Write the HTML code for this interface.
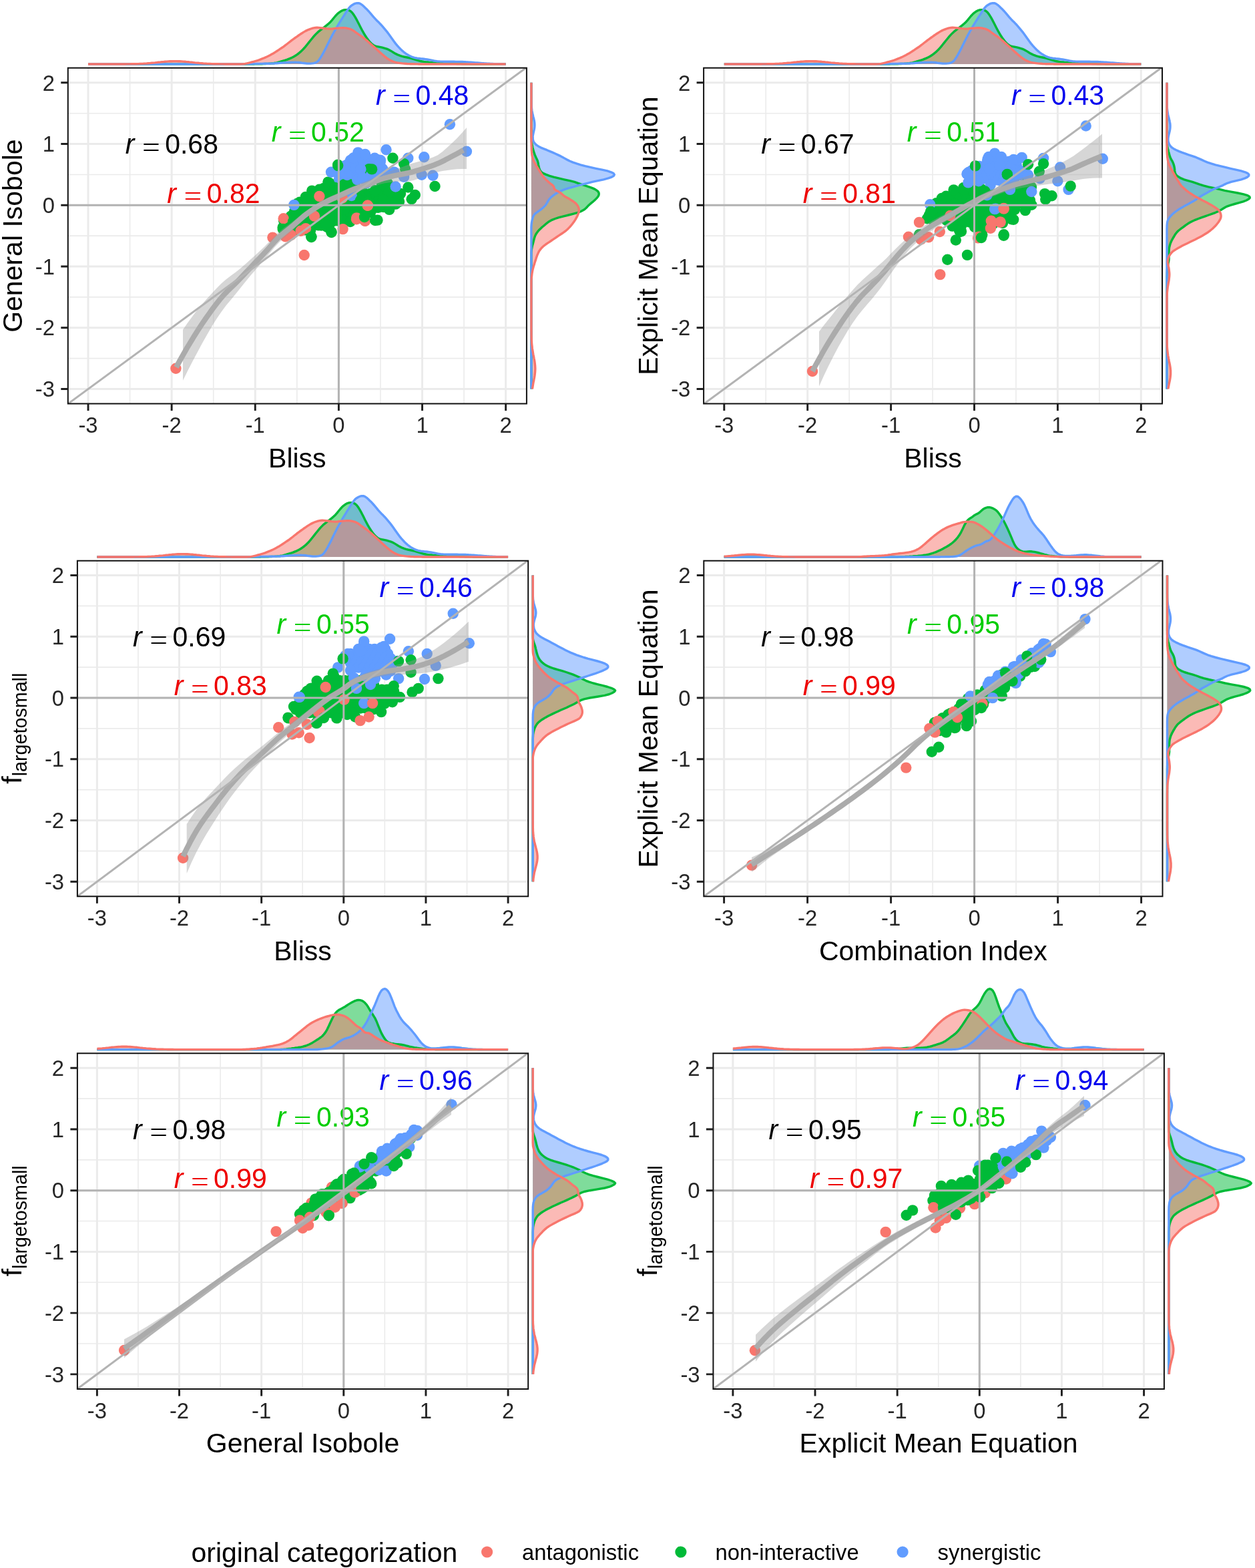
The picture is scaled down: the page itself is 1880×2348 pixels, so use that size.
<!DOCTYPE html>
<html><head><meta charset="utf-8"><title>Correlation of synergy scores</title><style>html,body{margin:0;padding:0;background:#fff;}svg{display:block;}</style></head><body>
<svg xmlns="http://www.w3.org/2000/svg" width="1880" height="2348" viewBox="0 0 1880 2348" font-family="'Liberation Sans', Arial, Helvetica, sans-serif">
<rect width="1880" height="2348" fill="#fff"/>
<path d="M132,96 L132,96 134.5,96 137,96 139.5,96 142,96 144.6,96 147.1,96 149.6,96 152.1,96 154.6,96 157.1,96 159.6,96 162.1,96 164.6,96 167.1,96 169.6,96 172.1,96 174.6,96 177.1,96 179.6,96 182.1,96 184.6,96 187.1,96 189.6,96 192.1,96 194.6,96 197.1,96 199.6,96 202.1,96 204.6,96 207.1,96 209.6,96 212.1,96 214.6,96 217.1,96 219.6,96 222.1,96 224.6,96 227.1,96 229.6,96 232.1,96 234.6,96 237.1,96 239.6,96 242.1,96 244.6,96 247.2,96 249.7,96 252.2,96 254.7,96 257.2,96 259.7,96 262.2,96 264.7,96 267.2,96 269.7,96 272.2,96 274.7,96 277.2,96 279.7,96 282.2,96 284.7,96 287.2,96 289.7,96 292.2,96 294.7,96 297.2,96 299.7,96 302.2,96 304.7,96 307.2,96 309.7,96 312.2,96 314.7,96 317.2,96 319.7,96 322.2,96 324.7,96 327.2,96 329.7,96 332.2,96 334.7,96 337.2,96 339.7,96 342.2,96 344.7,96 347.2,96 349.7,96 352.3,96 354.8,96 357.3,96 359.8,96 362.3,96 364.8,96 367.3,96 369.8,96 372.3,96 374.8,96 377.3,96 379.8,96 382.3,95.9 384.8,95.9 387.3,95.8 389.8,95.8 392.3,95.7 394.8,95.6 397.3,95.5 399.8,95.4 402.3,95.3 404.8,95.1 407.3,94.9 409.8,94.7 412.3,94.3 414.8,93.8 417.3,93.1 419.8,92.4 422.3,91.6 424.8,90.9 427.3,90.2 429.8,89.4 432.3,88.4 434.8,87.4 437.3,86.2 439.8,84.9 442.3,83.5 444.8,81.8 447.3,80 449.8,77.9 452.3,75.6 454.8,73 457.4,70.1 459.9,67 462.4,63.9 464.9,60.8 467.4,57.7 469.9,54.7 472.4,51.9 474.9,49.4 477.4,47.1 479.9,45.1 482.4,43.2 484.9,41.3 487.4,39.3 489.9,37.4 492.4,35.3 494.9,32.9 497.4,30.1 499.9,27 502.4,24 504.9,21.3 507.4,19.1 509.9,17.3 512.4,15.9 514.9,15 517.4,14.6 519.9,14.6 522.4,15.2 524.9,16.5 527.4,18.8 529.9,22.1 532.4,26.2 534.9,30.7 537.4,35.6 539.9,40.5 542.4,45.2 544.9,49.7 547.4,53.8 549.9,57.6 552.4,60.9 554.9,63.8 557.4,66.2 560,68 562.5,69.1 565,69.7 567.5,70.2 570,70.7 572.5,71.2 575,71.9 577.5,72.6 580,73.4 582.5,74.5 585,75.9 587.5,77.4 590,79 592.5,80.4 595,81.6 597.5,82.7 600,83.6 602.5,84.4 605,85 607.5,85.5 610,86 612.5,86.5 615,87.2 617.5,87.9 620,88.7 622.5,89.4 625,90.1 627.5,90.8 630,91.5 632.5,92 635,92.4 637.5,92.7 640,92.9 642.5,93.2 645,93.4 647.5,93.6 650,93.8 652.5,94.1 655,94.3 657.5,94.4 660,94.6 662.5,94.7 665.1,94.8 667.6,94.9 670.1,95 672.6,95.1 675.1,95.2 677.6,95.3 680.1,95.3 682.6,95.4 685.1,95.5 687.6,95.5 690.1,95.6 692.6,95.7 695.1,95.7 697.6,95.8 700.1,95.9 702.6,95.9 705.1,96 707.6,96 710.1,96 712.6,96 715.1,96 717.6,96 720.1,96 722.6,96 725.1,96 727.6,96 730.1,96 732.6,96 735.1,96 737.6,96 740.1,96 742.6,96 745.1,96 747.6,96 750.1,96 752.6,96 755.1,96 757.6,96 L757.6,96 Z" fill="#00BA38" fill-opacity="0.5" stroke="none"/>
<path d="M132,96 L132,96 134.5,96 137,96 139.5,96 142,96 144.6,96 147.1,96 149.6,96 152.1,96 154.6,96 157.1,96 159.6,96 162.1,96 164.6,96 167.1,96 169.6,96 172.1,96 174.6,96 177.1,96 179.6,96 182.1,96 184.6,96 187.1,96 189.6,96 192.1,96 194.6,96 197.1,96 199.6,96 202.1,96 204.6,96 207.1,96 209.6,96 212.1,96 214.6,96 217.1,96 219.6,96 222.1,96 224.6,96 227.1,96 229.6,96 232.1,96 234.6,96 237.1,96 239.6,96 242.1,96 244.6,96 247.2,96 249.7,96 252.2,96 254.7,96 257.2,96 259.7,96 262.2,96 264.7,96 267.2,96 269.7,96 272.2,96 274.7,96 277.2,96 279.7,96 282.2,96 284.7,96 287.2,96 289.7,96 292.2,96 294.7,96 297.2,96 299.7,96 302.2,96 304.7,96 307.2,96 309.7,96 312.2,96 314.7,96 317.2,96 319.7,96 322.2,96 324.7,96 327.2,96 329.7,96 332.2,96 334.7,96 337.2,96 339.7,96 342.2,96 344.7,96 347.2,96 349.7,96 352.3,96 354.8,96 357.3,96 359.8,96 362.3,96 364.8,96 367.3,95.9 369.8,95.9 372.3,95.8 374.8,95.7 377.3,95.7 379.8,95.6 382.3,95.6 384.8,95.5 387.3,95.5 389.8,95.4 392.3,95.4 394.8,95.3 397.3,95.3 399.8,95.3 402.3,95.2 404.8,95.1 407.3,95.1 409.8,95 412.3,94.9 414.8,94.7 417.3,94.5 419.8,94.3 422.3,94.1 424.8,93.9 427.3,93.7 429.8,93.6 432.3,93.5 434.8,93.5 437.3,93.4 439.8,93.4 442.3,93.3 444.8,93.4 447.3,93.5 449.8,93.8 452.3,94.2 454.8,94.5 457.4,94.8 459.9,95 462.4,95.1 464.9,95.1 467.4,94.9 469.9,94.6 472.4,94 474.9,92.7 477.4,90.4 479.9,86.8 482.4,82.6 484.9,78.1 487.4,73.4 489.9,68.3 492.4,63.2 494.9,58.2 497.4,53.4 499.9,48.8 502.4,44.3 504.9,40 507.4,35.8 509.9,31.8 512.4,27.8 514.9,23.9 517.4,20 519.9,16.1 522.4,12.5 524.9,9.7 527.4,7.7 529.9,6.2 532.4,5.2 534.9,4.6 537.4,4.7 539.9,5.6 542.4,7.3 544.9,9.5 547.4,11.9 549.9,14.3 552.4,17 554.9,19.9 557.4,22.9 560,25.9 562.5,28.6 565,31.2 567.5,33.6 570,36.2 572.5,38.9 575,41.8 577.5,44.8 580,47.9 582.5,51.2 585,54.7 587.5,58.3 590,61.8 592.5,65.1 595,68.1 597.5,70.9 600,73.5 602.5,75.9 605,78 607.5,79.9 610,81.6 612.5,83 615,84.3 617.5,85.3 620,86.2 622.5,86.8 625,87.2 627.5,87.5 630,87.8 632.5,88 635,88.3 637.5,88.6 640,89 642.5,89.4 645,89.9 647.5,90.4 650,91 652.5,91.4 655,91.8 657.5,91.9 660,92.1 662.5,92.1 665.1,92.2 667.6,92.3 670.1,92.3 672.6,92.3 675.1,92.3 677.6,92.3 680.1,92.3 682.6,92.4 685.1,92.4 687.6,92.4 690.1,92.4 692.6,92.5 695.1,92.6 697.6,92.8 700.1,92.9 702.6,93.1 705.1,93.3 707.6,93.5 710.1,93.7 712.6,93.9 715.1,94 717.6,94.2 720.1,94.4 722.6,94.6 725.1,94.8 727.6,94.9 730.1,95.1 732.6,95.2 735.1,95.4 737.6,95.5 740.1,95.6 742.6,95.7 745.1,95.8 747.6,95.8 750.1,95.9 752.6,95.9 755.1,96 757.6,96 L757.6,96 Z" fill="#619CFF" fill-opacity="0.5" stroke="none"/>
<path d="M132,96 L132,96 134.5,96 137,96 139.5,96 142,96 144.6,96 147.1,96 149.6,96 152.1,96 154.6,96 157.1,96 159.6,96 162.1,96 164.6,96 167.1,96 169.6,96 172.1,96 174.6,96 177.1,96 179.6,96 182.1,96 184.6,96 187.1,96 189.6,95.9 192.1,95.9 194.6,95.9 197.1,95.8 199.6,95.8 202.1,95.8 204.6,95.7 207.1,95.6 209.6,95.5 212.1,95.4 214.6,95.3 217.1,95.1 219.6,95 222.1,94.8 224.6,94.6 227.1,94.3 229.6,94.1 232.1,93.9 234.6,93.6 237.1,93.3 239.6,93.1 242.1,92.8 244.6,92.6 247.2,92.3 249.7,92.1 252.2,91.9 254.7,91.8 257.2,91.7 259.7,91.6 262.2,91.6 264.7,91.6 267.2,91.7 269.7,91.8 272.2,91.9 274.7,92.1 277.2,92.3 279.7,92.6 282.2,92.8 284.7,93.1 287.2,93.3 289.7,93.6 292.2,93.9 294.7,94.1 297.2,94.3 299.7,94.6 302.2,94.8 304.7,95 307.2,95.1 309.7,95.3 312.2,95.4 314.7,95.5 317.2,95.6 319.7,95.7 322.2,95.8 324.7,95.8 327.2,95.8 329.7,95.9 332.2,95.9 334.7,95.9 337.2,96 339.7,96 342.2,96 344.7,96 347.2,96 349.7,96 352.3,96 354.8,96 357.3,96 359.8,96 362.3,95.9 364.8,95.7 367.3,95.4 369.8,94.9 372.3,94.3 374.8,93.7 377.3,93 379.8,92.3 382.3,91.6 384.8,90.9 387.3,90.1 389.8,89.2 392.3,88.2 394.8,87.2 397.3,86.1 399.8,85 402.3,83.8 404.8,82.5 407.3,81.1 409.8,79.7 412.3,78.1 414.8,76.5 417.3,74.9 419.8,73.2 422.3,71.5 424.8,69.8 427.3,67.9 429.8,66 432.3,64 434.8,62.1 437.3,60.1 439.8,58.3 442.3,56.5 444.8,54.8 447.3,53 449.8,51.3 452.3,49.7 454.8,48.1 457.4,46.6 459.9,45.4 462.4,44.3 464.9,43.3 467.4,42.5 469.9,41.9 472.4,41.5 474.9,41.3 477.4,41.4 479.9,41.7 482.4,42 484.9,42.3 487.4,42.6 489.9,42.9 492.4,43.1 494.9,43.2 497.4,43.1 499.9,42.8 502.4,42.5 504.9,42.3 507.4,42.1 509.9,41.9 512.4,41.8 514.9,41.8 517.4,41.9 519.9,42.3 522.4,42.8 524.9,43.6 527.4,44.7 529.9,46.2 532.4,48.1 534.9,49.9 537.4,51.6 539.9,53.3 542.4,55 544.9,57 547.4,59 549.9,61.1 552.4,63.3 554.9,65.5 557.4,67.8 560,70 562.5,72.3 565,74.6 567.5,76.9 570,79.1 572.5,81.3 575,83.4 577.5,85.5 580,87.3 582.5,89 585,90.4 587.5,91.6 590,92.5 592.5,93.3 595,93.8 597.5,94.3 600,94.6 602.5,94.9 605,95.1 607.5,95.3 610,95.5 612.5,95.6 615,95.7 617.5,95.8 620,95.8 622.5,95.9 625,95.9 627.5,96 630,96 632.5,96 635,96 637.5,96 640,96 642.5,96 645,96 647.5,96 650,96 652.5,96 655,96 657.5,96 660,96 662.5,96 665.1,96 667.6,96 670.1,96 672.6,96 675.1,96 677.6,96 680.1,96 682.6,96 685.1,96 687.6,96 690.1,96 692.6,96 695.1,96 697.6,96 700.1,96 702.6,96 705.1,96 707.6,96 710.1,96 712.6,96 715.1,96 717.6,96 720.1,96 722.6,96 725.1,96 727.6,96 730.1,96 732.6,96 735.1,96 737.6,96 740.1,96 742.6,96 745.1,96 747.6,96 750.1,96 752.6,96 755.1,96 757.6,96 L757.6,96 Z" fill="#F8766D" fill-opacity="0.5" stroke="none"/>
<path d="M132,96 L134.5,96 L137,96 L139.5,96 L142,96 L144.6,96 L147.1,96 L149.6,96 L152.1,96 L154.6,96 L157.1,96 L159.6,96 L162.1,96 L164.6,96 L167.1,96 L169.6,96 L172.1,96 L174.6,96 L177.1,96 L179.6,96 L182.1,96 L184.6,96 L187.1,96 L189.6,96 L192.1,96 L194.6,96 L197.1,96 L199.6,96 L202.1,96 L204.6,96 L207.1,96 L209.6,96 L212.1,96 L214.6,96 L217.1,96 L219.6,96 L222.1,96 L224.6,96 L227.1,96 L229.6,96 L232.1,96 L234.6,96 L237.1,96 L239.6,96 L242.1,96 L244.6,96 L247.2,96 L249.7,96 L252.2,96 L254.7,96 L257.2,96 L259.7,96 L262.2,96 L264.7,96 L267.2,96 L269.7,96 L272.2,96 L274.7,96 L277.2,96 L279.7,96 L282.2,96 L284.7,96 L287.2,96 L289.7,96 L292.2,96 L294.7,96 L297.2,96 L299.7,96 L302.2,96 L304.7,96 L307.2,96 L309.7,96 L312.2,96 L314.7,96 L317.2,96 L319.7,96 L322.2,96 L324.7,96 L327.2,96 L329.7,96 L332.2,96 L334.7,96 L337.2,96 L339.7,96 L342.2,96 L344.7,96 L347.2,96 L349.7,96 L352.3,96 L354.8,96 L357.3,96 L359.8,96 L362.3,96 L364.8,96 L367.3,96 L369.8,96 L372.3,96 L374.8,96 L377.3,96 L379.8,96 L382.3,95.9 L384.8,95.9 L387.3,95.8 L389.8,95.8 L392.3,95.7 L394.8,95.6 L397.3,95.5 L399.8,95.4 L402.3,95.3 L404.8,95.1 L407.3,94.9 L409.8,94.7 L412.3,94.3 L414.8,93.8 L417.3,93.1 L419.8,92.4 L422.3,91.6 L424.8,90.9 L427.3,90.2 L429.8,89.4 L432.3,88.4 L434.8,87.4 L437.3,86.2 L439.8,84.9 L442.3,83.5 L444.8,81.8 L447.3,80 L449.8,77.9 L452.3,75.6 L454.8,73 L457.4,70.1 L459.9,67 L462.4,63.9 L464.9,60.8 L467.4,57.7 L469.9,54.7 L472.4,51.9 L474.9,49.4 L477.4,47.1 L479.9,45.1 L482.4,43.2 L484.9,41.3 L487.4,39.3 L489.9,37.4 L492.4,35.3 L494.9,32.9 L497.4,30.1 L499.9,27 L502.4,24 L504.9,21.3 L507.4,19.1 L509.9,17.3 L512.4,15.9 L514.9,15 L517.4,14.6 L519.9,14.6 L522.4,15.2 L524.9,16.5 L527.4,18.8 L529.9,22.1 L532.4,26.2 L534.9,30.7 L537.4,35.6 L539.9,40.5 L542.4,45.2 L544.9,49.7 L547.4,53.8 L549.9,57.6 L552.4,60.9 L554.9,63.8 L557.4,66.2 L560,68 L562.5,69.1 L565,69.7 L567.5,70.2 L570,70.7 L572.5,71.2 L575,71.9 L577.5,72.6 L580,73.4 L582.5,74.5 L585,75.9 L587.5,77.4 L590,79 L592.5,80.4 L595,81.6 L597.5,82.7 L600,83.6 L602.5,84.4 L605,85 L607.5,85.5 L610,86 L612.5,86.5 L615,87.2 L617.5,87.9 L620,88.7 L622.5,89.4 L625,90.1 L627.5,90.8 L630,91.5 L632.5,92 L635,92.4 L637.5,92.7 L640,92.9 L642.5,93.2 L645,93.4 L647.5,93.6 L650,93.8 L652.5,94.1 L655,94.3 L657.5,94.4 L660,94.6 L662.5,94.7 L665.1,94.8 L667.6,94.9 L670.1,95 L672.6,95.1 L675.1,95.2 L677.6,95.3 L680.1,95.3 L682.6,95.4 L685.1,95.5 L687.6,95.5 L690.1,95.6 L692.6,95.7 L695.1,95.7 L697.6,95.8 L700.1,95.9 L702.6,95.9 L705.1,96 L707.6,96 L710.1,96 L712.6,96 L715.1,96 L717.6,96 L720.1,96 L722.6,96 L725.1,96 L727.6,96 L730.1,96 L732.6,96 L735.1,96 L737.6,96 L740.1,96 L742.6,96 L745.1,96 L747.6,96 L750.1,96 L752.6,96 L755.1,96 L757.6,96" fill="none" stroke="#00BA38" stroke-width="3.4" stroke-linejoin="round"/>
<path d="M132,96 L134.5,96 L137,96 L139.5,96 L142,96 L144.6,96 L147.1,96 L149.6,96 L152.1,96 L154.6,96 L157.1,96 L159.6,96 L162.1,96 L164.6,96 L167.1,96 L169.6,96 L172.1,96 L174.6,96 L177.1,96 L179.6,96 L182.1,96 L184.6,96 L187.1,96 L189.6,96 L192.1,96 L194.6,96 L197.1,96 L199.6,96 L202.1,96 L204.6,96 L207.1,96 L209.6,96 L212.1,96 L214.6,96 L217.1,96 L219.6,96 L222.1,96 L224.6,96 L227.1,96 L229.6,96 L232.1,96 L234.6,96 L237.1,96 L239.6,96 L242.1,96 L244.6,96 L247.2,96 L249.7,96 L252.2,96 L254.7,96 L257.2,96 L259.7,96 L262.2,96 L264.7,96 L267.2,96 L269.7,96 L272.2,96 L274.7,96 L277.2,96 L279.7,96 L282.2,96 L284.7,96 L287.2,96 L289.7,96 L292.2,96 L294.7,96 L297.2,96 L299.7,96 L302.2,96 L304.7,96 L307.2,96 L309.7,96 L312.2,96 L314.7,96 L317.2,96 L319.7,96 L322.2,96 L324.7,96 L327.2,96 L329.7,96 L332.2,96 L334.7,96 L337.2,96 L339.7,96 L342.2,96 L344.7,96 L347.2,96 L349.7,96 L352.3,96 L354.8,96 L357.3,96 L359.8,96 L362.3,96 L364.8,96 L367.3,95.9 L369.8,95.9 L372.3,95.8 L374.8,95.7 L377.3,95.7 L379.8,95.6 L382.3,95.6 L384.8,95.5 L387.3,95.5 L389.8,95.4 L392.3,95.4 L394.8,95.3 L397.3,95.3 L399.8,95.3 L402.3,95.2 L404.8,95.1 L407.3,95.1 L409.8,95 L412.3,94.9 L414.8,94.7 L417.3,94.5 L419.8,94.3 L422.3,94.1 L424.8,93.9 L427.3,93.7 L429.8,93.6 L432.3,93.5 L434.8,93.5 L437.3,93.4 L439.8,93.4 L442.3,93.3 L444.8,93.4 L447.3,93.5 L449.8,93.8 L452.3,94.2 L454.8,94.5 L457.4,94.8 L459.9,95 L462.4,95.1 L464.9,95.1 L467.4,94.9 L469.9,94.6 L472.4,94 L474.9,92.7 L477.4,90.4 L479.9,86.8 L482.4,82.6 L484.9,78.1 L487.4,73.4 L489.9,68.3 L492.4,63.2 L494.9,58.2 L497.4,53.4 L499.9,48.8 L502.4,44.3 L504.9,40 L507.4,35.8 L509.9,31.8 L512.4,27.8 L514.9,23.9 L517.4,20 L519.9,16.1 L522.4,12.5 L524.9,9.7 L527.4,7.7 L529.9,6.2 L532.4,5.2 L534.9,4.6 L537.4,4.7 L539.9,5.6 L542.4,7.3 L544.9,9.5 L547.4,11.9 L549.9,14.3 L552.4,17 L554.9,19.9 L557.4,22.9 L560,25.9 L562.5,28.6 L565,31.2 L567.5,33.6 L570,36.2 L572.5,38.9 L575,41.8 L577.5,44.8 L580,47.9 L582.5,51.2 L585,54.7 L587.5,58.3 L590,61.8 L592.5,65.1 L595,68.1 L597.5,70.9 L600,73.5 L602.5,75.9 L605,78 L607.5,79.9 L610,81.6 L612.5,83 L615,84.3 L617.5,85.3 L620,86.2 L622.5,86.8 L625,87.2 L627.5,87.5 L630,87.8 L632.5,88 L635,88.3 L637.5,88.6 L640,89 L642.5,89.4 L645,89.9 L647.5,90.4 L650,91 L652.5,91.4 L655,91.8 L657.5,91.9 L660,92.1 L662.5,92.1 L665.1,92.2 L667.6,92.3 L670.1,92.3 L672.6,92.3 L675.1,92.3 L677.6,92.3 L680.1,92.3 L682.6,92.4 L685.1,92.4 L687.6,92.4 L690.1,92.4 L692.6,92.5 L695.1,92.6 L697.6,92.8 L700.1,92.9 L702.6,93.1 L705.1,93.3 L707.6,93.5 L710.1,93.7 L712.6,93.9 L715.1,94 L717.6,94.2 L720.1,94.4 L722.6,94.6 L725.1,94.8 L727.6,94.9 L730.1,95.1 L732.6,95.2 L735.1,95.4 L737.6,95.5 L740.1,95.6 L742.6,95.7 L745.1,95.8 L747.6,95.8 L750.1,95.9 L752.6,95.9 L755.1,96 L757.6,96" fill="none" stroke="#619CFF" stroke-width="3.4" stroke-linejoin="round"/>
<path d="M132,96 L134.5,96 L137,96 L139.5,96 L142,96 L144.6,96 L147.1,96 L149.6,96 L152.1,96 L154.6,96 L157.1,96 L159.6,96 L162.1,96 L164.6,96 L167.1,96 L169.6,96 L172.1,96 L174.6,96 L177.1,96 L179.6,96 L182.1,96 L184.6,96 L187.1,96 L189.6,95.9 L192.1,95.9 L194.6,95.9 L197.1,95.8 L199.6,95.8 L202.1,95.8 L204.6,95.7 L207.1,95.6 L209.6,95.5 L212.1,95.4 L214.6,95.3 L217.1,95.1 L219.6,95 L222.1,94.8 L224.6,94.6 L227.1,94.3 L229.6,94.1 L232.1,93.9 L234.6,93.6 L237.1,93.3 L239.6,93.1 L242.1,92.8 L244.6,92.6 L247.2,92.3 L249.7,92.1 L252.2,91.9 L254.7,91.8 L257.2,91.7 L259.7,91.6 L262.2,91.6 L264.7,91.6 L267.2,91.7 L269.7,91.8 L272.2,91.9 L274.7,92.1 L277.2,92.3 L279.7,92.6 L282.2,92.8 L284.7,93.1 L287.2,93.3 L289.7,93.6 L292.2,93.9 L294.7,94.1 L297.2,94.3 L299.7,94.6 L302.2,94.8 L304.7,95 L307.2,95.1 L309.7,95.3 L312.2,95.4 L314.7,95.5 L317.2,95.6 L319.7,95.7 L322.2,95.8 L324.7,95.8 L327.2,95.8 L329.7,95.9 L332.2,95.9 L334.7,95.9 L337.2,96 L339.7,96 L342.2,96 L344.7,96 L347.2,96 L349.7,96 L352.3,96 L354.8,96 L357.3,96 L359.8,96 L362.3,95.9 L364.8,95.7 L367.3,95.4 L369.8,94.9 L372.3,94.3 L374.8,93.7 L377.3,93 L379.8,92.3 L382.3,91.6 L384.8,90.9 L387.3,90.1 L389.8,89.2 L392.3,88.2 L394.8,87.2 L397.3,86.1 L399.8,85 L402.3,83.8 L404.8,82.5 L407.3,81.1 L409.8,79.7 L412.3,78.1 L414.8,76.5 L417.3,74.9 L419.8,73.2 L422.3,71.5 L424.8,69.8 L427.3,67.9 L429.8,66 L432.3,64 L434.8,62.1 L437.3,60.1 L439.8,58.3 L442.3,56.5 L444.8,54.8 L447.3,53 L449.8,51.3 L452.3,49.7 L454.8,48.1 L457.4,46.6 L459.9,45.4 L462.4,44.3 L464.9,43.3 L467.4,42.5 L469.9,41.9 L472.4,41.5 L474.9,41.3 L477.4,41.4 L479.9,41.7 L482.4,42 L484.9,42.3 L487.4,42.6 L489.9,42.9 L492.4,43.1 L494.9,43.2 L497.4,43.1 L499.9,42.8 L502.4,42.5 L504.9,42.3 L507.4,42.1 L509.9,41.9 L512.4,41.8 L514.9,41.8 L517.4,41.9 L519.9,42.3 L522.4,42.8 L524.9,43.6 L527.4,44.7 L529.9,46.2 L532.4,48.1 L534.9,49.9 L537.4,51.6 L539.9,53.3 L542.4,55 L544.9,57 L547.4,59 L549.9,61.1 L552.4,63.3 L554.9,65.5 L557.4,67.8 L560,70 L562.5,72.3 L565,74.6 L567.5,76.9 L570,79.1 L572.5,81.3 L575,83.4 L577.5,85.5 L580,87.3 L582.5,89 L585,90.4 L587.5,91.6 L590,92.5 L592.5,93.3 L595,93.8 L597.5,94.3 L600,94.6 L602.5,94.9 L605,95.1 L607.5,95.3 L610,95.5 L612.5,95.6 L615,95.7 L617.5,95.8 L620,95.8 L622.5,95.9 L625,95.9 L627.5,96 L630,96 L632.5,96 L635,96 L637.5,96 L640,96 L642.5,96 L645,96 L647.5,96 L650,96 L652.5,96 L655,96 L657.5,96 L660,96 L662.5,96 L665.1,96 L667.6,96 L670.1,96 L672.6,96 L675.1,96 L677.6,96 L680.1,96 L682.6,96 L685.1,96 L687.6,96 L690.1,96 L692.6,96 L695.1,96 L697.6,96 L700.1,96 L702.6,96 L705.1,96 L707.6,96 L710.1,96 L712.6,96 L715.1,96 L717.6,96 L720.1,96 L722.6,96 L725.1,96 L727.6,96 L730.1,96 L732.6,96 L735.1,96 L737.6,96 L740.1,96 L742.6,96 L745.1,96 L747.6,96 L750.1,96 L752.6,96 L755.1,96 L757.6,96" fill="none" stroke="#F8766D" stroke-width="3.4" stroke-linejoin="round"/>
<path d="M795.9,582.5 L795.9,582.5 795.9,580.7 795.9,578.9 795.9,577 795.9,575.2 795.9,573.3 795.9,571.5 795.9,569.7 795.9,567.8 795.9,566 795.9,564.2 795.9,562.3 795.9,560.5 795.9,558.7 795.9,556.8 795.9,555 795.9,553.2 795.9,551.3 795.9,549.5 795.9,547.7 795.9,545.8 795.9,544 795.9,542.2 795.9,540.3 795.9,538.5 795.9,536.6 795.9,534.8 795.9,533 795.9,531.1 795.9,529.3 795.9,527.5 795.9,525.6 795.9,523.8 795.9,522 795.9,520.1 795.9,518.3 795.9,516.5 795.9,514.6 795.9,512.8 795.9,511 795.9,509.1 795.9,507.3 795.9,505.5 795.9,503.6 795.9,501.8 795.9,500 795.9,498.1 795.9,496.3 795.9,494.4 795.9,492.6 795.9,490.8 795.9,488.9 795.9,487.1 795.9,485.3 795.9,483.4 795.9,481.6 795.9,479.8 795.9,477.9 795.9,476.1 795.9,474.3 795.9,472.4 795.9,470.6 795.9,468.8 795.9,466.9 795.9,465.1 795.9,463.3 795.9,461.4 795.9,459.6 795.9,457.8 795.9,455.9 795.9,454.1 795.9,452.2 795.9,450.4 795.9,448.6 795.9,446.7 795.9,444.9 795.9,443.1 795.9,441.2 795.9,439.4 795.9,437.6 795.9,435.7 795.9,433.9 795.9,432.1 795.9,430.2 795.9,428.4 795.9,426.6 795.9,424.7 795.9,422.9 795.9,421.1 795.9,419.2 795.9,417.4 795.9,415.6 795.9,413.7 795.9,411.9 795.9,410 795.9,408.2 795.9,406.4 795.9,404.5 795.9,402.7 795.9,400.9 795.9,399 795.9,397.2 795.9,395.4 795.9,393.5 795.9,391.7 795.9,389.9 795.9,388 795.9,386.2 795.9,384.4 795.9,382.5 795.9,380.7 795.9,378.9 796,377 796.2,375.2 796.4,373.4 796.8,371.5 797.1,369.7 797.5,367.8 798,366 798.5,364.2 799,362.3 799.4,360.5 799.9,358.7 800.4,356.8 801,355 801.7,353.2 802.5,351.3 803.6,349.5 804.9,347.7 806.3,345.8 808,344 809.9,342.2 811.9,340.3 814.1,338.5 816.2,336.7 818.4,334.8 820.7,333 823.4,331.2 826.9,329.3 831.5,327.5 837.3,325.6 844.2,323.8 851.8,322 859.1,320.1 865.5,318.3 870.4,316.5 874,314.6 876.5,312.8 878.5,311 880.2,309.1 882,307.3 884,305.5 886.2,303.6 888.5,301.8 890.6,300 892.5,298.1 894.2,296.3 895.7,294.5 896.8,292.6 897.2,290.8 897.1,289 896.1,287.1 894.2,285.3 891.3,283.4 887.4,281.6 882.4,279.8 876.6,277.9 871,276.1 866,274.3 860.6,272.4 853.5,270.6 845.1,268.8 836.8,266.9 829.4,265.1 823.2,263.3 818,261.4 813.8,259.6 811,257.8 809.5,255.9 808.5,254.1 807.9,252.3 807.4,250.4 807,248.6 806.6,246.8 806.3,244.9 805.9,243.1 805.4,241.2 804.7,239.4 803.8,237.6 802.9,235.7 802.1,233.9 801.3,232.1 800.6,230.2 800,228.4 799.4,226.6 798.9,224.7 798.4,222.9 797.9,221.1 797.5,219.2 797.2,217.4 796.9,215.6 796.7,213.7 796.5,211.9 796.4,210.1 796.3,208.2 796.1,206.4 796,204.6 796,202.7 795.9,200.9 795.9,199 795.9,197.2 795.9,195.4 795.9,193.5 795.9,191.7 795.9,189.9 795.9,188 795.9,186.2 795.9,184.4 795.9,182.5 795.9,180.7 795.9,178.9 795.9,177 795.9,175.2 795.9,173.4 795.9,171.5 795.9,169.7 795.9,167.9 795.9,166 795.9,164.2 795.9,162.4 795.9,160.5 795.9,158.7 795.9,156.8 795.9,155 795.9,153.2 795.9,151.3 795.9,149.5 795.9,147.7 795.9,145.8 795.9,144 795.9,142.2 795.9,140.3 795.9,138.5 795.9,136.7 795.9,134.8 795.9,133 795.9,131.2 795.9,129.3 795.9,127.5 795.9,125.7 795.9,123.8 L795.9,123.8 Z" fill="#00BA38" fill-opacity="0.5" stroke="none"/>
<path d="M795.9,582.5 L795.9,582.5 795.9,580.7 795.9,578.9 795.9,577 795.9,575.2 795.9,573.3 795.9,571.5 795.9,569.7 795.9,567.8 795.9,566 795.9,564.2 795.9,562.3 795.9,560.5 795.9,558.7 795.9,556.8 795.9,555 795.9,553.2 795.9,551.3 795.9,549.5 795.9,547.7 795.9,545.8 795.9,544 795.9,542.2 795.9,540.3 795.9,538.5 795.9,536.6 795.9,534.8 795.9,533 795.9,531.1 795.9,529.3 795.9,527.5 795.9,525.6 795.9,523.8 795.9,522 795.9,520.1 795.9,518.3 795.9,516.5 795.9,514.6 795.9,512.8 795.9,511 795.9,509.1 795.9,507.3 795.9,505.5 795.9,503.6 795.9,501.8 795.9,500 795.9,498.1 795.9,496.3 795.9,494.4 795.9,492.6 795.9,490.8 795.9,488.9 795.9,487.1 795.9,485.3 795.9,483.4 795.9,481.6 795.9,479.8 795.9,477.9 795.9,476.1 795.9,474.3 795.9,472.4 795.9,470.6 795.9,468.8 795.9,466.9 795.9,465.1 795.9,463.3 795.9,461.4 795.9,459.6 795.9,457.8 795.9,455.9 795.9,454.1 795.9,452.2 795.9,450.4 795.9,448.6 795.9,446.7 795.9,444.9 795.9,443.1 795.9,441.2 795.9,439.4 795.9,437.6 795.9,435.7 795.9,433.9 795.9,432.1 795.9,430.2 795.9,428.4 795.9,426.6 795.9,424.7 795.9,422.9 795.9,421.1 795.9,419.2 795.9,417.4 795.9,415.6 795.9,413.7 795.9,411.9 795.9,410 795.9,408.2 795.9,406.4 795.9,404.5 795.9,402.7 795.9,400.9 795.9,399 795.9,397.2 795.9,395.4 795.9,393.5 795.9,391.7 795.9,389.9 795.9,388 795.9,386.2 795.9,384.4 795.9,382.5 795.9,380.7 795.9,378.9 795.9,377 795.9,375.2 795.9,373.4 795.9,371.5 795.9,369.7 795.9,367.8 795.9,366 795.9,364.2 795.9,362.3 795.9,360.5 795.9,358.7 795.9,356.8 795.9,355 795.9,353.2 795.9,351.3 795.9,349.5 795.9,347.7 795.9,345.8 795.9,344 795.9,342.2 795.9,340.3 796,338.5 796.1,336.7 796.3,334.8 796.5,333 796.9,331.2 797.3,329.3 797.7,327.5 798.2,325.6 798.9,323.8 799.9,322 801.5,320.1 803.8,318.3 806.4,316.5 809,314.6 811.3,312.8 813.5,311 815.5,309.1 817.2,307.3 818.5,305.5 819.5,303.6 820.5,301.8 821.6,300 822.9,298.1 824.6,296.3 826.6,294.5 828.9,292.6 831.4,290.8 834.4,289 837.8,287.1 841.8,285.3 846.6,283.4 852.2,281.6 858.7,279.8 865.6,277.9 872.7,276.1 879.8,274.3 887.4,272.4 895.7,270.6 904.1,268.8 911.3,266.9 916.4,265.1 919.4,263.3 920.3,261.4 919,259.6 915.4,257.8 909.7,255.9 901.8,254.1 892.8,252.3 884.1,250.4 876.5,248.6 869.7,246.8 863.6,244.9 858.3,243.1 853.7,241.2 850,239.4 846.7,237.6 843.4,235.7 840,233.9 836.2,232.1 832.2,230.2 828.1,228.4 823.8,226.6 819.3,224.7 814.7,222.9 810.3,221.1 806.7,219.2 804,217.4 801.9,215.6 800.3,213.7 799.2,211.9 798.6,210.1 798.2,208.2 798.1,206.4 798.1,204.6 798.3,202.7 798.7,200.9 799.1,199 799.5,197.2 799.9,195.4 800.3,193.5 800.6,191.7 800.8,189.9 800.9,188 800.9,186.2 800.8,184.4 800.6,182.5 800.2,180.7 799.9,178.9 799.4,177 798.9,175.2 798.5,173.4 798,171.5 797.6,169.7 797.3,167.9 796.9,166 796.7,164.2 796.5,162.4 796.3,160.5 796.2,158.7 796.1,156.8 796,155 796,153.2 796,151.3 795.9,149.5 795.9,147.7 795.9,145.8 795.9,144 795.9,142.2 795.9,140.3 795.9,138.5 795.9,136.7 795.9,134.8 795.9,133 795.9,131.2 795.9,129.3 795.9,127.5 795.9,125.7 795.9,123.8 L795.9,123.8 Z" fill="#619CFF" fill-opacity="0.5" stroke="none"/>
<path d="M795.9,582.5 L797.4,582.5 797.7,580.7 798,578.9 798.3,577 798.6,575.2 798.9,573.3 799.3,571.5 799.7,569.7 800,567.8 800.4,566 800.7,564.2 801,562.3 801.2,560.5 801.4,558.7 801.6,556.8 801.7,555 801.8,553.2 801.8,551.3 801.7,549.5 801.6,547.7 801.4,545.8 801.2,544 801,542.2 800.7,540.3 800.4,538.5 800,536.6 799.7,534.8 799.3,533 798.9,531.1 798.6,529.3 798.3,527.5 798,525.6 797.7,523.8 797.4,522 797.2,520.1 797,518.3 796.8,516.5 796.6,514.6 796.5,512.8 796.4,511 796.3,509.1 796.2,507.3 796.1,505.5 796.1,503.6 796,501.8 796,500 796,498.1 796,496.3 795.9,494.4 795.9,492.6 795.9,490.8 795.9,488.9 795.9,487.1 795.9,485.3 795.9,483.4 795.9,481.6 795.9,479.8 795.9,477.9 795.9,476.1 795.9,474.3 795.9,472.4 795.9,470.6 795.9,468.8 795.9,466.9 795.9,465.1 795.9,463.3 795.9,461.4 795.9,459.6 795.9,457.8 795.9,455.9 795.9,454.1 795.9,452.2 795.9,450.4 795.9,448.6 795.9,446.7 795.9,444.9 795.9,443.1 795.9,441.2 795.9,439.4 795.9,437.6 795.9,435.7 795.9,433.9 795.9,432.1 795.9,430.2 795.9,428.4 795.9,426.6 795.9,424.7 795.9,422.9 795.9,421.1 796,419.2 796.1,417.4 796.3,415.6 796.5,413.7 796.7,411.9 796.9,410 797.2,408.2 797.5,406.4 797.9,404.5 798.3,402.7 798.8,400.9 799.3,399 799.9,397.2 800.5,395.4 801,393.5 801.6,391.7 802.2,389.9 802.8,388 803.3,386.2 804,384.4 804.6,382.5 805.4,380.7 806.2,378.9 807.1,377 808.2,375.2 809.6,373.4 811.1,371.5 812.9,369.7 815.1,367.8 817.5,366 820.2,364.2 823,362.3 825.7,360.5 828.4,358.7 831.1,356.8 833.8,355 836.5,353.2 839.3,351.3 842.1,349.5 844.8,347.7 847.2,345.8 849.4,344 851.3,342.2 853.1,340.3 854.8,338.5 856.3,336.7 857.8,334.8 859.1,333 860.4,331.2 861.6,329.3 862.7,327.5 863.7,325.6 864.7,323.8 865.5,322 866.2,320.1 866.8,318.3 867.2,316.5 867.4,314.6 867.2,312.8 866.7,311 865.9,309.1 864.9,307.3 863.4,305.5 861.4,303.6 859,301.8 856.2,300 853.2,298.1 850,296.3 846.7,294.5 844,292.6 842,290.8 840,289 837,287.1 833.3,285.3 830.8,283.4 830.1,281.6 829.7,279.8 828.3,277.9 826.2,276.1 823.8,274.3 821.6,272.4 819.6,270.6 817.7,268.8 815.9,266.9 814.3,265.1 813,263.3 811.7,261.4 810.6,259.6 809.4,257.8 808.3,255.9 807.1,254.1 805.9,252.3 804.8,250.4 803.7,248.6 802.6,246.8 801.6,244.9 800.6,243.1 799.7,241.2 799,239.4 798.3,237.6 797.7,235.7 797.3,233.9 797,232.1 796.8,230.2 796.6,228.4 796.5,226.6 796.3,224.7 796.2,222.9 796.2,221.1 796.1,219.2 796.1,217.4 796,215.6 796,213.7 795.9,211.9 795.9,210.1 795.9,208.2 795.9,206.4 795.9,204.6 795.9,202.7 795.9,200.9 795.9,199 795.9,197.2 795.9,195.4 795.9,193.5 795.9,191.7 795.9,189.9 795.9,188 795.9,186.2 795.9,184.4 795.9,182.5 795.9,180.7 795.9,178.9 795.9,177 795.9,175.2 795.9,173.4 795.9,171.5 795.9,169.7 795.9,167.9 795.9,166 795.9,164.2 795.9,162.4 795.9,160.5 795.9,158.7 795.9,156.8 795.9,155 795.9,153.2 795.9,151.3 795.9,149.5 795.9,147.7 795.9,145.8 795.9,144 795.9,142.2 795.9,140.3 795.9,138.5 795.9,136.7 795.9,134.8 795.9,133 795.9,131.2 795.9,129.3 795.9,127.5 795.9,125.7 795.9,123.8 L795.9,123.8 Z" fill="#F8766D" fill-opacity="0.5" stroke="none"/>
<path d="M795.9,582.5 L795.9,580.7 L795.9,578.9 L795.9,577 L795.9,575.2 L795.9,573.3 L795.9,571.5 L795.9,569.7 L795.9,567.8 L795.9,566 L795.9,564.2 L795.9,562.3 L795.9,560.5 L795.9,558.7 L795.9,556.8 L795.9,555 L795.9,553.2 L795.9,551.3 L795.9,549.5 L795.9,547.7 L795.9,545.8 L795.9,544 L795.9,542.2 L795.9,540.3 L795.9,538.5 L795.9,536.6 L795.9,534.8 L795.9,533 L795.9,531.1 L795.9,529.3 L795.9,527.5 L795.9,525.6 L795.9,523.8 L795.9,522 L795.9,520.1 L795.9,518.3 L795.9,516.5 L795.9,514.6 L795.9,512.8 L795.9,511 L795.9,509.1 L795.9,507.3 L795.9,505.5 L795.9,503.6 L795.9,501.8 L795.9,500 L795.9,498.1 L795.9,496.3 L795.9,494.4 L795.9,492.6 L795.9,490.8 L795.9,488.9 L795.9,487.1 L795.9,485.3 L795.9,483.4 L795.9,481.6 L795.9,479.8 L795.9,477.9 L795.9,476.1 L795.9,474.3 L795.9,472.4 L795.9,470.6 L795.9,468.8 L795.9,466.9 L795.9,465.1 L795.9,463.3 L795.9,461.4 L795.9,459.6 L795.9,457.8 L795.9,455.9 L795.9,454.1 L795.9,452.2 L795.9,450.4 L795.9,448.6 L795.9,446.7 L795.9,444.9 L795.9,443.1 L795.9,441.2 L795.9,439.4 L795.9,437.6 L795.9,435.7 L795.9,433.9 L795.9,432.1 L795.9,430.2 L795.9,428.4 L795.9,426.6 L795.9,424.7 L795.9,422.9 L795.9,421.1 L795.9,419.2 L795.9,417.4 L795.9,415.6 L795.9,413.7 L795.9,411.9 L795.9,410 L795.9,408.2 L795.9,406.4 L795.9,404.5 L795.9,402.7 L795.9,400.9 L795.9,399 L795.9,397.2 L795.9,395.4 L795.9,393.5 L795.9,391.7 L795.9,389.9 L795.9,388 L795.9,386.2 L795.9,384.4 L795.9,382.5 L795.9,380.7 L795.9,378.9 L796,377 L796.2,375.2 L796.4,373.4 L796.8,371.5 L797.1,369.7 L797.5,367.8 L798,366 L798.5,364.2 L799,362.3 L799.4,360.5 L799.9,358.7 L800.4,356.8 L801,355 L801.7,353.2 L802.5,351.3 L803.6,349.5 L804.9,347.7 L806.3,345.8 L808,344 L809.9,342.2 L811.9,340.3 L814.1,338.5 L816.2,336.7 L818.4,334.8 L820.7,333 L823.4,331.2 L826.9,329.3 L831.5,327.5 L837.3,325.6 L844.2,323.8 L851.8,322 L859.1,320.1 L865.5,318.3 L870.4,316.5 L874,314.6 L876.5,312.8 L878.5,311 L880.2,309.1 L882,307.3 L884,305.5 L886.2,303.6 L888.5,301.8 L890.6,300 L892.5,298.1 L894.2,296.3 L895.7,294.5 L896.8,292.6 L897.2,290.8 L897.1,289 L896.1,287.1 L894.2,285.3 L891.3,283.4 L887.4,281.6 L882.4,279.8 L876.6,277.9 L871,276.1 L866,274.3 L860.6,272.4 L853.5,270.6 L845.1,268.8 L836.8,266.9 L829.4,265.1 L823.2,263.3 L818,261.4 L813.8,259.6 L811,257.8 L809.5,255.9 L808.5,254.1 L807.9,252.3 L807.4,250.4 L807,248.6 L806.6,246.8 L806.3,244.9 L805.9,243.1 L805.4,241.2 L804.7,239.4 L803.8,237.6 L802.9,235.7 L802.1,233.9 L801.3,232.1 L800.6,230.2 L800,228.4 L799.4,226.6 L798.9,224.7 L798.4,222.9 L797.9,221.1 L797.5,219.2 L797.2,217.4 L796.9,215.6 L796.7,213.7 L796.5,211.9 L796.4,210.1 L796.3,208.2 L796.1,206.4 L796,204.6 L796,202.7 L795.9,200.9 L795.9,199 L795.9,197.2 L795.9,195.4 L795.9,193.5 L795.9,191.7 L795.9,189.9 L795.9,188 L795.9,186.2 L795.9,184.4 L795.9,182.5 L795.9,180.7 L795.9,178.9 L795.9,177 L795.9,175.2 L795.9,173.4 L795.9,171.5 L795.9,169.7 L795.9,167.9 L795.9,166 L795.9,164.2 L795.9,162.4 L795.9,160.5 L795.9,158.7 L795.9,156.8 L795.9,155 L795.9,153.2 L795.9,151.3 L795.9,149.5 L795.9,147.7 L795.9,145.8 L795.9,144 L795.9,142.2 L795.9,140.3 L795.9,138.5 L795.9,136.7 L795.9,134.8 L795.9,133 L795.9,131.2 L795.9,129.3 L795.9,127.5 L795.9,125.7 L795.9,123.8" fill="none" stroke="#00BA38" stroke-width="3.4" stroke-linejoin="round"/>
<path d="M795.9,582.5 L795.9,580.7 L795.9,578.9 L795.9,577 L795.9,575.2 L795.9,573.3 L795.9,571.5 L795.9,569.7 L795.9,567.8 L795.9,566 L795.9,564.2 L795.9,562.3 L795.9,560.5 L795.9,558.7 L795.9,556.8 L795.9,555 L795.9,553.2 L795.9,551.3 L795.9,549.5 L795.9,547.7 L795.9,545.8 L795.9,544 L795.9,542.2 L795.9,540.3 L795.9,538.5 L795.9,536.6 L795.9,534.8 L795.9,533 L795.9,531.1 L795.9,529.3 L795.9,527.5 L795.9,525.6 L795.9,523.8 L795.9,522 L795.9,520.1 L795.9,518.3 L795.9,516.5 L795.9,514.6 L795.9,512.8 L795.9,511 L795.9,509.1 L795.9,507.3 L795.9,505.5 L795.9,503.6 L795.9,501.8 L795.9,500 L795.9,498.1 L795.9,496.3 L795.9,494.4 L795.9,492.6 L795.9,490.8 L795.9,488.9 L795.9,487.1 L795.9,485.3 L795.9,483.4 L795.9,481.6 L795.9,479.8 L795.9,477.9 L795.9,476.1 L795.9,474.3 L795.9,472.4 L795.9,470.6 L795.9,468.8 L795.9,466.9 L795.9,465.1 L795.9,463.3 L795.9,461.4 L795.9,459.6 L795.9,457.8 L795.9,455.9 L795.9,454.1 L795.9,452.2 L795.9,450.4 L795.9,448.6 L795.9,446.7 L795.9,444.9 L795.9,443.1 L795.9,441.2 L795.9,439.4 L795.9,437.6 L795.9,435.7 L795.9,433.9 L795.9,432.1 L795.9,430.2 L795.9,428.4 L795.9,426.6 L795.9,424.7 L795.9,422.9 L795.9,421.1 L795.9,419.2 L795.9,417.4 L795.9,415.6 L795.9,413.7 L795.9,411.9 L795.9,410 L795.9,408.2 L795.9,406.4 L795.9,404.5 L795.9,402.7 L795.9,400.9 L795.9,399 L795.9,397.2 L795.9,395.4 L795.9,393.5 L795.9,391.7 L795.9,389.9 L795.9,388 L795.9,386.2 L795.9,384.4 L795.9,382.5 L795.9,380.7 L795.9,378.9 L795.9,377 L795.9,375.2 L795.9,373.4 L795.9,371.5 L795.9,369.7 L795.9,367.8 L795.9,366 L795.9,364.2 L795.9,362.3 L795.9,360.5 L795.9,358.7 L795.9,356.8 L795.9,355 L795.9,353.2 L795.9,351.3 L795.9,349.5 L795.9,347.7 L795.9,345.8 L795.9,344 L795.9,342.2 L795.9,340.3 L796,338.5 L796.1,336.7 L796.3,334.8 L796.5,333 L796.9,331.2 L797.3,329.3 L797.7,327.5 L798.2,325.6 L798.9,323.8 L799.9,322 L801.5,320.1 L803.8,318.3 L806.4,316.5 L809,314.6 L811.3,312.8 L813.5,311 L815.5,309.1 L817.2,307.3 L818.5,305.5 L819.5,303.6 L820.5,301.8 L821.6,300 L822.9,298.1 L824.6,296.3 L826.6,294.5 L828.9,292.6 L831.4,290.8 L834.4,289 L837.8,287.1 L841.8,285.3 L846.6,283.4 L852.2,281.6 L858.7,279.8 L865.6,277.9 L872.7,276.1 L879.8,274.3 L887.4,272.4 L895.7,270.6 L904.1,268.8 L911.3,266.9 L916.4,265.1 L919.4,263.3 L920.3,261.4 L919,259.6 L915.4,257.8 L909.7,255.9 L901.8,254.1 L892.8,252.3 L884.1,250.4 L876.5,248.6 L869.7,246.8 L863.6,244.9 L858.3,243.1 L853.7,241.2 L850,239.4 L846.7,237.6 L843.4,235.7 L840,233.9 L836.2,232.1 L832.2,230.2 L828.1,228.4 L823.8,226.6 L819.3,224.7 L814.7,222.9 L810.3,221.1 L806.7,219.2 L804,217.4 L801.9,215.6 L800.3,213.7 L799.2,211.9 L798.6,210.1 L798.2,208.2 L798.1,206.4 L798.1,204.6 L798.3,202.7 L798.7,200.9 L799.1,199 L799.5,197.2 L799.9,195.4 L800.3,193.5 L800.6,191.7 L800.8,189.9 L800.9,188 L800.9,186.2 L800.8,184.4 L800.6,182.5 L800.2,180.7 L799.9,178.9 L799.4,177 L798.9,175.2 L798.5,173.4 L798,171.5 L797.6,169.7 L797.3,167.9 L796.9,166 L796.7,164.2 L796.5,162.4 L796.3,160.5 L796.2,158.7 L796.1,156.8 L796,155 L796,153.2 L796,151.3 L795.9,149.5 L795.9,147.7 L795.9,145.8 L795.9,144 L795.9,142.2 L795.9,140.3 L795.9,138.5 L795.9,136.7 L795.9,134.8 L795.9,133 L795.9,131.2 L795.9,129.3 L795.9,127.5 L795.9,125.7 L795.9,123.8" fill="none" stroke="#619CFF" stroke-width="3.4" stroke-linejoin="round"/>
<path d="M797.4,582.5 L797.7,580.7 L798,578.9 L798.3,577 L798.6,575.2 L798.9,573.3 L799.3,571.5 L799.7,569.7 L800,567.8 L800.4,566 L800.7,564.2 L801,562.3 L801.2,560.5 L801.4,558.7 L801.6,556.8 L801.7,555 L801.8,553.2 L801.8,551.3 L801.7,549.5 L801.6,547.7 L801.4,545.8 L801.2,544 L801,542.2 L800.7,540.3 L800.4,538.5 L800,536.6 L799.7,534.8 L799.3,533 L798.9,531.1 L798.6,529.3 L798.3,527.5 L798,525.6 L797.7,523.8 L797.4,522 L797.2,520.1 L797,518.3 L796.8,516.5 L796.6,514.6 L796.5,512.8 L796.4,511 L796.3,509.1 L796.2,507.3 L796.1,505.5 L796.1,503.6 L796,501.8 L796,500 L796,498.1 L796,496.3 L795.9,494.4 L795.9,492.6 L795.9,490.8 L795.9,488.9 L795.9,487.1 L795.9,485.3 L795.9,483.4 L795.9,481.6 L795.9,479.8 L795.9,477.9 L795.9,476.1 L795.9,474.3 L795.9,472.4 L795.9,470.6 L795.9,468.8 L795.9,466.9 L795.9,465.1 L795.9,463.3 L795.9,461.4 L795.9,459.6 L795.9,457.8 L795.9,455.9 L795.9,454.1 L795.9,452.2 L795.9,450.4 L795.9,448.6 L795.9,446.7 L795.9,444.9 L795.9,443.1 L795.9,441.2 L795.9,439.4 L795.9,437.6 L795.9,435.7 L795.9,433.9 L795.9,432.1 L795.9,430.2 L795.9,428.4 L795.9,426.6 L795.9,424.7 L795.9,422.9 L795.9,421.1 L796,419.2 L796.1,417.4 L796.3,415.6 L796.5,413.7 L796.7,411.9 L796.9,410 L797.2,408.2 L797.5,406.4 L797.9,404.5 L798.3,402.7 L798.8,400.9 L799.3,399 L799.9,397.2 L800.5,395.4 L801,393.5 L801.6,391.7 L802.2,389.9 L802.8,388 L803.3,386.2 L804,384.4 L804.6,382.5 L805.4,380.7 L806.2,378.9 L807.1,377 L808.2,375.2 L809.6,373.4 L811.1,371.5 L812.9,369.7 L815.1,367.8 L817.5,366 L820.2,364.2 L823,362.3 L825.7,360.5 L828.4,358.7 L831.1,356.8 L833.8,355 L836.5,353.2 L839.3,351.3 L842.1,349.5 L844.8,347.7 L847.2,345.8 L849.4,344 L851.3,342.2 L853.1,340.3 L854.8,338.5 L856.3,336.7 L857.8,334.8 L859.1,333 L860.4,331.2 L861.6,329.3 L862.7,327.5 L863.7,325.6 L864.7,323.8 L865.5,322 L866.2,320.1 L866.8,318.3 L867.2,316.5 L867.4,314.6 L867.2,312.8 L866.7,311 L865.9,309.1 L864.9,307.3 L863.4,305.5 L861.4,303.6 L859,301.8 L856.2,300 L853.2,298.1 L850,296.3 L846.7,294.5 L844,292.6 L842,290.8 L840,289 L837,287.1 L833.3,285.3 L830.8,283.4 L830.1,281.6 L829.7,279.8 L828.3,277.9 L826.2,276.1 L823.8,274.3 L821.6,272.4 L819.6,270.6 L817.7,268.8 L815.9,266.9 L814.3,265.1 L813,263.3 L811.7,261.4 L810.6,259.6 L809.4,257.8 L808.3,255.9 L807.1,254.1 L805.9,252.3 L804.8,250.4 L803.7,248.6 L802.6,246.8 L801.6,244.9 L800.6,243.1 L799.7,241.2 L799,239.4 L798.3,237.6 L797.7,235.7 L797.3,233.9 L797,232.1 L796.8,230.2 L796.6,228.4 L796.5,226.6 L796.3,224.7 L796.2,222.9 L796.2,221.1 L796.1,219.2 L796.1,217.4 L796,215.6 L796,213.7 L795.9,211.9 L795.9,210.1 L795.9,208.2 L795.9,206.4 L795.9,204.6 L795.9,202.7 L795.9,200.9 L795.9,199 L795.9,197.2 L795.9,195.4 L795.9,193.5 L795.9,191.7 L795.9,189.9 L795.9,188 L795.9,186.2 L795.9,184.4 L795.9,182.5 L795.9,180.7 L795.9,178.9 L795.9,177 L795.9,175.2 L795.9,173.4 L795.9,171.5 L795.9,169.7 L795.9,167.9 L795.9,166 L795.9,164.2 L795.9,162.4 L795.9,160.5 L795.9,158.7 L795.9,156.8 L795.9,155 L795.9,153.2 L795.9,151.3 L795.9,149.5 L795.9,147.7 L795.9,145.8 L795.9,144 L795.9,142.2 L795.9,140.3 L795.9,138.5 L795.9,136.7 L795.9,134.8 L795.9,133 L795.9,131.2 L795.9,129.3 L795.9,127.5 L795.9,125.7 L795.9,123.8" fill="none" stroke="#F8766D" stroke-width="3.4" stroke-linejoin="round"/>
<clipPath id="clip0"><rect x="101.8" y="101.7" width="687.1" height="502.8"/></clipPath>
<g><line x1="194.6" y1="101.7" x2="194.6" y2="604.5" stroke="#EBEBEB" stroke-width="1.6"/><line x1="101.8" y1="536.65" x2="788.9" y2="536.65" stroke="#EBEBEB" stroke-width="1.6"/><line x1="319.72" y1="101.7" x2="319.72" y2="604.5" stroke="#EBEBEB" stroke-width="1.6"/><line x1="101.8" y1="444.91" x2="788.9" y2="444.91" stroke="#EBEBEB" stroke-width="1.6"/><line x1="444.84" y1="101.7" x2="444.84" y2="604.5" stroke="#EBEBEB" stroke-width="1.6"/><line x1="101.8" y1="353.17" x2="788.9" y2="353.17" stroke="#EBEBEB" stroke-width="1.6"/><line x1="569.96" y1="101.7" x2="569.96" y2="604.5" stroke="#EBEBEB" stroke-width="1.6"/><line x1="101.8" y1="261.43" x2="788.9" y2="261.43" stroke="#EBEBEB" stroke-width="1.6"/><line x1="695.08" y1="101.7" x2="695.08" y2="604.5" stroke="#EBEBEB" stroke-width="1.6"/><line x1="101.8" y1="169.69" x2="788.9" y2="169.69" stroke="#EBEBEB" stroke-width="1.6"/><line x1="132.04" y1="101.7" x2="132.04" y2="604.5" stroke="#EBEBEB" stroke-width="3.0"/><line x1="101.8" y1="582.52" x2="788.9" y2="582.52" stroke="#EBEBEB" stroke-width="3.0"/><line x1="257.16" y1="101.7" x2="257.16" y2="604.5" stroke="#EBEBEB" stroke-width="3.0"/><line x1="101.8" y1="490.78" x2="788.9" y2="490.78" stroke="#EBEBEB" stroke-width="3.0"/><line x1="382.28" y1="101.7" x2="382.28" y2="604.5" stroke="#EBEBEB" stroke-width="3.0"/><line x1="101.8" y1="399.04" x2="788.9" y2="399.04" stroke="#EBEBEB" stroke-width="3.0"/><line x1="507.4" y1="101.7" x2="507.4" y2="604.5" stroke="#EBEBEB" stroke-width="3.0"/><line x1="101.8" y1="307.3" x2="788.9" y2="307.3" stroke="#EBEBEB" stroke-width="3.0"/><line x1="632.52" y1="101.7" x2="632.52" y2="604.5" stroke="#EBEBEB" stroke-width="3.0"/><line x1="101.8" y1="215.56" x2="788.9" y2="215.56" stroke="#EBEBEB" stroke-width="3.0"/><line x1="757.64" y1="101.7" x2="757.64" y2="604.5" stroke="#EBEBEB" stroke-width="3.0"/><line x1="101.8" y1="123.82" x2="788.9" y2="123.82" stroke="#EBEBEB" stroke-width="3.0"/></g>
<g fill="#000000" font-size="41" transform="translate(0 230.16) scale(1 1.045) translate(0 -230.16)"><text x="187.76" y="230.16" font-style="italic">r</text><text transform="translate(212.96 233.81) scale(1.16 1)" font-family="Liberation Serif">=</text><text x="247.16" y="230.16">0.68</text></g>
<g fill="#EE0000" font-size="41" transform="translate(0 303.55) scale(1 1.045) translate(0 -303.55)"><text x="250.32" y="303.55" font-style="italic">r</text><text transform="translate(275.52 307.2) scale(1.16 1)" font-family="Liberation Serif">=</text><text x="309.72" y="303.55">0.82</text></g>
<g fill="#00CD00" font-size="41" transform="translate(0 211.81) scale(1 1.045) translate(0 -211.81)"><text x="406.72" y="211.81" font-style="italic">r</text><text transform="translate(431.92 215.46) scale(1.16 1)" font-family="Liberation Serif">=</text><text x="466.12" y="211.81">0.52</text></g>
<g fill="#0000EE" font-size="41" transform="translate(0 156.77) scale(1 1.045) translate(0 -156.77)"><text x="563.12" y="156.77" font-style="italic">r</text><text transform="translate(588.32 160.42) scale(1.16 1)" font-family="Liberation Serif">=</text><text x="622.52" y="156.77">0.48</text></g>
<g clip-path="url(#clip0)">
<g><circle cx="485.0" cy="281.9" r="8.2" fill="#00BA38"/><circle cx="493.0" cy="281.9" r="8.2" fill="#00BA38"/><circle cx="501.0" cy="281.9" r="8.2" fill="#00BA38"/><circle cx="509.0" cy="281.9" r="8.2" fill="#00BA38"/><circle cx="517.0" cy="281.9" r="8.2" fill="#00BA38"/><circle cx="525.0" cy="281.9" r="8.2" fill="#00BA38"/><circle cx="533.0" cy="281.9" r="8.2" fill="#00BA38"/><circle cx="473.0" cy="288.9" r="8.2" fill="#00BA38"/><circle cx="481.0" cy="288.9" r="8.2" fill="#00BA38"/><circle cx="489.0" cy="288.9" r="8.2" fill="#00BA38"/><circle cx="497.0" cy="288.9" r="8.2" fill="#00BA38"/><circle cx="505.0" cy="288.9" r="8.2" fill="#00BA38"/><circle cx="513.0" cy="288.9" r="8.2" fill="#00BA38"/><circle cx="521.0" cy="288.9" r="8.2" fill="#00BA38"/><circle cx="529.0" cy="288.9" r="8.2" fill="#00BA38"/><circle cx="537.0" cy="288.9" r="8.2" fill="#00BA38"/><circle cx="545.0" cy="288.9" r="8.2" fill="#00BA38"/><circle cx="561.0" cy="288.9" r="8.2" fill="#00BA38"/><circle cx="569.0" cy="288.9" r="8.2" fill="#00BA38"/><circle cx="577.0" cy="288.9" r="8.2" fill="#00BA38"/><circle cx="585.0" cy="288.9" r="8.2" fill="#00BA38"/><circle cx="593.0" cy="288.9" r="8.2" fill="#00BA38"/><circle cx="461.0" cy="295.8" r="8.2" fill="#00BA38"/><circle cx="469.0" cy="295.8" r="8.2" fill="#00BA38"/><circle cx="477.0" cy="295.8" r="8.2" fill="#00BA38"/><circle cx="485.0" cy="295.8" r="8.2" fill="#00BA38"/><circle cx="493.0" cy="295.8" r="8.2" fill="#00BA38"/><circle cx="501.0" cy="295.8" r="8.2" fill="#00BA38"/><circle cx="509.0" cy="295.8" r="8.2" fill="#00BA38"/><circle cx="517.0" cy="295.8" r="8.2" fill="#00BA38"/><circle cx="525.0" cy="295.8" r="8.2" fill="#00BA38"/><circle cx="533.0" cy="295.8" r="8.2" fill="#00BA38"/><circle cx="541.0" cy="295.8" r="8.2" fill="#00BA38"/><circle cx="549.0" cy="295.8" r="8.2" fill="#00BA38"/><circle cx="557.0" cy="295.8" r="8.2" fill="#00BA38"/><circle cx="565.0" cy="295.8" r="8.2" fill="#00BA38"/><circle cx="573.0" cy="295.8" r="8.2" fill="#00BA38"/><circle cx="581.0" cy="295.8" r="8.2" fill="#00BA38"/><circle cx="589.0" cy="295.8" r="8.2" fill="#00BA38"/><circle cx="597.0" cy="295.8" r="8.2" fill="#00BA38"/><circle cx="449.0" cy="302.7" r="8.2" fill="#00BA38"/><circle cx="457.0" cy="302.7" r="8.2" fill="#00BA38"/><circle cx="465.0" cy="302.7" r="8.2" fill="#00BA38"/><circle cx="473.0" cy="302.7" r="8.2" fill="#00BA38"/><circle cx="481.0" cy="302.7" r="8.2" fill="#00BA38"/><circle cx="489.0" cy="302.7" r="8.2" fill="#00BA38"/><circle cx="497.0" cy="302.7" r="8.2" fill="#00BA38"/><circle cx="505.0" cy="302.7" r="8.2" fill="#00BA38"/><circle cx="513.0" cy="302.7" r="8.2" fill="#00BA38"/><circle cx="521.0" cy="302.7" r="8.2" fill="#00BA38"/><circle cx="529.0" cy="302.7" r="8.2" fill="#00BA38"/><circle cx="537.0" cy="302.7" r="8.2" fill="#00BA38"/><circle cx="545.0" cy="302.7" r="8.2" fill="#00BA38"/><circle cx="553.0" cy="302.7" r="8.2" fill="#00BA38"/><circle cx="561.0" cy="302.7" r="8.2" fill="#00BA38"/><circle cx="569.0" cy="302.7" r="8.2" fill="#00BA38"/><circle cx="577.0" cy="302.7" r="8.2" fill="#00BA38"/><circle cx="585.0" cy="302.7" r="8.2" fill="#00BA38"/><circle cx="593.0" cy="302.7" r="8.2" fill="#00BA38"/><circle cx="445.0" cy="309.6" r="8.2" fill="#00BA38"/><circle cx="453.0" cy="309.6" r="8.2" fill="#00BA38"/><circle cx="461.0" cy="309.6" r="8.2" fill="#00BA38"/><circle cx="469.0" cy="309.6" r="8.2" fill="#00BA38"/><circle cx="477.0" cy="309.6" r="8.2" fill="#00BA38"/><circle cx="485.0" cy="309.6" r="8.2" fill="#00BA38"/><circle cx="493.0" cy="309.6" r="8.2" fill="#00BA38"/><circle cx="501.0" cy="309.6" r="8.2" fill="#00BA38"/><circle cx="509.0" cy="309.6" r="8.2" fill="#00BA38"/><circle cx="517.0" cy="309.6" r="8.2" fill="#00BA38"/><circle cx="525.0" cy="309.6" r="8.2" fill="#00BA38"/><circle cx="533.0" cy="309.6" r="8.2" fill="#00BA38"/><circle cx="541.0" cy="309.6" r="8.2" fill="#00BA38"/><circle cx="549.0" cy="309.6" r="8.2" fill="#00BA38"/><circle cx="557.0" cy="309.6" r="8.2" fill="#00BA38"/><circle cx="565.0" cy="309.6" r="8.2" fill="#00BA38"/><circle cx="573.0" cy="309.6" r="8.2" fill="#00BA38"/><circle cx="441.0" cy="316.6" r="8.2" fill="#00BA38"/><circle cx="449.0" cy="316.6" r="8.2" fill="#00BA38"/><circle cx="457.0" cy="316.6" r="8.2" fill="#00BA38"/><circle cx="465.0" cy="316.6" r="8.2" fill="#00BA38"/><circle cx="473.0" cy="316.6" r="8.2" fill="#00BA38"/><circle cx="481.0" cy="316.6" r="8.2" fill="#00BA38"/><circle cx="489.0" cy="316.6" r="8.2" fill="#00BA38"/><circle cx="497.0" cy="316.6" r="8.2" fill="#00BA38"/><circle cx="505.0" cy="316.6" r="8.2" fill="#00BA38"/><circle cx="513.0" cy="316.6" r="8.2" fill="#00BA38"/><circle cx="521.0" cy="316.6" r="8.2" fill="#00BA38"/><circle cx="529.0" cy="316.6" r="8.2" fill="#00BA38"/><circle cx="537.0" cy="316.6" r="8.2" fill="#00BA38"/><circle cx="545.0" cy="316.6" r="8.2" fill="#00BA38"/><circle cx="553.0" cy="316.6" r="8.2" fill="#00BA38"/><circle cx="437.0" cy="323.5" r="8.2" fill="#00BA38"/><circle cx="445.0" cy="323.5" r="8.2" fill="#00BA38"/><circle cx="453.0" cy="323.5" r="8.2" fill="#00BA38"/><circle cx="461.0" cy="323.5" r="8.2" fill="#00BA38"/><circle cx="469.0" cy="323.5" r="8.2" fill="#00BA38"/><circle cx="477.0" cy="323.5" r="8.2" fill="#00BA38"/><circle cx="485.0" cy="323.5" r="8.2" fill="#00BA38"/><circle cx="493.0" cy="323.5" r="8.2" fill="#00BA38"/><circle cx="501.0" cy="323.5" r="8.2" fill="#00BA38"/><circle cx="509.0" cy="323.5" r="8.2" fill="#00BA38"/><circle cx="517.0" cy="323.5" r="8.2" fill="#00BA38"/><circle cx="525.0" cy="323.5" r="8.2" fill="#00BA38"/><circle cx="533.0" cy="323.5" r="8.2" fill="#00BA38"/><circle cx="433.0" cy="330.4" r="8.2" fill="#00BA38"/><circle cx="441.0" cy="330.4" r="8.2" fill="#00BA38"/><circle cx="449.0" cy="330.4" r="8.2" fill="#00BA38"/><circle cx="457.0" cy="330.4" r="8.2" fill="#00BA38"/><circle cx="465.0" cy="330.4" r="8.2" fill="#00BA38"/><circle cx="473.0" cy="330.4" r="8.2" fill="#00BA38"/><circle cx="481.0" cy="330.4" r="8.2" fill="#00BA38"/><circle cx="489.0" cy="330.4" r="8.2" fill="#00BA38"/><circle cx="497.0" cy="330.4" r="8.2" fill="#00BA38"/><circle cx="505.0" cy="330.4" r="8.2" fill="#00BA38"/><circle cx="513.0" cy="330.4" r="8.2" fill="#00BA38"/><circle cx="437.0" cy="337.4" r="8.2" fill="#00BA38"/><circle cx="445.0" cy="337.4" r="8.2" fill="#00BA38"/><circle cx="453.0" cy="337.4" r="8.2" fill="#00BA38"/><circle cx="461.0" cy="337.4" r="8.2" fill="#00BA38"/><circle cx="469.0" cy="337.4" r="8.2" fill="#00BA38"/><circle cx="477.0" cy="337.4" r="8.2" fill="#00BA38"/><circle cx="485.0" cy="337.4" r="8.2" fill="#00BA38"/><circle cx="493.0" cy="337.4" r="8.2" fill="#00BA38"/><circle cx="441.0" cy="344.3" r="8.2" fill="#00BA38"/><circle cx="449.0" cy="344.3" r="8.2" fill="#00BA38"/><circle cx="457.0" cy="344.3" r="8.2" fill="#00BA38"/><circle cx="465.0" cy="344.3" r="8.2" fill="#00BA38"/><circle cx="425.0" cy="330.0" r="8.2" fill="#00BA38"/><circle cx="445.0" cy="305.0" r="8.2" fill="#00BA38"/><circle cx="470.0" cy="290.0" r="8.2" fill="#00BA38"/><circle cx="495.0" cy="275.0" r="8.2" fill="#00BA38"/><circle cx="525.0" cy="278.0" r="8.2" fill="#00BA38"/><circle cx="555.0" cy="290.0" r="8.2" fill="#00BA38"/><circle cx="580.0" cy="285.0" r="8.2" fill="#00BA38"/><circle cx="600.0" cy="290.0" r="8.2" fill="#00BA38"/><circle cx="598.0" cy="302.0" r="8.2" fill="#00BA38"/><circle cx="575.0" cy="310.0" r="8.2" fill="#00BA38"/><circle cx="545.0" cy="322.0" r="8.2" fill="#00BA38"/><circle cx="515.0" cy="330.0" r="8.2" fill="#00BA38"/><circle cx="490.0" cy="340.0" r="8.2" fill="#00BA38"/><circle cx="465.0" cy="345.0" r="8.2" fill="#00BA38"/><circle cx="440.0" cy="348.0" r="8.2" fill="#00BA38"/><circle cx="533.0" cy="238.9" r="8.2" fill="#619CFF"/><circle cx="541.0" cy="238.9" r="8.2" fill="#619CFF"/><circle cx="549.0" cy="238.9" r="8.2" fill="#619CFF"/><circle cx="557.0" cy="238.9" r="8.2" fill="#619CFF"/><circle cx="565.0" cy="238.9" r="8.2" fill="#619CFF"/><circle cx="521.0" cy="245.9" r="8.2" fill="#619CFF"/><circle cx="529.0" cy="245.9" r="8.2" fill="#619CFF"/><circle cx="537.0" cy="245.9" r="8.2" fill="#619CFF"/><circle cx="545.0" cy="245.9" r="8.2" fill="#619CFF"/><circle cx="553.0" cy="245.9" r="8.2" fill="#619CFF"/><circle cx="561.0" cy="245.9" r="8.2" fill="#619CFF"/><circle cx="569.0" cy="245.9" r="8.2" fill="#619CFF"/><circle cx="517.0" cy="252.8" r="8.2" fill="#619CFF"/><circle cx="525.0" cy="252.8" r="8.2" fill="#619CFF"/><circle cx="533.0" cy="252.8" r="8.2" fill="#619CFF"/><circle cx="541.0" cy="252.8" r="8.2" fill="#619CFF"/><circle cx="549.0" cy="252.8" r="8.2" fill="#619CFF"/><circle cx="557.0" cy="252.8" r="8.2" fill="#619CFF"/><circle cx="565.0" cy="252.8" r="8.2" fill="#619CFF"/><circle cx="573.0" cy="252.8" r="8.2" fill="#619CFF"/><circle cx="513.0" cy="259.7" r="8.2" fill="#619CFF"/><circle cx="521.0" cy="259.7" r="8.2" fill="#619CFF"/><circle cx="529.0" cy="259.7" r="8.2" fill="#619CFF"/><circle cx="537.0" cy="259.7" r="8.2" fill="#619CFF"/><circle cx="545.0" cy="259.7" r="8.2" fill="#619CFF"/><circle cx="553.0" cy="259.7" r="8.2" fill="#619CFF"/><circle cx="561.0" cy="259.7" r="8.2" fill="#619CFF"/><circle cx="569.0" cy="259.7" r="8.2" fill="#619CFF"/><circle cx="509.0" cy="266.6" r="8.2" fill="#619CFF"/><circle cx="517.0" cy="266.6" r="8.2" fill="#619CFF"/><circle cx="525.0" cy="266.6" r="8.2" fill="#619CFF"/><circle cx="533.0" cy="266.6" r="8.2" fill="#619CFF"/><circle cx="541.0" cy="266.6" r="8.2" fill="#619CFF"/><circle cx="549.0" cy="266.6" r="8.2" fill="#619CFF"/><circle cx="505.0" cy="258.0" r="8.2" fill="#619CFF"/><circle cx="525.0" cy="240.0" r="8.2" fill="#619CFF"/><circle cx="545.0" cy="232.0" r="8.2" fill="#619CFF"/><circle cx="570.0" cy="240.0" r="8.2" fill="#619CFF"/><circle cx="575.0" cy="258.0" r="8.2" fill="#619CFF"/><circle cx="550.0" cy="268.0" r="8.2" fill="#619CFF"/><circle cx="525.0" cy="270.0" r="8.2" fill="#619CFF"/><circle cx="508.0" cy="268.0" r="8.2" fill="#619CFF"/><circle cx="469.2" cy="299.8" r="8.2" fill="#00BA38"/><circle cx="484.0" cy="284.9" r="8.2" fill="#00BA38"/><circle cx="521.1" cy="288.6" r="8.2" fill="#00BA38"/><circle cx="510.0" cy="310.9" r="8.2" fill="#00BA38"/><circle cx="524.8" cy="318.3" r="8.2" fill="#00BA38"/><circle cx="498.8" cy="331.3" r="8.2" fill="#00BA38"/><circle cx="474.7" cy="318.3" r="8.2" fill="#00BA38"/><circle cx="561.9" cy="285.0" r="8.2" fill="#00BA38"/><circle cx="580.4" cy="273.8" r="8.2" fill="#00BA38"/><circle cx="576.7" cy="290.5" r="8.2" fill="#00BA38"/><circle cx="598.9" cy="290.5" r="8.2" fill="#00BA38"/><circle cx="591.5" cy="303.5" r="8.2" fill="#00BA38"/><circle cx="561.9" cy="310.9" r="8.2" fill="#00BA38"/><circle cx="543.3" cy="327.6" r="8.2" fill="#00BA38"/><circle cx="445.0" cy="318.3" r="8.2" fill="#00BA38"/><circle cx="435.8" cy="331.3" r="8.2" fill="#00BA38"/><circle cx="459.9" cy="329.4" r="8.2" fill="#00BA38"/><circle cx="454.3" cy="336.9" r="8.2" fill="#00BA38"/><circle cx="530.0" cy="305.0" r="8.2" fill="#00BA38"/><circle cx="550.0" cy="300.0" r="8.2" fill="#00BA38"/><circle cx="515.0" cy="300.0" r="8.2" fill="#00BA38"/><circle cx="495.0" cy="295.0" r="8.2" fill="#00BA38"/><circle cx="528.5" cy="247.9" r="8.2" fill="#619CFF"/><circle cx="552.6" cy="244.2" r="8.2" fill="#619CFF"/><circle cx="573.0" cy="253.4" r="8.2" fill="#619CFF"/><circle cx="524.8" cy="266.4" r="8.2" fill="#619CFF"/><circle cx="580.4" cy="259.0" r="8.2" fill="#619CFF"/><circle cx="513.6" cy="266.4" r="8.2" fill="#619CFF"/><circle cx="502.5" cy="257.1" r="8.2" fill="#619CFF"/><circle cx="560.0" cy="250.0" r="8.2" fill="#619CFF"/><circle cx="540.0" cy="260.0" r="8.2" fill="#619CFF"/><circle cx="506.2" cy="246.7" r="8.2" fill="#00BA38"/><circle cx="491.4" cy="272.6" r="8.2" fill="#00BA38"/><circle cx="501.6" cy="281.0" r="8.2" fill="#00BA38"/><circle cx="515.5" cy="276.3" r="8.2" fill="#00BA38"/><circle cx="524.7" cy="276.3" r="8.2" fill="#00BA38"/><circle cx="467.3" cy="285.6" r="8.2" fill="#00BA38"/><circle cx="478.4" cy="283.8" r="8.2" fill="#00BA38"/><circle cx="458.0" cy="294.9" r="8.2" fill="#00BA38"/><circle cx="445.0" cy="313.4" r="8.2" fill="#00BA38"/><circle cx="435.8" cy="323.6" r="8.2" fill="#00BA38"/><circle cx="423.7" cy="340.3" r="8.2" fill="#00BA38"/><circle cx="450.6" cy="335.7" r="8.2" fill="#00BA38"/><circle cx="492.3" cy="304.1" r="8.2" fill="#00BA38"/><circle cx="487.7" cy="319.0" r="8.2" fill="#00BA38"/><circle cx="501.6" cy="322.7" r="8.2" fill="#00BA38"/><circle cx="515.5" cy="313.4" r="8.2" fill="#00BA38"/><circle cx="524.7" cy="332.0" r="8.2" fill="#00BA38"/><circle cx="543.3" cy="318.0" r="8.2" fill="#00BA38"/><circle cx="538.6" cy="285.6" r="8.2" fill="#00BA38"/><circle cx="547.9" cy="294.9" r="8.2" fill="#00BA38"/><circle cx="472.0" cy="304.0" r="8.2" fill="#00BA38"/><circle cx="460.0" cy="313.0" r="8.2" fill="#00BA38"/><circle cx="478.0" cy="310.0" r="8.2" fill="#00BA38"/><circle cx="466.4" cy="354.2" r="8.2" fill="#00BA38"/><circle cx="496.5" cy="347.2" r="8.2" fill="#00BA38"/><circle cx="481.2" cy="337.5" r="8.2" fill="#00BA38"/><circle cx="488.0" cy="336.0" r="8.2" fill="#00BA38"/><circle cx="540.4" cy="295.1" r="8.2" fill="#00BA38"/><circle cx="535.2" cy="310.8" r="8.2" fill="#00BA38"/><circle cx="555.0" cy="318.0" r="8.2" fill="#00BA38"/><circle cx="571.7" cy="274.3" r="8.2" fill="#00BA38"/><circle cx="576.0" cy="279.0" r="8.2" fill="#00BA38"/><circle cx="582.1" cy="288.9" r="8.2" fill="#00BA38"/><circle cx="565.5" cy="302.4" r="8.2" fill="#00BA38"/><circle cx="566.5" cy="310.8" r="8.2" fill="#00BA38"/><circle cx="583.2" cy="313.9" r="8.2" fill="#00BA38"/><circle cx="592.6" cy="305.6" r="8.2" fill="#00BA38"/><circle cx="565.5" cy="329.6" r="8.2" fill="#00BA38"/><circle cx="552.6" cy="253.2" r="8.2" fill="#00BA38"/><circle cx="496.0" cy="257.8" r="8.2" fill="#619CFF"/><circle cx="516.4" cy="248.5" r="8.2" fill="#619CFF"/><circle cx="529.4" cy="236.5" r="8.2" fill="#619CFF"/><circle cx="543.3" cy="239.3" r="8.2" fill="#619CFF"/><circle cx="536.3" cy="228.4" r="8.2" fill="#619CFF"/><circle cx="547.0" cy="231.0" r="8.2" fill="#619CFF"/><circle cx="561.3" cy="236.7" r="8.2" fill="#619CFF"/><circle cx="569.6" cy="243.0" r="8.2" fill="#619CFF"/><circle cx="540.4" cy="253.4" r="8.2" fill="#619CFF"/><circle cx="556.0" cy="262.0" r="8.2" fill="#619CFF"/><circle cx="535.2" cy="269.1" r="8.2" fill="#619CFF"/><circle cx="571.7" cy="258.6" r="8.2" fill="#619CFF"/><circle cx="548.8" cy="274.3" r="8.2" fill="#619CFF"/><circle cx="543.3" cy="267.1" r="8.2" fill="#619CFF"/><circle cx="526.6" cy="293.0" r="8.2" fill="#619CFF"/><circle cx="520.0" cy="262.0" r="8.2" fill="#619CFF"/><circle cx="508.0" cy="258.0" r="8.2" fill="#619CFF"/><circle cx="578.5" cy="224.2" r="8.2" fill="#619CFF"/><circle cx="590.5" cy="257.6" r="8.2" fill="#619CFF"/><circle cx="592.6" cy="279.5" r="8.2" fill="#619CFF"/><circle cx="605.1" cy="264.9" r="8.2" fill="#619CFF"/><circle cx="611.3" cy="236.7" r="8.2" fill="#619CFF"/><circle cx="635.3" cy="235.2" r="8.2" fill="#619CFF"/><circle cx="631.7" cy="261.8" r="8.2" fill="#619CFF"/><circle cx="648.4" cy="262.8" r="8.2" fill="#619CFF"/><circle cx="673.9" cy="186.2" r="8.2" fill="#619CFF"/><circle cx="698.9" cy="226.8" r="8.2" fill="#619CFF"/><circle cx="440.4" cy="306.9" r="8.2" fill="#619CFF"/><circle cx="506.2" cy="248.0" r="8.2" fill="#00BA38"/><circle cx="557.1" cy="253.4" r="8.2" fill="#00BA38"/><circle cx="588.4" cy="236.7" r="8.2" fill="#00BA38"/><circle cx="605.1" cy="245.1" r="8.2" fill="#00BA38"/><circle cx="607.2" cy="253.4" r="8.2" fill="#00BA38"/><circle cx="651.5" cy="279.0" r="8.2" fill="#00BA38"/><circle cx="611.3" cy="280.5" r="8.2" fill="#00BA38"/><circle cx="621.8" cy="292.0" r="8.2" fill="#00BA38"/><circle cx="616.6" cy="298.3" r="8.2" fill="#00BA38"/><circle cx="574.0" cy="299.0" r="8.2" fill="#00BA38"/><circle cx="540.0" cy="300.0" r="8.2" fill="#00BA38"/><circle cx="555.0" cy="305.0" r="8.2" fill="#00BA38"/><circle cx="455.7" cy="382.0" r="8.2" fill="#F8766D"/><circle cx="408.4" cy="355.6" r="8.2" fill="#F8766D"/><circle cx="424.7" cy="327.3" r="8.2" fill="#F8766D"/><circle cx="427.4" cy="354.2" r="8.2" fill="#F8766D"/><circle cx="436.0" cy="352.0" r="8.2" fill="#F8766D"/><circle cx="450.6" cy="345.8" r="8.2" fill="#F8766D"/><circle cx="458.0" cy="342.1" r="8.2" fill="#F8766D"/><circle cx="471.0" cy="323.6" r="8.2" fill="#F8766D"/><circle cx="478.4" cy="294.0" r="8.2" fill="#F8766D"/><circle cx="512.7" cy="296.7" r="8.2" fill="#F8766D"/><circle cx="513.6" cy="343.1" r="8.2" fill="#F8766D"/><circle cx="534.0" cy="328.2" r="8.2" fill="#F8766D"/><circle cx="547.0" cy="331.0" r="8.2" fill="#F8766D"/><circle cx="550.7" cy="307.8" r="8.2" fill="#F8766D"/><circle cx="550.9" cy="307.7" r="8.2" fill="#F8766D"/><circle cx="546.7" cy="330.6" r="8.2" fill="#F8766D"/><circle cx="534.2" cy="326.4" r="8.2" fill="#F8766D"/><circle cx="263.4" cy="551.8" r="8.2" fill="#F8766D"/><circle cx="423.7" cy="343.0" r="8.2" fill="#00BA38"/><circle cx="439.0" cy="332.0" r="8.2" fill="#00BA38"/><circle cx="466.4" cy="355.0" r="8.2" fill="#00BA38"/><circle cx="496.5" cy="348.0" r="8.2" fill="#00BA38"/><circle cx="562.0" cy="330.0" r="8.2" fill="#00BA38"/><circle cx="546.0" cy="325.0" r="8.2" fill="#00BA38"/></g>
<path d="M274.0,493.8 L281.2,483.3 L288.4,473.4 L295.6,464.0 L302.8,455.4 L310.0,447.3 L317.2,439.6 L324.4,431.8 L331.6,424.6 L338.8,418.2 L346.0,412.7 L353.2,407.4 L360.4,401.7 L367.6,395.6 L374.8,389.1 L382.1,382.5 L389.3,375.8 L396.5,368.9 L403.7,361.5 L410.9,353.9 L418.1,347.0 L425.3,341.2 L432.5,336.0 L439.7,330.7 L446.9,324.8 L454.1,319.0 L461.3,313.9 L468.5,308.9 L475.7,304.3 L482.9,300.1 L490.1,296.4 L497.3,293.0 L504.5,289.9 L511.7,286.7 L518.9,283.3 L526.1,279.9 L533.3,276.9 L540.5,274.2 L547.7,271.6 L554.9,268.6 L562.1,265.0 L569.3,261.6 L576.5,258.9 L583.7,256.4 L590.9,254.1 L598.2,251.5 L605.4,248.9 L612.6,246.3 L619.8,243.9 L627.0,241.9 L634.2,239.9 L641.4,237.9 L648.6,235.6 L655.8,232.2 L663.0,227.0 L670.2,220.6 L677.4,214.1 L684.6,207.0 L691.8,199.3 L699.0,190.9 L699.0,252.9 L691.8,252.9 L684.6,253.2 L677.4,253.9 L670.2,255.0 L663.0,256.0 L655.8,257.4 L648.6,259.6 L641.4,262.3 L634.2,265.0 L627.0,267.6 L619.8,269.9 L612.6,271.3 L605.4,271.7 L598.2,271.8 L590.9,272.3 L583.7,273.2 L576.5,274.3 L569.3,275.9 L562.1,278.3 L554.9,281.0 L547.7,283.4 L540.5,285.5 L533.3,287.7 L526.1,290.3 L518.9,293.4 L511.7,296.7 L504.5,299.9 L497.3,303.0 L490.1,306.4 L482.9,310.1 L475.7,314.3 L468.5,319.0 L461.3,324.2 L454.1,330.1 L446.9,336.9 L439.7,343.8 L432.5,350.1 L425.3,356.2 L418.1,362.9 L410.9,370.8 L403.7,379.6 L396.5,388.2 L389.3,396.5 L382.1,404.8 L374.8,413.2 L367.6,422.0 L360.4,431.1 L353.2,440.1 L346.0,448.7 L338.8,457.3 L331.6,466.9 L324.4,477.6 L317.2,489.1 L310.0,501.4 L302.8,514.3 L295.6,527.7 L288.4,541.3 L281.2,555.3 L274.0,569.8 Z" fill="#999999" fill-opacity="0.4"/><path d="M264.0,550.0 L269.4,540.0 L274.9,530.2 L280.3,520.8 L285.8,511.7 L291.2,502.8 L296.7,494.2 L302.1,485.9 L307.5,477.9 L313.0,470.2 L318.4,462.7 L323.9,455.4 L329.3,448.5 L334.8,442.1 L340.2,436.4 L345.6,431.1 L351.1,425.9 L356.5,420.5 L362.0,414.8 L367.4,409.0 L372.9,403.3 L378.3,397.5 L383.7,391.9 L389.2,386.2 L394.6,380.5 L400.1,374.6 L405.5,368.4 L411.0,362.3 L416.4,356.5 L421.8,351.6 L427.3,347.1 L432.7,342.8 L438.2,338.5 L443.6,333.8 L449.1,328.9 L454.5,324.2 L459.9,320.0 L465.4,316.1 L470.8,312.4 L476.3,308.9 L481.7,305.7 L487.2,302.8 L492.6,300.2 L498.1,297.7 L503.5,295.3 L508.9,292.9 L514.4,290.4 L519.8,287.9 L525.3,285.4 L530.7,283.2 L536.2,281.3 L541.6,279.5 L547.0,277.8 L552.5,275.8 L557.9,273.5 L563.4,271.1 L568.8,269.0 L574.3,267.2 L579.7,265.8 L585.1,264.5 L590.6,263.2 L596.0,262.1 L601.5,261.0 L606.9,260.0 L612.4,258.8 L617.8,257.5 L623.2,255.9 L628.7,254.2 L634.1,252.5 L639.6,250.7 L645.0,248.9 L650.5,246.9 L655.9,244.8 L661.3,242.3 L666.8,239.6 L672.2,236.7 L677.7,233.8 L683.1,230.9 L688.6,227.9 L694.0,224.8" fill="none" stroke="#ABABAB" stroke-width="8" stroke-linejoin="round"/>
<line x1="507.4" y1="101.7" x2="507.4" y2="604.5" stroke="#B3B3B3" stroke-width="3.0"/>
<line x1="101.8" y1="307.3" x2="788.9" y2="307.3" stroke="#B3B3B3" stroke-width="3.0"/>
<line x1="6.92" y1="674.26" x2="882.76" y2="32.08" stroke="#B3B3B3" stroke-width="3.0"/>
</g>
<rect x="101.8" y="101.7" width="687.1" height="502.8" fill="none" stroke="#111" stroke-width="2"/>
<path d="M132.04 604.5V615M101.8 582.52H91.3M257.16 604.5V615M101.8 490.78H91.3M382.28 604.5V615M101.8 399.04H91.3M507.4 604.5V615M101.8 307.3H91.3M632.52 604.5V615M101.8 215.56H91.3M757.64 604.5V615M101.8 123.82H91.3" stroke="#1E1E1E" stroke-width="2.9" fill="none"/>
<g fill="#262626" font-size="32.8"><text x="132.04" y="648.1" text-anchor="middle">-3</text><text x="82" y="594.22" text-anchor="end">-3</text><text x="257.16" y="648.1" text-anchor="middle">-2</text><text x="82" y="502.48" text-anchor="end">-2</text><text x="382.28" y="648.1" text-anchor="middle">-1</text><text x="82" y="410.74" text-anchor="end">-1</text><text x="507.4" y="648.1" text-anchor="middle">0</text><text x="82" y="319" text-anchor="end">0</text><text x="632.52" y="648.1" text-anchor="middle">1</text><text x="82" y="227.26" text-anchor="end">1</text><text x="757.64" y="648.1" text-anchor="middle">2</text><text x="82" y="135.52" text-anchor="end">2</text></g>
<text x="445.35" y="699.8" text-anchor="middle" font-size="41">Bliss</text>
<text transform="translate(32.5 353.1) rotate(-90)" text-anchor="middle" font-size="41">General Isobole</text>
<path d="M1084.8,96 L1084.8,96 1087.3,96 1089.8,96 1092.3,96 1094.8,96 1097.3,96 1099.8,96 1102.3,96 1104.8,96 1107.3,96 1109.8,96 1112.3,96 1114.8,96 1117.3,96 1119.8,96 1122.3,96 1124.8,96 1127.3,96 1129.8,96 1132.3,96 1134.8,96 1137.3,96 1139.8,96 1142.3,96 1144.8,96 1147.2,96 1149.7,96 1152.2,96 1154.7,96 1157.2,96 1159.7,96 1162.2,96 1164.7,96 1167.2,96 1169.7,96 1172.2,96 1174.7,96 1177.2,96 1179.7,96 1182.2,96 1184.7,96 1187.2,96 1189.7,96 1192.2,96 1194.7,96 1197.2,96 1199.7,96 1202.2,96 1204.7,96 1207.2,96 1209.7,96 1212.2,96 1214.7,96 1217.2,96 1219.7,96 1222.2,96 1224.7,96 1227.2,96 1229.7,96 1232.2,96 1234.7,96 1237.2,96 1239.7,96 1242.2,96 1244.7,96 1247.2,96 1249.7,96 1252.2,96 1254.7,96 1257.2,96 1259.7,96 1262.2,96 1264.7,96 1267.2,96 1269.7,96 1272.2,96 1274.6,96 1277.1,96 1279.6,96 1282.1,96 1284.6,96 1287.1,96 1289.6,96 1292.1,96 1294.6,96 1297.1,96 1299.6,96 1302.1,96 1304.6,96 1307.1,96 1309.6,96 1312.1,96 1314.6,96 1317.1,96 1319.6,96 1322.1,96 1324.6,96 1327.1,96 1329.6,96 1332.1,96 1334.6,95.9 1337.1,95.9 1339.6,95.8 1342.1,95.8 1344.6,95.7 1347.1,95.6 1349.6,95.5 1352.1,95.4 1354.6,95.3 1357.1,95.1 1359.6,94.9 1362.1,94.7 1364.6,94.3 1367.1,93.8 1369.6,93.1 1372.1,92.4 1374.6,91.6 1377.1,90.9 1379.6,90.2 1382.1,89.4 1384.6,88.4 1387.1,87.4 1389.6,86.2 1392.1,84.9 1394.6,83.5 1397,81.8 1399.5,80 1402,77.9 1404.5,75.6 1407,73 1409.5,70.1 1412,67 1414.5,63.9 1417,60.8 1419.5,57.7 1422,54.7 1424.5,51.9 1427,49.4 1429.5,47.1 1432,45.1 1434.5,43.2 1437,41.3 1439.5,39.3 1442,37.4 1444.5,35.3 1447,32.9 1449.5,30.1 1452,27 1454.5,24 1457,21.3 1459.5,19.1 1462,17.3 1464.5,15.9 1467,15 1469.5,14.6 1472,14.6 1474.5,15.2 1477,16.5 1479.5,18.8 1482,22.1 1484.5,26.2 1487,30.7 1489.5,35.6 1492,40.5 1494.5,45.2 1497,49.7 1499.5,53.8 1502,57.6 1504.5,60.9 1507,63.8 1509.5,66.2 1512,68 1514.5,69.1 1517,69.7 1519.5,70.2 1522,70.7 1524.4,71.2 1526.9,71.9 1529.4,72.6 1531.9,73.4 1534.4,74.5 1536.9,75.9 1539.4,77.4 1541.9,79 1544.4,80.4 1546.9,81.6 1549.4,82.7 1551.9,83.6 1554.4,84.4 1556.9,85 1559.4,85.5 1561.9,86 1564.4,86.5 1566.9,87.2 1569.4,87.9 1571.9,88.7 1574.4,89.4 1576.9,90.1 1579.4,90.8 1581.9,91.5 1584.4,92 1586.9,92.4 1589.4,92.7 1591.9,92.9 1594.4,93.2 1596.9,93.4 1599.4,93.6 1601.9,93.8 1604.4,94.1 1606.9,94.3 1609.4,94.4 1611.9,94.6 1614.4,94.7 1616.9,94.8 1619.4,94.9 1621.9,95 1624.4,95.1 1626.9,95.2 1629.4,95.3 1631.9,95.3 1634.4,95.4 1636.9,95.5 1639.4,95.5 1641.9,95.6 1644.4,95.7 1646.8,95.7 1649.3,95.8 1651.8,95.9 1654.3,95.9 1656.8,96 1659.3,96 1661.8,96 1664.3,96 1666.8,96 1669.3,96 1671.8,96 1674.3,96 1676.8,96 1679.3,96 1681.8,96 1684.3,96 1686.8,96 1689.3,96 1691.8,96 1694.3,96 1696.8,96 1699.3,96 1701.8,96 1704.3,96 1706.8,96 1709.3,96 L1709.3,96 Z" fill="#00BA38" fill-opacity="0.5" stroke="none"/>
<path d="M1084.8,96 L1084.8,96 1087.3,96 1089.8,96 1092.3,96 1094.8,96 1097.3,96 1099.8,96 1102.3,96 1104.8,96 1107.3,96 1109.8,96 1112.3,96 1114.8,96 1117.3,96 1119.8,96 1122.3,96 1124.8,96 1127.3,96 1129.8,96 1132.3,96 1134.8,96 1137.3,96 1139.8,96 1142.3,96 1144.8,96 1147.2,96 1149.7,96 1152.2,96 1154.7,96 1157.2,96 1159.7,96 1162.2,96 1164.7,96 1167.2,96 1169.7,96 1172.2,96 1174.7,96 1177.2,96 1179.7,96 1182.2,96 1184.7,96 1187.2,96 1189.7,96 1192.2,96 1194.7,96 1197.2,96 1199.7,96 1202.2,96 1204.7,96 1207.2,96 1209.7,96 1212.2,96 1214.7,96 1217.2,96 1219.7,96 1222.2,96 1224.7,96 1227.2,96 1229.7,96 1232.2,96 1234.7,96 1237.2,96 1239.7,96 1242.2,96 1244.7,96 1247.2,96 1249.7,96 1252.2,96 1254.7,96 1257.2,96 1259.7,96 1262.2,96 1264.7,96 1267.2,96 1269.7,96 1272.2,96 1274.6,96 1277.1,96 1279.6,96 1282.1,96 1284.6,96 1287.1,96 1289.6,96 1292.1,96 1294.6,96 1297.1,96 1299.6,96 1302.1,96 1304.6,96 1307.1,96 1309.6,96 1312.1,96 1314.6,96 1317.1,96 1319.6,95.9 1322.1,95.9 1324.6,95.8 1327.1,95.7 1329.6,95.7 1332.1,95.6 1334.6,95.6 1337.1,95.5 1339.6,95.5 1342.1,95.4 1344.6,95.4 1347.1,95.3 1349.6,95.3 1352.1,95.3 1354.6,95.2 1357.1,95.1 1359.6,95.1 1362.1,95 1364.6,94.9 1367.1,94.7 1369.6,94.5 1372.1,94.3 1374.6,94.1 1377.1,93.9 1379.6,93.7 1382.1,93.6 1384.6,93.5 1387.1,93.5 1389.6,93.4 1392.1,93.4 1394.6,93.3 1397,93.4 1399.5,93.5 1402,93.8 1404.5,94.2 1407,94.5 1409.5,94.8 1412,95 1414.5,95.1 1417,95.1 1419.5,94.9 1422,94.6 1424.5,94 1427,92.7 1429.5,90.4 1432,86.8 1434.5,82.6 1437,78.1 1439.5,73.4 1442,68.3 1444.5,63.2 1447,58.2 1449.5,53.4 1452,48.8 1454.5,44.3 1457,40 1459.5,35.8 1462,31.8 1464.5,27.8 1467,23.9 1469.5,20 1472,16.1 1474.5,12.5 1477,9.7 1479.5,7.7 1482,6.2 1484.5,5.2 1487,4.6 1489.5,4.7 1492,5.6 1494.5,7.3 1497,9.5 1499.5,11.9 1502,14.3 1504.5,17 1507,19.9 1509.5,22.9 1512,25.9 1514.5,28.6 1517,31.2 1519.5,33.6 1522,36.2 1524.4,38.9 1526.9,41.8 1529.4,44.8 1531.9,47.9 1534.4,51.2 1536.9,54.7 1539.4,58.3 1541.9,61.8 1544.4,65.1 1546.9,68.1 1549.4,70.9 1551.9,73.5 1554.4,75.9 1556.9,78 1559.4,79.9 1561.9,81.6 1564.4,83 1566.9,84.3 1569.4,85.3 1571.9,86.2 1574.4,86.8 1576.9,87.2 1579.4,87.5 1581.9,87.8 1584.4,88 1586.9,88.3 1589.4,88.6 1591.9,89 1594.4,89.4 1596.9,89.9 1599.4,90.4 1601.9,91 1604.4,91.4 1606.9,91.8 1609.4,91.9 1611.9,92.1 1614.4,92.1 1616.9,92.2 1619.4,92.3 1621.9,92.3 1624.4,92.3 1626.9,92.3 1629.4,92.3 1631.9,92.3 1634.4,92.4 1636.9,92.4 1639.4,92.4 1641.9,92.4 1644.4,92.5 1646.8,92.6 1649.3,92.8 1651.8,92.9 1654.3,93.1 1656.8,93.3 1659.3,93.5 1661.8,93.7 1664.3,93.9 1666.8,94 1669.3,94.2 1671.8,94.4 1674.3,94.6 1676.8,94.8 1679.3,94.9 1681.8,95.1 1684.3,95.2 1686.8,95.4 1689.3,95.5 1691.8,95.6 1694.3,95.7 1696.8,95.8 1699.3,95.8 1701.8,95.9 1704.3,95.9 1706.8,96 1709.3,96 L1709.3,96 Z" fill="#619CFF" fill-opacity="0.5" stroke="none"/>
<path d="M1084.8,96 L1084.8,96 1087.3,96 1089.8,96 1092.3,96 1094.8,96 1097.3,96 1099.8,96 1102.3,96 1104.8,96 1107.3,96 1109.8,96 1112.3,96 1114.8,96 1117.3,96 1119.8,96 1122.3,96 1124.8,96 1127.3,96 1129.8,96 1132.3,96 1134.8,96 1137.3,96 1139.8,96 1142.3,95.9 1144.8,95.9 1147.2,95.9 1149.7,95.8 1152.2,95.8 1154.7,95.8 1157.2,95.7 1159.7,95.6 1162.2,95.5 1164.7,95.4 1167.2,95.3 1169.7,95.1 1172.2,95 1174.7,94.8 1177.2,94.6 1179.7,94.3 1182.2,94.1 1184.7,93.9 1187.2,93.6 1189.7,93.3 1192.2,93.1 1194.7,92.8 1197.2,92.6 1199.7,92.3 1202.2,92.1 1204.7,91.9 1207.2,91.8 1209.7,91.7 1212.2,91.6 1214.7,91.6 1217.2,91.6 1219.7,91.7 1222.2,91.8 1224.7,91.9 1227.2,92.1 1229.7,92.3 1232.2,92.6 1234.7,92.8 1237.2,93.1 1239.7,93.3 1242.2,93.6 1244.7,93.9 1247.2,94.1 1249.7,94.3 1252.2,94.6 1254.7,94.8 1257.2,95 1259.7,95.1 1262.2,95.3 1264.7,95.4 1267.2,95.5 1269.7,95.6 1272.2,95.7 1274.6,95.8 1277.1,95.8 1279.6,95.8 1282.1,95.9 1284.6,95.9 1287.1,95.9 1289.6,96 1292.1,96 1294.6,96 1297.1,96 1299.6,96 1302.1,96 1304.6,96 1307.1,96 1309.6,96 1312.1,96 1314.6,95.9 1317.1,95.7 1319.6,95.4 1322.1,94.9 1324.6,94.3 1327.1,93.7 1329.6,93 1332.1,92.3 1334.6,91.6 1337.1,90.9 1339.6,90.1 1342.1,89.2 1344.6,88.2 1347.1,87.2 1349.6,86.1 1352.1,85 1354.6,83.8 1357.1,82.5 1359.6,81.1 1362.1,79.7 1364.6,78.1 1367.1,76.5 1369.6,74.9 1372.1,73.2 1374.6,71.5 1377.1,69.8 1379.6,67.9 1382.1,66 1384.6,64 1387.1,62.1 1389.6,60.1 1392.1,58.3 1394.6,56.5 1397,54.8 1399.5,53 1402,51.3 1404.5,49.7 1407,48.1 1409.5,46.6 1412,45.4 1414.5,44.3 1417,43.3 1419.5,42.5 1422,41.9 1424.5,41.5 1427,41.3 1429.5,41.4 1432,41.7 1434.5,42 1437,42.3 1439.5,42.6 1442,42.9 1444.5,43.1 1447,43.2 1449.5,43.1 1452,42.8 1454.5,42.5 1457,42.3 1459.5,42.1 1462,41.9 1464.5,41.8 1467,41.8 1469.5,41.9 1472,42.3 1474.5,42.8 1477,43.6 1479.5,44.7 1482,46.2 1484.5,48.1 1487,49.9 1489.5,51.6 1492,53.3 1494.5,55 1497,57 1499.5,59 1502,61.1 1504.5,63.3 1507,65.5 1509.5,67.8 1512,70 1514.5,72.3 1517,74.6 1519.5,76.9 1522,79.1 1524.4,81.3 1526.9,83.4 1529.4,85.5 1531.9,87.3 1534.4,89 1536.9,90.4 1539.4,91.6 1541.9,92.5 1544.4,93.3 1546.9,93.8 1549.4,94.3 1551.9,94.6 1554.4,94.9 1556.9,95.1 1559.4,95.3 1561.9,95.5 1564.4,95.6 1566.9,95.7 1569.4,95.8 1571.9,95.8 1574.4,95.9 1576.9,95.9 1579.4,96 1581.9,96 1584.4,96 1586.9,96 1589.4,96 1591.9,96 1594.4,96 1596.9,96 1599.4,96 1601.9,96 1604.4,96 1606.9,96 1609.4,96 1611.9,96 1614.4,96 1616.9,96 1619.4,96 1621.9,96 1624.4,96 1626.9,96 1629.4,96 1631.9,96 1634.4,96 1636.9,96 1639.4,96 1641.9,96 1644.4,96 1646.8,96 1649.3,96 1651.8,96 1654.3,96 1656.8,96 1659.3,96 1661.8,96 1664.3,96 1666.8,96 1669.3,96 1671.8,96 1674.3,96 1676.8,96 1679.3,96 1681.8,96 1684.3,96 1686.8,96 1689.3,96 1691.8,96 1694.3,96 1696.8,96 1699.3,96 1701.8,96 1704.3,96 1706.8,96 1709.3,96 L1709.3,96 Z" fill="#F8766D" fill-opacity="0.5" stroke="none"/>
<path d="M1084.8,96 L1087.3,96 L1089.8,96 L1092.3,96 L1094.8,96 L1097.3,96 L1099.8,96 L1102.3,96 L1104.8,96 L1107.3,96 L1109.8,96 L1112.3,96 L1114.8,96 L1117.3,96 L1119.8,96 L1122.3,96 L1124.8,96 L1127.3,96 L1129.8,96 L1132.3,96 L1134.8,96 L1137.3,96 L1139.8,96 L1142.3,96 L1144.8,96 L1147.2,96 L1149.7,96 L1152.2,96 L1154.7,96 L1157.2,96 L1159.7,96 L1162.2,96 L1164.7,96 L1167.2,96 L1169.7,96 L1172.2,96 L1174.7,96 L1177.2,96 L1179.7,96 L1182.2,96 L1184.7,96 L1187.2,96 L1189.7,96 L1192.2,96 L1194.7,96 L1197.2,96 L1199.7,96 L1202.2,96 L1204.7,96 L1207.2,96 L1209.7,96 L1212.2,96 L1214.7,96 L1217.2,96 L1219.7,96 L1222.2,96 L1224.7,96 L1227.2,96 L1229.7,96 L1232.2,96 L1234.7,96 L1237.2,96 L1239.7,96 L1242.2,96 L1244.7,96 L1247.2,96 L1249.7,96 L1252.2,96 L1254.7,96 L1257.2,96 L1259.7,96 L1262.2,96 L1264.7,96 L1267.2,96 L1269.7,96 L1272.2,96 L1274.6,96 L1277.1,96 L1279.6,96 L1282.1,96 L1284.6,96 L1287.1,96 L1289.6,96 L1292.1,96 L1294.6,96 L1297.1,96 L1299.6,96 L1302.1,96 L1304.6,96 L1307.1,96 L1309.6,96 L1312.1,96 L1314.6,96 L1317.1,96 L1319.6,96 L1322.1,96 L1324.6,96 L1327.1,96 L1329.6,96 L1332.1,96 L1334.6,95.9 L1337.1,95.9 L1339.6,95.8 L1342.1,95.8 L1344.6,95.7 L1347.1,95.6 L1349.6,95.5 L1352.1,95.4 L1354.6,95.3 L1357.1,95.1 L1359.6,94.9 L1362.1,94.7 L1364.6,94.3 L1367.1,93.8 L1369.6,93.1 L1372.1,92.4 L1374.6,91.6 L1377.1,90.9 L1379.6,90.2 L1382.1,89.4 L1384.6,88.4 L1387.1,87.4 L1389.6,86.2 L1392.1,84.9 L1394.6,83.5 L1397,81.8 L1399.5,80 L1402,77.9 L1404.5,75.6 L1407,73 L1409.5,70.1 L1412,67 L1414.5,63.9 L1417,60.8 L1419.5,57.7 L1422,54.7 L1424.5,51.9 L1427,49.4 L1429.5,47.1 L1432,45.1 L1434.5,43.2 L1437,41.3 L1439.5,39.3 L1442,37.4 L1444.5,35.3 L1447,32.9 L1449.5,30.1 L1452,27 L1454.5,24 L1457,21.3 L1459.5,19.1 L1462,17.3 L1464.5,15.9 L1467,15 L1469.5,14.6 L1472,14.6 L1474.5,15.2 L1477,16.5 L1479.5,18.8 L1482,22.1 L1484.5,26.2 L1487,30.7 L1489.5,35.6 L1492,40.5 L1494.5,45.2 L1497,49.7 L1499.5,53.8 L1502,57.6 L1504.5,60.9 L1507,63.8 L1509.5,66.2 L1512,68 L1514.5,69.1 L1517,69.7 L1519.5,70.2 L1522,70.7 L1524.4,71.2 L1526.9,71.9 L1529.4,72.6 L1531.9,73.4 L1534.4,74.5 L1536.9,75.9 L1539.4,77.4 L1541.9,79 L1544.4,80.4 L1546.9,81.6 L1549.4,82.7 L1551.9,83.6 L1554.4,84.4 L1556.9,85 L1559.4,85.5 L1561.9,86 L1564.4,86.5 L1566.9,87.2 L1569.4,87.9 L1571.9,88.7 L1574.4,89.4 L1576.9,90.1 L1579.4,90.8 L1581.9,91.5 L1584.4,92 L1586.9,92.4 L1589.4,92.7 L1591.9,92.9 L1594.4,93.2 L1596.9,93.4 L1599.4,93.6 L1601.9,93.8 L1604.4,94.1 L1606.9,94.3 L1609.4,94.4 L1611.9,94.6 L1614.4,94.7 L1616.9,94.8 L1619.4,94.9 L1621.9,95 L1624.4,95.1 L1626.9,95.2 L1629.4,95.3 L1631.9,95.3 L1634.4,95.4 L1636.9,95.5 L1639.4,95.5 L1641.9,95.6 L1644.4,95.7 L1646.8,95.7 L1649.3,95.8 L1651.8,95.9 L1654.3,95.9 L1656.8,96 L1659.3,96 L1661.8,96 L1664.3,96 L1666.8,96 L1669.3,96 L1671.8,96 L1674.3,96 L1676.8,96 L1679.3,96 L1681.8,96 L1684.3,96 L1686.8,96 L1689.3,96 L1691.8,96 L1694.3,96 L1696.8,96 L1699.3,96 L1701.8,96 L1704.3,96 L1706.8,96 L1709.3,96" fill="none" stroke="#00BA38" stroke-width="3.4" stroke-linejoin="round"/>
<path d="M1084.8,96 L1087.3,96 L1089.8,96 L1092.3,96 L1094.8,96 L1097.3,96 L1099.8,96 L1102.3,96 L1104.8,96 L1107.3,96 L1109.8,96 L1112.3,96 L1114.8,96 L1117.3,96 L1119.8,96 L1122.3,96 L1124.8,96 L1127.3,96 L1129.8,96 L1132.3,96 L1134.8,96 L1137.3,96 L1139.8,96 L1142.3,96 L1144.8,96 L1147.2,96 L1149.7,96 L1152.2,96 L1154.7,96 L1157.2,96 L1159.7,96 L1162.2,96 L1164.7,96 L1167.2,96 L1169.7,96 L1172.2,96 L1174.7,96 L1177.2,96 L1179.7,96 L1182.2,96 L1184.7,96 L1187.2,96 L1189.7,96 L1192.2,96 L1194.7,96 L1197.2,96 L1199.7,96 L1202.2,96 L1204.7,96 L1207.2,96 L1209.7,96 L1212.2,96 L1214.7,96 L1217.2,96 L1219.7,96 L1222.2,96 L1224.7,96 L1227.2,96 L1229.7,96 L1232.2,96 L1234.7,96 L1237.2,96 L1239.7,96 L1242.2,96 L1244.7,96 L1247.2,96 L1249.7,96 L1252.2,96 L1254.7,96 L1257.2,96 L1259.7,96 L1262.2,96 L1264.7,96 L1267.2,96 L1269.7,96 L1272.2,96 L1274.6,96 L1277.1,96 L1279.6,96 L1282.1,96 L1284.6,96 L1287.1,96 L1289.6,96 L1292.1,96 L1294.6,96 L1297.1,96 L1299.6,96 L1302.1,96 L1304.6,96 L1307.1,96 L1309.6,96 L1312.1,96 L1314.6,96 L1317.1,96 L1319.6,95.9 L1322.1,95.9 L1324.6,95.8 L1327.1,95.7 L1329.6,95.7 L1332.1,95.6 L1334.6,95.6 L1337.1,95.5 L1339.6,95.5 L1342.1,95.4 L1344.6,95.4 L1347.1,95.3 L1349.6,95.3 L1352.1,95.3 L1354.6,95.2 L1357.1,95.1 L1359.6,95.1 L1362.1,95 L1364.6,94.9 L1367.1,94.7 L1369.6,94.5 L1372.1,94.3 L1374.6,94.1 L1377.1,93.9 L1379.6,93.7 L1382.1,93.6 L1384.6,93.5 L1387.1,93.5 L1389.6,93.4 L1392.1,93.4 L1394.6,93.3 L1397,93.4 L1399.5,93.5 L1402,93.8 L1404.5,94.2 L1407,94.5 L1409.5,94.8 L1412,95 L1414.5,95.1 L1417,95.1 L1419.5,94.9 L1422,94.6 L1424.5,94 L1427,92.7 L1429.5,90.4 L1432,86.8 L1434.5,82.6 L1437,78.1 L1439.5,73.4 L1442,68.3 L1444.5,63.2 L1447,58.2 L1449.5,53.4 L1452,48.8 L1454.5,44.3 L1457,40 L1459.5,35.8 L1462,31.8 L1464.5,27.8 L1467,23.9 L1469.5,20 L1472,16.1 L1474.5,12.5 L1477,9.7 L1479.5,7.7 L1482,6.2 L1484.5,5.2 L1487,4.6 L1489.5,4.7 L1492,5.6 L1494.5,7.3 L1497,9.5 L1499.5,11.9 L1502,14.3 L1504.5,17 L1507,19.9 L1509.5,22.9 L1512,25.9 L1514.5,28.6 L1517,31.2 L1519.5,33.6 L1522,36.2 L1524.4,38.9 L1526.9,41.8 L1529.4,44.8 L1531.9,47.9 L1534.4,51.2 L1536.9,54.7 L1539.4,58.3 L1541.9,61.8 L1544.4,65.1 L1546.9,68.1 L1549.4,70.9 L1551.9,73.5 L1554.4,75.9 L1556.9,78 L1559.4,79.9 L1561.9,81.6 L1564.4,83 L1566.9,84.3 L1569.4,85.3 L1571.9,86.2 L1574.4,86.8 L1576.9,87.2 L1579.4,87.5 L1581.9,87.8 L1584.4,88 L1586.9,88.3 L1589.4,88.6 L1591.9,89 L1594.4,89.4 L1596.9,89.9 L1599.4,90.4 L1601.9,91 L1604.4,91.4 L1606.9,91.8 L1609.4,91.9 L1611.9,92.1 L1614.4,92.1 L1616.9,92.2 L1619.4,92.3 L1621.9,92.3 L1624.4,92.3 L1626.9,92.3 L1629.4,92.3 L1631.9,92.3 L1634.4,92.4 L1636.9,92.4 L1639.4,92.4 L1641.9,92.4 L1644.4,92.5 L1646.8,92.6 L1649.3,92.8 L1651.8,92.9 L1654.3,93.1 L1656.8,93.3 L1659.3,93.5 L1661.8,93.7 L1664.3,93.9 L1666.8,94 L1669.3,94.2 L1671.8,94.4 L1674.3,94.6 L1676.8,94.8 L1679.3,94.9 L1681.8,95.1 L1684.3,95.2 L1686.8,95.4 L1689.3,95.5 L1691.8,95.6 L1694.3,95.7 L1696.8,95.8 L1699.3,95.8 L1701.8,95.9 L1704.3,95.9 L1706.8,96 L1709.3,96" fill="none" stroke="#619CFF" stroke-width="3.4" stroke-linejoin="round"/>
<path d="M1084.8,96 L1087.3,96 L1089.8,96 L1092.3,96 L1094.8,96 L1097.3,96 L1099.8,96 L1102.3,96 L1104.8,96 L1107.3,96 L1109.8,96 L1112.3,96 L1114.8,96 L1117.3,96 L1119.8,96 L1122.3,96 L1124.8,96 L1127.3,96 L1129.8,96 L1132.3,96 L1134.8,96 L1137.3,96 L1139.8,96 L1142.3,95.9 L1144.8,95.9 L1147.2,95.9 L1149.7,95.8 L1152.2,95.8 L1154.7,95.8 L1157.2,95.7 L1159.7,95.6 L1162.2,95.5 L1164.7,95.4 L1167.2,95.3 L1169.7,95.1 L1172.2,95 L1174.7,94.8 L1177.2,94.6 L1179.7,94.3 L1182.2,94.1 L1184.7,93.9 L1187.2,93.6 L1189.7,93.3 L1192.2,93.1 L1194.7,92.8 L1197.2,92.6 L1199.7,92.3 L1202.2,92.1 L1204.7,91.9 L1207.2,91.8 L1209.7,91.7 L1212.2,91.6 L1214.7,91.6 L1217.2,91.6 L1219.7,91.7 L1222.2,91.8 L1224.7,91.9 L1227.2,92.1 L1229.7,92.3 L1232.2,92.6 L1234.7,92.8 L1237.2,93.1 L1239.7,93.3 L1242.2,93.6 L1244.7,93.9 L1247.2,94.1 L1249.7,94.3 L1252.2,94.6 L1254.7,94.8 L1257.2,95 L1259.7,95.1 L1262.2,95.3 L1264.7,95.4 L1267.2,95.5 L1269.7,95.6 L1272.2,95.7 L1274.6,95.8 L1277.1,95.8 L1279.6,95.8 L1282.1,95.9 L1284.6,95.9 L1287.1,95.9 L1289.6,96 L1292.1,96 L1294.6,96 L1297.1,96 L1299.6,96 L1302.1,96 L1304.6,96 L1307.1,96 L1309.6,96 L1312.1,96 L1314.6,95.9 L1317.1,95.7 L1319.6,95.4 L1322.1,94.9 L1324.6,94.3 L1327.1,93.7 L1329.6,93 L1332.1,92.3 L1334.6,91.6 L1337.1,90.9 L1339.6,90.1 L1342.1,89.2 L1344.6,88.2 L1347.1,87.2 L1349.6,86.1 L1352.1,85 L1354.6,83.8 L1357.1,82.5 L1359.6,81.1 L1362.1,79.7 L1364.6,78.1 L1367.1,76.5 L1369.6,74.9 L1372.1,73.2 L1374.6,71.5 L1377.1,69.8 L1379.6,67.9 L1382.1,66 L1384.6,64 L1387.1,62.1 L1389.6,60.1 L1392.1,58.3 L1394.6,56.5 L1397,54.8 L1399.5,53 L1402,51.3 L1404.5,49.7 L1407,48.1 L1409.5,46.6 L1412,45.4 L1414.5,44.3 L1417,43.3 L1419.5,42.5 L1422,41.9 L1424.5,41.5 L1427,41.3 L1429.5,41.4 L1432,41.7 L1434.5,42 L1437,42.3 L1439.5,42.6 L1442,42.9 L1444.5,43.1 L1447,43.2 L1449.5,43.1 L1452,42.8 L1454.5,42.5 L1457,42.3 L1459.5,42.1 L1462,41.9 L1464.5,41.8 L1467,41.8 L1469.5,41.9 L1472,42.3 L1474.5,42.8 L1477,43.6 L1479.5,44.7 L1482,46.2 L1484.5,48.1 L1487,49.9 L1489.5,51.6 L1492,53.3 L1494.5,55 L1497,57 L1499.5,59 L1502,61.1 L1504.5,63.3 L1507,65.5 L1509.5,67.8 L1512,70 L1514.5,72.3 L1517,74.6 L1519.5,76.9 L1522,79.1 L1524.4,81.3 L1526.9,83.4 L1529.4,85.5 L1531.9,87.3 L1534.4,89 L1536.9,90.4 L1539.4,91.6 L1541.9,92.5 L1544.4,93.3 L1546.9,93.8 L1549.4,94.3 L1551.9,94.6 L1554.4,94.9 L1556.9,95.1 L1559.4,95.3 L1561.9,95.5 L1564.4,95.6 L1566.9,95.7 L1569.4,95.8 L1571.9,95.8 L1574.4,95.9 L1576.9,95.9 L1579.4,96 L1581.9,96 L1584.4,96 L1586.9,96 L1589.4,96 L1591.9,96 L1594.4,96 L1596.9,96 L1599.4,96 L1601.9,96 L1604.4,96 L1606.9,96 L1609.4,96 L1611.9,96 L1614.4,96 L1616.9,96 L1619.4,96 L1621.9,96 L1624.4,96 L1626.9,96 L1629.4,96 L1631.9,96 L1634.4,96 L1636.9,96 L1639.4,96 L1641.9,96 L1644.4,96 L1646.8,96 L1649.3,96 L1651.8,96 L1654.3,96 L1656.8,96 L1659.3,96 L1661.8,96 L1664.3,96 L1666.8,96 L1669.3,96 L1671.8,96 L1674.3,96 L1676.8,96 L1679.3,96 L1681.8,96 L1684.3,96 L1686.8,96 L1689.3,96 L1691.8,96 L1694.3,96 L1696.8,96 L1699.3,96 L1701.8,96 L1704.3,96 L1706.8,96 L1709.3,96" fill="none" stroke="#F8766D" stroke-width="3.4" stroke-linejoin="round"/>
<path d="M1748,582.5 L1748,582.5 1748,580.7 1748,578.9 1748,577 1748,575.2 1748,573.3 1748,571.5 1748,569.7 1748,567.8 1748,566 1748,564.2 1748,562.3 1748,560.5 1748,558.7 1748,556.8 1748,555 1748,553.2 1748,551.3 1748,549.5 1748,547.7 1748,545.8 1748,544 1748,542.2 1748,540.3 1748,538.5 1748,536.6 1748,534.8 1748,533 1748,531.1 1748,529.3 1748,527.5 1748,525.6 1748,523.8 1748,522 1748,520.1 1748,518.3 1748,516.5 1748,514.6 1748,512.8 1748,511 1748,509.1 1748,507.3 1748,505.5 1748,503.6 1748,501.8 1748,500 1748,498.1 1748,496.3 1748,494.4 1748,492.6 1748,490.8 1748,488.9 1748,487.1 1748,485.3 1748,483.4 1748,481.6 1748,479.8 1748,477.9 1748,476.1 1748,474.3 1748,472.4 1748,470.6 1748,468.8 1748,466.9 1748,465.1 1748,463.3 1748,461.4 1748,459.6 1748,457.8 1748,455.9 1748,454.1 1748,452.2 1748,450.4 1748,448.6 1748,446.7 1748,444.9 1748,443.1 1748,441.2 1748,439.4 1748,437.6 1748,435.7 1748,433.9 1748,432.1 1748,430.2 1748,428.4 1748,426.6 1748,424.7 1748,422.9 1748,421.1 1748,419.2 1748,417.4 1748,415.6 1748,413.7 1748.1,411.9 1748.1,410 1748.2,408.2 1748.3,406.4 1748.4,404.5 1748.6,402.7 1748.9,400.9 1749.2,399 1749.5,397.2 1749.9,395.4 1750.3,393.5 1750.6,391.7 1750.9,389.9 1751.1,388 1751.1,386.2 1751.1,384.4 1751.1,382.5 1751,380.7 1751,378.9 1751.1,377 1751.2,375.2 1751.3,373.4 1751.5,371.5 1751.8,369.7 1752.3,367.8 1752.8,366 1753.4,364.2 1754.2,362.3 1755,360.5 1756,358.7 1757,356.8 1758.1,355 1759.2,353.2 1760.3,351.3 1761.6,349.5 1763,347.7 1764.9,345.8 1767.1,344 1769.5,342.2 1772,340.3 1774.5,338.5 1777,336.7 1779.7,334.8 1782.7,333 1786.2,331.2 1790.4,329.3 1795.1,327.5 1800.2,325.6 1805.3,323.8 1810.6,322 1815.9,320.1 1820.8,318.3 1825.1,316.5 1828.6,314.6 1831.5,312.8 1834.4,311 1838,309.1 1843,307.3 1849.3,305.5 1856.1,303.6 1862.3,301.8 1867.1,300 1870.6,298.1 1872.3,296.3 1871.8,294.5 1868.8,292.6 1862.9,290.8 1854.2,289 1844,287.1 1834.6,285.3 1826.6,283.4 1818.7,281.6 1810.2,279.8 1802.6,277.9 1797,276.1 1792,274.3 1786.2,272.4 1779.8,270.6 1773.8,268.8 1769.1,266.9 1765.8,265.1 1763.4,263.3 1761.6,261.4 1760.6,259.6 1760.1,257.8 1759.8,255.9 1759.7,254.1 1759.5,252.3 1759.2,250.4 1758.8,248.6 1758.3,246.8 1757.7,244.9 1756.9,243.1 1756,241.2 1754.9,239.4 1753.9,237.6 1753.1,235.7 1752.4,233.9 1751.9,232.1 1751.4,230.2 1750.9,228.4 1750.4,226.6 1750,224.7 1749.5,222.9 1749.1,221.1 1748.7,219.2 1748.4,217.4 1748.3,215.6 1748.2,213.7 1748.1,211.9 1748.1,210.1 1748.1,208.2 1748,206.4 1748,204.6 1748,202.7 1748,200.9 1748,199 1748,197.2 1748,195.4 1748,193.5 1748,191.7 1748,189.9 1748,188 1748,186.2 1748,184.4 1748,182.5 1748,180.7 1748,178.9 1748,177 1748,175.2 1748,173.4 1748,171.5 1748,169.7 1748,167.9 1748,166 1748,164.2 1748,162.4 1748,160.5 1748,158.7 1748,156.8 1748,155 1748,153.2 1748,151.3 1748,149.5 1748,147.7 1748,145.8 1748,144 1748,142.2 1748,140.3 1748,138.5 1748,136.7 1748,134.8 1748,133 1748,131.2 1748,129.3 1748,127.5 1748,125.7 1748,123.8 L1748,123.8 Z" fill="#00BA38" fill-opacity="0.5" stroke="none"/>
<path d="M1748,582.5 L1748,582.5 1748,580.7 1748,578.9 1748,577 1748,575.2 1748,573.3 1748,571.5 1748,569.7 1748,567.8 1748,566 1748,564.2 1748,562.3 1748,560.5 1748,558.7 1748,556.8 1748,555 1748,553.2 1748,551.3 1748,549.5 1748,547.7 1748,545.8 1748,544 1748,542.2 1748,540.3 1748,538.5 1748,536.6 1748,534.8 1748,533 1748,531.1 1748,529.3 1748,527.5 1748,525.6 1748,523.8 1748,522 1748,520.1 1748,518.3 1748,516.5 1748,514.6 1748,512.8 1748,511 1748,509.1 1748,507.3 1748,505.5 1748,503.6 1748,501.8 1748,500 1748,498.1 1748,496.3 1748,494.4 1748,492.6 1748,490.8 1748,488.9 1748,487.1 1748,485.3 1748,483.4 1748,481.6 1748,479.8 1748,477.9 1748,476.1 1748,474.3 1748,472.4 1748,470.6 1748,468.8 1748,466.9 1748,465.1 1748,463.3 1748,461.4 1748,459.6 1748,457.8 1748,455.9 1748,454.1 1748,452.2 1748,450.4 1748,448.6 1748,446.7 1748,444.9 1748,443.1 1748,441.2 1748,439.4 1748,437.6 1748,435.7 1748,433.9 1748,432.1 1748,430.2 1748,428.4 1748,426.6 1748,424.7 1748,422.9 1748,421.1 1748,419.2 1748,417.4 1748,415.6 1748,413.7 1748,411.9 1748,410 1748,408.2 1748,406.4 1748,404.5 1748,402.7 1748,400.9 1748,399 1748,397.2 1748,395.4 1748,393.5 1748,391.7 1748,389.9 1748,388 1748,386.2 1748,384.4 1748,382.5 1748,380.7 1748,378.9 1748,377 1748,375.2 1748,373.4 1748,371.5 1748,369.7 1748,367.8 1748,366 1748,364.2 1748,362.3 1748,360.5 1748,358.7 1748,356.8 1748,355 1748,353.2 1748,351.3 1748,349.5 1748,347.7 1748,345.8 1748,344 1748,342.2 1748.1,340.3 1748.1,338.5 1748.2,336.7 1748.4,334.8 1748.6,333 1749,331.2 1749.7,329.3 1750.7,327.5 1752,325.6 1753.4,323.8 1755.1,322 1757,320.1 1759.2,318.3 1761.6,316.5 1764.2,314.6 1767.1,312.8 1770.2,311 1773.4,309.1 1776.7,307.3 1780.1,305.5 1783.5,303.6 1786.8,301.8 1789.8,300 1792.6,298.1 1795.3,296.3 1798,294.5 1801,292.6 1804.3,290.8 1807.6,289 1810.9,287.1 1814.2,285.3 1817.6,283.4 1821.8,281.6 1826.7,279.8 1831.1,277.9 1834.5,276.1 1838.4,274.3 1844.3,272.4 1851.9,270.6 1859.3,268.8 1865,266.9 1868.7,265.1 1870.7,263.3 1870.9,261.4 1869.2,259.6 1865.3,257.8 1859,255.9 1851.3,254.1 1843.2,252.3 1835.4,250.4 1827.9,248.6 1820.7,246.8 1814.3,244.9 1808.8,243.1 1804.3,241.2 1800.3,239.4 1796.3,237.6 1791.9,235.7 1786.8,233.9 1781.3,232.1 1775.8,230.2 1770.8,228.4 1766.2,226.6 1762.1,224.7 1758.5,222.9 1755.7,221.1 1753.7,219.2 1752.3,217.4 1751.3,215.6 1750.6,213.7 1750.1,211.9 1749.9,210.1 1749.9,208.2 1750,206.4 1750.3,204.6 1750.7,202.7 1751.1,200.9 1751.6,199 1752,197.2 1752.4,195.4 1752.7,193.5 1752.9,191.7 1753,189.9 1753,188 1752.9,186.2 1752.7,184.4 1752.3,182.5 1752,180.7 1751.5,178.9 1751,177 1750.6,175.2 1750.1,173.4 1749.7,171.5 1749.4,169.7 1749,167.9 1748.8,166 1748.6,164.2 1748.4,162.4 1748.3,160.5 1748.2,158.7 1748.1,156.8 1748.1,155 1748.1,153.2 1748,151.3 1748,149.5 1748,147.7 1748,145.8 1748,144 1748,142.2 1748,140.3 1748,138.5 1748,136.7 1748,134.8 1748,133 1748,131.2 1748,129.3 1748,127.5 1748,125.7 1748,123.8 L1748,123.8 Z" fill="#619CFF" fill-opacity="0.5" stroke="none"/>
<path d="M1748,582.5 L1749.8,582.5 1750.2,580.7 1750.5,578.9 1750.9,577 1751.2,575.2 1751.6,573.3 1752,571.5 1752.4,569.7 1752.7,567.8 1753,566 1753.2,564.2 1753.4,562.3 1753.6,560.5 1753.6,558.7 1753.6,556.8 1753.6,555 1753.4,553.2 1753.2,551.3 1753,549.5 1752.7,547.7 1752.4,545.8 1752,544 1751.6,542.2 1751.2,540.3 1750.9,538.5 1750.5,536.6 1750.2,534.8 1749.8,533 1749.5,531.1 1749.3,529.3 1749.1,527.5 1748.9,525.6 1748.7,523.8 1748.5,522 1748.4,520.1 1748.3,518.3 1748.2,516.5 1748.2,514.6 1748.1,512.8 1748.1,511 1748.1,509.1 1748.1,507.3 1748,505.5 1748,503.6 1748,501.8 1748,500 1748,498.1 1748,496.3 1748,494.4 1748,492.6 1748,490.8 1748,488.9 1748,487.1 1748,485.3 1748,483.4 1748,481.6 1748,479.8 1748,477.9 1748,476.1 1748,474.3 1748,472.4 1748,470.6 1748,468.8 1748,466.9 1748,465.1 1748,463.3 1748,461.4 1748,459.6 1748,457.8 1748,455.9 1748,454.1 1748,452.2 1748,450.4 1748.1,448.6 1748.1,446.7 1748.1,444.9 1748.2,443.1 1748.2,441.2 1748.3,439.4 1748.4,437.6 1748.6,435.7 1748.8,433.9 1749,432.1 1749.2,430.2 1749.5,428.4 1749.8,426.6 1750.1,424.7 1750.4,422.9 1750.8,421.1 1751.1,419.2 1751.3,417.4 1751.5,415.6 1751.7,413.7 1751.8,411.9 1751.8,410 1751.7,408.2 1751.5,406.4 1751.3,404.5 1751.1,402.7 1750.8,400.9 1750.4,399 1750.1,397.2 1749.8,395.4 1749.5,393.5 1749.3,391.7 1749.4,389.9 1749.7,388 1750.2,386.2 1751,384.4 1752,382.5 1753.1,380.7 1754.5,378.9 1756.3,377 1758.7,375.2 1761.6,373.4 1764.7,371.5 1768,369.7 1771.5,367.8 1775.2,366 1779,364.2 1782.8,362.3 1786.5,360.5 1790.3,358.7 1794,356.8 1797.5,355 1800.8,353.2 1804,351.3 1806.9,349.5 1809.7,347.7 1812.2,345.8 1814.5,344 1816.6,342.2 1818.6,340.3 1820.4,338.5 1822.1,336.7 1823.6,334.8 1825,333 1826.2,331.2 1827.3,329.3 1828.3,327.5 1828.9,325.6 1829.1,323.8 1829,322 1828.6,320.1 1827.9,318.3 1826.9,316.5 1825.5,314.6 1823.4,312.8 1820.8,311 1818,309.1 1815,307.3 1811.7,305.5 1808.3,303.6 1804.8,301.8 1801.3,300 1797.9,298.1 1794.4,296.3 1791.1,294.5 1788,292.6 1785.1,290.8 1782.3,289 1779.8,287.1 1777.4,285.3 1775.3,283.4 1773.1,281.6 1771.1,279.8 1769.3,277.9 1768,276.1 1766.9,274.3 1765.8,272.4 1764.6,270.6 1763.4,268.8 1762.3,266.9 1761.2,265.1 1760.2,263.3 1759.1,261.4 1758.1,259.6 1757.1,257.8 1756.1,255.9 1755.1,254.1 1754.1,252.3 1753.1,250.4 1752.2,248.6 1751.4,246.8 1750.6,244.9 1750.1,243.1 1749.7,241.2 1749.3,239.4 1749.1,237.6 1748.8,235.7 1748.6,233.9 1748.5,232.1 1748.3,230.2 1748.2,228.4 1748.1,226.6 1748,224.7 1748,222.9 1748,221.1 1748,219.2 1748,217.4 1748,215.6 1748,213.7 1748,211.9 1748,210.1 1748,208.2 1748,206.4 1748,204.6 1748,202.7 1748,200.9 1748,199 1748,197.2 1748,195.4 1748,193.5 1748,191.7 1748,189.9 1748,188 1748,186.2 1748,184.4 1748,182.5 1748,180.7 1748,178.9 1748,177 1748,175.2 1748,173.4 1748,171.5 1748,169.7 1748,167.9 1748,166 1748,164.2 1748,162.4 1748,160.5 1748,158.7 1748,156.8 1748,155 1748,153.2 1748,151.3 1748,149.5 1748,147.7 1748,145.8 1748,144 1748,142.2 1748,140.3 1748,138.5 1748,136.7 1748,134.8 1748,133 1748,131.2 1748,129.3 1748,127.5 1748,125.7 1748,123.8 L1748,123.8 Z" fill="#F8766D" fill-opacity="0.5" stroke="none"/>
<path d="M1748,582.5 L1748,580.7 L1748,578.9 L1748,577 L1748,575.2 L1748,573.3 L1748,571.5 L1748,569.7 L1748,567.8 L1748,566 L1748,564.2 L1748,562.3 L1748,560.5 L1748,558.7 L1748,556.8 L1748,555 L1748,553.2 L1748,551.3 L1748,549.5 L1748,547.7 L1748,545.8 L1748,544 L1748,542.2 L1748,540.3 L1748,538.5 L1748,536.6 L1748,534.8 L1748,533 L1748,531.1 L1748,529.3 L1748,527.5 L1748,525.6 L1748,523.8 L1748,522 L1748,520.1 L1748,518.3 L1748,516.5 L1748,514.6 L1748,512.8 L1748,511 L1748,509.1 L1748,507.3 L1748,505.5 L1748,503.6 L1748,501.8 L1748,500 L1748,498.1 L1748,496.3 L1748,494.4 L1748,492.6 L1748,490.8 L1748,488.9 L1748,487.1 L1748,485.3 L1748,483.4 L1748,481.6 L1748,479.8 L1748,477.9 L1748,476.1 L1748,474.3 L1748,472.4 L1748,470.6 L1748,468.8 L1748,466.9 L1748,465.1 L1748,463.3 L1748,461.4 L1748,459.6 L1748,457.8 L1748,455.9 L1748,454.1 L1748,452.2 L1748,450.4 L1748,448.6 L1748,446.7 L1748,444.9 L1748,443.1 L1748,441.2 L1748,439.4 L1748,437.6 L1748,435.7 L1748,433.9 L1748,432.1 L1748,430.2 L1748,428.4 L1748,426.6 L1748,424.7 L1748,422.9 L1748,421.1 L1748,419.2 L1748,417.4 L1748,415.6 L1748,413.7 L1748.1,411.9 L1748.1,410 L1748.2,408.2 L1748.3,406.4 L1748.4,404.5 L1748.6,402.7 L1748.9,400.9 L1749.2,399 L1749.5,397.2 L1749.9,395.4 L1750.3,393.5 L1750.6,391.7 L1750.9,389.9 L1751.1,388 L1751.1,386.2 L1751.1,384.4 L1751.1,382.5 L1751,380.7 L1751,378.9 L1751.1,377 L1751.2,375.2 L1751.3,373.4 L1751.5,371.5 L1751.8,369.7 L1752.3,367.8 L1752.8,366 L1753.4,364.2 L1754.2,362.3 L1755,360.5 L1756,358.7 L1757,356.8 L1758.1,355 L1759.2,353.2 L1760.3,351.3 L1761.6,349.5 L1763,347.7 L1764.9,345.8 L1767.1,344 L1769.5,342.2 L1772,340.3 L1774.5,338.5 L1777,336.7 L1779.7,334.8 L1782.7,333 L1786.2,331.2 L1790.4,329.3 L1795.1,327.5 L1800.2,325.6 L1805.3,323.8 L1810.6,322 L1815.9,320.1 L1820.8,318.3 L1825.1,316.5 L1828.6,314.6 L1831.5,312.8 L1834.4,311 L1838,309.1 L1843,307.3 L1849.3,305.5 L1856.1,303.6 L1862.3,301.8 L1867.1,300 L1870.6,298.1 L1872.3,296.3 L1871.8,294.5 L1868.8,292.6 L1862.9,290.8 L1854.2,289 L1844,287.1 L1834.6,285.3 L1826.6,283.4 L1818.7,281.6 L1810.2,279.8 L1802.6,277.9 L1797,276.1 L1792,274.3 L1786.2,272.4 L1779.8,270.6 L1773.8,268.8 L1769.1,266.9 L1765.8,265.1 L1763.4,263.3 L1761.6,261.4 L1760.6,259.6 L1760.1,257.8 L1759.8,255.9 L1759.7,254.1 L1759.5,252.3 L1759.2,250.4 L1758.8,248.6 L1758.3,246.8 L1757.7,244.9 L1756.9,243.1 L1756,241.2 L1754.9,239.4 L1753.9,237.6 L1753.1,235.7 L1752.4,233.9 L1751.9,232.1 L1751.4,230.2 L1750.9,228.4 L1750.4,226.6 L1750,224.7 L1749.5,222.9 L1749.1,221.1 L1748.7,219.2 L1748.4,217.4 L1748.3,215.6 L1748.2,213.7 L1748.1,211.9 L1748.1,210.1 L1748.1,208.2 L1748,206.4 L1748,204.6 L1748,202.7 L1748,200.9 L1748,199 L1748,197.2 L1748,195.4 L1748,193.5 L1748,191.7 L1748,189.9 L1748,188 L1748,186.2 L1748,184.4 L1748,182.5 L1748,180.7 L1748,178.9 L1748,177 L1748,175.2 L1748,173.4 L1748,171.5 L1748,169.7 L1748,167.9 L1748,166 L1748,164.2 L1748,162.4 L1748,160.5 L1748,158.7 L1748,156.8 L1748,155 L1748,153.2 L1748,151.3 L1748,149.5 L1748,147.7 L1748,145.8 L1748,144 L1748,142.2 L1748,140.3 L1748,138.5 L1748,136.7 L1748,134.8 L1748,133 L1748,131.2 L1748,129.3 L1748,127.5 L1748,125.7 L1748,123.8" fill="none" stroke="#00BA38" stroke-width="3.4" stroke-linejoin="round"/>
<path d="M1748,582.5 L1748,580.7 L1748,578.9 L1748,577 L1748,575.2 L1748,573.3 L1748,571.5 L1748,569.7 L1748,567.8 L1748,566 L1748,564.2 L1748,562.3 L1748,560.5 L1748,558.7 L1748,556.8 L1748,555 L1748,553.2 L1748,551.3 L1748,549.5 L1748,547.7 L1748,545.8 L1748,544 L1748,542.2 L1748,540.3 L1748,538.5 L1748,536.6 L1748,534.8 L1748,533 L1748,531.1 L1748,529.3 L1748,527.5 L1748,525.6 L1748,523.8 L1748,522 L1748,520.1 L1748,518.3 L1748,516.5 L1748,514.6 L1748,512.8 L1748,511 L1748,509.1 L1748,507.3 L1748,505.5 L1748,503.6 L1748,501.8 L1748,500 L1748,498.1 L1748,496.3 L1748,494.4 L1748,492.6 L1748,490.8 L1748,488.9 L1748,487.1 L1748,485.3 L1748,483.4 L1748,481.6 L1748,479.8 L1748,477.9 L1748,476.1 L1748,474.3 L1748,472.4 L1748,470.6 L1748,468.8 L1748,466.9 L1748,465.1 L1748,463.3 L1748,461.4 L1748,459.6 L1748,457.8 L1748,455.9 L1748,454.1 L1748,452.2 L1748,450.4 L1748,448.6 L1748,446.7 L1748,444.9 L1748,443.1 L1748,441.2 L1748,439.4 L1748,437.6 L1748,435.7 L1748,433.9 L1748,432.1 L1748,430.2 L1748,428.4 L1748,426.6 L1748,424.7 L1748,422.9 L1748,421.1 L1748,419.2 L1748,417.4 L1748,415.6 L1748,413.7 L1748,411.9 L1748,410 L1748,408.2 L1748,406.4 L1748,404.5 L1748,402.7 L1748,400.9 L1748,399 L1748,397.2 L1748,395.4 L1748,393.5 L1748,391.7 L1748,389.9 L1748,388 L1748,386.2 L1748,384.4 L1748,382.5 L1748,380.7 L1748,378.9 L1748,377 L1748,375.2 L1748,373.4 L1748,371.5 L1748,369.7 L1748,367.8 L1748,366 L1748,364.2 L1748,362.3 L1748,360.5 L1748,358.7 L1748,356.8 L1748,355 L1748,353.2 L1748,351.3 L1748,349.5 L1748,347.7 L1748,345.8 L1748,344 L1748,342.2 L1748.1,340.3 L1748.1,338.5 L1748.2,336.7 L1748.4,334.8 L1748.6,333 L1749,331.2 L1749.7,329.3 L1750.7,327.5 L1752,325.6 L1753.4,323.8 L1755.1,322 L1757,320.1 L1759.2,318.3 L1761.6,316.5 L1764.2,314.6 L1767.1,312.8 L1770.2,311 L1773.4,309.1 L1776.7,307.3 L1780.1,305.5 L1783.5,303.6 L1786.8,301.8 L1789.8,300 L1792.6,298.1 L1795.3,296.3 L1798,294.5 L1801,292.6 L1804.3,290.8 L1807.6,289 L1810.9,287.1 L1814.2,285.3 L1817.6,283.4 L1821.8,281.6 L1826.7,279.8 L1831.1,277.9 L1834.5,276.1 L1838.4,274.3 L1844.3,272.4 L1851.9,270.6 L1859.3,268.8 L1865,266.9 L1868.7,265.1 L1870.7,263.3 L1870.9,261.4 L1869.2,259.6 L1865.3,257.8 L1859,255.9 L1851.3,254.1 L1843.2,252.3 L1835.4,250.4 L1827.9,248.6 L1820.7,246.8 L1814.3,244.9 L1808.8,243.1 L1804.3,241.2 L1800.3,239.4 L1796.3,237.6 L1791.9,235.7 L1786.8,233.9 L1781.3,232.1 L1775.8,230.2 L1770.8,228.4 L1766.2,226.6 L1762.1,224.7 L1758.5,222.9 L1755.7,221.1 L1753.7,219.2 L1752.3,217.4 L1751.3,215.6 L1750.6,213.7 L1750.1,211.9 L1749.9,210.1 L1749.9,208.2 L1750,206.4 L1750.3,204.6 L1750.7,202.7 L1751.1,200.9 L1751.6,199 L1752,197.2 L1752.4,195.4 L1752.7,193.5 L1752.9,191.7 L1753,189.9 L1753,188 L1752.9,186.2 L1752.7,184.4 L1752.3,182.5 L1752,180.7 L1751.5,178.9 L1751,177 L1750.6,175.2 L1750.1,173.4 L1749.7,171.5 L1749.4,169.7 L1749,167.9 L1748.8,166 L1748.6,164.2 L1748.4,162.4 L1748.3,160.5 L1748.2,158.7 L1748.1,156.8 L1748.1,155 L1748.1,153.2 L1748,151.3 L1748,149.5 L1748,147.7 L1748,145.8 L1748,144 L1748,142.2 L1748,140.3 L1748,138.5 L1748,136.7 L1748,134.8 L1748,133 L1748,131.2 L1748,129.3 L1748,127.5 L1748,125.7 L1748,123.8" fill="none" stroke="#619CFF" stroke-width="3.4" stroke-linejoin="round"/>
<path d="M1749.8,582.5 L1750.2,580.7 L1750.5,578.9 L1750.9,577 L1751.2,575.2 L1751.6,573.3 L1752,571.5 L1752.4,569.7 L1752.7,567.8 L1753,566 L1753.2,564.2 L1753.4,562.3 L1753.6,560.5 L1753.6,558.7 L1753.6,556.8 L1753.6,555 L1753.4,553.2 L1753.2,551.3 L1753,549.5 L1752.7,547.7 L1752.4,545.8 L1752,544 L1751.6,542.2 L1751.2,540.3 L1750.9,538.5 L1750.5,536.6 L1750.2,534.8 L1749.8,533 L1749.5,531.1 L1749.3,529.3 L1749.1,527.5 L1748.9,525.6 L1748.7,523.8 L1748.5,522 L1748.4,520.1 L1748.3,518.3 L1748.2,516.5 L1748.2,514.6 L1748.1,512.8 L1748.1,511 L1748.1,509.1 L1748.1,507.3 L1748,505.5 L1748,503.6 L1748,501.8 L1748,500 L1748,498.1 L1748,496.3 L1748,494.4 L1748,492.6 L1748,490.8 L1748,488.9 L1748,487.1 L1748,485.3 L1748,483.4 L1748,481.6 L1748,479.8 L1748,477.9 L1748,476.1 L1748,474.3 L1748,472.4 L1748,470.6 L1748,468.8 L1748,466.9 L1748,465.1 L1748,463.3 L1748,461.4 L1748,459.6 L1748,457.8 L1748,455.9 L1748,454.1 L1748,452.2 L1748,450.4 L1748.1,448.6 L1748.1,446.7 L1748.1,444.9 L1748.2,443.1 L1748.2,441.2 L1748.3,439.4 L1748.4,437.6 L1748.6,435.7 L1748.8,433.9 L1749,432.1 L1749.2,430.2 L1749.5,428.4 L1749.8,426.6 L1750.1,424.7 L1750.4,422.9 L1750.8,421.1 L1751.1,419.2 L1751.3,417.4 L1751.5,415.6 L1751.7,413.7 L1751.8,411.9 L1751.8,410 L1751.7,408.2 L1751.5,406.4 L1751.3,404.5 L1751.1,402.7 L1750.8,400.9 L1750.4,399 L1750.1,397.2 L1749.8,395.4 L1749.5,393.5 L1749.3,391.7 L1749.4,389.9 L1749.7,388 L1750.2,386.2 L1751,384.4 L1752,382.5 L1753.1,380.7 L1754.5,378.9 L1756.3,377 L1758.7,375.2 L1761.6,373.4 L1764.7,371.5 L1768,369.7 L1771.5,367.8 L1775.2,366 L1779,364.2 L1782.8,362.3 L1786.5,360.5 L1790.3,358.7 L1794,356.8 L1797.5,355 L1800.8,353.2 L1804,351.3 L1806.9,349.5 L1809.7,347.7 L1812.2,345.8 L1814.5,344 L1816.6,342.2 L1818.6,340.3 L1820.4,338.5 L1822.1,336.7 L1823.6,334.8 L1825,333 L1826.2,331.2 L1827.3,329.3 L1828.3,327.5 L1828.9,325.6 L1829.1,323.8 L1829,322 L1828.6,320.1 L1827.9,318.3 L1826.9,316.5 L1825.5,314.6 L1823.4,312.8 L1820.8,311 L1818,309.1 L1815,307.3 L1811.7,305.5 L1808.3,303.6 L1804.8,301.8 L1801.3,300 L1797.9,298.1 L1794.4,296.3 L1791.1,294.5 L1788,292.6 L1785.1,290.8 L1782.3,289 L1779.8,287.1 L1777.4,285.3 L1775.3,283.4 L1773.1,281.6 L1771.1,279.8 L1769.3,277.9 L1768,276.1 L1766.9,274.3 L1765.8,272.4 L1764.6,270.6 L1763.4,268.8 L1762.3,266.9 L1761.2,265.1 L1760.2,263.3 L1759.1,261.4 L1758.1,259.6 L1757.1,257.8 L1756.1,255.9 L1755.1,254.1 L1754.1,252.3 L1753.1,250.4 L1752.2,248.6 L1751.4,246.8 L1750.6,244.9 L1750.1,243.1 L1749.7,241.2 L1749.3,239.4 L1749.1,237.6 L1748.8,235.7 L1748.6,233.9 L1748.5,232.1 L1748.3,230.2 L1748.2,228.4 L1748.1,226.6 L1748,224.7 L1748,222.9 L1748,221.1 L1748,219.2 L1748,217.4 L1748,215.6 L1748,213.7 L1748,211.9 L1748,210.1 L1748,208.2 L1748,206.4 L1748,204.6 L1748,202.7 L1748,200.9 L1748,199 L1748,197.2 L1748,195.4 L1748,193.5 L1748,191.7 L1748,189.9 L1748,188 L1748,186.2 L1748,184.4 L1748,182.5 L1748,180.7 L1748,178.9 L1748,177 L1748,175.2 L1748,173.4 L1748,171.5 L1748,169.7 L1748,167.9 L1748,166 L1748,164.2 L1748,162.4 L1748,160.5 L1748,158.7 L1748,156.8 L1748,155 L1748,153.2 L1748,151.3 L1748,149.5 L1748,147.7 L1748,145.8 L1748,144 L1748,142.2 L1748,140.3 L1748,138.5 L1748,136.7 L1748,134.8 L1748,133 L1748,131.2 L1748,129.3 L1748,127.5 L1748,125.7 L1748,123.8" fill="none" stroke="#F8766D" stroke-width="3.4" stroke-linejoin="round"/>
<clipPath id="clip1"><rect x="1054.1" y="101.7" width="686.9" height="502.8"/></clipPath>
<g><line x1="1147.25" y1="101.7" x2="1147.25" y2="604.5" stroke="#EBEBEB" stroke-width="1.6"/><line x1="1054.1" y1="536.65" x2="1741" y2="536.65" stroke="#EBEBEB" stroke-width="1.6"/><line x1="1272.15" y1="101.7" x2="1272.15" y2="604.5" stroke="#EBEBEB" stroke-width="1.6"/><line x1="1054.1" y1="444.91" x2="1741" y2="444.91" stroke="#EBEBEB" stroke-width="1.6"/><line x1="1397.05" y1="101.7" x2="1397.05" y2="604.5" stroke="#EBEBEB" stroke-width="1.6"/><line x1="1054.1" y1="353.17" x2="1741" y2="353.17" stroke="#EBEBEB" stroke-width="1.6"/><line x1="1521.95" y1="101.7" x2="1521.95" y2="604.5" stroke="#EBEBEB" stroke-width="1.6"/><line x1="1054.1" y1="261.43" x2="1741" y2="261.43" stroke="#EBEBEB" stroke-width="1.6"/><line x1="1646.85" y1="101.7" x2="1646.85" y2="604.5" stroke="#EBEBEB" stroke-width="1.6"/><line x1="1054.1" y1="169.69" x2="1741" y2="169.69" stroke="#EBEBEB" stroke-width="1.6"/><line x1="1084.8" y1="101.7" x2="1084.8" y2="604.5" stroke="#EBEBEB" stroke-width="3.0"/><line x1="1054.1" y1="582.52" x2="1741" y2="582.52" stroke="#EBEBEB" stroke-width="3.0"/><line x1="1209.7" y1="101.7" x2="1209.7" y2="604.5" stroke="#EBEBEB" stroke-width="3.0"/><line x1="1054.1" y1="490.78" x2="1741" y2="490.78" stroke="#EBEBEB" stroke-width="3.0"/><line x1="1334.6" y1="101.7" x2="1334.6" y2="604.5" stroke="#EBEBEB" stroke-width="3.0"/><line x1="1054.1" y1="399.04" x2="1741" y2="399.04" stroke="#EBEBEB" stroke-width="3.0"/><line x1="1459.5" y1="101.7" x2="1459.5" y2="604.5" stroke="#EBEBEB" stroke-width="3.0"/><line x1="1054.1" y1="307.3" x2="1741" y2="307.3" stroke="#EBEBEB" stroke-width="3.0"/><line x1="1584.4" y1="101.7" x2="1584.4" y2="604.5" stroke="#EBEBEB" stroke-width="3.0"/><line x1="1054.1" y1="215.56" x2="1741" y2="215.56" stroke="#EBEBEB" stroke-width="3.0"/><line x1="1709.3" y1="101.7" x2="1709.3" y2="604.5" stroke="#EBEBEB" stroke-width="3.0"/><line x1="1054.1" y1="123.82" x2="1741" y2="123.82" stroke="#EBEBEB" stroke-width="3.0"/></g>
<g fill="#000000" font-size="41" transform="translate(0 230.16) scale(1 1.045) translate(0 -230.16)"><text x="1140.3" y="230.16" font-style="italic">r</text><text transform="translate(1165.5 233.81) scale(1.16 1)" font-family="Liberation Serif">=</text><text x="1199.7" y="230.16">0.67</text></g>
<g fill="#EE0000" font-size="41" transform="translate(0 303.55) scale(1 1.045) translate(0 -303.55)"><text x="1202.75" y="303.55" font-style="italic">r</text><text transform="translate(1227.95 307.2) scale(1.16 1)" font-family="Liberation Serif">=</text><text x="1262.15" y="303.55">0.81</text></g>
<g fill="#00CD00" font-size="41" transform="translate(0 211.81) scale(1 1.045) translate(0 -211.81)"><text x="1358.88" y="211.81" font-style="italic">r</text><text transform="translate(1384.08 215.46) scale(1.16 1)" font-family="Liberation Serif">=</text><text x="1418.28" y="211.81">0.51</text></g>
<g fill="#0000EE" font-size="41" transform="translate(0 156.77) scale(1 1.045) translate(0 -156.77)"><text x="1515" y="156.77" font-style="italic">r</text><text transform="translate(1540.2 160.42) scale(1.16 1)" font-family="Liberation Serif">=</text><text x="1574.4" y="156.77">0.43</text></g>
<g clip-path="url(#clip1)">
<g><circle cx="1436.0" cy="290.9" r="8.2" fill="#00BA38"/><circle cx="1444.0" cy="290.9" r="8.2" fill="#00BA38"/><circle cx="1452.0" cy="290.9" r="8.2" fill="#00BA38"/><circle cx="1460.0" cy="290.9" r="8.2" fill="#00BA38"/><circle cx="1468.0" cy="290.9" r="8.2" fill="#00BA38"/><circle cx="1476.0" cy="290.9" r="8.2" fill="#00BA38"/><circle cx="1484.0" cy="290.9" r="8.2" fill="#00BA38"/><circle cx="1492.0" cy="290.9" r="8.2" fill="#00BA38"/><circle cx="1500.0" cy="290.9" r="8.2" fill="#00BA38"/><circle cx="1508.0" cy="290.9" r="8.2" fill="#00BA38"/><circle cx="1516.0" cy="290.9" r="8.2" fill="#00BA38"/><circle cx="1524.0" cy="290.9" r="8.2" fill="#00BA38"/><circle cx="1532.0" cy="290.9" r="8.2" fill="#00BA38"/><circle cx="1424.0" cy="297.9" r="8.2" fill="#00BA38"/><circle cx="1432.0" cy="297.9" r="8.2" fill="#00BA38"/><circle cx="1440.0" cy="297.9" r="8.2" fill="#00BA38"/><circle cx="1448.0" cy="297.9" r="8.2" fill="#00BA38"/><circle cx="1456.0" cy="297.9" r="8.2" fill="#00BA38"/><circle cx="1464.0" cy="297.9" r="8.2" fill="#00BA38"/><circle cx="1472.0" cy="297.9" r="8.2" fill="#00BA38"/><circle cx="1480.0" cy="297.9" r="8.2" fill="#00BA38"/><circle cx="1488.0" cy="297.9" r="8.2" fill="#00BA38"/><circle cx="1496.0" cy="297.9" r="8.2" fill="#00BA38"/><circle cx="1504.0" cy="297.9" r="8.2" fill="#00BA38"/><circle cx="1512.0" cy="297.9" r="8.2" fill="#00BA38"/><circle cx="1520.0" cy="297.9" r="8.2" fill="#00BA38"/><circle cx="1528.0" cy="297.9" r="8.2" fill="#00BA38"/><circle cx="1536.0" cy="297.9" r="8.2" fill="#00BA38"/><circle cx="1420.0" cy="304.8" r="8.2" fill="#00BA38"/><circle cx="1428.0" cy="304.8" r="8.2" fill="#00BA38"/><circle cx="1436.0" cy="304.8" r="8.2" fill="#00BA38"/><circle cx="1444.0" cy="304.8" r="8.2" fill="#00BA38"/><circle cx="1452.0" cy="304.8" r="8.2" fill="#00BA38"/><circle cx="1460.0" cy="304.8" r="8.2" fill="#00BA38"/><circle cx="1468.0" cy="304.8" r="8.2" fill="#00BA38"/><circle cx="1476.0" cy="304.8" r="8.2" fill="#00BA38"/><circle cx="1484.0" cy="304.8" r="8.2" fill="#00BA38"/><circle cx="1492.0" cy="304.8" r="8.2" fill="#00BA38"/><circle cx="1500.0" cy="304.8" r="8.2" fill="#00BA38"/><circle cx="1508.0" cy="304.8" r="8.2" fill="#00BA38"/><circle cx="1516.0" cy="304.8" r="8.2" fill="#00BA38"/><circle cx="1524.0" cy="304.8" r="8.2" fill="#00BA38"/><circle cx="1532.0" cy="304.8" r="8.2" fill="#00BA38"/><circle cx="1408.0" cy="311.7" r="8.2" fill="#00BA38"/><circle cx="1416.0" cy="311.7" r="8.2" fill="#00BA38"/><circle cx="1424.0" cy="311.7" r="8.2" fill="#00BA38"/><circle cx="1432.0" cy="311.7" r="8.2" fill="#00BA38"/><circle cx="1440.0" cy="311.7" r="8.2" fill="#00BA38"/><circle cx="1448.0" cy="311.7" r="8.2" fill="#00BA38"/><circle cx="1456.0" cy="311.7" r="8.2" fill="#00BA38"/><circle cx="1464.0" cy="311.7" r="8.2" fill="#00BA38"/><circle cx="1472.0" cy="311.7" r="8.2" fill="#00BA38"/><circle cx="1480.0" cy="311.7" r="8.2" fill="#00BA38"/><circle cx="1488.0" cy="311.7" r="8.2" fill="#00BA38"/><circle cx="1496.0" cy="311.7" r="8.2" fill="#00BA38"/><circle cx="1504.0" cy="311.7" r="8.2" fill="#00BA38"/><circle cx="1512.0" cy="311.7" r="8.2" fill="#00BA38"/><circle cx="1520.0" cy="311.7" r="8.2" fill="#00BA38"/><circle cx="1396.0" cy="318.6" r="8.2" fill="#00BA38"/><circle cx="1404.0" cy="318.6" r="8.2" fill="#00BA38"/><circle cx="1412.0" cy="318.6" r="8.2" fill="#00BA38"/><circle cx="1420.0" cy="318.6" r="8.2" fill="#00BA38"/><circle cx="1428.0" cy="318.6" r="8.2" fill="#00BA38"/><circle cx="1436.0" cy="318.6" r="8.2" fill="#00BA38"/><circle cx="1444.0" cy="318.6" r="8.2" fill="#00BA38"/><circle cx="1452.0" cy="318.6" r="8.2" fill="#00BA38"/><circle cx="1460.0" cy="318.6" r="8.2" fill="#00BA38"/><circle cx="1468.0" cy="318.6" r="8.2" fill="#00BA38"/><circle cx="1476.0" cy="318.6" r="8.2" fill="#00BA38"/><circle cx="1484.0" cy="318.6" r="8.2" fill="#00BA38"/><circle cx="1492.0" cy="318.6" r="8.2" fill="#00BA38"/><circle cx="1500.0" cy="318.6" r="8.2" fill="#00BA38"/><circle cx="1508.0" cy="318.6" r="8.2" fill="#00BA38"/><circle cx="1400.0" cy="325.6" r="8.2" fill="#00BA38"/><circle cx="1408.0" cy="325.6" r="8.2" fill="#00BA38"/><circle cx="1416.0" cy="325.6" r="8.2" fill="#00BA38"/><circle cx="1424.0" cy="325.6" r="8.2" fill="#00BA38"/><circle cx="1432.0" cy="325.6" r="8.2" fill="#00BA38"/><circle cx="1440.0" cy="325.6" r="8.2" fill="#00BA38"/><circle cx="1448.0" cy="325.6" r="8.2" fill="#00BA38"/><circle cx="1456.0" cy="325.6" r="8.2" fill="#00BA38"/><circle cx="1464.0" cy="325.6" r="8.2" fill="#00BA38"/><circle cx="1472.0" cy="325.6" r="8.2" fill="#00BA38"/><circle cx="1480.0" cy="325.6" r="8.2" fill="#00BA38"/><circle cx="1488.0" cy="325.6" r="8.2" fill="#00BA38"/><circle cx="1496.0" cy="325.6" r="8.2" fill="#00BA38"/><circle cx="1504.0" cy="325.6" r="8.2" fill="#00BA38"/><circle cx="1428.0" cy="332.5" r="8.2" fill="#00BA38"/><circle cx="1436.0" cy="332.5" r="8.2" fill="#00BA38"/><circle cx="1444.0" cy="332.5" r="8.2" fill="#00BA38"/><circle cx="1452.0" cy="332.5" r="8.2" fill="#00BA38"/><circle cx="1460.0" cy="332.5" r="8.2" fill="#00BA38"/><circle cx="1468.0" cy="332.5" r="8.2" fill="#00BA38"/><circle cx="1476.0" cy="332.5" r="8.2" fill="#00BA38"/><circle cx="1484.0" cy="332.5" r="8.2" fill="#00BA38"/><circle cx="1492.0" cy="332.5" r="8.2" fill="#00BA38"/><circle cx="1500.0" cy="332.5" r="8.2" fill="#00BA38"/><circle cx="1392.0" cy="322.0" r="8.2" fill="#00BA38"/><circle cx="1418.0" cy="300.0" r="8.2" fill="#00BA38"/><circle cx="1432.0" cy="288.0" r="8.2" fill="#00BA38"/><circle cx="1463.0" cy="284.0" r="8.2" fill="#00BA38"/><circle cx="1503.0" cy="288.0" r="8.2" fill="#00BA38"/><circle cx="1533.0" cy="284.0" r="8.2" fill="#00BA38"/><circle cx="1543.0" cy="300.0" r="8.2" fill="#00BA38"/><circle cx="1520.0" cy="314.0" r="8.2" fill="#00BA38"/><circle cx="1502.0" cy="334.0" r="8.2" fill="#00BA38"/><circle cx="1472.0" cy="338.0" r="8.2" fill="#00BA38"/><circle cx="1440.0" cy="338.0" r="8.2" fill="#00BA38"/><circle cx="1418.0" cy="330.0" r="8.2" fill="#00BA38"/><circle cx="1398.0" cy="330.0" r="8.2" fill="#00BA38"/><circle cx="1479.0" cy="241.9" r="8.2" fill="#619CFF"/><circle cx="1487.0" cy="241.9" r="8.2" fill="#619CFF"/><circle cx="1495.0" cy="241.9" r="8.2" fill="#619CFF"/><circle cx="1503.0" cy="241.9" r="8.2" fill="#619CFF"/><circle cx="1511.0" cy="241.9" r="8.2" fill="#619CFF"/><circle cx="1519.0" cy="241.9" r="8.2" fill="#619CFF"/><circle cx="1467.0" cy="248.9" r="8.2" fill="#619CFF"/><circle cx="1475.0" cy="248.9" r="8.2" fill="#619CFF"/><circle cx="1483.0" cy="248.9" r="8.2" fill="#619CFF"/><circle cx="1491.0" cy="248.9" r="8.2" fill="#619CFF"/><circle cx="1499.0" cy="248.9" r="8.2" fill="#619CFF"/><circle cx="1507.0" cy="248.9" r="8.2" fill="#619CFF"/><circle cx="1515.0" cy="248.9" r="8.2" fill="#619CFF"/><circle cx="1523.0" cy="248.9" r="8.2" fill="#619CFF"/><circle cx="1455.0" cy="255.8" r="8.2" fill="#619CFF"/><circle cx="1463.0" cy="255.8" r="8.2" fill="#619CFF"/><circle cx="1471.0" cy="255.8" r="8.2" fill="#619CFF"/><circle cx="1479.0" cy="255.8" r="8.2" fill="#619CFF"/><circle cx="1487.0" cy="255.8" r="8.2" fill="#619CFF"/><circle cx="1495.0" cy="255.8" r="8.2" fill="#619CFF"/><circle cx="1503.0" cy="255.8" r="8.2" fill="#619CFF"/><circle cx="1511.0" cy="255.8" r="8.2" fill="#619CFF"/><circle cx="1519.0" cy="255.8" r="8.2" fill="#619CFF"/><circle cx="1527.0" cy="255.8" r="8.2" fill="#619CFF"/><circle cx="1535.0" cy="255.8" r="8.2" fill="#619CFF"/><circle cx="1459.0" cy="262.7" r="8.2" fill="#619CFF"/><circle cx="1467.0" cy="262.7" r="8.2" fill="#619CFF"/><circle cx="1475.0" cy="262.7" r="8.2" fill="#619CFF"/><circle cx="1483.0" cy="262.7" r="8.2" fill="#619CFF"/><circle cx="1491.0" cy="262.7" r="8.2" fill="#619CFF"/><circle cx="1499.0" cy="262.7" r="8.2" fill="#619CFF"/><circle cx="1507.0" cy="262.7" r="8.2" fill="#619CFF"/><circle cx="1515.0" cy="262.7" r="8.2" fill="#619CFF"/><circle cx="1523.0" cy="262.7" r="8.2" fill="#619CFF"/><circle cx="1531.0" cy="262.7" r="8.2" fill="#619CFF"/><circle cx="1495.0" cy="269.6" r="8.2" fill="#619CFF"/><circle cx="1503.0" cy="269.6" r="8.2" fill="#619CFF"/><circle cx="1511.0" cy="269.6" r="8.2" fill="#619CFF"/><circle cx="1519.0" cy="269.6" r="8.2" fill="#619CFF"/><circle cx="1451.0" cy="258.0" r="8.2" fill="#619CFF"/><circle cx="1481.0" cy="235.0" r="8.2" fill="#619CFF"/><circle cx="1524.0" cy="240.0" r="8.2" fill="#619CFF"/><circle cx="1540.0" cy="262.0" r="8.2" fill="#619CFF"/><circle cx="1514.0" cy="272.0" r="8.2" fill="#619CFF"/><circle cx="1472.0" cy="268.0" r="8.2" fill="#619CFF"/><circle cx="1455.0" cy="265.0" r="8.2" fill="#619CFF"/><circle cx="1402.6" cy="304.2" r="8.2" fill="#00BA38"/><circle cx="1410.9" cy="296.9" r="8.2" fill="#00BA38"/><circle cx="1417.2" cy="293.8" r="8.2" fill="#00BA38"/><circle cx="1428.6" cy="284.4" r="8.2" fill="#00BA38"/><circle cx="1443.2" cy="281.3" r="8.2" fill="#00BA38"/><circle cx="1455.0" cy="285.0" r="8.2" fill="#00BA38"/><circle cx="1450.5" cy="323.0" r="8.2" fill="#00BA38"/><circle cx="1440.0" cy="315.0" r="8.2" fill="#00BA38"/><circle cx="1430.0" cy="305.0" r="8.2" fill="#00BA38"/><circle cx="1420.0" cy="315.0" r="8.2" fill="#00BA38"/><circle cx="1410.0" cy="325.0" r="8.2" fill="#00BA38"/><circle cx="1400.0" cy="330.0" r="8.2" fill="#00BA38"/><circle cx="1465.1" cy="323.0" r="8.2" fill="#00BA38"/><circle cx="1475.6" cy="333.4" r="8.2" fill="#00BA38"/><circle cx="1470.4" cy="349.1" r="8.2" fill="#00BA38"/><circle cx="1485.0" cy="320.0" r="8.2" fill="#00BA38"/><circle cx="1460.0" cy="340.0" r="8.2" fill="#00BA38"/><circle cx="1444.2" cy="283.9" r="8.2" fill="#00BA38"/><circle cx="1471.3" cy="283.9" r="8.2" fill="#00BA38"/><circle cx="1502.6" cy="289.1" r="8.2" fill="#00BA38"/><circle cx="1523.4" cy="283.9" r="8.2" fill="#00BA38"/><circle cx="1531.8" cy="294.3" r="8.2" fill="#00BA38"/><circle cx="1513.0" cy="299.5" r="8.2" fill="#00BA38"/><circle cx="1492.1" cy="299.5" r="8.2" fill="#00BA38"/><circle cx="1471.3" cy="304.7" r="8.2" fill="#00BA38"/><circle cx="1450.4" cy="315.1" r="8.2" fill="#00BA38"/><circle cx="1481.7" cy="320.4" r="8.2" fill="#00BA38"/><circle cx="1471.3" cy="330.8" r="8.2" fill="#00BA38"/><circle cx="1539.1" cy="273.4" r="8.2" fill="#00BA38"/><circle cx="1545.0" cy="280.0" r="8.2" fill="#00BA38"/><circle cx="1490.1" cy="229.6" r="8.2" fill="#619CFF"/><circle cx="1479.6" cy="238.0" r="8.2" fill="#619CFF"/><circle cx="1500.0" cy="235.0" r="8.2" fill="#619CFF"/><circle cx="1518.2" cy="239.0" r="8.2" fill="#619CFF"/><circle cx="1530.7" cy="235.9" r="8.2" fill="#619CFF"/><circle cx="1449.4" cy="260.9" r="8.2" fill="#619CFF"/><circle cx="1464.0" cy="254.7" r="8.2" fill="#619CFF"/><circle cx="1481.7" cy="252.6" r="8.2" fill="#619CFF"/><circle cx="1497.4" cy="247.4" r="8.2" fill="#619CFF"/><circle cx="1513.0" cy="252.6" r="8.2" fill="#619CFF"/><circle cx="1528.6" cy="257.8" r="8.2" fill="#619CFF"/><circle cx="1539.1" cy="263.0" r="8.2" fill="#619CFF"/><circle cx="1450.4" cy="273.4" r="8.2" fill="#619CFF"/><circle cx="1466.1" cy="271.3" r="8.2" fill="#619CFF"/><circle cx="1483.8" cy="276.6" r="8.2" fill="#619CFF"/><circle cx="1502.6" cy="273.4" r="8.2" fill="#619CFF"/><circle cx="1518.2" cy="271.3" r="8.2" fill="#619CFF"/><circle cx="1513.0" cy="283.9" r="8.2" fill="#619CFF"/><circle cx="1478.6" cy="292.2" r="8.2" fill="#619CFF"/><circle cx="1490.1" cy="313.1" r="8.2" fill="#619CFF"/><circle cx="1448.5" cy="260.4" r="8.2" fill="#619CFF"/><circle cx="1477.7" cy="291.7" r="8.2" fill="#619CFF"/><circle cx="1491.2" cy="312.6" r="8.2" fill="#619CFF"/><circle cx="1393.2" cy="306.3" r="8.2" fill="#619CFF"/><circle cx="1563.1" cy="236.9" r="8.2" fill="#619CFF"/><circle cx="1588.1" cy="250.5" r="8.2" fill="#619CFF"/><circle cx="1584.4" cy="271.3" r="8.2" fill="#619CFF"/><circle cx="1600.6" cy="283.9" r="8.2" fill="#619CFF"/><circle cx="1557.8" cy="267.2" r="8.2" fill="#619CFF"/><circle cx="1545.3" cy="287.0" r="8.2" fill="#619CFF"/><circle cx="1626.7" cy="188.5" r="8.2" fill="#619CFF"/><circle cx="1651.8" cy="237.7" r="8.2" fill="#619CFF"/><circle cx="1460.9" cy="248.4" r="8.2" fill="#00BA38"/><circle cx="1540.1" cy="246.3" r="8.2" fill="#00BA38"/><circle cx="1563.1" cy="245.3" r="8.2" fill="#00BA38"/><circle cx="1556.8" cy="256.7" r="8.2" fill="#00BA38"/><circle cx="1508.8" cy="260.9" r="8.2" fill="#00BA38"/><circle cx="1603.7" cy="278.6" r="8.2" fill="#00BA38"/><circle cx="1565.1" cy="290.1" r="8.2" fill="#00BA38"/><circle cx="1575.6" cy="293.2" r="8.2" fill="#00BA38"/><circle cx="1566.2" cy="298.5" r="8.2" fill="#00BA38"/><circle cx="1545.3" cy="306.8" r="8.2" fill="#00BA38"/><circle cx="1535.9" cy="315.1" r="8.2" fill="#00BA38"/><circle cx="1518.2" cy="328.7" r="8.2" fill="#00BA38"/><circle cx="1503.6" cy="352.7" r="8.2" fill="#00BA38"/><circle cx="1486.9" cy="336.0" r="8.2" fill="#00BA38"/><circle cx="1471.3" cy="351.6" r="8.2" fill="#00BA38"/><circle cx="1440.0" cy="346.4" r="8.2" fill="#00BA38"/><circle cx="1512.1" cy="302.1" r="8.2" fill="#00BA38"/><circle cx="1515.2" cy="328.2" r="8.2" fill="#00BA38"/><circle cx="1503.7" cy="351.2" r="8.2" fill="#00BA38"/><circle cx="1419.3" cy="388.7" r="8.2" fill="#00BA38"/><circle cx="1449.0" cy="381.9" r="8.2" fill="#00BA38"/><circle cx="1431.8" cy="359.5" r="8.2" fill="#00BA38"/><circle cx="1438.0" cy="347.0" r="8.2" fill="#00BA38"/><circle cx="1426.6" cy="338.6" r="8.2" fill="#00BA38"/><circle cx="1377.0" cy="351.2" r="8.2" fill="#00BA38"/><circle cx="1389.0" cy="327.2" r="8.2" fill="#00BA38"/><circle cx="1394.2" cy="316.7" r="8.2" fill="#00BA38"/><circle cx="1508.9" cy="261.5" r="8.2" fill="#00BA38"/><circle cx="1475.6" cy="286.5" r="8.2" fill="#00BA38"/><circle cx="1408.3" cy="411.1" r="8.2" fill="#F8766D"/><circle cx="1360.9" cy="354.8" r="8.2" fill="#F8766D"/><circle cx="1377.0" cy="332.9" r="8.2" fill="#F8766D"/><circle cx="1379.6" cy="358.5" r="8.2" fill="#F8766D"/><circle cx="1391.1" cy="355.3" r="8.2" fill="#F8766D"/><circle cx="1407.8" cy="347.0" r="8.2" fill="#F8766D"/><circle cx="1423.4" cy="323.0" r="8.2" fill="#F8766D"/><circle cx="1465.1" cy="356.4" r="8.2" fill="#F8766D"/><circle cx="1486.0" cy="333.4" r="8.2" fill="#F8766D"/><circle cx="1498.5" cy="332.4" r="8.2" fill="#F8766D"/><circle cx="1503.7" cy="312.6" r="8.2" fill="#F8766D"/><circle cx="1483.9" cy="341.8" r="8.2" fill="#F8766D"/><circle cx="1503.6" cy="312.0" r="8.2" fill="#F8766D"/><circle cx="1498.4" cy="332.9" r="8.2" fill="#F8766D"/><circle cx="1484.8" cy="330.8" r="8.2" fill="#F8766D"/><circle cx="1466.1" cy="354.8" r="8.2" fill="#F8766D"/><circle cx="1217.0" cy="556.0" r="8.2" fill="#F8766D"/><circle cx="1470.0" cy="356.0" r="8.2" fill="#00BA38"/><circle cx="1437.0" cy="345.0" r="8.2" fill="#00BA38"/></g>
<path d="M1227.0,496.5 L1234.2,487.1 L1241.4,478.0 L1248.6,469.0 L1255.7,460.0 L1262.9,451.3 L1270.1,442.7 L1277.3,434.4 L1284.5,426.5 L1291.7,419.5 L1298.9,413.0 L1306.1,406.5 L1313.2,400.1 L1320.4,393.8 L1327.6,387.1 L1334.8,379.5 L1342.0,372.2 L1349.2,365.3 L1356.4,358.7 L1363.5,352.8 L1370.7,347.3 L1377.9,342.2 L1385.1,337.4 L1392.3,333.0 L1399.5,328.9 L1406.7,325.0 L1413.8,321.3 L1421.0,317.7 L1428.2,314.0 L1435.4,310.1 L1442.6,306.1 L1449.8,302.1 L1457.0,298.2 L1464.2,294.3 L1471.3,290.6 L1478.5,287.1 L1485.7,283.8 L1492.9,280.6 L1500.1,277.6 L1507.3,274.7 L1514.5,271.9 L1521.6,269.4 L1528.8,266.9 L1536.0,264.6 L1543.2,262.3 L1550.4,260.2 L1557.6,257.8 L1564.8,255.1 L1571.9,252.1 L1579.1,249.0 L1586.3,245.6 L1593.5,242.0 L1600.7,238.1 L1607.9,233.7 L1615.1,228.6 L1622.3,223.2 L1629.4,217.8 L1636.6,212.3 L1643.8,206.5 L1651.0,200.6 L1651.0,266.6 L1643.8,266.5 L1636.6,266.7 L1629.4,267.3 L1622.3,268.1 L1615.1,269.3 L1607.9,270.6 L1600.7,271.8 L1593.5,272.8 L1586.3,273.7 L1579.1,274.7 L1571.9,275.6 L1564.8,276.5 L1557.6,277.4 L1550.4,278.2 L1543.2,279.2 L1536.0,280.4 L1528.8,281.7 L1521.6,283.3 L1514.5,285.1 L1507.3,287.2 L1500.1,289.6 L1492.9,292.2 L1485.7,295.0 L1478.5,297.9 L1471.3,301.0 L1464.2,304.5 L1457.0,308.2 L1449.8,312.1 L1442.6,316.3 L1435.4,320.7 L1428.2,325.1 L1421.0,329.4 L1413.8,333.8 L1406.7,338.3 L1399.5,342.9 L1392.3,347.8 L1385.1,353.0 L1377.9,358.8 L1370.7,365.2 L1363.5,372.3 L1356.4,380.4 L1349.2,389.5 L1342.0,399.1 L1334.8,409.2 L1327.6,419.8 L1320.4,429.7 L1313.2,438.9 L1306.1,447.8 L1298.9,456.1 L1291.7,464.4 L1284.5,473.4 L1277.3,483.7 L1270.1,495.1 L1262.9,507.2 L1255.7,519.8 L1248.6,533.2 L1241.4,547.4 L1234.2,562.5 L1227.0,578.5 Z" fill="#999999" fill-opacity="0.4"/><path d="M1217.0,556.0 L1222.5,545.7 L1228.0,535.7 L1233.4,526.1 L1238.9,516.8 L1244.4,507.7 L1249.9,499.0 L1255.4,490.5 L1260.8,482.3 L1266.3,474.3 L1271.8,466.5 L1277.3,459.1 L1282.8,452.1 L1288.3,445.6 L1293.7,439.8 L1299.2,434.2 L1304.7,428.6 L1310.2,422.7 L1315.7,416.9 L1321.1,410.9 L1326.6,404.6 L1332.1,397.8 L1337.6,390.9 L1343.1,384.4 L1348.5,378.1 L1354.0,372.1 L1359.5,366.4 L1365.0,361.3 L1370.5,356.5 L1375.9,352.0 L1381.4,347.9 L1386.9,344.0 L1392.4,340.3 L1397.9,336.9 L1403.4,333.6 L1408.8,330.3 L1414.3,327.3 L1419.8,324.2 L1425.3,321.2 L1430.8,318.1 L1436.2,314.9 L1441.7,311.7 L1447.2,308.6 L1452.7,305.5 L1458.2,302.6 L1463.6,299.7 L1469.1,296.9 L1474.6,294.3 L1480.1,291.8 L1485.6,289.4 L1491.1,287.2 L1496.5,285.0 L1502.0,282.9 L1507.5,280.9 L1513.0,279.0 L1518.5,277.2 L1523.9,275.7 L1529.4,274.2 L1534.9,272.8 L1540.4,271.4 L1545.9,270.2 L1551.3,269.0 L1556.8,267.8 L1562.3,266.4 L1567.8,265.0 L1573.3,263.5 L1578.7,262.0 L1584.2,260.3 L1589.7,258.6 L1595.2,256.8 L1600.7,254.9 L1606.2,252.9 L1611.6,250.5 L1617.1,248.0 L1622.6,245.5 L1628.1,243.1 L1633.6,240.8 L1639.0,238.5 L1644.5,236.2 L1650.0,234.0" fill="none" stroke="#ABABAB" stroke-width="8" stroke-linejoin="round"/>
<line x1="1459.5" y1="101.7" x2="1459.5" y2="604.5" stroke="#B3B3B3" stroke-width="3.0"/>
<line x1="1054.1" y1="307.3" x2="1741" y2="307.3" stroke="#B3B3B3" stroke-width="3.0"/>
<line x1="959.9" y1="674.26" x2="1834.2" y2="32.08" stroke="#B3B3B3" stroke-width="3.0"/>
</g>
<rect x="1054.1" y="101.7" width="686.9" height="502.8" fill="none" stroke="#111" stroke-width="2"/>
<path d="M1084.8 604.5V615M1054.1 582.52H1043.6M1209.7 604.5V615M1054.1 490.78H1043.6M1334.6 604.5V615M1054.1 399.04H1043.6M1459.5 604.5V615M1054.1 307.3H1043.6M1584.4 604.5V615M1054.1 215.56H1043.6M1709.3 604.5V615M1054.1 123.82H1043.6" stroke="#1E1E1E" stroke-width="2.9" fill="none"/>
<g fill="#262626" font-size="32.8"><text x="1084.8" y="648.1" text-anchor="middle">-3</text><text x="1034.3" y="594.22" text-anchor="end">-3</text><text x="1209.7" y="648.1" text-anchor="middle">-2</text><text x="1034.3" y="502.48" text-anchor="end">-2</text><text x="1334.6" y="648.1" text-anchor="middle">-1</text><text x="1034.3" y="410.74" text-anchor="end">-1</text><text x="1459.5" y="648.1" text-anchor="middle">0</text><text x="1034.3" y="319" text-anchor="end">0</text><text x="1584.4" y="648.1" text-anchor="middle">1</text><text x="1034.3" y="227.26" text-anchor="end">1</text><text x="1709.3" y="648.1" text-anchor="middle">2</text><text x="1034.3" y="135.52" text-anchor="end">2</text></g>
<text x="1397.55" y="699.8" text-anchor="middle" font-size="41">Bliss</text>
<text transform="translate(984.8 353.1) rotate(-90)" text-anchor="middle" font-size="41">Explicit Mean Equation</text>
<path d="M145.4,834 L145.4,834 147.8,834 150.3,834 152.8,834 155.2,834 157.7,834 160.2,834 162.6,834 165.1,834 167.5,834 170,834 172.5,834 174.9,834 177.4,834 179.9,834 182.3,834 184.8,834 187.2,834 189.7,834 192.2,834 194.6,834 197.1,834 199.6,834 202,834 204.5,834 206.9,834 209.4,834 211.9,834 214.3,834 216.8,834 219.3,834 221.7,834 224.2,834 226.7,834 229.1,834 231.6,834 234,834 236.5,834 239,834 241.4,834 243.9,834 246.4,834 248.8,834 251.3,834 253.7,834 256.2,834 258.7,834 261.1,834 263.6,834 266.1,834 268.5,834 271,834 273.4,834 275.9,834 278.4,834 280.8,834 283.3,834 285.8,834 288.2,834 290.7,834 293.1,834 295.6,834 298.1,834 300.5,834 303,834 305.5,834 307.9,834 310.4,834 312.9,834 315.3,834 317.8,834 320.2,834 322.7,834 325.2,834 327.6,834 330.1,834 332.6,834 335,834 337.5,834 339.9,834 342.4,834 344.9,834 347.3,834 349.8,834 352.3,834 354.7,834 357.2,834 359.6,834 362.1,834 364.6,834 367,834 369.5,834 372,834 374.4,834 376.9,834 379.3,834 381.8,834 384.3,834 386.7,834 389.2,834 391.7,833.9 394.1,833.9 396.6,833.8 399,833.8 401.5,833.7 404,833.6 406.4,833.5 408.9,833.4 411.4,833.3 413.8,833.1 416.3,832.9 418.8,832.7 421.2,832.3 423.7,831.8 426.1,831.1 428.6,830.4 431.1,829.6 433.5,828.9 436,828.2 438.5,827.4 440.9,826.4 443.4,825.4 445.8,824.2 448.3,822.9 450.8,821.5 453.2,819.8 455.7,818 458.2,815.9 460.6,813.6 463.1,811 465.5,808.1 468,805 470.5,801.9 472.9,798.8 475.4,795.7 477.9,792.7 480.3,789.9 482.8,787.4 485.2,785.1 487.7,783.1 490.2,781.2 492.6,779.3 495.1,777.3 497.6,775.4 500,773.3 502.5,770.9 504.9,768.1 507.4,765 509.9,762 512.3,759.3 514.8,757.1 517.3,755.3 519.7,753.9 522.2,753 524.7,752.6 527.1,752.6 529.6,753.2 532,754.5 534.5,756.8 537,760.1 539.4,764.2 541.9,768.7 544.4,773.6 546.8,778.5 549.3,783.2 551.7,787.7 554.2,791.8 556.7,795.6 559.1,798.9 561.6,801.8 564.1,804.2 566.5,806 569,807.1 571.4,807.7 573.9,808.2 576.4,808.7 578.8,809.2 581.3,809.9 583.8,810.6 586.2,811.4 588.7,812.5 591.1,813.9 593.6,815.4 596.1,817 598.5,818.4 601,819.6 603.5,820.7 605.9,821.6 608.4,822.4 610.8,823 613.3,823.5 615.8,824 618.2,824.5 620.7,825.2 623.2,825.9 625.6,826.7 628.1,827.4 630.6,828.1 633,828.8 635.5,829.5 637.9,830 640.4,830.4 642.9,830.7 645.3,830.9 647.8,831.2 650.3,831.4 652.7,831.6 655.2,831.8 657.6,832.1 660.1,832.3 662.6,832.4 665,832.6 667.5,832.7 670,832.8 672.4,832.9 674.9,833 677.3,833.1 679.8,833.2 682.3,833.3 684.7,833.3 687.2,833.4 689.7,833.5 692.1,833.5 694.6,833.6 697,833.7 699.5,833.7 702,833.8 704.4,833.9 706.9,833.9 709.4,834 711.8,834 714.3,834 716.7,834 719.2,834 721.7,834 724.1,834 726.6,834 729.1,834 731.5,834 734,834 736.5,834 738.9,834 741.4,834 743.8,834 746.3,834 748.8,834 751.2,834 753.7,834 756.2,834 758.6,834 761.1,834 L761.1,834 Z" fill="#00BA38" fill-opacity="0.5" stroke="none"/>
<path d="M145.4,834 L145.4,834 147.8,834 150.3,834 152.8,834 155.2,834 157.7,834 160.2,834 162.6,834 165.1,834 167.5,834 170,834 172.5,834 174.9,834 177.4,834 179.9,834 182.3,834 184.8,834 187.2,834 189.7,834 192.2,834 194.6,834 197.1,834 199.6,834 202,834 204.5,834 206.9,834 209.4,834 211.9,834 214.3,834 216.8,834 219.3,834 221.7,834 224.2,834 226.7,834 229.1,834 231.6,834 234,834 236.5,834 239,834 241.4,834 243.9,834 246.4,834 248.8,834 251.3,834 253.7,834 256.2,834 258.7,834 261.1,834 263.6,834 266.1,834 268.5,834 271,834 273.4,834 275.9,834 278.4,834 280.8,834 283.3,834 285.8,834 288.2,834 290.7,834 293.1,834 295.6,834 298.1,834 300.5,834 303,834 305.5,834 307.9,834 310.4,834 312.9,834 315.3,834 317.8,834 320.2,834 322.7,834 325.2,834 327.6,834 330.1,834 332.6,834 335,834 337.5,834 339.9,834 342.4,834 344.9,834 347.3,834 349.8,834 352.3,834 354.7,834 357.2,834 359.6,834 362.1,834 364.6,834 367,834 369.5,834 372,834 374.4,834 376.9,833.9 379.3,833.9 381.8,833.8 384.3,833.7 386.7,833.7 389.2,833.6 391.7,833.6 394.1,833.5 396.6,833.5 399,833.4 401.5,833.4 404,833.3 406.4,833.3 408.9,833.3 411.4,833.2 413.8,833.1 416.3,833.1 418.8,833 421.2,832.9 423.7,832.7 426.1,832.5 428.6,832.3 431.1,832.1 433.5,831.9 436,831.7 438.5,831.6 440.9,831.5 443.4,831.5 445.8,831.4 448.3,831.4 450.8,831.3 453.2,831.4 455.7,831.5 458.2,831.8 460.6,832.2 463.1,832.5 465.5,832.8 468,833 470.5,833.1 472.9,833.1 475.4,832.9 477.9,832.6 480.3,832 482.8,830.7 485.2,828.4 487.7,824.8 490.2,820.6 492.6,816.1 495.1,811.4 497.6,806.3 500,801.2 502.5,796.2 504.9,791.4 507.4,786.8 509.9,782.3 512.3,778 514.8,773.8 517.3,769.8 519.7,765.8 522.2,761.9 524.7,758 527.1,754.1 529.6,750.5 532,747.7 534.5,745.7 537,744.2 539.4,743.2 541.9,742.6 544.4,742.7 546.8,743.6 549.3,745.3 551.7,747.5 554.2,749.9 556.7,752.3 559.1,755 561.6,757.9 564.1,760.9 566.5,763.9 569,766.6 571.4,769.2 573.9,771.6 576.4,774.2 578.8,776.9 581.3,779.8 583.8,782.8 586.2,785.9 588.7,789.2 591.1,792.7 593.6,796.3 596.1,799.8 598.5,803.1 601,806.1 603.5,808.9 605.9,811.5 608.4,813.9 610.8,816 613.3,817.9 615.8,819.6 618.2,821 620.7,822.3 623.2,823.3 625.6,824.2 628.1,824.8 630.6,825.2 633,825.5 635.5,825.8 637.9,826 640.4,826.3 642.9,826.6 645.3,827 647.8,827.4 650.3,827.9 652.7,828.4 655.2,829 657.6,829.4 660.1,829.8 662.6,829.9 665,830.1 667.5,830.1 670,830.2 672.4,830.3 674.9,830.3 677.3,830.3 679.8,830.3 682.3,830.3 684.7,830.3 687.2,830.4 689.7,830.4 692.1,830.4 694.6,830.4 697,830.5 699.5,830.6 702,830.8 704.4,830.9 706.9,831.1 709.4,831.3 711.8,831.5 714.3,831.7 716.7,831.9 719.2,832 721.7,832.2 724.1,832.4 726.6,832.6 729.1,832.8 731.5,832.9 734,833.1 736.5,833.2 738.9,833.4 741.4,833.5 743.8,833.6 746.3,833.7 748.8,833.8 751.2,833.8 753.7,833.9 756.2,833.9 758.6,834 761.1,834 L761.1,834 Z" fill="#619CFF" fill-opacity="0.5" stroke="none"/>
<path d="M145.4,834 L145.4,834 147.8,834 150.3,834 152.8,834 155.2,834 157.7,834 160.2,834 162.6,834 165.1,834 167.5,834 170,834 172.5,834 174.9,834 177.4,834 179.9,834 182.3,834 184.8,834 187.2,834 189.7,834 192.2,834 194.6,834 197.1,834 199.6,834 202,833.9 204.5,833.9 206.9,833.9 209.4,833.8 211.9,833.8 214.3,833.8 216.8,833.7 219.3,833.6 221.7,833.5 224.2,833.4 226.7,833.3 229.1,833.1 231.6,833 234,832.8 236.5,832.6 239,832.3 241.4,832.1 243.9,831.9 246.4,831.6 248.8,831.3 251.3,831.1 253.7,830.8 256.2,830.6 258.7,830.3 261.1,830.1 263.6,829.9 266.1,829.8 268.5,829.7 271,829.6 273.4,829.6 275.9,829.6 278.4,829.7 280.8,829.8 283.3,829.9 285.8,830.1 288.2,830.3 290.7,830.6 293.1,830.8 295.6,831.1 298.1,831.3 300.5,831.6 303,831.9 305.5,832.1 307.9,832.3 310.4,832.6 312.9,832.8 315.3,833 317.8,833.1 320.2,833.3 322.7,833.4 325.2,833.5 327.6,833.6 330.1,833.7 332.6,833.8 335,833.8 337.5,833.8 339.9,833.9 342.4,833.9 344.9,833.9 347.3,834 349.8,834 352.3,834 354.7,834 357.2,834 359.6,834 362.1,834 364.6,834 367,834 369.5,834 372,833.9 374.4,833.7 376.9,833.4 379.3,832.9 381.8,832.3 384.3,831.7 386.7,831 389.2,830.3 391.7,829.6 394.1,828.9 396.6,828.1 399,827.2 401.5,826.2 404,825.2 406.4,824.1 408.9,823 411.4,821.8 413.8,820.5 416.3,819.1 418.8,817.7 421.2,816.1 423.7,814.5 426.1,812.9 428.6,811.2 431.1,809.5 433.5,807.8 436,805.9 438.5,804 440.9,802 443.4,800.1 445.8,798.1 448.3,796.3 450.8,794.5 453.2,792.8 455.7,791 458.2,789.3 460.6,787.7 463.1,786.1 465.5,784.6 468,783.4 470.5,782.3 472.9,781.3 475.4,780.5 477.9,779.9 480.3,779.5 482.8,779.3 485.2,779.4 487.7,779.7 490.2,780 492.6,780.3 495.1,780.6 497.6,780.9 500,781.1 502.5,781.2 504.9,781.1 507.4,780.8 509.9,780.5 512.3,780.3 514.8,780.1 517.3,779.9 519.7,779.8 522.2,779.8 524.7,779.9 527.1,780.3 529.6,780.8 532,781.6 534.5,782.7 537,784.2 539.4,786.1 541.9,787.9 544.4,789.6 546.8,791.3 549.3,793 551.7,795 554.2,797 556.7,799.1 559.1,801.3 561.6,803.5 564.1,805.8 566.5,808 569,810.3 571.4,812.6 573.9,814.9 576.4,817.1 578.8,819.3 581.3,821.4 583.8,823.5 586.2,825.3 588.7,827 591.1,828.4 593.6,829.6 596.1,830.5 598.5,831.3 601,831.8 603.5,832.3 605.9,832.6 608.4,832.9 610.8,833.1 613.3,833.3 615.8,833.5 618.2,833.6 620.7,833.7 623.2,833.8 625.6,833.8 628.1,833.9 630.6,833.9 633,834 635.5,834 637.9,834 640.4,834 642.9,834 645.3,834 647.8,834 650.3,834 652.7,834 655.2,834 657.6,834 660.1,834 662.6,834 665,834 667.5,834 670,834 672.4,834 674.9,834 677.3,834 679.8,834 682.3,834 684.7,834 687.2,834 689.7,834 692.1,834 694.6,834 697,834 699.5,834 702,834 704.4,834 706.9,834 709.4,834 711.8,834 714.3,834 716.7,834 719.2,834 721.7,834 724.1,834 726.6,834 729.1,834 731.5,834 734,834 736.5,834 738.9,834 741.4,834 743.8,834 746.3,834 748.8,834 751.2,834 753.7,834 756.2,834 758.6,834 761.1,834 L761.1,834 Z" fill="#F8766D" fill-opacity="0.5" stroke="none"/>
<path d="M145.4,834 L147.8,834 L150.3,834 L152.8,834 L155.2,834 L157.7,834 L160.2,834 L162.6,834 L165.1,834 L167.5,834 L170,834 L172.5,834 L174.9,834 L177.4,834 L179.9,834 L182.3,834 L184.8,834 L187.2,834 L189.7,834 L192.2,834 L194.6,834 L197.1,834 L199.6,834 L202,834 L204.5,834 L206.9,834 L209.4,834 L211.9,834 L214.3,834 L216.8,834 L219.3,834 L221.7,834 L224.2,834 L226.7,834 L229.1,834 L231.6,834 L234,834 L236.5,834 L239,834 L241.4,834 L243.9,834 L246.4,834 L248.8,834 L251.3,834 L253.7,834 L256.2,834 L258.7,834 L261.1,834 L263.6,834 L266.1,834 L268.5,834 L271,834 L273.4,834 L275.9,834 L278.4,834 L280.8,834 L283.3,834 L285.8,834 L288.2,834 L290.7,834 L293.1,834 L295.6,834 L298.1,834 L300.5,834 L303,834 L305.5,834 L307.9,834 L310.4,834 L312.9,834 L315.3,834 L317.8,834 L320.2,834 L322.7,834 L325.2,834 L327.6,834 L330.1,834 L332.6,834 L335,834 L337.5,834 L339.9,834 L342.4,834 L344.9,834 L347.3,834 L349.8,834 L352.3,834 L354.7,834 L357.2,834 L359.6,834 L362.1,834 L364.6,834 L367,834 L369.5,834 L372,834 L374.4,834 L376.9,834 L379.3,834 L381.8,834 L384.3,834 L386.7,834 L389.2,834 L391.7,833.9 L394.1,833.9 L396.6,833.8 L399,833.8 L401.5,833.7 L404,833.6 L406.4,833.5 L408.9,833.4 L411.4,833.3 L413.8,833.1 L416.3,832.9 L418.8,832.7 L421.2,832.3 L423.7,831.8 L426.1,831.1 L428.6,830.4 L431.1,829.6 L433.5,828.9 L436,828.2 L438.5,827.4 L440.9,826.4 L443.4,825.4 L445.8,824.2 L448.3,822.9 L450.8,821.5 L453.2,819.8 L455.7,818 L458.2,815.9 L460.6,813.6 L463.1,811 L465.5,808.1 L468,805 L470.5,801.9 L472.9,798.8 L475.4,795.7 L477.9,792.7 L480.3,789.9 L482.8,787.4 L485.2,785.1 L487.7,783.1 L490.2,781.2 L492.6,779.3 L495.1,777.3 L497.6,775.4 L500,773.3 L502.5,770.9 L504.9,768.1 L507.4,765 L509.9,762 L512.3,759.3 L514.8,757.1 L517.3,755.3 L519.7,753.9 L522.2,753 L524.7,752.6 L527.1,752.6 L529.6,753.2 L532,754.5 L534.5,756.8 L537,760.1 L539.4,764.2 L541.9,768.7 L544.4,773.6 L546.8,778.5 L549.3,783.2 L551.7,787.7 L554.2,791.8 L556.7,795.6 L559.1,798.9 L561.6,801.8 L564.1,804.2 L566.5,806 L569,807.1 L571.4,807.7 L573.9,808.2 L576.4,808.7 L578.8,809.2 L581.3,809.9 L583.8,810.6 L586.2,811.4 L588.7,812.5 L591.1,813.9 L593.6,815.4 L596.1,817 L598.5,818.4 L601,819.6 L603.5,820.7 L605.9,821.6 L608.4,822.4 L610.8,823 L613.3,823.5 L615.8,824 L618.2,824.5 L620.7,825.2 L623.2,825.9 L625.6,826.7 L628.1,827.4 L630.6,828.1 L633,828.8 L635.5,829.5 L637.9,830 L640.4,830.4 L642.9,830.7 L645.3,830.9 L647.8,831.2 L650.3,831.4 L652.7,831.6 L655.2,831.8 L657.6,832.1 L660.1,832.3 L662.6,832.4 L665,832.6 L667.5,832.7 L670,832.8 L672.4,832.9 L674.9,833 L677.3,833.1 L679.8,833.2 L682.3,833.3 L684.7,833.3 L687.2,833.4 L689.7,833.5 L692.1,833.5 L694.6,833.6 L697,833.7 L699.5,833.7 L702,833.8 L704.4,833.9 L706.9,833.9 L709.4,834 L711.8,834 L714.3,834 L716.7,834 L719.2,834 L721.7,834 L724.1,834 L726.6,834 L729.1,834 L731.5,834 L734,834 L736.5,834 L738.9,834 L741.4,834 L743.8,834 L746.3,834 L748.8,834 L751.2,834 L753.7,834 L756.2,834 L758.6,834 L761.1,834" fill="none" stroke="#00BA38" stroke-width="3.4" stroke-linejoin="round"/>
<path d="M145.4,834 L147.8,834 L150.3,834 L152.8,834 L155.2,834 L157.7,834 L160.2,834 L162.6,834 L165.1,834 L167.5,834 L170,834 L172.5,834 L174.9,834 L177.4,834 L179.9,834 L182.3,834 L184.8,834 L187.2,834 L189.7,834 L192.2,834 L194.6,834 L197.1,834 L199.6,834 L202,834 L204.5,834 L206.9,834 L209.4,834 L211.9,834 L214.3,834 L216.8,834 L219.3,834 L221.7,834 L224.2,834 L226.7,834 L229.1,834 L231.6,834 L234,834 L236.5,834 L239,834 L241.4,834 L243.9,834 L246.4,834 L248.8,834 L251.3,834 L253.7,834 L256.2,834 L258.7,834 L261.1,834 L263.6,834 L266.1,834 L268.5,834 L271,834 L273.4,834 L275.9,834 L278.4,834 L280.8,834 L283.3,834 L285.8,834 L288.2,834 L290.7,834 L293.1,834 L295.6,834 L298.1,834 L300.5,834 L303,834 L305.5,834 L307.9,834 L310.4,834 L312.9,834 L315.3,834 L317.8,834 L320.2,834 L322.7,834 L325.2,834 L327.6,834 L330.1,834 L332.6,834 L335,834 L337.5,834 L339.9,834 L342.4,834 L344.9,834 L347.3,834 L349.8,834 L352.3,834 L354.7,834 L357.2,834 L359.6,834 L362.1,834 L364.6,834 L367,834 L369.5,834 L372,834 L374.4,834 L376.9,833.9 L379.3,833.9 L381.8,833.8 L384.3,833.7 L386.7,833.7 L389.2,833.6 L391.7,833.6 L394.1,833.5 L396.6,833.5 L399,833.4 L401.5,833.4 L404,833.3 L406.4,833.3 L408.9,833.3 L411.4,833.2 L413.8,833.1 L416.3,833.1 L418.8,833 L421.2,832.9 L423.7,832.7 L426.1,832.5 L428.6,832.3 L431.1,832.1 L433.5,831.9 L436,831.7 L438.5,831.6 L440.9,831.5 L443.4,831.5 L445.8,831.4 L448.3,831.4 L450.8,831.3 L453.2,831.4 L455.7,831.5 L458.2,831.8 L460.6,832.2 L463.1,832.5 L465.5,832.8 L468,833 L470.5,833.1 L472.9,833.1 L475.4,832.9 L477.9,832.6 L480.3,832 L482.8,830.7 L485.2,828.4 L487.7,824.8 L490.2,820.6 L492.6,816.1 L495.1,811.4 L497.6,806.3 L500,801.2 L502.5,796.2 L504.9,791.4 L507.4,786.8 L509.9,782.3 L512.3,778 L514.8,773.8 L517.3,769.8 L519.7,765.8 L522.2,761.9 L524.7,758 L527.1,754.1 L529.6,750.5 L532,747.7 L534.5,745.7 L537,744.2 L539.4,743.2 L541.9,742.6 L544.4,742.7 L546.8,743.6 L549.3,745.3 L551.7,747.5 L554.2,749.9 L556.7,752.3 L559.1,755 L561.6,757.9 L564.1,760.9 L566.5,763.9 L569,766.6 L571.4,769.2 L573.9,771.6 L576.4,774.2 L578.8,776.9 L581.3,779.8 L583.8,782.8 L586.2,785.9 L588.7,789.2 L591.1,792.7 L593.6,796.3 L596.1,799.8 L598.5,803.1 L601,806.1 L603.5,808.9 L605.9,811.5 L608.4,813.9 L610.8,816 L613.3,817.9 L615.8,819.6 L618.2,821 L620.7,822.3 L623.2,823.3 L625.6,824.2 L628.1,824.8 L630.6,825.2 L633,825.5 L635.5,825.8 L637.9,826 L640.4,826.3 L642.9,826.6 L645.3,827 L647.8,827.4 L650.3,827.9 L652.7,828.4 L655.2,829 L657.6,829.4 L660.1,829.8 L662.6,829.9 L665,830.1 L667.5,830.1 L670,830.2 L672.4,830.3 L674.9,830.3 L677.3,830.3 L679.8,830.3 L682.3,830.3 L684.7,830.3 L687.2,830.4 L689.7,830.4 L692.1,830.4 L694.6,830.4 L697,830.5 L699.5,830.6 L702,830.8 L704.4,830.9 L706.9,831.1 L709.4,831.3 L711.8,831.5 L714.3,831.7 L716.7,831.9 L719.2,832 L721.7,832.2 L724.1,832.4 L726.6,832.6 L729.1,832.8 L731.5,832.9 L734,833.1 L736.5,833.2 L738.9,833.4 L741.4,833.5 L743.8,833.6 L746.3,833.7 L748.8,833.8 L751.2,833.8 L753.7,833.9 L756.2,833.9 L758.6,834 L761.1,834" fill="none" stroke="#619CFF" stroke-width="3.4" stroke-linejoin="round"/>
<path d="M145.4,834 L147.8,834 L150.3,834 L152.8,834 L155.2,834 L157.7,834 L160.2,834 L162.6,834 L165.1,834 L167.5,834 L170,834 L172.5,834 L174.9,834 L177.4,834 L179.9,834 L182.3,834 L184.8,834 L187.2,834 L189.7,834 L192.2,834 L194.6,834 L197.1,834 L199.6,834 L202,833.9 L204.5,833.9 L206.9,833.9 L209.4,833.8 L211.9,833.8 L214.3,833.8 L216.8,833.7 L219.3,833.6 L221.7,833.5 L224.2,833.4 L226.7,833.3 L229.1,833.1 L231.6,833 L234,832.8 L236.5,832.6 L239,832.3 L241.4,832.1 L243.9,831.9 L246.4,831.6 L248.8,831.3 L251.3,831.1 L253.7,830.8 L256.2,830.6 L258.7,830.3 L261.1,830.1 L263.6,829.9 L266.1,829.8 L268.5,829.7 L271,829.6 L273.4,829.6 L275.9,829.6 L278.4,829.7 L280.8,829.8 L283.3,829.9 L285.8,830.1 L288.2,830.3 L290.7,830.6 L293.1,830.8 L295.6,831.1 L298.1,831.3 L300.5,831.6 L303,831.9 L305.5,832.1 L307.9,832.3 L310.4,832.6 L312.9,832.8 L315.3,833 L317.8,833.1 L320.2,833.3 L322.7,833.4 L325.2,833.5 L327.6,833.6 L330.1,833.7 L332.6,833.8 L335,833.8 L337.5,833.8 L339.9,833.9 L342.4,833.9 L344.9,833.9 L347.3,834 L349.8,834 L352.3,834 L354.7,834 L357.2,834 L359.6,834 L362.1,834 L364.6,834 L367,834 L369.5,834 L372,833.9 L374.4,833.7 L376.9,833.4 L379.3,832.9 L381.8,832.3 L384.3,831.7 L386.7,831 L389.2,830.3 L391.7,829.6 L394.1,828.9 L396.6,828.1 L399,827.2 L401.5,826.2 L404,825.2 L406.4,824.1 L408.9,823 L411.4,821.8 L413.8,820.5 L416.3,819.1 L418.8,817.7 L421.2,816.1 L423.7,814.5 L426.1,812.9 L428.6,811.2 L431.1,809.5 L433.5,807.8 L436,805.9 L438.5,804 L440.9,802 L443.4,800.1 L445.8,798.1 L448.3,796.3 L450.8,794.5 L453.2,792.8 L455.7,791 L458.2,789.3 L460.6,787.7 L463.1,786.1 L465.5,784.6 L468,783.4 L470.5,782.3 L472.9,781.3 L475.4,780.5 L477.9,779.9 L480.3,779.5 L482.8,779.3 L485.2,779.4 L487.7,779.7 L490.2,780 L492.6,780.3 L495.1,780.6 L497.6,780.9 L500,781.1 L502.5,781.2 L504.9,781.1 L507.4,780.8 L509.9,780.5 L512.3,780.3 L514.8,780.1 L517.3,779.9 L519.7,779.8 L522.2,779.8 L524.7,779.9 L527.1,780.3 L529.6,780.8 L532,781.6 L534.5,782.7 L537,784.2 L539.4,786.1 L541.9,787.9 L544.4,789.6 L546.8,791.3 L549.3,793 L551.7,795 L554.2,797 L556.7,799.1 L559.1,801.3 L561.6,803.5 L564.1,805.8 L566.5,808 L569,810.3 L571.4,812.6 L573.9,814.9 L576.4,817.1 L578.8,819.3 L581.3,821.4 L583.8,823.5 L586.2,825.3 L588.7,827 L591.1,828.4 L593.6,829.6 L596.1,830.5 L598.5,831.3 L601,831.8 L603.5,832.3 L605.9,832.6 L608.4,832.9 L610.8,833.1 L613.3,833.3 L615.8,833.5 L618.2,833.6 L620.7,833.7 L623.2,833.8 L625.6,833.8 L628.1,833.9 L630.6,833.9 L633,834 L635.5,834 L637.9,834 L640.4,834 L642.9,834 L645.3,834 L647.8,834 L650.3,834 L652.7,834 L655.2,834 L657.6,834 L660.1,834 L662.6,834 L665,834 L667.5,834 L670,834 L672.4,834 L674.9,834 L677.3,834 L679.8,834 L682.3,834 L684.7,834 L687.2,834 L689.7,834 L692.1,834 L694.6,834 L697,834 L699.5,834 L702,834 L704.4,834 L706.9,834 L709.4,834 L711.8,834 L714.3,834 L716.7,834 L719.2,834 L721.7,834 L724.1,834 L726.6,834 L729.1,834 L731.5,834 L734,834 L736.5,834 L738.9,834 L741.4,834 L743.8,834 L746.3,834 L748.8,834 L751.2,834 L753.7,834 L756.2,834 L758.6,834 L761.1,834" fill="none" stroke="#F8766D" stroke-width="3.4" stroke-linejoin="round"/>
<path d="M798.2,1320.2 L798.2,1320.2 798.2,1318.4 798.2,1316.6 798.2,1314.7 798.2,1312.9 798.2,1311 798.2,1309.2 798.2,1307.4 798.2,1305.5 798.2,1303.7 798.2,1301.9 798.2,1300 798.2,1298.2 798.2,1296.4 798.2,1294.5 798.2,1292.7 798.2,1290.9 798.2,1289 798.2,1287.2 798.2,1285.4 798.2,1283.5 798.2,1281.7 798.2,1279.9 798.2,1278 798.2,1276.2 798.2,1274.3 798.2,1272.5 798.2,1270.7 798.2,1268.8 798.2,1267 798.2,1265.2 798.2,1263.3 798.2,1261.5 798.2,1259.7 798.2,1257.8 798.2,1256 798.2,1254.2 798.2,1252.3 798.2,1250.5 798.2,1248.7 798.2,1246.8 798.2,1245 798.2,1243.2 798.2,1241.3 798.2,1239.5 798.2,1237.7 798.2,1235.8 798.2,1234 798.2,1232.1 798.2,1230.3 798.2,1228.5 798.2,1226.6 798.2,1224.8 798.2,1223 798.2,1221.1 798.2,1219.3 798.2,1217.5 798.2,1215.6 798.2,1213.8 798.2,1212 798.2,1210.1 798.2,1208.3 798.2,1206.5 798.2,1204.6 798.2,1202.8 798.2,1201 798.2,1199.1 798.2,1197.3 798.2,1195.5 798.2,1193.6 798.2,1191.8 798.2,1189.9 798.2,1188.1 798.2,1186.3 798.2,1184.4 798.2,1182.6 798.2,1180.8 798.2,1178.9 798.2,1177.1 798.2,1175.3 798.2,1173.4 798.2,1171.6 798.2,1169.8 798.2,1167.9 798.2,1166.1 798.2,1164.3 798.2,1162.4 798.2,1160.6 798.2,1158.8 798.2,1156.9 798.2,1155.1 798.2,1153.3 798.2,1151.4 798.2,1149.6 798.2,1147.7 798.2,1145.9 798.2,1144.1 798.2,1142.2 798.2,1140.4 798.2,1138.6 798.2,1136.7 798.2,1134.9 798.2,1133.1 798.2,1131.2 798.2,1129.4 798.2,1127.6 798.2,1125.7 798.2,1123.9 798.2,1122.1 798.2,1120.2 798.2,1118.4 798.2,1116.6 798.2,1114.7 798.2,1112.9 798.2,1111.1 798.2,1109.2 798.2,1107.4 798.3,1105.5 798.4,1103.7 798.5,1101.9 798.6,1100 798.9,1098.2 799.2,1096.4 799.7,1094.5 800.2,1092.7 800.8,1090.9 801.6,1089 802.5,1087.2 803.6,1085.4 804.9,1083.5 806.6,1081.7 808.8,1079.9 811.3,1078 814.2,1076.2 817.2,1074.4 820.6,1072.5 824.2,1070.7 828,1068.9 832,1067 836,1065.2 840.1,1063.3 844.3,1061.5 848.5,1059.7 852.5,1057.8 856.3,1056 860,1054.2 863.5,1052.3 866.7,1050.5 869.9,1048.7 875,1046.8 883.6,1045 894.8,1043.2 905.7,1041.3 912.9,1039.5 917.1,1037.7 920.4,1035.8 921.6,1034 919.8,1032.2 915.8,1030.3 910.1,1028.5 903.2,1026.7 895.7,1024.8 888.6,1023 882.5,1021.1 877.8,1019.3 874,1017.5 870.5,1015.6 866.9,1013.8 862.9,1012 858.5,1010.1 853.5,1008.3 848.1,1006.5 842.2,1004.6 835.7,1002.8 829.4,1001 824.1,999.1 819.9,997.3 816.7,995.5 814.2,993.6 812,991.8 810.2,990 808.7,988.1 807.5,986.3 806.6,984.5 805.8,982.6 805.1,980.8 804.5,978.9 803.9,977.1 803.5,975.3 803.1,973.4 802.6,971.6 802.2,969.8 801.7,967.9 801.1,966.1 800.5,964.3 799.8,962.4 799.2,960.6 798.8,958.8 798.4,956.9 798.3,955.1 798.2,953.3 798.2,951.4 798.2,949.6 798.2,947.8 798.2,945.9 798.2,944.1 798.2,942.3 798.2,940.4 798.2,938.6 798.2,936.7 798.2,934.9 798.2,933.1 798.2,931.2 798.2,929.4 798.2,927.6 798.2,925.7 798.2,923.9 798.2,922.1 798.2,920.2 798.2,918.4 798.2,916.6 798.2,914.7 798.2,912.9 798.2,911.1 798.2,909.2 798.2,907.4 798.2,905.6 798.2,903.7 798.2,901.9 798.2,900.1 798.2,898.2 798.2,896.4 798.2,894.5 798.2,892.7 798.2,890.9 798.2,889 798.2,887.2 798.2,885.4 798.2,883.5 798.2,881.7 798.2,879.9 798.2,878 798.2,876.2 798.2,874.4 798.2,872.5 798.2,870.7 798.2,868.9 798.2,867 798.2,865.2 798.2,863.4 798.2,861.5 L798.2,861.5 Z" fill="#00BA38" fill-opacity="0.5" stroke="none"/>
<path d="M798.2,1320.2 L798.2,1320.2 798.2,1318.4 798.2,1316.6 798.2,1314.7 798.2,1312.9 798.2,1311 798.2,1309.2 798.2,1307.4 798.2,1305.5 798.2,1303.7 798.2,1301.9 798.2,1300 798.2,1298.2 798.2,1296.4 798.2,1294.5 798.2,1292.7 798.2,1290.9 798.2,1289 798.2,1287.2 798.2,1285.4 798.2,1283.5 798.2,1281.7 798.2,1279.9 798.2,1278 798.2,1276.2 798.2,1274.3 798.2,1272.5 798.2,1270.7 798.2,1268.8 798.2,1267 798.2,1265.2 798.2,1263.3 798.2,1261.5 798.2,1259.7 798.2,1257.8 798.2,1256 798.2,1254.2 798.2,1252.3 798.2,1250.5 798.2,1248.7 798.2,1246.8 798.2,1245 798.2,1243.2 798.2,1241.3 798.2,1239.5 798.2,1237.7 798.2,1235.8 798.2,1234 798.2,1232.1 798.2,1230.3 798.2,1228.5 798.2,1226.6 798.2,1224.8 798.2,1223 798.2,1221.1 798.2,1219.3 798.2,1217.5 798.2,1215.6 798.2,1213.8 798.2,1212 798.2,1210.1 798.2,1208.3 798.2,1206.5 798.2,1204.6 798.2,1202.8 798.2,1201 798.2,1199.1 798.2,1197.3 798.2,1195.5 798.2,1193.6 798.2,1191.8 798.2,1189.9 798.2,1188.1 798.2,1186.3 798.2,1184.4 798.2,1182.6 798.2,1180.8 798.2,1178.9 798.2,1177.1 798.2,1175.3 798.2,1173.4 798.2,1171.6 798.2,1169.8 798.2,1167.9 798.2,1166.1 798.2,1164.3 798.2,1162.4 798.2,1160.6 798.2,1158.8 798.2,1156.9 798.2,1155.1 798.2,1153.3 798.2,1151.4 798.2,1149.6 798.2,1147.7 798.2,1145.9 798.2,1144.1 798.2,1142.2 798.2,1140.4 798.2,1138.6 798.2,1136.7 798.2,1134.9 798.2,1133.1 798.2,1131.2 798.2,1129.4 798.2,1127.6 798.2,1125.7 798.2,1123.9 798.2,1122.1 798.2,1120.2 798.2,1118.4 798.2,1116.6 798.2,1114.7 798.2,1112.9 798.2,1111.1 798.2,1109.2 798.2,1107.4 798.2,1105.5 798.2,1103.7 798.2,1101.9 798.2,1100 798.2,1098.2 798.2,1096.4 798.2,1094.5 798.2,1092.7 798.2,1090.9 798.2,1089 798.2,1087.2 798.2,1085.4 798.2,1083.5 798.2,1081.7 798.2,1079.9 798.2,1078 798.2,1076.2 798.2,1074.4 798.3,1072.5 798.3,1070.7 798.4,1068.9 798.6,1067 798.8,1065.2 799.1,1063.3 799.6,1061.5 800.3,1059.7 801.2,1057.8 802.4,1056 804.1,1054.2 806.3,1052.3 809,1050.5 812.3,1048.7 815.6,1046.8 818.5,1045 820.9,1043.2 822.8,1041.3 824.6,1039.5 826.1,1037.7 827.3,1035.8 828.5,1034 829.9,1032.2 831.7,1030.3 834.2,1028.5 837.6,1026.7 842,1024.8 847.3,1023 853,1021.1 858.7,1019.3 864.3,1017.5 870,1015.6 875.5,1013.8 881.1,1012 886.8,1010.1 892.3,1008.3 897.4,1006.5 902.1,1004.6 906.1,1002.8 909.3,1001 910.9,999.1 910.8,997.3 909.2,995.5 906.1,993.6 901.4,991.8 895.1,990 888,988.1 881,986.3 874.7,984.5 869,982.6 863.8,980.8 859,978.9 854.6,977.1 850.7,975.3 846.9,973.4 843.4,971.6 839.9,969.8 836.4,967.9 833,966.1 829.7,964.3 826.3,962.4 822.9,960.6 819.4,958.8 815.8,956.9 812.4,955.1 809.4,953.3 806.8,951.4 804.8,949.6 803.2,947.8 802,945.9 801.1,944.1 800.3,942.3 799.8,940.4 799.5,938.6 799.3,936.7 799.3,934.9 799.5,933.1 799.9,931.2 800.3,929.4 800.8,927.6 801.3,925.7 801.9,923.9 802.3,922.1 802.6,920.2 802.8,918.4 802.8,916.6 802.6,914.7 802.3,912.9 801.8,911.1 801.3,909.2 800.7,907.4 800.2,905.6 799.7,903.7 799.3,901.9 799,900.1 798.7,898.2 798.5,896.4 798.4,894.5 798.3,892.7 798.3,890.9 798.2,889 798.2,887.2 798.2,885.4 798.2,883.5 798.2,881.7 798.2,879.9 798.2,878 798.2,876.2 798.2,874.4 798.2,872.5 798.2,870.7 798.2,868.9 798.2,867 798.2,865.2 798.2,863.4 798.2,861.5 L798.2,861.5 Z" fill="#619CFF" fill-opacity="0.5" stroke="none"/>
<path d="M798.2,1320.2 L798.6,1320.2 798.8,1318.4 798.9,1316.6 799.1,1314.7 799.4,1312.9 799.7,1311 800,1309.2 800.3,1307.4 800.7,1305.5 801.2,1303.7 801.7,1301.9 802.1,1300 802.6,1298.2 803.1,1296.4 803.6,1294.5 804,1292.7 804.4,1290.9 804.7,1289 804.9,1287.2 805.1,1285.4 805.1,1283.5 805.1,1281.7 804.9,1279.9 804.7,1278 804.4,1276.2 804,1274.3 803.6,1272.5 803.1,1270.7 802.6,1268.8 802.1,1267 801.7,1265.2 801.2,1263.3 800.7,1261.5 800.3,1259.7 800,1257.8 799.7,1256 799.4,1254.2 799.1,1252.3 798.9,1250.5 798.8,1248.7 798.6,1246.8 798.5,1245 798.4,1243.2 798.4,1241.3 798.3,1239.5 798.3,1237.7 798.3,1235.8 798.2,1234 798.2,1232.1 798.2,1230.3 798.2,1228.5 798.2,1226.6 798.2,1224.8 798.2,1223 798.2,1221.1 798.2,1219.3 798.2,1217.5 798.2,1215.6 798.2,1213.8 798.2,1212 798.2,1210.1 798.2,1208.3 798.2,1206.5 798.2,1204.6 798.2,1202.8 798.2,1201 798.2,1199.1 798.2,1197.3 798.2,1195.5 798.2,1193.6 798.2,1191.8 798.2,1189.9 798.2,1188.1 798.2,1186.3 798.2,1184.4 798.2,1182.6 798.2,1180.8 798.2,1178.9 798.2,1177.1 798.2,1175.3 798.2,1173.4 798.2,1171.6 798.2,1169.8 798.2,1167.9 798.2,1166.1 798.2,1164.3 798.2,1162.4 798.2,1160.6 798.2,1158.8 798.2,1156.9 798.2,1155.1 798.2,1153.3 798.2,1151.4 798.2,1149.6 798.2,1147.7 798.2,1145.9 798.2,1144.1 798.2,1142.2 798.2,1140.4 798.2,1138.6 798.2,1136.7 798.3,1134.9 798.4,1133.1 798.7,1131.2 799,1129.4 799.4,1127.6 799.9,1125.7 800.5,1123.9 801.2,1122.1 802,1120.2 803,1118.4 804.1,1116.6 805.5,1114.7 807,1112.9 808.7,1111.1 810.4,1109.2 812.1,1107.4 813.8,1105.5 815.7,1103.7 817.8,1101.9 820.2,1100 823,1098.2 826.1,1096.4 829.4,1094.5 832.8,1092.7 836.4,1090.9 840,1089 843.8,1087.2 847.6,1085.4 851.6,1083.5 855.7,1081.7 860.1,1079.9 864.1,1078 867.3,1076.2 869.3,1074.4 870.5,1072.5 871.4,1070.7 872,1068.9 872.3,1067 872.3,1065.2 872.1,1063.3 871.6,1061.5 871.1,1059.7 870.4,1057.8 869.5,1056 868.5,1054.2 867.4,1052.3 866.5,1050.5 866.1,1048.7 865.9,1046.8 865.6,1045 864.9,1043.2 863.7,1041.3 861.6,1039.5 859.1,1037.7 856.7,1035.8 854.6,1034 852.4,1032.2 850,1030.3 847.1,1028.5 843.8,1026.7 840.3,1024.8 836.8,1023 833.6,1021.1 830.5,1019.3 827.6,1017.5 824.8,1015.6 822.3,1013.8 820,1012 817.9,1010.1 816,1008.3 814.2,1006.5 812.5,1004.6 810.8,1002.8 809.2,1001 807.7,999.1 806.3,997.3 805,995.5 803.9,993.6 802.8,991.8 801.9,990 801.1,988.1 800.5,986.3 799.9,984.5 799.4,982.6 799,980.8 798.6,978.9 798.4,977.1 798.3,975.3 798.2,973.4 798.2,971.6 798.2,969.8 798.2,967.9 798.2,966.1 798.2,964.3 798.2,962.4 798.2,960.6 798.2,958.8 798.2,956.9 798.2,955.1 798.2,953.3 798.2,951.4 798.2,949.6 798.2,947.8 798.2,945.9 798.2,944.1 798.2,942.3 798.2,940.4 798.2,938.6 798.2,936.7 798.2,934.9 798.2,933.1 798.2,931.2 798.2,929.4 798.2,927.6 798.2,925.7 798.2,923.9 798.2,922.1 798.2,920.2 798.2,918.4 798.2,916.6 798.2,914.7 798.2,912.9 798.2,911.1 798.2,909.2 798.2,907.4 798.2,905.6 798.2,903.7 798.2,901.9 798.2,900.1 798.2,898.2 798.2,896.4 798.2,894.5 798.2,892.7 798.2,890.9 798.2,889 798.2,887.2 798.2,885.4 798.2,883.5 798.2,881.7 798.2,879.9 798.2,878 798.2,876.2 798.2,874.4 798.2,872.5 798.2,870.7 798.2,868.9 798.2,867 798.2,865.2 798.2,863.4 798.2,861.5 L798.2,861.5 Z" fill="#F8766D" fill-opacity="0.5" stroke="none"/>
<path d="M798.2,1320.2 L798.2,1318.4 L798.2,1316.6 L798.2,1314.7 L798.2,1312.9 L798.2,1311 L798.2,1309.2 L798.2,1307.4 L798.2,1305.5 L798.2,1303.7 L798.2,1301.9 L798.2,1300 L798.2,1298.2 L798.2,1296.4 L798.2,1294.5 L798.2,1292.7 L798.2,1290.9 L798.2,1289 L798.2,1287.2 L798.2,1285.4 L798.2,1283.5 L798.2,1281.7 L798.2,1279.9 L798.2,1278 L798.2,1276.2 L798.2,1274.3 L798.2,1272.5 L798.2,1270.7 L798.2,1268.8 L798.2,1267 L798.2,1265.2 L798.2,1263.3 L798.2,1261.5 L798.2,1259.7 L798.2,1257.8 L798.2,1256 L798.2,1254.2 L798.2,1252.3 L798.2,1250.5 L798.2,1248.7 L798.2,1246.8 L798.2,1245 L798.2,1243.2 L798.2,1241.3 L798.2,1239.5 L798.2,1237.7 L798.2,1235.8 L798.2,1234 L798.2,1232.1 L798.2,1230.3 L798.2,1228.5 L798.2,1226.6 L798.2,1224.8 L798.2,1223 L798.2,1221.1 L798.2,1219.3 L798.2,1217.5 L798.2,1215.6 L798.2,1213.8 L798.2,1212 L798.2,1210.1 L798.2,1208.3 L798.2,1206.5 L798.2,1204.6 L798.2,1202.8 L798.2,1201 L798.2,1199.1 L798.2,1197.3 L798.2,1195.5 L798.2,1193.6 L798.2,1191.8 L798.2,1189.9 L798.2,1188.1 L798.2,1186.3 L798.2,1184.4 L798.2,1182.6 L798.2,1180.8 L798.2,1178.9 L798.2,1177.1 L798.2,1175.3 L798.2,1173.4 L798.2,1171.6 L798.2,1169.8 L798.2,1167.9 L798.2,1166.1 L798.2,1164.3 L798.2,1162.4 L798.2,1160.6 L798.2,1158.8 L798.2,1156.9 L798.2,1155.1 L798.2,1153.3 L798.2,1151.4 L798.2,1149.6 L798.2,1147.7 L798.2,1145.9 L798.2,1144.1 L798.2,1142.2 L798.2,1140.4 L798.2,1138.6 L798.2,1136.7 L798.2,1134.9 L798.2,1133.1 L798.2,1131.2 L798.2,1129.4 L798.2,1127.6 L798.2,1125.7 L798.2,1123.9 L798.2,1122.1 L798.2,1120.2 L798.2,1118.4 L798.2,1116.6 L798.2,1114.7 L798.2,1112.9 L798.2,1111.1 L798.2,1109.2 L798.2,1107.4 L798.3,1105.5 L798.4,1103.7 L798.5,1101.9 L798.6,1100 L798.9,1098.2 L799.2,1096.4 L799.7,1094.5 L800.2,1092.7 L800.8,1090.9 L801.6,1089 L802.5,1087.2 L803.6,1085.4 L804.9,1083.5 L806.6,1081.7 L808.8,1079.9 L811.3,1078 L814.2,1076.2 L817.2,1074.4 L820.6,1072.5 L824.2,1070.7 L828,1068.9 L832,1067 L836,1065.2 L840.1,1063.3 L844.3,1061.5 L848.5,1059.7 L852.5,1057.8 L856.3,1056 L860,1054.2 L863.5,1052.3 L866.7,1050.5 L869.9,1048.7 L875,1046.8 L883.6,1045 L894.8,1043.2 L905.7,1041.3 L912.9,1039.5 L917.1,1037.7 L920.4,1035.8 L921.6,1034 L919.8,1032.2 L915.8,1030.3 L910.1,1028.5 L903.2,1026.7 L895.7,1024.8 L888.6,1023 L882.5,1021.1 L877.8,1019.3 L874,1017.5 L870.5,1015.6 L866.9,1013.8 L862.9,1012 L858.5,1010.1 L853.5,1008.3 L848.1,1006.5 L842.2,1004.6 L835.7,1002.8 L829.4,1001 L824.1,999.1 L819.9,997.3 L816.7,995.5 L814.2,993.6 L812,991.8 L810.2,990 L808.7,988.1 L807.5,986.3 L806.6,984.5 L805.8,982.6 L805.1,980.8 L804.5,978.9 L803.9,977.1 L803.5,975.3 L803.1,973.4 L802.6,971.6 L802.2,969.8 L801.7,967.9 L801.1,966.1 L800.5,964.3 L799.8,962.4 L799.2,960.6 L798.8,958.8 L798.4,956.9 L798.3,955.1 L798.2,953.3 L798.2,951.4 L798.2,949.6 L798.2,947.8 L798.2,945.9 L798.2,944.1 L798.2,942.3 L798.2,940.4 L798.2,938.6 L798.2,936.7 L798.2,934.9 L798.2,933.1 L798.2,931.2 L798.2,929.4 L798.2,927.6 L798.2,925.7 L798.2,923.9 L798.2,922.1 L798.2,920.2 L798.2,918.4 L798.2,916.6 L798.2,914.7 L798.2,912.9 L798.2,911.1 L798.2,909.2 L798.2,907.4 L798.2,905.6 L798.2,903.7 L798.2,901.9 L798.2,900.1 L798.2,898.2 L798.2,896.4 L798.2,894.5 L798.2,892.7 L798.2,890.9 L798.2,889 L798.2,887.2 L798.2,885.4 L798.2,883.5 L798.2,881.7 L798.2,879.9 L798.2,878 L798.2,876.2 L798.2,874.4 L798.2,872.5 L798.2,870.7 L798.2,868.9 L798.2,867 L798.2,865.2 L798.2,863.4 L798.2,861.5" fill="none" stroke="#00BA38" stroke-width="3.4" stroke-linejoin="round"/>
<path d="M798.2,1320.2 L798.2,1318.4 L798.2,1316.6 L798.2,1314.7 L798.2,1312.9 L798.2,1311 L798.2,1309.2 L798.2,1307.4 L798.2,1305.5 L798.2,1303.7 L798.2,1301.9 L798.2,1300 L798.2,1298.2 L798.2,1296.4 L798.2,1294.5 L798.2,1292.7 L798.2,1290.9 L798.2,1289 L798.2,1287.2 L798.2,1285.4 L798.2,1283.5 L798.2,1281.7 L798.2,1279.9 L798.2,1278 L798.2,1276.2 L798.2,1274.3 L798.2,1272.5 L798.2,1270.7 L798.2,1268.8 L798.2,1267 L798.2,1265.2 L798.2,1263.3 L798.2,1261.5 L798.2,1259.7 L798.2,1257.8 L798.2,1256 L798.2,1254.2 L798.2,1252.3 L798.2,1250.5 L798.2,1248.7 L798.2,1246.8 L798.2,1245 L798.2,1243.2 L798.2,1241.3 L798.2,1239.5 L798.2,1237.7 L798.2,1235.8 L798.2,1234 L798.2,1232.1 L798.2,1230.3 L798.2,1228.5 L798.2,1226.6 L798.2,1224.8 L798.2,1223 L798.2,1221.1 L798.2,1219.3 L798.2,1217.5 L798.2,1215.6 L798.2,1213.8 L798.2,1212 L798.2,1210.1 L798.2,1208.3 L798.2,1206.5 L798.2,1204.6 L798.2,1202.8 L798.2,1201 L798.2,1199.1 L798.2,1197.3 L798.2,1195.5 L798.2,1193.6 L798.2,1191.8 L798.2,1189.9 L798.2,1188.1 L798.2,1186.3 L798.2,1184.4 L798.2,1182.6 L798.2,1180.8 L798.2,1178.9 L798.2,1177.1 L798.2,1175.3 L798.2,1173.4 L798.2,1171.6 L798.2,1169.8 L798.2,1167.9 L798.2,1166.1 L798.2,1164.3 L798.2,1162.4 L798.2,1160.6 L798.2,1158.8 L798.2,1156.9 L798.2,1155.1 L798.2,1153.3 L798.2,1151.4 L798.2,1149.6 L798.2,1147.7 L798.2,1145.9 L798.2,1144.1 L798.2,1142.2 L798.2,1140.4 L798.2,1138.6 L798.2,1136.7 L798.2,1134.9 L798.2,1133.1 L798.2,1131.2 L798.2,1129.4 L798.2,1127.6 L798.2,1125.7 L798.2,1123.9 L798.2,1122.1 L798.2,1120.2 L798.2,1118.4 L798.2,1116.6 L798.2,1114.7 L798.2,1112.9 L798.2,1111.1 L798.2,1109.2 L798.2,1107.4 L798.2,1105.5 L798.2,1103.7 L798.2,1101.9 L798.2,1100 L798.2,1098.2 L798.2,1096.4 L798.2,1094.5 L798.2,1092.7 L798.2,1090.9 L798.2,1089 L798.2,1087.2 L798.2,1085.4 L798.2,1083.5 L798.2,1081.7 L798.2,1079.9 L798.2,1078 L798.2,1076.2 L798.2,1074.4 L798.3,1072.5 L798.3,1070.7 L798.4,1068.9 L798.6,1067 L798.8,1065.2 L799.1,1063.3 L799.6,1061.5 L800.3,1059.7 L801.2,1057.8 L802.4,1056 L804.1,1054.2 L806.3,1052.3 L809,1050.5 L812.3,1048.7 L815.6,1046.8 L818.5,1045 L820.9,1043.2 L822.8,1041.3 L824.6,1039.5 L826.1,1037.7 L827.3,1035.8 L828.5,1034 L829.9,1032.2 L831.7,1030.3 L834.2,1028.5 L837.6,1026.7 L842,1024.8 L847.3,1023 L853,1021.1 L858.7,1019.3 L864.3,1017.5 L870,1015.6 L875.5,1013.8 L881.1,1012 L886.8,1010.1 L892.3,1008.3 L897.4,1006.5 L902.1,1004.6 L906.1,1002.8 L909.3,1001 L910.9,999.1 L910.8,997.3 L909.2,995.5 L906.1,993.6 L901.4,991.8 L895.1,990 L888,988.1 L881,986.3 L874.7,984.5 L869,982.6 L863.8,980.8 L859,978.9 L854.6,977.1 L850.7,975.3 L846.9,973.4 L843.4,971.6 L839.9,969.8 L836.4,967.9 L833,966.1 L829.7,964.3 L826.3,962.4 L822.9,960.6 L819.4,958.8 L815.8,956.9 L812.4,955.1 L809.4,953.3 L806.8,951.4 L804.8,949.6 L803.2,947.8 L802,945.9 L801.1,944.1 L800.3,942.3 L799.8,940.4 L799.5,938.6 L799.3,936.7 L799.3,934.9 L799.5,933.1 L799.9,931.2 L800.3,929.4 L800.8,927.6 L801.3,925.7 L801.9,923.9 L802.3,922.1 L802.6,920.2 L802.8,918.4 L802.8,916.6 L802.6,914.7 L802.3,912.9 L801.8,911.1 L801.3,909.2 L800.7,907.4 L800.2,905.6 L799.7,903.7 L799.3,901.9 L799,900.1 L798.7,898.2 L798.5,896.4 L798.4,894.5 L798.3,892.7 L798.3,890.9 L798.2,889 L798.2,887.2 L798.2,885.4 L798.2,883.5 L798.2,881.7 L798.2,879.9 L798.2,878 L798.2,876.2 L798.2,874.4 L798.2,872.5 L798.2,870.7 L798.2,868.9 L798.2,867 L798.2,865.2 L798.2,863.4 L798.2,861.5" fill="none" stroke="#619CFF" stroke-width="3.4" stroke-linejoin="round"/>
<path d="M798.6,1320.2 L798.8,1318.4 L798.9,1316.6 L799.1,1314.7 L799.4,1312.9 L799.7,1311 L800,1309.2 L800.3,1307.4 L800.7,1305.5 L801.2,1303.7 L801.7,1301.9 L802.1,1300 L802.6,1298.2 L803.1,1296.4 L803.6,1294.5 L804,1292.7 L804.4,1290.9 L804.7,1289 L804.9,1287.2 L805.1,1285.4 L805.1,1283.5 L805.1,1281.7 L804.9,1279.9 L804.7,1278 L804.4,1276.2 L804,1274.3 L803.6,1272.5 L803.1,1270.7 L802.6,1268.8 L802.1,1267 L801.7,1265.2 L801.2,1263.3 L800.7,1261.5 L800.3,1259.7 L800,1257.8 L799.7,1256 L799.4,1254.2 L799.1,1252.3 L798.9,1250.5 L798.8,1248.7 L798.6,1246.8 L798.5,1245 L798.4,1243.2 L798.4,1241.3 L798.3,1239.5 L798.3,1237.7 L798.3,1235.8 L798.2,1234 L798.2,1232.1 L798.2,1230.3 L798.2,1228.5 L798.2,1226.6 L798.2,1224.8 L798.2,1223 L798.2,1221.1 L798.2,1219.3 L798.2,1217.5 L798.2,1215.6 L798.2,1213.8 L798.2,1212 L798.2,1210.1 L798.2,1208.3 L798.2,1206.5 L798.2,1204.6 L798.2,1202.8 L798.2,1201 L798.2,1199.1 L798.2,1197.3 L798.2,1195.5 L798.2,1193.6 L798.2,1191.8 L798.2,1189.9 L798.2,1188.1 L798.2,1186.3 L798.2,1184.4 L798.2,1182.6 L798.2,1180.8 L798.2,1178.9 L798.2,1177.1 L798.2,1175.3 L798.2,1173.4 L798.2,1171.6 L798.2,1169.8 L798.2,1167.9 L798.2,1166.1 L798.2,1164.3 L798.2,1162.4 L798.2,1160.6 L798.2,1158.8 L798.2,1156.9 L798.2,1155.1 L798.2,1153.3 L798.2,1151.4 L798.2,1149.6 L798.2,1147.7 L798.2,1145.9 L798.2,1144.1 L798.2,1142.2 L798.2,1140.4 L798.2,1138.6 L798.2,1136.7 L798.3,1134.9 L798.4,1133.1 L798.7,1131.2 L799,1129.4 L799.4,1127.6 L799.9,1125.7 L800.5,1123.9 L801.2,1122.1 L802,1120.2 L803,1118.4 L804.1,1116.6 L805.5,1114.7 L807,1112.9 L808.7,1111.1 L810.4,1109.2 L812.1,1107.4 L813.8,1105.5 L815.7,1103.7 L817.8,1101.9 L820.2,1100 L823,1098.2 L826.1,1096.4 L829.4,1094.5 L832.8,1092.7 L836.4,1090.9 L840,1089 L843.8,1087.2 L847.6,1085.4 L851.6,1083.5 L855.7,1081.7 L860.1,1079.9 L864.1,1078 L867.3,1076.2 L869.3,1074.4 L870.5,1072.5 L871.4,1070.7 L872,1068.9 L872.3,1067 L872.3,1065.2 L872.1,1063.3 L871.6,1061.5 L871.1,1059.7 L870.4,1057.8 L869.5,1056 L868.5,1054.2 L867.4,1052.3 L866.5,1050.5 L866.1,1048.7 L865.9,1046.8 L865.6,1045 L864.9,1043.2 L863.7,1041.3 L861.6,1039.5 L859.1,1037.7 L856.7,1035.8 L854.6,1034 L852.4,1032.2 L850,1030.3 L847.1,1028.5 L843.8,1026.7 L840.3,1024.8 L836.8,1023 L833.6,1021.1 L830.5,1019.3 L827.6,1017.5 L824.8,1015.6 L822.3,1013.8 L820,1012 L817.9,1010.1 L816,1008.3 L814.2,1006.5 L812.5,1004.6 L810.8,1002.8 L809.2,1001 L807.7,999.1 L806.3,997.3 L805,995.5 L803.9,993.6 L802.8,991.8 L801.9,990 L801.1,988.1 L800.5,986.3 L799.9,984.5 L799.4,982.6 L799,980.8 L798.6,978.9 L798.4,977.1 L798.3,975.3 L798.2,973.4 L798.2,971.6 L798.2,969.8 L798.2,967.9 L798.2,966.1 L798.2,964.3 L798.2,962.4 L798.2,960.6 L798.2,958.8 L798.2,956.9 L798.2,955.1 L798.2,953.3 L798.2,951.4 L798.2,949.6 L798.2,947.8 L798.2,945.9 L798.2,944.1 L798.2,942.3 L798.2,940.4 L798.2,938.6 L798.2,936.7 L798.2,934.9 L798.2,933.1 L798.2,931.2 L798.2,929.4 L798.2,927.6 L798.2,925.7 L798.2,923.9 L798.2,922.1 L798.2,920.2 L798.2,918.4 L798.2,916.6 L798.2,914.7 L798.2,912.9 L798.2,911.1 L798.2,909.2 L798.2,907.4 L798.2,905.6 L798.2,903.7 L798.2,901.9 L798.2,900.1 L798.2,898.2 L798.2,896.4 L798.2,894.5 L798.2,892.7 L798.2,890.9 L798.2,889 L798.2,887.2 L798.2,885.4 L798.2,883.5 L798.2,881.7 L798.2,879.9 L798.2,878 L798.2,876.2 L798.2,874.4 L798.2,872.5 L798.2,870.7 L798.2,868.9 L798.2,867 L798.2,865.2 L798.2,863.4 L798.2,861.5" fill="none" stroke="#F8766D" stroke-width="3.4" stroke-linejoin="round"/>
<clipPath id="clip2"><rect x="115.9" y="839.7" width="675.3" height="502.6"/></clipPath>
<g><line x1="206.95" y1="839.7" x2="206.95" y2="1342.3" stroke="#EBEBEB" stroke-width="1.6"/><line x1="115.9" y1="1274.35" x2="791.2" y2="1274.35" stroke="#EBEBEB" stroke-width="1.6"/><line x1="330.09" y1="839.7" x2="330.09" y2="1342.3" stroke="#EBEBEB" stroke-width="1.6"/><line x1="115.9" y1="1182.61" x2="791.2" y2="1182.61" stroke="#EBEBEB" stroke-width="1.6"/><line x1="453.23" y1="839.7" x2="453.23" y2="1342.3" stroke="#EBEBEB" stroke-width="1.6"/><line x1="115.9" y1="1090.87" x2="791.2" y2="1090.87" stroke="#EBEBEB" stroke-width="1.6"/><line x1="576.37" y1="839.7" x2="576.37" y2="1342.3" stroke="#EBEBEB" stroke-width="1.6"/><line x1="115.9" y1="999.13" x2="791.2" y2="999.13" stroke="#EBEBEB" stroke-width="1.6"/><line x1="699.51" y1="839.7" x2="699.51" y2="1342.3" stroke="#EBEBEB" stroke-width="1.6"/><line x1="115.9" y1="907.39" x2="791.2" y2="907.39" stroke="#EBEBEB" stroke-width="1.6"/><line x1="145.38" y1="839.7" x2="145.38" y2="1342.3" stroke="#EBEBEB" stroke-width="3.0"/><line x1="115.9" y1="1320.22" x2="791.2" y2="1320.22" stroke="#EBEBEB" stroke-width="3.0"/><line x1="268.52" y1="839.7" x2="268.52" y2="1342.3" stroke="#EBEBEB" stroke-width="3.0"/><line x1="115.9" y1="1228.48" x2="791.2" y2="1228.48" stroke="#EBEBEB" stroke-width="3.0"/><line x1="391.66" y1="839.7" x2="391.66" y2="1342.3" stroke="#EBEBEB" stroke-width="3.0"/><line x1="115.9" y1="1136.74" x2="791.2" y2="1136.74" stroke="#EBEBEB" stroke-width="3.0"/><line x1="514.8" y1="839.7" x2="514.8" y2="1342.3" stroke="#EBEBEB" stroke-width="3.0"/><line x1="115.9" y1="1045" x2="791.2" y2="1045" stroke="#EBEBEB" stroke-width="3.0"/><line x1="637.94" y1="839.7" x2="637.94" y2="1342.3" stroke="#EBEBEB" stroke-width="3.0"/><line x1="115.9" y1="953.26" x2="791.2" y2="953.26" stroke="#EBEBEB" stroke-width="3.0"/><line x1="761.08" y1="839.7" x2="761.08" y2="1342.3" stroke="#EBEBEB" stroke-width="3.0"/><line x1="115.9" y1="861.52" x2="791.2" y2="861.52" stroke="#EBEBEB" stroke-width="3.0"/></g>
<g fill="#000000" font-size="41" transform="translate(0 967.86) scale(1 1.045) translate(0 -967.86)"><text x="199.12" y="967.86" font-style="italic">r</text><text transform="translate(224.32 971.51) scale(1.16 1)" font-family="Liberation Serif">=</text><text x="258.52" y="967.86">0.69</text></g>
<g fill="#EE0000" font-size="41" transform="translate(0 1041.25) scale(1 1.045) translate(0 -1041.25)"><text x="260.69" y="1041.25" font-style="italic">r</text><text transform="translate(285.89 1044.9) scale(1.16 1)" font-family="Liberation Serif">=</text><text x="320.09" y="1041.25">0.83</text></g>
<g fill="#00CD00" font-size="41" transform="translate(0 949.51) scale(1 1.045) translate(0 -949.51)"><text x="414.61" y="949.51" font-style="italic">r</text><text transform="translate(439.81 953.16) scale(1.16 1)" font-family="Liberation Serif">=</text><text x="474.01" y="949.51">0.55</text></g>
<g fill="#0000EE" font-size="41" transform="translate(0 894.47) scale(1 1.045) translate(0 -894.47)"><text x="568.54" y="894.47" font-style="italic">r</text><text transform="translate(593.74 898.12) scale(1.16 1)" font-family="Liberation Serif">=</text><text x="627.94" y="894.47">0.46</text></g>
<g clip-path="url(#clip2)">
<g><circle cx="492.0" cy="1018.9" r="8.2" fill="#00BA38"/><circle cx="500.0" cy="1018.9" r="8.2" fill="#00BA38"/><circle cx="508.0" cy="1018.9" r="8.2" fill="#00BA38"/><circle cx="516.0" cy="1018.9" r="8.2" fill="#00BA38"/><circle cx="524.0" cy="1018.9" r="8.2" fill="#00BA38"/><circle cx="532.0" cy="1018.9" r="8.2" fill="#00BA38"/><circle cx="540.0" cy="1018.9" r="8.2" fill="#00BA38"/><circle cx="480.0" cy="1025.9" r="8.2" fill="#00BA38"/><circle cx="488.0" cy="1025.9" r="8.2" fill="#00BA38"/><circle cx="496.0" cy="1025.9" r="8.2" fill="#00BA38"/><circle cx="504.0" cy="1025.9" r="8.2" fill="#00BA38"/><circle cx="512.0" cy="1025.9" r="8.2" fill="#00BA38"/><circle cx="520.0" cy="1025.9" r="8.2" fill="#00BA38"/><circle cx="528.0" cy="1025.9" r="8.2" fill="#00BA38"/><circle cx="536.0" cy="1025.9" r="8.2" fill="#00BA38"/><circle cx="544.0" cy="1025.9" r="8.2" fill="#00BA38"/><circle cx="552.0" cy="1025.9" r="8.2" fill="#00BA38"/><circle cx="560.0" cy="1025.9" r="8.2" fill="#00BA38"/><circle cx="468.0" cy="1032.8" r="8.2" fill="#00BA38"/><circle cx="476.0" cy="1032.8" r="8.2" fill="#00BA38"/><circle cx="484.0" cy="1032.8" r="8.2" fill="#00BA38"/><circle cx="492.0" cy="1032.8" r="8.2" fill="#00BA38"/><circle cx="500.0" cy="1032.8" r="8.2" fill="#00BA38"/><circle cx="508.0" cy="1032.8" r="8.2" fill="#00BA38"/><circle cx="516.0" cy="1032.8" r="8.2" fill="#00BA38"/><circle cx="524.0" cy="1032.8" r="8.2" fill="#00BA38"/><circle cx="532.0" cy="1032.8" r="8.2" fill="#00BA38"/><circle cx="540.0" cy="1032.8" r="8.2" fill="#00BA38"/><circle cx="548.0" cy="1032.8" r="8.2" fill="#00BA38"/><circle cx="556.0" cy="1032.8" r="8.2" fill="#00BA38"/><circle cx="564.0" cy="1032.8" r="8.2" fill="#00BA38"/><circle cx="572.0" cy="1032.8" r="8.2" fill="#00BA38"/><circle cx="580.0" cy="1032.8" r="8.2" fill="#00BA38"/><circle cx="456.0" cy="1039.7" r="8.2" fill="#00BA38"/><circle cx="464.0" cy="1039.7" r="8.2" fill="#00BA38"/><circle cx="472.0" cy="1039.7" r="8.2" fill="#00BA38"/><circle cx="480.0" cy="1039.7" r="8.2" fill="#00BA38"/><circle cx="488.0" cy="1039.7" r="8.2" fill="#00BA38"/><circle cx="496.0" cy="1039.7" r="8.2" fill="#00BA38"/><circle cx="504.0" cy="1039.7" r="8.2" fill="#00BA38"/><circle cx="512.0" cy="1039.7" r="8.2" fill="#00BA38"/><circle cx="520.0" cy="1039.7" r="8.2" fill="#00BA38"/><circle cx="528.0" cy="1039.7" r="8.2" fill="#00BA38"/><circle cx="536.0" cy="1039.7" r="8.2" fill="#00BA38"/><circle cx="544.0" cy="1039.7" r="8.2" fill="#00BA38"/><circle cx="552.0" cy="1039.7" r="8.2" fill="#00BA38"/><circle cx="560.0" cy="1039.7" r="8.2" fill="#00BA38"/><circle cx="568.0" cy="1039.7" r="8.2" fill="#00BA38"/><circle cx="576.0" cy="1039.7" r="8.2" fill="#00BA38"/><circle cx="584.0" cy="1039.7" r="8.2" fill="#00BA38"/><circle cx="452.0" cy="1046.6" r="8.2" fill="#00BA38"/><circle cx="460.0" cy="1046.6" r="8.2" fill="#00BA38"/><circle cx="468.0" cy="1046.6" r="8.2" fill="#00BA38"/><circle cx="476.0" cy="1046.6" r="8.2" fill="#00BA38"/><circle cx="484.0" cy="1046.6" r="8.2" fill="#00BA38"/><circle cx="492.0" cy="1046.6" r="8.2" fill="#00BA38"/><circle cx="500.0" cy="1046.6" r="8.2" fill="#00BA38"/><circle cx="508.0" cy="1046.6" r="8.2" fill="#00BA38"/><circle cx="516.0" cy="1046.6" r="8.2" fill="#00BA38"/><circle cx="524.0" cy="1046.6" r="8.2" fill="#00BA38"/><circle cx="532.0" cy="1046.6" r="8.2" fill="#00BA38"/><circle cx="540.0" cy="1046.6" r="8.2" fill="#00BA38"/><circle cx="548.0" cy="1046.6" r="8.2" fill="#00BA38"/><circle cx="556.0" cy="1046.6" r="8.2" fill="#00BA38"/><circle cx="564.0" cy="1046.6" r="8.2" fill="#00BA38"/><circle cx="572.0" cy="1046.6" r="8.2" fill="#00BA38"/><circle cx="580.0" cy="1046.6" r="8.2" fill="#00BA38"/><circle cx="448.0" cy="1053.6" r="8.2" fill="#00BA38"/><circle cx="456.0" cy="1053.6" r="8.2" fill="#00BA38"/><circle cx="464.0" cy="1053.6" r="8.2" fill="#00BA38"/><circle cx="472.0" cy="1053.6" r="8.2" fill="#00BA38"/><circle cx="480.0" cy="1053.6" r="8.2" fill="#00BA38"/><circle cx="488.0" cy="1053.6" r="8.2" fill="#00BA38"/><circle cx="496.0" cy="1053.6" r="8.2" fill="#00BA38"/><circle cx="504.0" cy="1053.6" r="8.2" fill="#00BA38"/><circle cx="512.0" cy="1053.6" r="8.2" fill="#00BA38"/><circle cx="520.0" cy="1053.6" r="8.2" fill="#00BA38"/><circle cx="528.0" cy="1053.6" r="8.2" fill="#00BA38"/><circle cx="536.0" cy="1053.6" r="8.2" fill="#00BA38"/><circle cx="544.0" cy="1053.6" r="8.2" fill="#00BA38"/><circle cx="552.0" cy="1053.6" r="8.2" fill="#00BA38"/><circle cx="560.0" cy="1053.6" r="8.2" fill="#00BA38"/><circle cx="568.0" cy="1053.6" r="8.2" fill="#00BA38"/><circle cx="576.0" cy="1053.6" r="8.2" fill="#00BA38"/><circle cx="444.0" cy="1060.5" r="8.2" fill="#00BA38"/><circle cx="452.0" cy="1060.5" r="8.2" fill="#00BA38"/><circle cx="460.0" cy="1060.5" r="8.2" fill="#00BA38"/><circle cx="468.0" cy="1060.5" r="8.2" fill="#00BA38"/><circle cx="476.0" cy="1060.5" r="8.2" fill="#00BA38"/><circle cx="484.0" cy="1060.5" r="8.2" fill="#00BA38"/><circle cx="492.0" cy="1060.5" r="8.2" fill="#00BA38"/><circle cx="500.0" cy="1060.5" r="8.2" fill="#00BA38"/><circle cx="508.0" cy="1060.5" r="8.2" fill="#00BA38"/><circle cx="516.0" cy="1060.5" r="8.2" fill="#00BA38"/><circle cx="524.0" cy="1060.5" r="8.2" fill="#00BA38"/><circle cx="532.0" cy="1060.5" r="8.2" fill="#00BA38"/><circle cx="540.0" cy="1060.5" r="8.2" fill="#00BA38"/><circle cx="548.0" cy="1060.5" r="8.2" fill="#00BA38"/><circle cx="556.0" cy="1060.5" r="8.2" fill="#00BA38"/><circle cx="456.0" cy="1067.4" r="8.2" fill="#00BA38"/><circle cx="464.0" cy="1067.4" r="8.2" fill="#00BA38"/><circle cx="472.0" cy="1067.4" r="8.2" fill="#00BA38"/><circle cx="480.0" cy="1067.4" r="8.2" fill="#00BA38"/><circle cx="488.0" cy="1067.4" r="8.2" fill="#00BA38"/><circle cx="496.0" cy="1067.4" r="8.2" fill="#00BA38"/><circle cx="504.0" cy="1067.4" r="8.2" fill="#00BA38"/><circle cx="512.0" cy="1067.4" r="8.2" fill="#00BA38"/><circle cx="520.0" cy="1067.4" r="8.2" fill="#00BA38"/><circle cx="528.0" cy="1067.4" r="8.2" fill="#00BA38"/><circle cx="460.0" cy="1035.0" r="8.2" fill="#00BA38"/><circle cx="500.0" cy="1012.0" r="8.2" fill="#00BA38"/><circle cx="550.0" cy="1020.0" r="8.2" fill="#00BA38"/><circle cx="590.0" cy="1035.0" r="8.2" fill="#00BA38"/><circle cx="585.0" cy="1050.0" r="8.2" fill="#00BA38"/><circle cx="560.0" cy="1062.0" r="8.2" fill="#00BA38"/><circle cx="520.0" cy="1070.0" r="8.2" fill="#00BA38"/><circle cx="480.0" cy="1072.0" r="8.2" fill="#00BA38"/><circle cx="450.0" cy="1068.0" r="8.2" fill="#00BA38"/><circle cx="440.0" cy="1058.0" r="8.2" fill="#00BA38"/><circle cx="537.0" cy="971.9" r="8.2" fill="#619CFF"/><circle cx="545.0" cy="971.9" r="8.2" fill="#619CFF"/><circle cx="553.0" cy="971.9" r="8.2" fill="#619CFF"/><circle cx="561.0" cy="971.9" r="8.2" fill="#619CFF"/><circle cx="569.0" cy="971.9" r="8.2" fill="#619CFF"/><circle cx="577.0" cy="971.9" r="8.2" fill="#619CFF"/><circle cx="525.0" cy="978.9" r="8.2" fill="#619CFF"/><circle cx="533.0" cy="978.9" r="8.2" fill="#619CFF"/><circle cx="541.0" cy="978.9" r="8.2" fill="#619CFF"/><circle cx="549.0" cy="978.9" r="8.2" fill="#619CFF"/><circle cx="557.0" cy="978.9" r="8.2" fill="#619CFF"/><circle cx="565.0" cy="978.9" r="8.2" fill="#619CFF"/><circle cx="573.0" cy="978.9" r="8.2" fill="#619CFF"/><circle cx="581.0" cy="978.9" r="8.2" fill="#619CFF"/><circle cx="521.0" cy="985.8" r="8.2" fill="#619CFF"/><circle cx="529.0" cy="985.8" r="8.2" fill="#619CFF"/><circle cx="537.0" cy="985.8" r="8.2" fill="#619CFF"/><circle cx="545.0" cy="985.8" r="8.2" fill="#619CFF"/><circle cx="553.0" cy="985.8" r="8.2" fill="#619CFF"/><circle cx="561.0" cy="985.8" r="8.2" fill="#619CFF"/><circle cx="569.0" cy="985.8" r="8.2" fill="#619CFF"/><circle cx="577.0" cy="985.8" r="8.2" fill="#619CFF"/><circle cx="585.0" cy="985.8" r="8.2" fill="#619CFF"/><circle cx="525.0" cy="992.7" r="8.2" fill="#619CFF"/><circle cx="533.0" cy="992.7" r="8.2" fill="#619CFF"/><circle cx="541.0" cy="992.7" r="8.2" fill="#619CFF"/><circle cx="549.0" cy="992.7" r="8.2" fill="#619CFF"/><circle cx="557.0" cy="992.7" r="8.2" fill="#619CFF"/><circle cx="565.0" cy="992.7" r="8.2" fill="#619CFF"/><circle cx="573.0" cy="992.7" r="8.2" fill="#619CFF"/><circle cx="581.0" cy="992.7" r="8.2" fill="#619CFF"/><circle cx="589.0" cy="992.7" r="8.2" fill="#619CFF"/><circle cx="529.0" cy="999.6" r="8.2" fill="#619CFF"/><circle cx="537.0" cy="999.6" r="8.2" fill="#619CFF"/><circle cx="545.0" cy="999.6" r="8.2" fill="#619CFF"/><circle cx="553.0" cy="999.6" r="8.2" fill="#619CFF"/><circle cx="561.0" cy="999.6" r="8.2" fill="#619CFF"/><circle cx="569.0" cy="999.6" r="8.2" fill="#619CFF"/><circle cx="577.0" cy="999.6" r="8.2" fill="#619CFF"/><circle cx="585.0" cy="999.6" r="8.2" fill="#619CFF"/><circle cx="549.0" cy="1006.6" r="8.2" fill="#619CFF"/><circle cx="557.0" cy="1006.6" r="8.2" fill="#619CFF"/><circle cx="565.0" cy="1006.6" r="8.2" fill="#619CFF"/><circle cx="517.0" cy="982.0" r="8.2" fill="#619CFF"/><circle cx="545.0" cy="965.0" r="8.2" fill="#619CFF"/><circle cx="575.0" cy="968.0" r="8.2" fill="#619CFF"/><circle cx="595.0" cy="990.0" r="8.2" fill="#619CFF"/><circle cx="585.0" cy="1005.0" r="8.2" fill="#619CFF"/><circle cx="550.0" cy="1008.0" r="8.2" fill="#619CFF"/><circle cx="525.0" cy="1004.0" r="8.2" fill="#619CFF"/><circle cx="678.7" cy="918.7" r="8.2" fill="#619CFF"/><circle cx="702.8" cy="963.2" r="8.2" fill="#619CFF"/><circle cx="584.1" cy="956.7" r="8.2" fill="#619CFF"/><circle cx="545.2" cy="960.4" r="8.2" fill="#619CFF"/><circle cx="571.1" cy="969.7" r="8.2" fill="#619CFF"/><circle cx="611.9" cy="975.3" r="8.2" fill="#619CFF"/><circle cx="639.7" cy="979.0" r="8.2" fill="#619CFF"/><circle cx="652.7" cy="996.6" r="8.2" fill="#619CFF"/><circle cx="636.0" cy="1017.0" r="8.2" fill="#619CFF"/><circle cx="597.1" cy="1016.1" r="8.2" fill="#619CFF"/><circle cx="578.5" cy="1010.5" r="8.2" fill="#619CFF"/><circle cx="561.9" cy="1016.1" r="8.2" fill="#619CFF"/><circle cx="547.0" cy="1012.4" r="8.2" fill="#619CFF"/><circle cx="534.0" cy="1030.9" r="8.2" fill="#619CFF"/><circle cx="448.8" cy="1043.9" r="8.2" fill="#619CFF"/><circle cx="506.2" cy="999.4" r="8.2" fill="#619CFF"/><circle cx="521.1" cy="979.0" r="8.2" fill="#619CFF"/><circle cx="540.0" cy="975.0" r="8.2" fill="#619CFF"/><circle cx="545.2" cy="1053.1" r="8.2" fill="#619CFF"/><circle cx="447.7" cy="1043.8" r="8.2" fill="#619CFF"/><circle cx="656.4" cy="1016.1" r="8.2" fill="#00BA38"/><circle cx="615.6" cy="988.3" r="8.2" fill="#00BA38"/><circle cx="615.6" cy="1006.8" r="8.2" fill="#00BA38"/><circle cx="597.1" cy="990.1" r="8.2" fill="#00BA38"/><circle cx="626.7" cy="1030.9" r="8.2" fill="#00BA38"/><circle cx="617.5" cy="1036.5" r="8.2" fill="#00BA38"/><circle cx="598.9" cy="1043.9" r="8.2" fill="#00BA38"/><circle cx="587.8" cy="1051.3" r="8.2" fill="#00BA38"/><circle cx="589.7" cy="1027.2" r="8.2" fill="#00BA38"/><circle cx="571.1" cy="1066.1" r="8.2" fill="#00BA38"/><circle cx="571.1" cy="1034.6" r="8.2" fill="#00BA38"/><circle cx="513.6" cy="986.4" r="8.2" fill="#00BA38"/><circle cx="498.8" cy="1008.6" r="8.2" fill="#00BA38"/><circle cx="474.7" cy="1019.8" r="8.2" fill="#00BA38"/><circle cx="465.4" cy="1030.9" r="8.2" fill="#00BA38"/><circle cx="443.2" cy="1062.4" r="8.2" fill="#00BA38"/><circle cx="432.1" cy="1075.4" r="8.2" fill="#00BA38"/><circle cx="474.7" cy="1082.8" r="8.2" fill="#00BA38"/><circle cx="504.4" cy="1075.4" r="8.2" fill="#00BA38"/><circle cx="532.2" cy="1073.5" r="8.2" fill="#00BA38"/><circle cx="431.4" cy="1074.6" r="8.2" fill="#00BA38"/><circle cx="473.6" cy="1082.7" r="8.2" fill="#00BA38"/><circle cx="444.4" cy="1061.6" r="8.2" fill="#00BA38"/><circle cx="467.1" cy="1030.8" r="8.2" fill="#00BA38"/><circle cx="555.0" cy="1025.0" r="8.2" fill="#619CFF"/><circle cx="530.0" cy="1015.0" r="8.2" fill="#619CFF"/><circle cx="417.2" cy="1089.3" r="8.2" fill="#F8766D"/><circle cx="437.6" cy="1099.5" r="8.2" fill="#F8766D"/><circle cx="463.6" cy="1105.0" r="8.2" fill="#F8766D"/><circle cx="459.9" cy="1084.7" r="8.2" fill="#F8766D"/><circle cx="441.3" cy="1080.9" r="8.2" fill="#F8766D"/><circle cx="476.6" cy="1066.1" r="8.2" fill="#F8766D"/><circle cx="487.7" cy="1029.0" r="8.2" fill="#F8766D"/><circle cx="515.5" cy="1047.6" r="8.2" fill="#F8766D"/><circle cx="558.1" cy="1053.1" r="8.2" fill="#F8766D"/><circle cx="552.6" cy="1073.5" r="8.2" fill="#F8766D"/><circle cx="539.6" cy="1079.1" r="8.2" fill="#F8766D"/><circle cx="447.7" cy="1097.3" r="8.2" fill="#F8766D"/><circle cx="478.5" cy="1064.9" r="8.2" fill="#F8766D"/><circle cx="274.1" cy="1284.7" r="8.2" fill="#F8766D"/><circle cx="474.0" cy="1082.0" r="8.2" fill="#00BA38"/><circle cx="485.0" cy="1075.0" r="8.2" fill="#00BA38"/></g>
<path d="M279.7,1233.9 L286.9,1222.9 L294.0,1212.8 L301.2,1203.7 L308.3,1195.5 L315.5,1187.8 L322.6,1180.2 L329.8,1172.5 L337.0,1165.0 L344.1,1157.8 L351.3,1151.1 L358.4,1144.7 L365.6,1138.6 L372.7,1132.7 L379.9,1127.1 L387.1,1121.6 L394.2,1115.9 L401.4,1109.9 L408.5,1103.9 L415.7,1097.9 L422.9,1092.3 L430.0,1087.1 L437.2,1081.9 L444.3,1076.6 L451.5,1071.1 L458.6,1065.6 L465.8,1060.1 L473.0,1054.6 L480.1,1049.0 L487.3,1043.7 L494.4,1038.8 L501.6,1034.5 L508.7,1030.3 L515.9,1025.7 L523.1,1020.0 L530.2,1015.7 L537.4,1012.2 L544.5,1009.1 L551.7,1006.5 L558.8,1004.2 L566.0,1002.2 L573.2,1000.3 L580.3,998.7 L587.5,997.1 L594.6,995.6 L601.8,993.9 L609.0,991.9 L616.1,989.7 L623.3,987.1 L630.4,984.0 L637.6,980.4 L644.7,976.3 L651.9,971.9 L659.1,967.1 L666.2,961.8 L673.4,956.1 L680.5,950.3 L687.7,944.1 L694.8,937.6 L702.0,930.8 L702.0,990.8 L694.8,993.3 L687.7,995.7 L680.5,997.8 L673.4,999.9 L666.2,1001.8 L659.1,1003.6 L651.9,1005.0 L644.7,1006.3 L637.6,1007.4 L630.4,1008.3 L623.3,1008.8 L616.1,1009.2 L609.0,1009.7 L601.8,1010.2 L594.6,1010.6 L587.5,1011.0 L580.3,1011.6 L573.2,1012.6 L566.0,1013.9 L558.8,1015.5 L551.7,1017.4 L544.5,1019.7 L537.4,1022.5 L530.2,1025.9 L523.1,1030.0 L515.9,1035.7 L508.7,1040.4 L501.6,1044.8 L494.4,1049.3 L487.3,1054.4 L480.1,1060.0 L473.0,1065.9 L465.8,1071.8 L458.6,1077.7 L451.5,1083.7 L444.3,1089.8 L437.2,1095.8 L430.0,1101.8 L422.9,1108.0 L415.7,1114.6 L408.5,1121.7 L401.4,1129.3 L394.2,1136.9 L387.1,1144.4 L379.9,1152.1 L372.7,1160.1 L365.6,1168.5 L358.4,1177.2 L351.3,1186.3 L344.1,1195.8 L337.0,1205.9 L329.8,1216.6 L322.6,1227.7 L315.5,1239.0 L308.3,1250.6 L301.2,1263.0 L294.0,1276.6 L286.9,1291.6 L279.7,1307.9 Z" fill="#999999" fill-opacity="0.4"/><path d="M274.1,1282.3 L279.5,1271.3 L284.9,1260.8 L290.3,1251.0 L295.7,1241.8 L301.1,1233.4 L306.6,1225.5 L312.0,1218.1 L317.4,1210.9 L322.8,1203.8 L328.2,1196.7 L333.6,1189.7 L339.0,1182.9 L344.4,1176.5 L349.8,1170.3 L355.2,1164.4 L360.6,1158.6 L366.1,1153.1 L371.5,1147.7 L376.9,1142.4 L382.3,1137.4 L387.7,1132.4 L393.1,1127.4 L398.5,1122.3 L403.9,1117.2 L409.3,1112.1 L414.7,1107.1 L420.1,1102.4 L425.5,1098.0 L431.0,1093.7 L436.4,1089.5 L441.8,1085.2 L447.2,1080.9 L452.6,1076.5 L458.0,1072.2 L463.4,1067.8 L468.8,1063.5 L474.2,1059.2 L479.6,1054.9 L485.0,1050.7 L490.5,1046.7 L495.9,1043.1 L501.3,1039.8 L506.7,1036.6 L512.1,1033.3 L517.5,1029.5 L522.9,1025.2 L528.3,1021.8 L533.7,1019.0 L539.1,1016.6 L544.5,1014.4 L550.0,1012.5 L555.4,1010.9 L560.8,1009.3 L566.2,1008.0 L571.6,1006.8 L577.0,1005.7 L582.4,1004.8 L587.8,1004.0 L593.2,1003.3 L598.6,1002.5 L604.0,1001.7 L609.4,1000.7 L614.9,999.7 L620.3,998.6 L625.7,997.4 L631.1,995.9 L636.5,994.2 L641.9,992.4 L647.3,990.3 L652.7,988.1 L658.1,985.8 L663.5,983.2 L668.9,980.4 L674.4,977.5 L679.8,974.5 L685.2,971.4 L690.6,968.1 L696.0,964.7 L701.4,961.2" fill="none" stroke="#ABABAB" stroke-width="8" stroke-linejoin="round"/>
<line x1="514.8" y1="839.7" x2="514.8" y2="1342.3" stroke="#B3B3B3" stroke-width="3.0"/>
<line x1="115.9" y1="1045" x2="791.2" y2="1045" stroke="#B3B3B3" stroke-width="3.0"/>
<line x1="22.24" y1="1411.96" x2="884.22" y2="769.78" stroke="#B3B3B3" stroke-width="3.0"/>
</g>
<rect x="115.9" y="839.7" width="675.3" height="502.6" fill="none" stroke="#111" stroke-width="2"/>
<path d="M145.38 1342.3V1352.8M115.9 1320.22H105.4M268.52 1342.3V1352.8M115.9 1228.48H105.4M391.66 1342.3V1352.8M115.9 1136.74H105.4M514.8 1342.3V1352.8M115.9 1045H105.4M637.94 1342.3V1352.8M115.9 953.26H105.4M761.08 1342.3V1352.8M115.9 861.52H105.4" stroke="#1E1E1E" stroke-width="2.9" fill="none"/>
<g fill="#262626" font-size="32.8"><text x="145.38" y="1385.9" text-anchor="middle">-3</text><text x="96.1" y="1331.92" text-anchor="end">-3</text><text x="268.52" y="1385.9" text-anchor="middle">-2</text><text x="96.1" y="1240.18" text-anchor="end">-2</text><text x="391.66" y="1385.9" text-anchor="middle">-1</text><text x="96.1" y="1148.44" text-anchor="end">-1</text><text x="514.8" y="1385.9" text-anchor="middle">0</text><text x="96.1" y="1056.7" text-anchor="end">0</text><text x="637.94" y="1385.9" text-anchor="middle">1</text><text x="96.1" y="964.96" text-anchor="end">1</text><text x="761.08" y="1385.9" text-anchor="middle">2</text><text x="96.1" y="873.22" text-anchor="end">2</text></g>
<text x="453.55" y="1437.6" text-anchor="middle" font-size="41">Bliss</text>
<text transform="translate(31.6 1173.7) rotate(-90)" font-size="41">f<tspan font-size="28.7" dy="7.9">largetosmall</tspan></text>
<path d="M1084.6,834 L1084.6,834 1087.1,834 1089.6,834 1092.1,834 1094.6,834 1097.1,834 1099.6,834 1102.1,834 1104.6,834 1107.1,834 1109.6,834 1112.1,834 1114.6,834 1117.1,834 1119.6,834 1122.1,834 1124.6,834 1127.1,834 1129.6,834 1132.1,834 1134.6,834 1137.1,834 1139.6,834 1142.1,834 1144.6,834 1147.1,834 1149.6,834 1152.1,834 1154.6,834 1157.1,834 1159.6,834 1162.1,834 1164.6,834 1167.1,834 1169.6,834 1172.1,834 1174.6,834 1177.1,834 1179.6,834 1182.1,834 1184.6,834 1187.1,834 1189.6,834 1192.1,834 1194.6,834 1197.1,834 1199.6,834 1202.1,834 1204.6,834 1207.1,834 1209.6,834 1212.1,834 1214.6,834 1217.1,834 1219.6,834 1222.1,834 1224.6,834 1227.1,834 1229.6,834 1232.1,834 1234.6,834 1237.1,834 1239.6,834 1242.1,834 1244.6,834 1247.1,834 1249.6,834 1252.1,834 1254.6,834 1257.1,834 1259.6,834 1262.1,834 1264.6,834 1267.1,834 1269.6,834 1272.1,834 1274.6,834 1277.1,834 1279.6,834 1282.1,834 1284.6,834 1287.1,834 1289.6,834 1292.1,834 1294.6,834 1297.1,834 1299.6,834 1302.1,834 1304.6,834 1307.1,834 1309.6,834 1312.1,834 1314.6,834 1317.1,834 1319.6,834 1322.1,834 1324.6,834 1327.1,834 1329.6,834 1332.1,834 1334.6,834 1337.1,834 1339.6,834 1342.1,834 1344.6,834 1347.1,833.9 1349.6,833.8 1352.1,833.7 1354.6,833.6 1357.1,833.5 1359.6,833.4 1362.1,833.3 1364.6,833.1 1367.1,833 1369.6,832.8 1372.1,832.6 1374.6,832.5 1377.1,832.2 1379.6,832 1382.1,831.7 1384.6,831.3 1387.1,830.9 1389.6,830.4 1392.1,829.8 1394.6,829.1 1397.1,828.4 1399.6,827.5 1402.1,826.6 1404.6,825.5 1407.1,824.4 1409.6,823.2 1412.1,821.9 1414.6,820.5 1417.1,819.2 1419.6,817.8 1422.1,816.2 1424.6,814.5 1427.1,812.5 1429.6,810.3 1432.1,807.7 1434.6,804.8 1437.1,801.3 1439.6,797.1 1442.1,792 1444.6,786.6 1447.1,782.1 1449.6,779 1452.1,776.9 1454.6,775.3 1457.1,773.6 1459.6,771.7 1462.1,770.3 1464.6,769.1 1467.1,767.5 1469.6,765.3 1472.1,763 1474.6,761.3 1477.1,760.3 1479.6,759.7 1482.1,759.7 1484.6,760.2 1487.1,761.1 1489.6,762.4 1492.1,764.1 1494.6,766.5 1497.1,769.7 1499.6,773.4 1502.1,777.5 1504.6,782 1507.1,787 1509.6,792.3 1512.1,797.8 1514.6,803.7 1517.1,809.7 1519.6,815.1 1522.1,819.1 1524.6,821.9 1527.1,823.8 1529.6,825.2 1532.1,825.9 1534.6,826.1 1537.1,826.1 1539.6,825.9 1542.1,825.8 1544.6,825.8 1547.1,826.1 1549.6,826.4 1552.1,826.9 1554.6,827.5 1557.1,828.2 1559.6,829 1562.1,829.7 1564.6,830.4 1567.1,831 1569.6,831.6 1572.1,832.1 1574.6,832.4 1577.1,832.7 1579.6,833 1582.1,833.2 1584.6,833.4 1587.1,833.6 1589.6,833.7 1592.1,833.8 1594.6,833.8 1597.1,833.9 1599.6,833.9 1602.1,834 1604.6,834 1607.1,834 1609.6,834 1612.1,834 1614.6,834 1617.1,834 1619.6,834 1622.1,834 1624.6,834 1627.1,834 1629.6,834 1632.1,834 1634.6,834 1637.1,834 1639.6,834 1642.1,834 1644.6,834 1647.1,834 1649.6,834 1652.1,834 1654.6,834 1657.1,834 1659.6,834 1662.1,834 1664.6,834 1667.1,834 1669.6,834 1672.1,834 1674.6,834 1677.1,834 1679.6,834 1682.1,834 1684.6,834 1687.1,834 1689.6,834 1692.1,834 1694.6,834 1697.1,834 1699.6,834 1702.1,834 1704.6,834 1707.1,834 1709.6,834 L1709.6,834 Z" fill="#00BA38" fill-opacity="0.5" stroke="none"/>
<path d="M1084.6,834 L1084.6,834 1087.1,834 1089.6,834 1092.1,834 1094.6,834 1097.1,834 1099.6,834 1102.1,834 1104.6,834 1107.1,834 1109.6,834 1112.1,834 1114.6,834 1117.1,834 1119.6,834 1122.1,834 1124.6,834 1127.1,834 1129.6,834 1132.1,834 1134.6,834 1137.1,834 1139.6,834 1142.1,834 1144.6,834 1147.1,834 1149.6,834 1152.1,834 1154.6,834 1157.1,834 1159.6,834 1162.1,834 1164.6,834 1167.1,834 1169.6,834 1172.1,834 1174.6,834 1177.1,834 1179.6,834 1182.1,834 1184.6,834 1187.1,834 1189.6,834 1192.1,834 1194.6,834 1197.1,834 1199.6,834 1202.1,834 1204.6,834 1207.1,834 1209.6,834 1212.1,834 1214.6,834 1217.1,834 1219.6,834 1222.1,834 1224.6,834 1227.1,834 1229.6,834 1232.1,834 1234.6,834 1237.1,834 1239.6,834 1242.1,834 1244.6,834 1247.1,834 1249.6,834 1252.1,834 1254.6,834 1257.1,834 1259.6,834 1262.1,834 1264.6,834 1267.1,834 1269.6,834 1272.1,834 1274.6,834 1277.1,834 1279.6,834 1282.1,834 1284.6,834 1287.1,834 1289.6,834 1292.1,834 1294.6,834 1297.1,834 1299.6,834 1302.1,834 1304.6,834 1307.1,834 1309.6,834 1312.1,834 1314.6,834 1317.1,834 1319.6,834 1322.1,834 1324.6,834 1327.1,834 1329.6,834 1332.1,834 1334.6,834 1337.1,834 1339.6,834 1342.1,834 1344.6,834 1347.1,834 1349.6,834 1352.1,834 1354.6,834 1357.1,834 1359.6,834 1362.1,834 1364.6,834 1367.1,834 1369.6,834 1372.1,834 1374.6,834 1377.1,834 1379.6,834 1382.1,834 1384.6,834 1387.1,834 1389.6,834 1392.1,834 1394.6,834 1397.1,834 1399.6,834 1402.1,834 1404.6,834 1407.1,834 1409.6,833.9 1412.1,833.9 1414.6,833.9 1417.1,833.8 1419.6,833.7 1422.1,833.7 1424.6,833.6 1427.1,833.5 1429.6,833.3 1432.1,833 1434.6,832.5 1437.1,831.7 1439.6,830.3 1442.1,828.6 1444.6,826.8 1447.1,825 1449.6,823.4 1452.1,821.9 1454.6,820.5 1457.1,819.2 1459.6,818.1 1462.1,817.2 1464.6,816.4 1467.1,815.8 1469.6,815.1 1472.1,813.8 1474.6,812.1 1477.1,810.7 1479.6,810 1482.1,809 1484.6,807 1487.1,803.9 1489.6,800.2 1492.1,796.2 1494.6,792.1 1497.1,787.6 1499.6,782.8 1502.1,777.7 1504.6,772.2 1507.1,766.5 1509.6,761 1512.1,756.1 1514.6,751.6 1517.1,747.7 1519.6,744.7 1522.1,743.3 1524.6,743.5 1527.1,745.3 1529.6,748.1 1532.1,751.7 1534.6,756.1 1537.1,761.6 1539.6,767.7 1542.1,773.4 1544.6,778.2 1547.1,782.2 1549.6,785.7 1552.1,789 1554.6,792 1557.1,794.8 1559.6,797.5 1562.1,800.3 1564.6,803.4 1567.1,806.9 1569.6,810.7 1572.1,814.5 1574.6,818.1 1577.1,821.5 1579.6,824.6 1582.1,827.2 1584.6,829.2 1587.1,830.4 1589.6,831.3 1592.1,831.9 1594.6,832.2 1597.1,832.4 1599.6,832.5 1602.1,832.4 1604.6,832.3 1607.1,832.1 1609.6,831.9 1612.1,831.7 1614.6,831.4 1617.1,831.2 1619.6,831 1622.1,830.9 1624.6,830.8 1627.1,830.8 1629.6,830.9 1632.1,831.1 1634.6,831.3 1637.1,831.6 1639.6,831.9 1642.1,832.2 1644.6,832.5 1647.1,832.8 1649.6,833.1 1652.1,833.3 1654.6,833.5 1657.1,833.6 1659.6,833.7 1662.1,833.8 1664.6,833.9 1667.1,833.9 1669.6,834 1672.1,834 1674.6,834 1677.1,834 1679.6,834 1682.1,834 1684.6,834 1687.1,834 1689.6,834 1692.1,834 1694.6,834 1697.1,834 1699.6,834 1702.1,834 1704.6,834 1707.1,834 1709.6,834 L1709.6,834 Z" fill="#619CFF" fill-opacity="0.5" stroke="none"/>
<path d="M1084.6,834 L1084.6,833.2 1087.1,833.1 1089.6,832.9 1092.1,832.7 1094.6,832.5 1097.1,832.2 1099.6,832 1102.1,831.7 1104.6,831.5 1107.1,831.2 1109.6,831 1112.1,830.8 1114.6,830.6 1117.1,830.4 1119.6,830.3 1122.1,830.3 1124.6,830.2 1127.1,830.3 1129.6,830.3 1132.1,830.4 1134.6,830.6 1137.1,830.8 1139.6,831 1142.1,831.2 1144.6,831.5 1147.1,831.7 1149.6,832 1152.1,832.2 1154.6,832.5 1157.1,832.7 1159.6,832.9 1162.1,833.1 1164.6,833.2 1167.1,833.4 1169.6,833.5 1172.1,833.6 1174.6,833.7 1177.1,833.8 1179.6,833.8 1182.1,833.9 1184.6,833.9 1187.1,833.9 1189.6,833.9 1192.1,834 1194.6,834 1197.1,834 1199.6,834 1202.1,834 1204.6,834 1207.1,834 1209.6,834 1212.1,834 1214.6,834 1217.1,834 1219.6,834 1222.1,834 1224.6,834 1227.1,834 1229.6,834 1232.1,834 1234.6,834 1237.1,834 1239.6,834 1242.1,834 1244.6,834 1247.1,834 1249.6,834 1252.1,834 1254.6,834 1257.1,834 1259.6,834 1262.1,834 1264.6,834 1267.1,834 1269.6,834 1272.1,834 1274.6,834 1277.1,834 1279.6,834 1282.1,834 1284.6,833.9 1287.1,833.8 1289.6,833.7 1292.1,833.5 1294.6,833.3 1297.1,833.2 1299.6,833 1302.1,832.9 1304.6,832.8 1307.1,832.7 1309.6,832.6 1312.1,832.5 1314.6,832.4 1317.1,832.2 1319.6,832.1 1322.1,831.9 1324.6,831.7 1327.1,831.4 1329.6,831.1 1332.1,830.7 1334.6,830.4 1337.1,830 1339.6,829.7 1342.1,829.4 1344.6,829.1 1347.1,828.8 1349.6,828.5 1352.1,828.3 1354.6,828 1357.1,827.6 1359.6,827.3 1362.1,826.8 1364.6,826.3 1367.1,825.6 1369.6,824.8 1372.1,823.8 1374.6,822.6 1377.1,821.1 1379.6,819.3 1382.1,817.3 1384.6,815.2 1387.1,813.1 1389.6,810.8 1392.1,808.6 1394.6,806.4 1397.1,804.3 1399.6,802.2 1402.1,800.3 1404.6,798.4 1407.1,796.6 1409.6,794.9 1412.1,793.3 1414.6,791.9 1417.1,790.6 1419.6,789.4 1422.1,788.3 1424.6,787.3 1427.1,786.4 1429.6,785.6 1432.1,784.9 1434.6,784.2 1437.1,783.5 1439.6,782.7 1442.1,782 1444.6,781.6 1447.1,781.4 1449.6,781.3 1452.1,781.4 1454.6,781.4 1457.1,781.7 1459.6,782.4 1462.1,783.4 1464.6,784.7 1467.1,786.1 1469.6,787.7 1472.1,789.4 1474.6,791.3 1477.1,793.3 1479.6,795.4 1482.1,797.6 1484.6,799.8 1487.1,802.1 1489.6,804.4 1492.1,806.4 1494.6,808.3 1497.1,810.1 1499.6,811.8 1502.1,813.4 1504.6,815 1507.1,816.6 1509.6,818 1512.1,819.5 1514.6,820.8 1517.1,822.1 1519.6,823.3 1522.1,824.4 1524.6,825.5 1527.1,826.4 1529.6,827.2 1532.1,828 1534.6,828.7 1537.1,829.2 1539.6,829.7 1542.1,830.2 1544.6,830.5 1547.1,830.9 1549.6,831.2 1552.1,831.4 1554.6,831.7 1557.1,831.9 1559.6,832.1 1562.1,832.3 1564.6,832.5 1567.1,832.7 1569.6,832.9 1572.1,833 1574.6,833.2 1577.1,833.3 1579.6,833.5 1582.1,833.6 1584.6,833.7 1587.1,833.8 1589.6,833.8 1592.1,833.9 1594.6,833.9 1597.1,834 1599.6,834 1602.1,834 1604.6,834 1607.1,834 1609.6,834 1612.1,834 1614.6,834 1617.1,834 1619.6,834 1622.1,834 1624.6,834 1627.1,834 1629.6,834 1632.1,834 1634.6,834 1637.1,834 1639.6,834 1642.1,834 1644.6,834 1647.1,834 1649.6,834 1652.1,834 1654.6,834 1657.1,834 1659.6,834 1662.1,834 1664.6,834 1667.1,834 1669.6,834 1672.1,834 1674.6,834 1677.1,834 1679.6,834 1682.1,834 1684.6,834 1687.1,834 1689.6,834 1692.1,834 1694.6,834 1697.1,834 1699.6,834 1702.1,834 1704.6,834 1707.1,834 1709.6,834 L1709.6,834 Z" fill="#F8766D" fill-opacity="0.5" stroke="none"/>
<path d="M1084.6,834 L1087.1,834 L1089.6,834 L1092.1,834 L1094.6,834 L1097.1,834 L1099.6,834 L1102.1,834 L1104.6,834 L1107.1,834 L1109.6,834 L1112.1,834 L1114.6,834 L1117.1,834 L1119.6,834 L1122.1,834 L1124.6,834 L1127.1,834 L1129.6,834 L1132.1,834 L1134.6,834 L1137.1,834 L1139.6,834 L1142.1,834 L1144.6,834 L1147.1,834 L1149.6,834 L1152.1,834 L1154.6,834 L1157.1,834 L1159.6,834 L1162.1,834 L1164.6,834 L1167.1,834 L1169.6,834 L1172.1,834 L1174.6,834 L1177.1,834 L1179.6,834 L1182.1,834 L1184.6,834 L1187.1,834 L1189.6,834 L1192.1,834 L1194.6,834 L1197.1,834 L1199.6,834 L1202.1,834 L1204.6,834 L1207.1,834 L1209.6,834 L1212.1,834 L1214.6,834 L1217.1,834 L1219.6,834 L1222.1,834 L1224.6,834 L1227.1,834 L1229.6,834 L1232.1,834 L1234.6,834 L1237.1,834 L1239.6,834 L1242.1,834 L1244.6,834 L1247.1,834 L1249.6,834 L1252.1,834 L1254.6,834 L1257.1,834 L1259.6,834 L1262.1,834 L1264.6,834 L1267.1,834 L1269.6,834 L1272.1,834 L1274.6,834 L1277.1,834 L1279.6,834 L1282.1,834 L1284.6,834 L1287.1,834 L1289.6,834 L1292.1,834 L1294.6,834 L1297.1,834 L1299.6,834 L1302.1,834 L1304.6,834 L1307.1,834 L1309.6,834 L1312.1,834 L1314.6,834 L1317.1,834 L1319.6,834 L1322.1,834 L1324.6,834 L1327.1,834 L1329.6,834 L1332.1,834 L1334.6,834 L1337.1,834 L1339.6,834 L1342.1,834 L1344.6,834 L1347.1,833.9 L1349.6,833.8 L1352.1,833.7 L1354.6,833.6 L1357.1,833.5 L1359.6,833.4 L1362.1,833.3 L1364.6,833.1 L1367.1,833 L1369.6,832.8 L1372.1,832.6 L1374.6,832.5 L1377.1,832.2 L1379.6,832 L1382.1,831.7 L1384.6,831.3 L1387.1,830.9 L1389.6,830.4 L1392.1,829.8 L1394.6,829.1 L1397.1,828.4 L1399.6,827.5 L1402.1,826.6 L1404.6,825.5 L1407.1,824.4 L1409.6,823.2 L1412.1,821.9 L1414.6,820.5 L1417.1,819.2 L1419.6,817.8 L1422.1,816.2 L1424.6,814.5 L1427.1,812.5 L1429.6,810.3 L1432.1,807.7 L1434.6,804.8 L1437.1,801.3 L1439.6,797.1 L1442.1,792 L1444.6,786.6 L1447.1,782.1 L1449.6,779 L1452.1,776.9 L1454.6,775.3 L1457.1,773.6 L1459.6,771.7 L1462.1,770.3 L1464.6,769.1 L1467.1,767.5 L1469.6,765.3 L1472.1,763 L1474.6,761.3 L1477.1,760.3 L1479.6,759.7 L1482.1,759.7 L1484.6,760.2 L1487.1,761.1 L1489.6,762.4 L1492.1,764.1 L1494.6,766.5 L1497.1,769.7 L1499.6,773.4 L1502.1,777.5 L1504.6,782 L1507.1,787 L1509.6,792.3 L1512.1,797.8 L1514.6,803.7 L1517.1,809.7 L1519.6,815.1 L1522.1,819.1 L1524.6,821.9 L1527.1,823.8 L1529.6,825.2 L1532.1,825.9 L1534.6,826.1 L1537.1,826.1 L1539.6,825.9 L1542.1,825.8 L1544.6,825.8 L1547.1,826.1 L1549.6,826.4 L1552.1,826.9 L1554.6,827.5 L1557.1,828.2 L1559.6,829 L1562.1,829.7 L1564.6,830.4 L1567.1,831 L1569.6,831.6 L1572.1,832.1 L1574.6,832.4 L1577.1,832.7 L1579.6,833 L1582.1,833.2 L1584.6,833.4 L1587.1,833.6 L1589.6,833.7 L1592.1,833.8 L1594.6,833.8 L1597.1,833.9 L1599.6,833.9 L1602.1,834 L1604.6,834 L1607.1,834 L1609.6,834 L1612.1,834 L1614.6,834 L1617.1,834 L1619.6,834 L1622.1,834 L1624.6,834 L1627.1,834 L1629.6,834 L1632.1,834 L1634.6,834 L1637.1,834 L1639.6,834 L1642.1,834 L1644.6,834 L1647.1,834 L1649.6,834 L1652.1,834 L1654.6,834 L1657.1,834 L1659.6,834 L1662.1,834 L1664.6,834 L1667.1,834 L1669.6,834 L1672.1,834 L1674.6,834 L1677.1,834 L1679.6,834 L1682.1,834 L1684.6,834 L1687.1,834 L1689.6,834 L1692.1,834 L1694.6,834 L1697.1,834 L1699.6,834 L1702.1,834 L1704.6,834 L1707.1,834 L1709.6,834" fill="none" stroke="#00BA38" stroke-width="3.4" stroke-linejoin="round"/>
<path d="M1084.6,834 L1087.1,834 L1089.6,834 L1092.1,834 L1094.6,834 L1097.1,834 L1099.6,834 L1102.1,834 L1104.6,834 L1107.1,834 L1109.6,834 L1112.1,834 L1114.6,834 L1117.1,834 L1119.6,834 L1122.1,834 L1124.6,834 L1127.1,834 L1129.6,834 L1132.1,834 L1134.6,834 L1137.1,834 L1139.6,834 L1142.1,834 L1144.6,834 L1147.1,834 L1149.6,834 L1152.1,834 L1154.6,834 L1157.1,834 L1159.6,834 L1162.1,834 L1164.6,834 L1167.1,834 L1169.6,834 L1172.1,834 L1174.6,834 L1177.1,834 L1179.6,834 L1182.1,834 L1184.6,834 L1187.1,834 L1189.6,834 L1192.1,834 L1194.6,834 L1197.1,834 L1199.6,834 L1202.1,834 L1204.6,834 L1207.1,834 L1209.6,834 L1212.1,834 L1214.6,834 L1217.1,834 L1219.6,834 L1222.1,834 L1224.6,834 L1227.1,834 L1229.6,834 L1232.1,834 L1234.6,834 L1237.1,834 L1239.6,834 L1242.1,834 L1244.6,834 L1247.1,834 L1249.6,834 L1252.1,834 L1254.6,834 L1257.1,834 L1259.6,834 L1262.1,834 L1264.6,834 L1267.1,834 L1269.6,834 L1272.1,834 L1274.6,834 L1277.1,834 L1279.6,834 L1282.1,834 L1284.6,834 L1287.1,834 L1289.6,834 L1292.1,834 L1294.6,834 L1297.1,834 L1299.6,834 L1302.1,834 L1304.6,834 L1307.1,834 L1309.6,834 L1312.1,834 L1314.6,834 L1317.1,834 L1319.6,834 L1322.1,834 L1324.6,834 L1327.1,834 L1329.6,834 L1332.1,834 L1334.6,834 L1337.1,834 L1339.6,834 L1342.1,834 L1344.6,834 L1347.1,834 L1349.6,834 L1352.1,834 L1354.6,834 L1357.1,834 L1359.6,834 L1362.1,834 L1364.6,834 L1367.1,834 L1369.6,834 L1372.1,834 L1374.6,834 L1377.1,834 L1379.6,834 L1382.1,834 L1384.6,834 L1387.1,834 L1389.6,834 L1392.1,834 L1394.6,834 L1397.1,834 L1399.6,834 L1402.1,834 L1404.6,834 L1407.1,834 L1409.6,833.9 L1412.1,833.9 L1414.6,833.9 L1417.1,833.8 L1419.6,833.7 L1422.1,833.7 L1424.6,833.6 L1427.1,833.5 L1429.6,833.3 L1432.1,833 L1434.6,832.5 L1437.1,831.7 L1439.6,830.3 L1442.1,828.6 L1444.6,826.8 L1447.1,825 L1449.6,823.4 L1452.1,821.9 L1454.6,820.5 L1457.1,819.2 L1459.6,818.1 L1462.1,817.2 L1464.6,816.4 L1467.1,815.8 L1469.6,815.1 L1472.1,813.8 L1474.6,812.1 L1477.1,810.7 L1479.6,810 L1482.1,809 L1484.6,807 L1487.1,803.9 L1489.6,800.2 L1492.1,796.2 L1494.6,792.1 L1497.1,787.6 L1499.6,782.8 L1502.1,777.7 L1504.6,772.2 L1507.1,766.5 L1509.6,761 L1512.1,756.1 L1514.6,751.6 L1517.1,747.7 L1519.6,744.7 L1522.1,743.3 L1524.6,743.5 L1527.1,745.3 L1529.6,748.1 L1532.1,751.7 L1534.6,756.1 L1537.1,761.6 L1539.6,767.7 L1542.1,773.4 L1544.6,778.2 L1547.1,782.2 L1549.6,785.7 L1552.1,789 L1554.6,792 L1557.1,794.8 L1559.6,797.5 L1562.1,800.3 L1564.6,803.4 L1567.1,806.9 L1569.6,810.7 L1572.1,814.5 L1574.6,818.1 L1577.1,821.5 L1579.6,824.6 L1582.1,827.2 L1584.6,829.2 L1587.1,830.4 L1589.6,831.3 L1592.1,831.9 L1594.6,832.2 L1597.1,832.4 L1599.6,832.5 L1602.1,832.4 L1604.6,832.3 L1607.1,832.1 L1609.6,831.9 L1612.1,831.7 L1614.6,831.4 L1617.1,831.2 L1619.6,831 L1622.1,830.9 L1624.6,830.8 L1627.1,830.8 L1629.6,830.9 L1632.1,831.1 L1634.6,831.3 L1637.1,831.6 L1639.6,831.9 L1642.1,832.2 L1644.6,832.5 L1647.1,832.8 L1649.6,833.1 L1652.1,833.3 L1654.6,833.5 L1657.1,833.6 L1659.6,833.7 L1662.1,833.8 L1664.6,833.9 L1667.1,833.9 L1669.6,834 L1672.1,834 L1674.6,834 L1677.1,834 L1679.6,834 L1682.1,834 L1684.6,834 L1687.1,834 L1689.6,834 L1692.1,834 L1694.6,834 L1697.1,834 L1699.6,834 L1702.1,834 L1704.6,834 L1707.1,834 L1709.6,834" fill="none" stroke="#619CFF" stroke-width="3.4" stroke-linejoin="round"/>
<path d="M1084.6,833.2 L1087.1,833.1 L1089.6,832.9 L1092.1,832.7 L1094.6,832.5 L1097.1,832.2 L1099.6,832 L1102.1,831.7 L1104.6,831.5 L1107.1,831.2 L1109.6,831 L1112.1,830.8 L1114.6,830.6 L1117.1,830.4 L1119.6,830.3 L1122.1,830.3 L1124.6,830.2 L1127.1,830.3 L1129.6,830.3 L1132.1,830.4 L1134.6,830.6 L1137.1,830.8 L1139.6,831 L1142.1,831.2 L1144.6,831.5 L1147.1,831.7 L1149.6,832 L1152.1,832.2 L1154.6,832.5 L1157.1,832.7 L1159.6,832.9 L1162.1,833.1 L1164.6,833.2 L1167.1,833.4 L1169.6,833.5 L1172.1,833.6 L1174.6,833.7 L1177.1,833.8 L1179.6,833.8 L1182.1,833.9 L1184.6,833.9 L1187.1,833.9 L1189.6,833.9 L1192.1,834 L1194.6,834 L1197.1,834 L1199.6,834 L1202.1,834 L1204.6,834 L1207.1,834 L1209.6,834 L1212.1,834 L1214.6,834 L1217.1,834 L1219.6,834 L1222.1,834 L1224.6,834 L1227.1,834 L1229.6,834 L1232.1,834 L1234.6,834 L1237.1,834 L1239.6,834 L1242.1,834 L1244.6,834 L1247.1,834 L1249.6,834 L1252.1,834 L1254.6,834 L1257.1,834 L1259.6,834 L1262.1,834 L1264.6,834 L1267.1,834 L1269.6,834 L1272.1,834 L1274.6,834 L1277.1,834 L1279.6,834 L1282.1,834 L1284.6,833.9 L1287.1,833.8 L1289.6,833.7 L1292.1,833.5 L1294.6,833.3 L1297.1,833.2 L1299.6,833 L1302.1,832.9 L1304.6,832.8 L1307.1,832.7 L1309.6,832.6 L1312.1,832.5 L1314.6,832.4 L1317.1,832.2 L1319.6,832.1 L1322.1,831.9 L1324.6,831.7 L1327.1,831.4 L1329.6,831.1 L1332.1,830.7 L1334.6,830.4 L1337.1,830 L1339.6,829.7 L1342.1,829.4 L1344.6,829.1 L1347.1,828.8 L1349.6,828.5 L1352.1,828.3 L1354.6,828 L1357.1,827.6 L1359.6,827.3 L1362.1,826.8 L1364.6,826.3 L1367.1,825.6 L1369.6,824.8 L1372.1,823.8 L1374.6,822.6 L1377.1,821.1 L1379.6,819.3 L1382.1,817.3 L1384.6,815.2 L1387.1,813.1 L1389.6,810.8 L1392.1,808.6 L1394.6,806.4 L1397.1,804.3 L1399.6,802.2 L1402.1,800.3 L1404.6,798.4 L1407.1,796.6 L1409.6,794.9 L1412.1,793.3 L1414.6,791.9 L1417.1,790.6 L1419.6,789.4 L1422.1,788.3 L1424.6,787.3 L1427.1,786.4 L1429.6,785.6 L1432.1,784.9 L1434.6,784.2 L1437.1,783.5 L1439.6,782.7 L1442.1,782 L1444.6,781.6 L1447.1,781.4 L1449.6,781.3 L1452.1,781.4 L1454.6,781.4 L1457.1,781.7 L1459.6,782.4 L1462.1,783.4 L1464.6,784.7 L1467.1,786.1 L1469.6,787.7 L1472.1,789.4 L1474.6,791.3 L1477.1,793.3 L1479.6,795.4 L1482.1,797.6 L1484.6,799.8 L1487.1,802.1 L1489.6,804.4 L1492.1,806.4 L1494.6,808.3 L1497.1,810.1 L1499.6,811.8 L1502.1,813.4 L1504.6,815 L1507.1,816.6 L1509.6,818 L1512.1,819.5 L1514.6,820.8 L1517.1,822.1 L1519.6,823.3 L1522.1,824.4 L1524.6,825.5 L1527.1,826.4 L1529.6,827.2 L1532.1,828 L1534.6,828.7 L1537.1,829.2 L1539.6,829.7 L1542.1,830.2 L1544.6,830.5 L1547.1,830.9 L1549.6,831.2 L1552.1,831.4 L1554.6,831.7 L1557.1,831.9 L1559.6,832.1 L1562.1,832.3 L1564.6,832.5 L1567.1,832.7 L1569.6,832.9 L1572.1,833 L1574.6,833.2 L1577.1,833.3 L1579.6,833.5 L1582.1,833.6 L1584.6,833.7 L1587.1,833.8 L1589.6,833.8 L1592.1,833.9 L1594.6,833.9 L1597.1,834 L1599.6,834 L1602.1,834 L1604.6,834 L1607.1,834 L1609.6,834 L1612.1,834 L1614.6,834 L1617.1,834 L1619.6,834 L1622.1,834 L1624.6,834 L1627.1,834 L1629.6,834 L1632.1,834 L1634.6,834 L1637.1,834 L1639.6,834 L1642.1,834 L1644.6,834 L1647.1,834 L1649.6,834 L1652.1,834 L1654.6,834 L1657.1,834 L1659.6,834 L1662.1,834 L1664.6,834 L1667.1,834 L1669.6,834 L1672.1,834 L1674.6,834 L1677.1,834 L1679.6,834 L1682.1,834 L1684.6,834 L1687.1,834 L1689.6,834 L1692.1,834 L1694.6,834 L1697.1,834 L1699.6,834 L1702.1,834 L1704.6,834 L1707.1,834 L1709.6,834" fill="none" stroke="#F8766D" stroke-width="3.4" stroke-linejoin="round"/>
<path d="M1748.5,1320.2 L1748.5,1320.2 1748.5,1318.4 1748.5,1316.6 1748.5,1314.7 1748.5,1312.9 1748.5,1311 1748.5,1309.2 1748.5,1307.4 1748.5,1305.5 1748.5,1303.7 1748.5,1301.9 1748.5,1300 1748.5,1298.2 1748.5,1296.4 1748.5,1294.5 1748.5,1292.7 1748.5,1290.9 1748.5,1289 1748.5,1287.2 1748.5,1285.4 1748.5,1283.5 1748.5,1281.7 1748.5,1279.9 1748.5,1278 1748.5,1276.2 1748.5,1274.3 1748.5,1272.5 1748.5,1270.7 1748.5,1268.8 1748.5,1267 1748.5,1265.2 1748.5,1263.3 1748.5,1261.5 1748.5,1259.7 1748.5,1257.8 1748.5,1256 1748.5,1254.2 1748.5,1252.3 1748.5,1250.5 1748.5,1248.7 1748.5,1246.8 1748.5,1245 1748.5,1243.2 1748.5,1241.3 1748.5,1239.5 1748.5,1237.7 1748.5,1235.8 1748.5,1234 1748.5,1232.1 1748.5,1230.3 1748.5,1228.5 1748.5,1226.6 1748.5,1224.8 1748.5,1223 1748.5,1221.1 1748.5,1219.3 1748.5,1217.5 1748.5,1215.6 1748.5,1213.8 1748.5,1212 1748.5,1210.1 1748.5,1208.3 1748.5,1206.5 1748.5,1204.6 1748.5,1202.8 1748.5,1201 1748.5,1199.1 1748.5,1197.3 1748.5,1195.5 1748.5,1193.6 1748.5,1191.8 1748.5,1189.9 1748.5,1188.1 1748.5,1186.3 1748.5,1184.4 1748.5,1182.6 1748.5,1180.8 1748.5,1178.9 1748.5,1177.1 1748.5,1175.3 1748.5,1173.4 1748.5,1171.6 1748.5,1169.8 1748.5,1167.9 1748.5,1166.1 1748.5,1164.3 1748.5,1162.4 1748.5,1160.6 1748.5,1158.8 1748.5,1156.9 1748.5,1155.1 1748.5,1153.3 1748.5,1151.4 1748.6,1149.6 1748.6,1147.7 1748.7,1145.9 1748.8,1144.1 1748.9,1142.2 1749.1,1140.4 1749.4,1138.6 1749.7,1136.7 1750,1134.9 1750.4,1133.1 1750.8,1131.2 1751.1,1129.4 1751.4,1127.6 1751.6,1125.7 1751.6,1123.9 1751.6,1122.1 1751.6,1120.2 1751.5,1118.4 1751.5,1116.6 1751.6,1114.7 1751.7,1112.9 1751.8,1111.1 1752,1109.2 1752.3,1107.4 1752.8,1105.5 1753.3,1103.7 1753.9,1101.9 1754.7,1100 1755.5,1098.2 1756.5,1096.4 1757.5,1094.5 1758.6,1092.7 1759.7,1090.9 1760.8,1089 1762.1,1087.2 1763.5,1085.4 1765.4,1083.5 1767.6,1081.7 1770,1079.9 1772.5,1078 1775,1076.2 1777.5,1074.4 1780.2,1072.5 1783.2,1070.7 1786.7,1068.9 1790.9,1067 1795.6,1065.2 1800.7,1063.3 1805.8,1061.5 1811.1,1059.7 1816.4,1057.8 1821.3,1056 1825.6,1054.2 1829.1,1052.3 1832,1050.5 1834.9,1048.7 1838.5,1046.8 1843.5,1045 1849.8,1043.2 1856.6,1041.3 1862.8,1039.5 1867.6,1037.7 1871.1,1035.8 1872.8,1034 1872.3,1032.2 1869.3,1030.3 1863.4,1028.5 1854.7,1026.7 1844.5,1024.8 1835.1,1023 1827.1,1021.1 1819.2,1019.3 1810.7,1017.5 1803.1,1015.6 1797.5,1013.8 1792.5,1012 1786.7,1010.1 1780.3,1008.3 1774.3,1006.5 1769.6,1004.6 1766.3,1002.8 1763.9,1001 1762.1,999.1 1761.1,997.3 1760.6,995.5 1760.3,993.6 1760.2,991.8 1760,990 1759.7,988.1 1759.3,986.3 1758.8,984.5 1758.2,982.6 1757.4,980.8 1756.5,978.9 1755.4,977.1 1754.4,975.3 1753.6,973.4 1752.9,971.6 1752.4,969.8 1751.9,967.9 1751.4,966.1 1750.9,964.3 1750.5,962.4 1750,960.6 1749.6,958.8 1749.2,956.9 1748.9,955.1 1748.8,953.3 1748.7,951.4 1748.6,949.6 1748.6,947.8 1748.6,945.9 1748.5,944.1 1748.5,942.3 1748.5,940.4 1748.5,938.6 1748.5,936.7 1748.5,934.9 1748.5,933.1 1748.5,931.2 1748.5,929.4 1748.5,927.6 1748.5,925.7 1748.5,923.9 1748.5,922.1 1748.5,920.2 1748.5,918.4 1748.5,916.6 1748.5,914.7 1748.5,912.9 1748.5,911.1 1748.5,909.2 1748.5,907.4 1748.5,905.6 1748.5,903.7 1748.5,901.9 1748.5,900.1 1748.5,898.2 1748.5,896.4 1748.5,894.5 1748.5,892.7 1748.5,890.9 1748.5,889 1748.5,887.2 1748.5,885.4 1748.5,883.5 1748.5,881.7 1748.5,879.9 1748.5,878 1748.5,876.2 1748.5,874.4 1748.5,872.5 1748.5,870.7 1748.5,868.9 1748.5,867 1748.5,865.2 1748.5,863.4 1748.5,861.5 L1748.5,861.5 Z" fill="#00BA38" fill-opacity="0.5" stroke="none"/>
<path d="M1748.5,1320.2 L1748.5,1320.2 1748.5,1318.4 1748.5,1316.6 1748.5,1314.7 1748.5,1312.9 1748.5,1311 1748.5,1309.2 1748.5,1307.4 1748.5,1305.5 1748.5,1303.7 1748.5,1301.9 1748.5,1300 1748.5,1298.2 1748.5,1296.4 1748.5,1294.5 1748.5,1292.7 1748.5,1290.9 1748.5,1289 1748.5,1287.2 1748.5,1285.4 1748.5,1283.5 1748.5,1281.7 1748.5,1279.9 1748.5,1278 1748.5,1276.2 1748.5,1274.3 1748.5,1272.5 1748.5,1270.7 1748.5,1268.8 1748.5,1267 1748.5,1265.2 1748.5,1263.3 1748.5,1261.5 1748.5,1259.7 1748.5,1257.8 1748.5,1256 1748.5,1254.2 1748.5,1252.3 1748.5,1250.5 1748.5,1248.7 1748.5,1246.8 1748.5,1245 1748.5,1243.2 1748.5,1241.3 1748.5,1239.5 1748.5,1237.7 1748.5,1235.8 1748.5,1234 1748.5,1232.1 1748.5,1230.3 1748.5,1228.5 1748.5,1226.6 1748.5,1224.8 1748.5,1223 1748.5,1221.1 1748.5,1219.3 1748.5,1217.5 1748.5,1215.6 1748.5,1213.8 1748.5,1212 1748.5,1210.1 1748.5,1208.3 1748.5,1206.5 1748.5,1204.6 1748.5,1202.8 1748.5,1201 1748.5,1199.1 1748.5,1197.3 1748.5,1195.5 1748.5,1193.6 1748.5,1191.8 1748.5,1189.9 1748.5,1188.1 1748.5,1186.3 1748.5,1184.4 1748.5,1182.6 1748.5,1180.8 1748.5,1178.9 1748.5,1177.1 1748.5,1175.3 1748.5,1173.4 1748.5,1171.6 1748.5,1169.8 1748.5,1167.9 1748.5,1166.1 1748.5,1164.3 1748.5,1162.4 1748.5,1160.6 1748.5,1158.8 1748.5,1156.9 1748.5,1155.1 1748.5,1153.3 1748.5,1151.4 1748.5,1149.6 1748.5,1147.7 1748.5,1145.9 1748.5,1144.1 1748.5,1142.2 1748.5,1140.4 1748.5,1138.6 1748.5,1136.7 1748.5,1134.9 1748.5,1133.1 1748.5,1131.2 1748.5,1129.4 1748.5,1127.6 1748.5,1125.7 1748.5,1123.9 1748.5,1122.1 1748.5,1120.2 1748.5,1118.4 1748.5,1116.6 1748.5,1114.7 1748.5,1112.9 1748.5,1111.1 1748.5,1109.2 1748.5,1107.4 1748.5,1105.5 1748.5,1103.7 1748.5,1101.9 1748.5,1100 1748.5,1098.2 1748.5,1096.4 1748.5,1094.5 1748.5,1092.7 1748.5,1090.9 1748.5,1089 1748.5,1087.2 1748.5,1085.4 1748.5,1083.5 1748.5,1081.7 1748.5,1079.9 1748.6,1078 1748.6,1076.2 1748.7,1074.4 1748.9,1072.5 1749.1,1070.7 1749.5,1068.9 1750.2,1067 1751.2,1065.2 1752.5,1063.3 1753.9,1061.5 1755.6,1059.7 1757.5,1057.8 1759.7,1056 1762.1,1054.2 1764.7,1052.3 1767.6,1050.5 1770.7,1048.7 1773.9,1046.8 1777.2,1045 1780.6,1043.2 1784,1041.3 1787.3,1039.5 1790.3,1037.7 1793.1,1035.8 1795.8,1034 1798.5,1032.2 1801.5,1030.3 1804.8,1028.5 1808.1,1026.7 1811.4,1024.8 1814.7,1023 1818.1,1021.1 1822.3,1019.3 1827.2,1017.5 1831.6,1015.6 1835,1013.8 1838.9,1012 1844.8,1010.1 1852.4,1008.3 1859.8,1006.5 1865.5,1004.6 1869.2,1002.8 1871.2,1001 1871.4,999.1 1869.7,997.3 1865.8,995.5 1859.5,993.6 1851.8,991.8 1843.7,990 1835.9,988.1 1828.4,986.3 1821.2,984.5 1814.8,982.6 1809.3,980.8 1804.8,978.9 1800.8,977.1 1796.8,975.3 1792.4,973.4 1787.3,971.6 1781.8,969.8 1776.3,967.9 1771.3,966.1 1766.7,964.3 1762.6,962.4 1759,960.6 1756.2,958.8 1754.2,956.9 1752.8,955.1 1751.8,953.3 1751.1,951.4 1750.6,949.6 1750.4,947.8 1750.4,945.9 1750.5,944.1 1750.8,942.3 1751.2,940.4 1751.6,938.6 1752.1,936.7 1752.5,934.9 1752.9,933.1 1753.2,931.2 1753.4,929.4 1753.5,927.6 1753.5,925.7 1753.4,923.9 1753.2,922.1 1752.8,920.2 1752.5,918.4 1752,916.6 1751.5,914.7 1751.1,912.9 1750.6,911.1 1750.2,909.2 1749.9,907.4 1749.5,905.6 1749.3,903.7 1749.1,901.9 1748.9,900.1 1748.8,898.2 1748.7,896.4 1748.6,894.5 1748.6,892.7 1748.6,890.9 1748.5,889 1748.5,887.2 1748.5,885.4 1748.5,883.5 1748.5,881.7 1748.5,879.9 1748.5,878 1748.5,876.2 1748.5,874.4 1748.5,872.5 1748.5,870.7 1748.5,868.9 1748.5,867 1748.5,865.2 1748.5,863.4 1748.5,861.5 L1748.5,861.5 Z" fill="#619CFF" fill-opacity="0.5" stroke="none"/>
<path d="M1748.5,1320.2 L1750.3,1320.2 1750.7,1318.4 1751,1316.6 1751.4,1314.7 1751.7,1312.9 1752.1,1311 1752.5,1309.2 1752.9,1307.4 1753.2,1305.5 1753.5,1303.7 1753.7,1301.9 1753.9,1300 1754.1,1298.2 1754.1,1296.4 1754.1,1294.5 1754.1,1292.7 1753.9,1290.9 1753.7,1289 1753.5,1287.2 1753.2,1285.4 1752.9,1283.5 1752.5,1281.7 1752.1,1279.9 1751.7,1278 1751.4,1276.2 1751,1274.3 1750.7,1272.5 1750.3,1270.7 1750,1268.8 1749.8,1267 1749.6,1265.2 1749.4,1263.3 1749.2,1261.5 1749,1259.7 1748.9,1257.8 1748.8,1256 1748.7,1254.2 1748.7,1252.3 1748.6,1250.5 1748.6,1248.7 1748.6,1246.8 1748.6,1245 1748.5,1243.2 1748.5,1241.3 1748.5,1239.5 1748.5,1237.7 1748.5,1235.8 1748.5,1234 1748.5,1232.1 1748.5,1230.3 1748.5,1228.5 1748.5,1226.6 1748.5,1224.8 1748.5,1223 1748.5,1221.1 1748.5,1219.3 1748.5,1217.5 1748.5,1215.6 1748.5,1213.8 1748.5,1212 1748.5,1210.1 1748.5,1208.3 1748.5,1206.5 1748.5,1204.6 1748.5,1202.8 1748.5,1201 1748.5,1199.1 1748.5,1197.3 1748.5,1195.5 1748.5,1193.6 1748.5,1191.8 1748.5,1189.9 1748.5,1188.1 1748.6,1186.3 1748.6,1184.4 1748.6,1182.6 1748.7,1180.8 1748.7,1178.9 1748.8,1177.1 1748.9,1175.3 1749.1,1173.4 1749.3,1171.6 1749.5,1169.8 1749.7,1167.9 1750,1166.1 1750.3,1164.3 1750.6,1162.4 1750.9,1160.6 1751.3,1158.8 1751.6,1156.9 1751.8,1155.1 1752,1153.3 1752.2,1151.4 1752.3,1149.6 1752.3,1147.7 1752.2,1145.9 1752,1144.1 1751.8,1142.2 1751.6,1140.4 1751.3,1138.6 1750.9,1136.7 1750.6,1134.9 1750.3,1133.1 1750,1131.2 1749.8,1129.4 1749.9,1127.6 1750.2,1125.7 1750.7,1123.9 1751.5,1122.1 1752.5,1120.2 1753.6,1118.4 1755,1116.6 1756.8,1114.7 1759.2,1112.9 1762.1,1111.1 1765.2,1109.2 1768.5,1107.4 1772,1105.5 1775.7,1103.7 1779.5,1101.9 1783.3,1100 1787,1098.2 1790.8,1096.4 1794.5,1094.5 1798,1092.7 1801.3,1090.9 1804.5,1089 1807.4,1087.2 1810.2,1085.4 1812.7,1083.5 1815,1081.7 1817.1,1079.9 1819.1,1078 1820.9,1076.2 1822.6,1074.4 1824.1,1072.5 1825.5,1070.7 1826.7,1068.9 1827.8,1067 1828.8,1065.2 1829.4,1063.3 1829.6,1061.5 1829.5,1059.7 1829.1,1057.8 1828.4,1056 1827.4,1054.2 1826,1052.3 1823.9,1050.5 1821.3,1048.7 1818.5,1046.8 1815.5,1045 1812.2,1043.2 1808.8,1041.3 1805.3,1039.5 1801.8,1037.7 1798.4,1035.8 1794.9,1034 1791.6,1032.2 1788.5,1030.3 1785.6,1028.5 1782.8,1026.7 1780.3,1024.8 1777.9,1023 1775.8,1021.1 1773.6,1019.3 1771.6,1017.5 1769.8,1015.6 1768.5,1013.8 1767.4,1012 1766.3,1010.1 1765.1,1008.3 1763.9,1006.5 1762.8,1004.6 1761.7,1002.8 1760.7,1001 1759.6,999.1 1758.6,997.3 1757.6,995.5 1756.6,993.6 1755.6,991.8 1754.6,990 1753.6,988.1 1752.7,986.3 1751.9,984.5 1751.1,982.6 1750.6,980.8 1750.2,978.9 1749.8,977.1 1749.6,975.3 1749.3,973.4 1749.1,971.6 1749,969.8 1748.8,967.9 1748.7,966.1 1748.6,964.3 1748.5,962.4 1748.5,960.6 1748.5,958.8 1748.5,956.9 1748.5,955.1 1748.5,953.3 1748.5,951.4 1748.5,949.6 1748.5,947.8 1748.5,945.9 1748.5,944.1 1748.5,942.3 1748.5,940.4 1748.5,938.6 1748.5,936.7 1748.5,934.9 1748.5,933.1 1748.5,931.2 1748.5,929.4 1748.5,927.6 1748.5,925.7 1748.5,923.9 1748.5,922.1 1748.5,920.2 1748.5,918.4 1748.5,916.6 1748.5,914.7 1748.5,912.9 1748.5,911.1 1748.5,909.2 1748.5,907.4 1748.5,905.6 1748.5,903.7 1748.5,901.9 1748.5,900.1 1748.5,898.2 1748.5,896.4 1748.5,894.5 1748.5,892.7 1748.5,890.9 1748.5,889 1748.5,887.2 1748.5,885.4 1748.5,883.5 1748.5,881.7 1748.5,879.9 1748.5,878 1748.5,876.2 1748.5,874.4 1748.5,872.5 1748.5,870.7 1748.5,868.9 1748.5,867 1748.5,865.2 1748.5,863.4 1748.5,861.5 L1748.5,861.5 Z" fill="#F8766D" fill-opacity="0.5" stroke="none"/>
<path d="M1748.5,1320.2 L1748.5,1318.4 L1748.5,1316.6 L1748.5,1314.7 L1748.5,1312.9 L1748.5,1311 L1748.5,1309.2 L1748.5,1307.4 L1748.5,1305.5 L1748.5,1303.7 L1748.5,1301.9 L1748.5,1300 L1748.5,1298.2 L1748.5,1296.4 L1748.5,1294.5 L1748.5,1292.7 L1748.5,1290.9 L1748.5,1289 L1748.5,1287.2 L1748.5,1285.4 L1748.5,1283.5 L1748.5,1281.7 L1748.5,1279.9 L1748.5,1278 L1748.5,1276.2 L1748.5,1274.3 L1748.5,1272.5 L1748.5,1270.7 L1748.5,1268.8 L1748.5,1267 L1748.5,1265.2 L1748.5,1263.3 L1748.5,1261.5 L1748.5,1259.7 L1748.5,1257.8 L1748.5,1256 L1748.5,1254.2 L1748.5,1252.3 L1748.5,1250.5 L1748.5,1248.7 L1748.5,1246.8 L1748.5,1245 L1748.5,1243.2 L1748.5,1241.3 L1748.5,1239.5 L1748.5,1237.7 L1748.5,1235.8 L1748.5,1234 L1748.5,1232.1 L1748.5,1230.3 L1748.5,1228.5 L1748.5,1226.6 L1748.5,1224.8 L1748.5,1223 L1748.5,1221.1 L1748.5,1219.3 L1748.5,1217.5 L1748.5,1215.6 L1748.5,1213.8 L1748.5,1212 L1748.5,1210.1 L1748.5,1208.3 L1748.5,1206.5 L1748.5,1204.6 L1748.5,1202.8 L1748.5,1201 L1748.5,1199.1 L1748.5,1197.3 L1748.5,1195.5 L1748.5,1193.6 L1748.5,1191.8 L1748.5,1189.9 L1748.5,1188.1 L1748.5,1186.3 L1748.5,1184.4 L1748.5,1182.6 L1748.5,1180.8 L1748.5,1178.9 L1748.5,1177.1 L1748.5,1175.3 L1748.5,1173.4 L1748.5,1171.6 L1748.5,1169.8 L1748.5,1167.9 L1748.5,1166.1 L1748.5,1164.3 L1748.5,1162.4 L1748.5,1160.6 L1748.5,1158.8 L1748.5,1156.9 L1748.5,1155.1 L1748.5,1153.3 L1748.5,1151.4 L1748.6,1149.6 L1748.6,1147.7 L1748.7,1145.9 L1748.8,1144.1 L1748.9,1142.2 L1749.1,1140.4 L1749.4,1138.6 L1749.7,1136.7 L1750,1134.9 L1750.4,1133.1 L1750.8,1131.2 L1751.1,1129.4 L1751.4,1127.6 L1751.6,1125.7 L1751.6,1123.9 L1751.6,1122.1 L1751.6,1120.2 L1751.5,1118.4 L1751.5,1116.6 L1751.6,1114.7 L1751.7,1112.9 L1751.8,1111.1 L1752,1109.2 L1752.3,1107.4 L1752.8,1105.5 L1753.3,1103.7 L1753.9,1101.9 L1754.7,1100 L1755.5,1098.2 L1756.5,1096.4 L1757.5,1094.5 L1758.6,1092.7 L1759.7,1090.9 L1760.8,1089 L1762.1,1087.2 L1763.5,1085.4 L1765.4,1083.5 L1767.6,1081.7 L1770,1079.9 L1772.5,1078 L1775,1076.2 L1777.5,1074.4 L1780.2,1072.5 L1783.2,1070.7 L1786.7,1068.9 L1790.9,1067 L1795.6,1065.2 L1800.7,1063.3 L1805.8,1061.5 L1811.1,1059.7 L1816.4,1057.8 L1821.3,1056 L1825.6,1054.2 L1829.1,1052.3 L1832,1050.5 L1834.9,1048.7 L1838.5,1046.8 L1843.5,1045 L1849.8,1043.2 L1856.6,1041.3 L1862.8,1039.5 L1867.6,1037.7 L1871.1,1035.8 L1872.8,1034 L1872.3,1032.2 L1869.3,1030.3 L1863.4,1028.5 L1854.7,1026.7 L1844.5,1024.8 L1835.1,1023 L1827.1,1021.1 L1819.2,1019.3 L1810.7,1017.5 L1803.1,1015.6 L1797.5,1013.8 L1792.5,1012 L1786.7,1010.1 L1780.3,1008.3 L1774.3,1006.5 L1769.6,1004.6 L1766.3,1002.8 L1763.9,1001 L1762.1,999.1 L1761.1,997.3 L1760.6,995.5 L1760.3,993.6 L1760.2,991.8 L1760,990 L1759.7,988.1 L1759.3,986.3 L1758.8,984.5 L1758.2,982.6 L1757.4,980.8 L1756.5,978.9 L1755.4,977.1 L1754.4,975.3 L1753.6,973.4 L1752.9,971.6 L1752.4,969.8 L1751.9,967.9 L1751.4,966.1 L1750.9,964.3 L1750.5,962.4 L1750,960.6 L1749.6,958.8 L1749.2,956.9 L1748.9,955.1 L1748.8,953.3 L1748.7,951.4 L1748.6,949.6 L1748.6,947.8 L1748.6,945.9 L1748.5,944.1 L1748.5,942.3 L1748.5,940.4 L1748.5,938.6 L1748.5,936.7 L1748.5,934.9 L1748.5,933.1 L1748.5,931.2 L1748.5,929.4 L1748.5,927.6 L1748.5,925.7 L1748.5,923.9 L1748.5,922.1 L1748.5,920.2 L1748.5,918.4 L1748.5,916.6 L1748.5,914.7 L1748.5,912.9 L1748.5,911.1 L1748.5,909.2 L1748.5,907.4 L1748.5,905.6 L1748.5,903.7 L1748.5,901.9 L1748.5,900.1 L1748.5,898.2 L1748.5,896.4 L1748.5,894.5 L1748.5,892.7 L1748.5,890.9 L1748.5,889 L1748.5,887.2 L1748.5,885.4 L1748.5,883.5 L1748.5,881.7 L1748.5,879.9 L1748.5,878 L1748.5,876.2 L1748.5,874.4 L1748.5,872.5 L1748.5,870.7 L1748.5,868.9 L1748.5,867 L1748.5,865.2 L1748.5,863.4 L1748.5,861.5" fill="none" stroke="#00BA38" stroke-width="3.4" stroke-linejoin="round"/>
<path d="M1748.5,1320.2 L1748.5,1318.4 L1748.5,1316.6 L1748.5,1314.7 L1748.5,1312.9 L1748.5,1311 L1748.5,1309.2 L1748.5,1307.4 L1748.5,1305.5 L1748.5,1303.7 L1748.5,1301.9 L1748.5,1300 L1748.5,1298.2 L1748.5,1296.4 L1748.5,1294.5 L1748.5,1292.7 L1748.5,1290.9 L1748.5,1289 L1748.5,1287.2 L1748.5,1285.4 L1748.5,1283.5 L1748.5,1281.7 L1748.5,1279.9 L1748.5,1278 L1748.5,1276.2 L1748.5,1274.3 L1748.5,1272.5 L1748.5,1270.7 L1748.5,1268.8 L1748.5,1267 L1748.5,1265.2 L1748.5,1263.3 L1748.5,1261.5 L1748.5,1259.7 L1748.5,1257.8 L1748.5,1256 L1748.5,1254.2 L1748.5,1252.3 L1748.5,1250.5 L1748.5,1248.7 L1748.5,1246.8 L1748.5,1245 L1748.5,1243.2 L1748.5,1241.3 L1748.5,1239.5 L1748.5,1237.7 L1748.5,1235.8 L1748.5,1234 L1748.5,1232.1 L1748.5,1230.3 L1748.5,1228.5 L1748.5,1226.6 L1748.5,1224.8 L1748.5,1223 L1748.5,1221.1 L1748.5,1219.3 L1748.5,1217.5 L1748.5,1215.6 L1748.5,1213.8 L1748.5,1212 L1748.5,1210.1 L1748.5,1208.3 L1748.5,1206.5 L1748.5,1204.6 L1748.5,1202.8 L1748.5,1201 L1748.5,1199.1 L1748.5,1197.3 L1748.5,1195.5 L1748.5,1193.6 L1748.5,1191.8 L1748.5,1189.9 L1748.5,1188.1 L1748.5,1186.3 L1748.5,1184.4 L1748.5,1182.6 L1748.5,1180.8 L1748.5,1178.9 L1748.5,1177.1 L1748.5,1175.3 L1748.5,1173.4 L1748.5,1171.6 L1748.5,1169.8 L1748.5,1167.9 L1748.5,1166.1 L1748.5,1164.3 L1748.5,1162.4 L1748.5,1160.6 L1748.5,1158.8 L1748.5,1156.9 L1748.5,1155.1 L1748.5,1153.3 L1748.5,1151.4 L1748.5,1149.6 L1748.5,1147.7 L1748.5,1145.9 L1748.5,1144.1 L1748.5,1142.2 L1748.5,1140.4 L1748.5,1138.6 L1748.5,1136.7 L1748.5,1134.9 L1748.5,1133.1 L1748.5,1131.2 L1748.5,1129.4 L1748.5,1127.6 L1748.5,1125.7 L1748.5,1123.9 L1748.5,1122.1 L1748.5,1120.2 L1748.5,1118.4 L1748.5,1116.6 L1748.5,1114.7 L1748.5,1112.9 L1748.5,1111.1 L1748.5,1109.2 L1748.5,1107.4 L1748.5,1105.5 L1748.5,1103.7 L1748.5,1101.9 L1748.5,1100 L1748.5,1098.2 L1748.5,1096.4 L1748.5,1094.5 L1748.5,1092.7 L1748.5,1090.9 L1748.5,1089 L1748.5,1087.2 L1748.5,1085.4 L1748.5,1083.5 L1748.5,1081.7 L1748.5,1079.9 L1748.6,1078 L1748.6,1076.2 L1748.7,1074.4 L1748.9,1072.5 L1749.1,1070.7 L1749.5,1068.9 L1750.2,1067 L1751.2,1065.2 L1752.5,1063.3 L1753.9,1061.5 L1755.6,1059.7 L1757.5,1057.8 L1759.7,1056 L1762.1,1054.2 L1764.7,1052.3 L1767.6,1050.5 L1770.7,1048.7 L1773.9,1046.8 L1777.2,1045 L1780.6,1043.2 L1784,1041.3 L1787.3,1039.5 L1790.3,1037.7 L1793.1,1035.8 L1795.8,1034 L1798.5,1032.2 L1801.5,1030.3 L1804.8,1028.5 L1808.1,1026.7 L1811.4,1024.8 L1814.7,1023 L1818.1,1021.1 L1822.3,1019.3 L1827.2,1017.5 L1831.6,1015.6 L1835,1013.8 L1838.9,1012 L1844.8,1010.1 L1852.4,1008.3 L1859.8,1006.5 L1865.5,1004.6 L1869.2,1002.8 L1871.2,1001 L1871.4,999.1 L1869.7,997.3 L1865.8,995.5 L1859.5,993.6 L1851.8,991.8 L1843.7,990 L1835.9,988.1 L1828.4,986.3 L1821.2,984.5 L1814.8,982.6 L1809.3,980.8 L1804.8,978.9 L1800.8,977.1 L1796.8,975.3 L1792.4,973.4 L1787.3,971.6 L1781.8,969.8 L1776.3,967.9 L1771.3,966.1 L1766.7,964.3 L1762.6,962.4 L1759,960.6 L1756.2,958.8 L1754.2,956.9 L1752.8,955.1 L1751.8,953.3 L1751.1,951.4 L1750.6,949.6 L1750.4,947.8 L1750.4,945.9 L1750.5,944.1 L1750.8,942.3 L1751.2,940.4 L1751.6,938.6 L1752.1,936.7 L1752.5,934.9 L1752.9,933.1 L1753.2,931.2 L1753.4,929.4 L1753.5,927.6 L1753.5,925.7 L1753.4,923.9 L1753.2,922.1 L1752.8,920.2 L1752.5,918.4 L1752,916.6 L1751.5,914.7 L1751.1,912.9 L1750.6,911.1 L1750.2,909.2 L1749.9,907.4 L1749.5,905.6 L1749.3,903.7 L1749.1,901.9 L1748.9,900.1 L1748.8,898.2 L1748.7,896.4 L1748.6,894.5 L1748.6,892.7 L1748.6,890.9 L1748.5,889 L1748.5,887.2 L1748.5,885.4 L1748.5,883.5 L1748.5,881.7 L1748.5,879.9 L1748.5,878 L1748.5,876.2 L1748.5,874.4 L1748.5,872.5 L1748.5,870.7 L1748.5,868.9 L1748.5,867 L1748.5,865.2 L1748.5,863.4 L1748.5,861.5" fill="none" stroke="#619CFF" stroke-width="3.4" stroke-linejoin="round"/>
<path d="M1750.3,1320.2 L1750.7,1318.4 L1751,1316.6 L1751.4,1314.7 L1751.7,1312.9 L1752.1,1311 L1752.5,1309.2 L1752.9,1307.4 L1753.2,1305.5 L1753.5,1303.7 L1753.7,1301.9 L1753.9,1300 L1754.1,1298.2 L1754.1,1296.4 L1754.1,1294.5 L1754.1,1292.7 L1753.9,1290.9 L1753.7,1289 L1753.5,1287.2 L1753.2,1285.4 L1752.9,1283.5 L1752.5,1281.7 L1752.1,1279.9 L1751.7,1278 L1751.4,1276.2 L1751,1274.3 L1750.7,1272.5 L1750.3,1270.7 L1750,1268.8 L1749.8,1267 L1749.6,1265.2 L1749.4,1263.3 L1749.2,1261.5 L1749,1259.7 L1748.9,1257.8 L1748.8,1256 L1748.7,1254.2 L1748.7,1252.3 L1748.6,1250.5 L1748.6,1248.7 L1748.6,1246.8 L1748.6,1245 L1748.5,1243.2 L1748.5,1241.3 L1748.5,1239.5 L1748.5,1237.7 L1748.5,1235.8 L1748.5,1234 L1748.5,1232.1 L1748.5,1230.3 L1748.5,1228.5 L1748.5,1226.6 L1748.5,1224.8 L1748.5,1223 L1748.5,1221.1 L1748.5,1219.3 L1748.5,1217.5 L1748.5,1215.6 L1748.5,1213.8 L1748.5,1212 L1748.5,1210.1 L1748.5,1208.3 L1748.5,1206.5 L1748.5,1204.6 L1748.5,1202.8 L1748.5,1201 L1748.5,1199.1 L1748.5,1197.3 L1748.5,1195.5 L1748.5,1193.6 L1748.5,1191.8 L1748.5,1189.9 L1748.5,1188.1 L1748.6,1186.3 L1748.6,1184.4 L1748.6,1182.6 L1748.7,1180.8 L1748.7,1178.9 L1748.8,1177.1 L1748.9,1175.3 L1749.1,1173.4 L1749.3,1171.6 L1749.5,1169.8 L1749.7,1167.9 L1750,1166.1 L1750.3,1164.3 L1750.6,1162.4 L1750.9,1160.6 L1751.3,1158.8 L1751.6,1156.9 L1751.8,1155.1 L1752,1153.3 L1752.2,1151.4 L1752.3,1149.6 L1752.3,1147.7 L1752.2,1145.9 L1752,1144.1 L1751.8,1142.2 L1751.6,1140.4 L1751.3,1138.6 L1750.9,1136.7 L1750.6,1134.9 L1750.3,1133.1 L1750,1131.2 L1749.8,1129.4 L1749.9,1127.6 L1750.2,1125.7 L1750.7,1123.9 L1751.5,1122.1 L1752.5,1120.2 L1753.6,1118.4 L1755,1116.6 L1756.8,1114.7 L1759.2,1112.9 L1762.1,1111.1 L1765.2,1109.2 L1768.5,1107.4 L1772,1105.5 L1775.7,1103.7 L1779.5,1101.9 L1783.3,1100 L1787,1098.2 L1790.8,1096.4 L1794.5,1094.5 L1798,1092.7 L1801.3,1090.9 L1804.5,1089 L1807.4,1087.2 L1810.2,1085.4 L1812.7,1083.5 L1815,1081.7 L1817.1,1079.9 L1819.1,1078 L1820.9,1076.2 L1822.6,1074.4 L1824.1,1072.5 L1825.5,1070.7 L1826.7,1068.9 L1827.8,1067 L1828.8,1065.2 L1829.4,1063.3 L1829.6,1061.5 L1829.5,1059.7 L1829.1,1057.8 L1828.4,1056 L1827.4,1054.2 L1826,1052.3 L1823.9,1050.5 L1821.3,1048.7 L1818.5,1046.8 L1815.5,1045 L1812.2,1043.2 L1808.8,1041.3 L1805.3,1039.5 L1801.8,1037.7 L1798.4,1035.8 L1794.9,1034 L1791.6,1032.2 L1788.5,1030.3 L1785.6,1028.5 L1782.8,1026.7 L1780.3,1024.8 L1777.9,1023 L1775.8,1021.1 L1773.6,1019.3 L1771.6,1017.5 L1769.8,1015.6 L1768.5,1013.8 L1767.4,1012 L1766.3,1010.1 L1765.1,1008.3 L1763.9,1006.5 L1762.8,1004.6 L1761.7,1002.8 L1760.7,1001 L1759.6,999.1 L1758.6,997.3 L1757.6,995.5 L1756.6,993.6 L1755.6,991.8 L1754.6,990 L1753.6,988.1 L1752.7,986.3 L1751.9,984.5 L1751.1,982.6 L1750.6,980.8 L1750.2,978.9 L1749.8,977.1 L1749.6,975.3 L1749.3,973.4 L1749.1,971.6 L1749,969.8 L1748.8,967.9 L1748.7,966.1 L1748.6,964.3 L1748.5,962.4 L1748.5,960.6 L1748.5,958.8 L1748.5,956.9 L1748.5,955.1 L1748.5,953.3 L1748.5,951.4 L1748.5,949.6 L1748.5,947.8 L1748.5,945.9 L1748.5,944.1 L1748.5,942.3 L1748.5,940.4 L1748.5,938.6 L1748.5,936.7 L1748.5,934.9 L1748.5,933.1 L1748.5,931.2 L1748.5,929.4 L1748.5,927.6 L1748.5,925.7 L1748.5,923.9 L1748.5,922.1 L1748.5,920.2 L1748.5,918.4 L1748.5,916.6 L1748.5,914.7 L1748.5,912.9 L1748.5,911.1 L1748.5,909.2 L1748.5,907.4 L1748.5,905.6 L1748.5,903.7 L1748.5,901.9 L1748.5,900.1 L1748.5,898.2 L1748.5,896.4 L1748.5,894.5 L1748.5,892.7 L1748.5,890.9 L1748.5,889 L1748.5,887.2 L1748.5,885.4 L1748.5,883.5 L1748.5,881.7 L1748.5,879.9 L1748.5,878 L1748.5,876.2 L1748.5,874.4 L1748.5,872.5 L1748.5,870.7 L1748.5,868.9 L1748.5,867 L1748.5,865.2 L1748.5,863.4 L1748.5,861.5" fill="none" stroke="#F8766D" stroke-width="3.4" stroke-linejoin="round"/>
<clipPath id="clip3"><rect x="1054.3" y="839.7" width="687.2" height="502.6"/></clipPath>
<g><line x1="1147.1" y1="839.7" x2="1147.1" y2="1342.3" stroke="#EBEBEB" stroke-width="1.6"/><line x1="1054.3" y1="1274.35" x2="1741.5" y2="1274.35" stroke="#EBEBEB" stroke-width="1.6"/><line x1="1272.1" y1="839.7" x2="1272.1" y2="1342.3" stroke="#EBEBEB" stroke-width="1.6"/><line x1="1054.3" y1="1182.61" x2="1741.5" y2="1182.61" stroke="#EBEBEB" stroke-width="1.6"/><line x1="1397.1" y1="839.7" x2="1397.1" y2="1342.3" stroke="#EBEBEB" stroke-width="1.6"/><line x1="1054.3" y1="1090.87" x2="1741.5" y2="1090.87" stroke="#EBEBEB" stroke-width="1.6"/><line x1="1522.1" y1="839.7" x2="1522.1" y2="1342.3" stroke="#EBEBEB" stroke-width="1.6"/><line x1="1054.3" y1="999.13" x2="1741.5" y2="999.13" stroke="#EBEBEB" stroke-width="1.6"/><line x1="1647.1" y1="839.7" x2="1647.1" y2="1342.3" stroke="#EBEBEB" stroke-width="1.6"/><line x1="1054.3" y1="907.39" x2="1741.5" y2="907.39" stroke="#EBEBEB" stroke-width="1.6"/><line x1="1084.6" y1="839.7" x2="1084.6" y2="1342.3" stroke="#EBEBEB" stroke-width="3.0"/><line x1="1054.3" y1="1320.22" x2="1741.5" y2="1320.22" stroke="#EBEBEB" stroke-width="3.0"/><line x1="1209.6" y1="839.7" x2="1209.6" y2="1342.3" stroke="#EBEBEB" stroke-width="3.0"/><line x1="1054.3" y1="1228.48" x2="1741.5" y2="1228.48" stroke="#EBEBEB" stroke-width="3.0"/><line x1="1334.6" y1="839.7" x2="1334.6" y2="1342.3" stroke="#EBEBEB" stroke-width="3.0"/><line x1="1054.3" y1="1136.74" x2="1741.5" y2="1136.74" stroke="#EBEBEB" stroke-width="3.0"/><line x1="1459.6" y1="839.7" x2="1459.6" y2="1342.3" stroke="#EBEBEB" stroke-width="3.0"/><line x1="1054.3" y1="1045" x2="1741.5" y2="1045" stroke="#EBEBEB" stroke-width="3.0"/><line x1="1584.6" y1="839.7" x2="1584.6" y2="1342.3" stroke="#EBEBEB" stroke-width="3.0"/><line x1="1054.3" y1="953.26" x2="1741.5" y2="953.26" stroke="#EBEBEB" stroke-width="3.0"/><line x1="1709.6" y1="839.7" x2="1709.6" y2="1342.3" stroke="#EBEBEB" stroke-width="3.0"/><line x1="1054.3" y1="861.52" x2="1741.5" y2="861.52" stroke="#EBEBEB" stroke-width="3.0"/></g>
<g fill="#000000" font-size="41" transform="translate(0 967.86) scale(1 1.045) translate(0 -967.86)"><text x="1140.2" y="967.86" font-style="italic">r</text><text transform="translate(1165.4 971.51) scale(1.16 1)" font-family="Liberation Serif">=</text><text x="1199.6" y="967.86">0.98</text></g>
<g fill="#EE0000" font-size="41" transform="translate(0 1041.25) scale(1 1.045) translate(0 -1041.25)"><text x="1202.7" y="1041.25" font-style="italic">r</text><text transform="translate(1227.9 1044.9) scale(1.16 1)" font-family="Liberation Serif">=</text><text x="1262.1" y="1041.25">0.99</text></g>
<g fill="#00CD00" font-size="41" transform="translate(0 949.51) scale(1 1.045) translate(0 -949.51)"><text x="1358.95" y="949.51" font-style="italic">r</text><text transform="translate(1384.15 953.16) scale(1.16 1)" font-family="Liberation Serif">=</text><text x="1418.35" y="949.51">0.95</text></g>
<g fill="#0000EE" font-size="41" transform="translate(0 894.47) scale(1 1.045) translate(0 -894.47)"><text x="1515.2" y="894.47" font-style="italic">r</text><text transform="translate(1540.4 898.12) scale(1.16 1)" font-family="Liberation Serif">=</text><text x="1574.6" y="894.47">0.98</text></g>
<g clip-path="url(#clip3)">
<g><circle cx="1540.0" cy="991.9" r="8.2" fill="#00BA38"/><circle cx="1548.0" cy="991.9" r="8.2" fill="#00BA38"/><circle cx="1528.0" cy="998.9" r="8.2" fill="#00BA38"/><circle cx="1536.0" cy="998.9" r="8.2" fill="#00BA38"/><circle cx="1544.0" cy="998.9" r="8.2" fill="#00BA38"/><circle cx="1516.0" cy="1005.8" r="8.2" fill="#00BA38"/><circle cx="1524.0" cy="1005.8" r="8.2" fill="#00BA38"/><circle cx="1532.0" cy="1005.8" r="8.2" fill="#00BA38"/><circle cx="1504.0" cy="1012.7" r="8.2" fill="#00BA38"/><circle cx="1512.0" cy="1012.7" r="8.2" fill="#00BA38"/><circle cx="1520.0" cy="1012.7" r="8.2" fill="#00BA38"/><circle cx="1528.0" cy="1012.7" r="8.2" fill="#00BA38"/><circle cx="1492.0" cy="1019.6" r="8.2" fill="#00BA38"/><circle cx="1500.0" cy="1019.6" r="8.2" fill="#00BA38"/><circle cx="1508.0" cy="1019.6" r="8.2" fill="#00BA38"/><circle cx="1516.0" cy="1019.6" r="8.2" fill="#00BA38"/><circle cx="1488.0" cy="1026.6" r="8.2" fill="#00BA38"/><circle cx="1496.0" cy="1026.6" r="8.2" fill="#00BA38"/><circle cx="1504.0" cy="1026.6" r="8.2" fill="#00BA38"/><circle cx="1476.0" cy="1033.5" r="8.2" fill="#00BA38"/><circle cx="1484.0" cy="1033.5" r="8.2" fill="#00BA38"/><circle cx="1492.0" cy="1033.5" r="8.2" fill="#00BA38"/><circle cx="1500.0" cy="1033.5" r="8.2" fill="#00BA38"/><circle cx="1464.0" cy="1040.4" r="8.2" fill="#00BA38"/><circle cx="1472.0" cy="1040.4" r="8.2" fill="#00BA38"/><circle cx="1480.0" cy="1040.4" r="8.2" fill="#00BA38"/><circle cx="1488.0" cy="1040.4" r="8.2" fill="#00BA38"/><circle cx="1452.0" cy="1047.4" r="8.2" fill="#00BA38"/><circle cx="1460.0" cy="1047.4" r="8.2" fill="#00BA38"/><circle cx="1468.0" cy="1047.4" r="8.2" fill="#00BA38"/><circle cx="1476.0" cy="1047.4" r="8.2" fill="#00BA38"/><circle cx="1440.0" cy="1054.3" r="8.2" fill="#00BA38"/><circle cx="1448.0" cy="1054.3" r="8.2" fill="#00BA38"/><circle cx="1456.0" cy="1054.3" r="8.2" fill="#00BA38"/><circle cx="1464.0" cy="1054.3" r="8.2" fill="#00BA38"/><circle cx="1436.0" cy="1061.2" r="8.2" fill="#00BA38"/><circle cx="1444.0" cy="1061.2" r="8.2" fill="#00BA38"/><circle cx="1452.0" cy="1061.2" r="8.2" fill="#00BA38"/><circle cx="1460.0" cy="1061.2" r="8.2" fill="#00BA38"/><circle cx="1424.0" cy="1068.1" r="8.2" fill="#00BA38"/><circle cx="1432.0" cy="1068.1" r="8.2" fill="#00BA38"/><circle cx="1440.0" cy="1068.1" r="8.2" fill="#00BA38"/><circle cx="1448.0" cy="1068.1" r="8.2" fill="#00BA38"/><circle cx="1412.0" cy="1075.1" r="8.2" fill="#00BA38"/><circle cx="1420.0" cy="1075.1" r="8.2" fill="#00BA38"/><circle cx="1428.0" cy="1075.1" r="8.2" fill="#00BA38"/><circle cx="1436.0" cy="1075.1" r="8.2" fill="#00BA38"/><circle cx="1444.0" cy="1075.1" r="8.2" fill="#00BA38"/><circle cx="1408.0" cy="1082.0" r="8.2" fill="#00BA38"/><circle cx="1416.0" cy="1082.0" r="8.2" fill="#00BA38"/><circle cx="1424.0" cy="1082.0" r="8.2" fill="#00BA38"/><circle cx="1432.0" cy="1082.0" r="8.2" fill="#00BA38"/><circle cx="1412.0" cy="1088.9" r="8.2" fill="#00BA38"/><circle cx="1420.0" cy="1088.9" r="8.2" fill="#00BA38"/><circle cx="1428.0" cy="1088.9" r="8.2" fill="#00BA38"/><circle cx="1400.0" cy="1082.0" r="8.2" fill="#00BA38"/><circle cx="1450.0" cy="1046.0" r="8.2" fill="#00BA38"/><circle cx="1500.0" cy="1014.0" r="8.2" fill="#00BA38"/><circle cx="1545.0" cy="985.0" r="8.2" fill="#00BA38"/><circle cx="1558.0" cy="987.0" r="8.2" fill="#00BA38"/><circle cx="1550.0" cy="998.0" r="8.2" fill="#00BA38"/><circle cx="1505.0" cy="1030.0" r="8.2" fill="#00BA38"/><circle cx="1460.0" cy="1063.0" r="8.2" fill="#00BA38"/><circle cx="1430.0" cy="1090.0" r="8.2" fill="#00BA38"/><circle cx="1408.0" cy="1094.0" r="8.2" fill="#00BA38"/><circle cx="1558.0" cy="970.9" r="8.2" fill="#619CFF"/><circle cx="1566.0" cy="970.9" r="8.2" fill="#619CFF"/><circle cx="1546.0" cy="977.9" r="8.2" fill="#619CFF"/><circle cx="1554.0" cy="977.9" r="8.2" fill="#619CFF"/><circle cx="1542.0" cy="984.8" r="8.2" fill="#619CFF"/><circle cx="1550.0" cy="984.8" r="8.2" fill="#619CFF"/><circle cx="1530.0" cy="991.7" r="8.2" fill="#619CFF"/><circle cx="1538.0" cy="991.7" r="8.2" fill="#619CFF"/><circle cx="1518.0" cy="998.6" r="8.2" fill="#619CFF"/><circle cx="1526.0" cy="998.6" r="8.2" fill="#619CFF"/><circle cx="1506.0" cy="1005.6" r="8.2" fill="#619CFF"/><circle cx="1514.0" cy="1005.6" r="8.2" fill="#619CFF"/><circle cx="1502.0" cy="1012.5" r="8.2" fill="#619CFF"/><circle cx="1510.0" cy="1012.5" r="8.2" fill="#619CFF"/><circle cx="1490.0" cy="1019.4" r="8.2" fill="#619CFF"/><circle cx="1498.0" cy="1019.4" r="8.2" fill="#619CFF"/><circle cx="1482.0" cy="1021.0" r="8.2" fill="#619CFF"/><circle cx="1530.0" cy="988.0" r="8.2" fill="#619CFF"/><circle cx="1563.0" cy="964.0" r="8.2" fill="#619CFF"/><circle cx="1568.0" cy="972.0" r="8.2" fill="#619CFF"/><circle cx="1540.0" cy="992.0" r="8.2" fill="#619CFF"/><circle cx="1492.0" cy="1026.0" r="8.2" fill="#619CFF"/><circle cx="1395.8" cy="1125.8" r="8.2" fill="#00BA38"/><circle cx="1406.2" cy="1118.8" r="8.2" fill="#00BA38"/><circle cx="1417.3" cy="1096.6" r="8.2" fill="#00BA38"/><circle cx="1431.2" cy="1089.6" r="8.2" fill="#00BA38"/><circle cx="1447.9" cy="1086.9" r="8.2" fill="#00BA38"/><circle cx="1420.1" cy="1070.2" r="8.2" fill="#00BA38"/><circle cx="1438.0" cy="1066.0" r="8.2" fill="#00BA38"/><circle cx="1445.1" cy="1053.5" r="8.2" fill="#00BA38"/><circle cx="1452.1" cy="1073.0" r="8.2" fill="#00BA38"/><circle cx="1459.0" cy="1059.0" r="8.2" fill="#00BA38"/><circle cx="1473.0" cy="1054.9" r="8.2" fill="#00BA38"/><circle cx="1475.7" cy="1034.0" r="8.2" fill="#00BA38"/><circle cx="1493.8" cy="1038.2" r="8.2" fill="#00BA38"/><circle cx="1500.8" cy="1042.4" r="8.2" fill="#00BA38"/><circle cx="1504.9" cy="1028.5" r="8.2" fill="#00BA38"/><circle cx="1500.8" cy="1010.4" r="8.2" fill="#00BA38"/><circle cx="1517.4" cy="1014.5" r="8.2" fill="#00BA38"/><circle cx="1536.9" cy="997.9" r="8.2" fill="#00BA38"/><circle cx="1545.3" cy="992.3" r="8.2" fill="#00BA38"/><circle cx="1430.0" cy="1078.0" r="8.2" fill="#00BA38"/><circle cx="1486.9" cy="1045.1" r="8.2" fill="#619CFF"/><circle cx="1521.6" cy="1022.9" r="8.2" fill="#619CFF"/><circle cx="1520.2" cy="997.9" r="8.2" fill="#619CFF"/><circle cx="1545.3" cy="978.4" r="8.2" fill="#619CFF"/><circle cx="1556.4" cy="972.8" r="8.2" fill="#619CFF"/><circle cx="1528.6" cy="1003.4" r="8.2" fill="#619CFF"/><circle cx="1495.2" cy="1011.8" r="8.2" fill="#619CFF"/><circle cx="1479.9" cy="1025.7" r="8.2" fill="#619CFF"/><circle cx="1453.5" cy="1042.4" r="8.2" fill="#619CFF"/><circle cx="1556.4" cy="992.3" r="8.2" fill="#619CFF"/><circle cx="1625.5" cy="927.1" r="8.2" fill="#619CFF"/><circle cx="1566.6" cy="964.7" r="8.2" fill="#619CFF"/><circle cx="1573.9" cy="976.1" r="8.2" fill="#619CFF"/><circle cx="1555.1" cy="973.0" r="8.2" fill="#619CFF"/><circle cx="1544.7" cy="981.3" r="8.2" fill="#619CFF"/><circle cx="1558.2" cy="989.7" r="8.2" fill="#619CFF"/><circle cx="1534.2" cy="989.7" r="8.2" fill="#619CFF"/><circle cx="1519.6" cy="999.1" r="8.2" fill="#619CFF"/><circle cx="1525.9" cy="1009.5" r="8.2" fill="#619CFF"/><circle cx="1521.7" cy="1021.0" r="8.2" fill="#619CFF"/><circle cx="1498.8" cy="1013.7" r="8.2" fill="#619CFF"/><circle cx="1480.0" cy="1025.1" r="8.2" fill="#619CFF"/><circle cx="1559.3" cy="987.6" r="8.2" fill="#00BA38"/><circle cx="1544.7" cy="997.0" r="8.2" fill="#00BA38"/><circle cx="1536.3" cy="1005.3" r="8.2" fill="#00BA38"/><circle cx="1506.1" cy="1007.4" r="8.2" fill="#00BA38"/><circle cx="1516.5" cy="1019.9" r="8.2" fill="#00BA38"/><circle cx="1500.9" cy="1030.4" r="8.2" fill="#00BA38"/><circle cx="1538.4" cy="982.4" r="8.2" fill="#00BA38"/><circle cx="1392.3" cy="1091.0" r="8.2" fill="#F8766D"/><circle cx="1404.8" cy="1079.9" r="8.2" fill="#F8766D"/><circle cx="1428.5" cy="1066.0" r="8.2" fill="#F8766D"/><circle cx="1434.0" cy="1074.3" r="8.2" fill="#F8766D"/><circle cx="1471.6" cy="1053.5" r="8.2" fill="#F8766D"/><circle cx="1400.6" cy="1096.6" r="8.2" fill="#F8766D"/><circle cx="1357.3" cy="1149.6" r="8.2" fill="#F8766D"/><circle cx="1126.1" cy="1295.6" r="8.2" fill="#F8766D"/><circle cx="1447.9" cy="1087.0" r="8.2" fill="#00BA38"/><circle cx="1455.0" cy="1080.0" r="8.2" fill="#00BA38"/><circle cx="1470.0" cy="1060.0" r="8.2" fill="#00BA38"/></g>
<path d="M1126.0,1283.8 L1134.5,1280.0 L1142.9,1276.2 L1151.4,1272.1 L1159.8,1267.5 L1168.3,1262.5 L1176.7,1257.5 L1185.2,1252.4 L1193.7,1247.2 L1202.1,1241.9 L1210.6,1236.6 L1219.0,1231.1 L1227.5,1225.6 L1235.9,1220.0 L1244.4,1214.2 L1252.9,1208.5 L1261.3,1202.6 L1269.8,1196.6 L1278.2,1190.6 L1286.7,1184.5 L1295.2,1178.3 L1303.6,1172.0 L1312.1,1165.4 L1320.5,1158.7 L1329.0,1151.8 L1337.4,1144.7 L1345.9,1137.4 L1354.4,1129.5 L1362.8,1121.3 L1371.3,1113.1 L1379.7,1105.1 L1388.2,1097.7 L1396.6,1090.8 L1405.1,1084.3 L1413.6,1078.0 L1422.0,1072.0 L1430.5,1066.0 L1438.9,1060.2 L1447.4,1054.3 L1455.8,1048.5 L1464.3,1042.6 L1472.8,1036.9 L1481.2,1031.1 L1489.7,1025.5 L1498.1,1019.9 L1506.6,1014.2 L1515.1,1008.5 L1523.5,1002.8 L1532.0,997.1 L1540.4,991.4 L1548.9,985.7 L1557.3,979.9 L1565.8,973.8 L1574.3,967.5 L1582.7,960.9 L1591.2,953.9 L1599.6,946.5 L1608.1,938.7 L1616.5,930.7 L1625.0,922.5 L1625.0,940.5 L1616.5,946.8 L1608.1,953.0 L1599.6,959.1 L1591.2,965.2 L1582.7,971.1 L1574.3,977.0 L1565.8,982.7 L1557.3,988.1 L1548.9,993.4 L1540.4,998.6 L1532.0,1003.9 L1523.5,1009.2 L1515.1,1014.7 L1506.6,1020.3 L1498.1,1025.9 L1489.7,1031.5 L1481.2,1037.1 L1472.8,1042.9 L1464.3,1048.6 L1455.8,1054.5 L1447.4,1060.3 L1438.9,1066.2 L1430.5,1072.0 L1422.0,1078.0 L1413.6,1084.0 L1405.1,1090.3 L1396.6,1096.8 L1388.2,1103.7 L1379.7,1111.1 L1371.3,1119.1 L1362.8,1127.4 L1354.4,1135.6 L1345.9,1143.5 L1337.4,1150.9 L1329.0,1158.0 L1320.5,1165.0 L1312.1,1171.8 L1303.6,1178.4 L1295.2,1184.8 L1286.7,1191.1 L1278.2,1197.3 L1269.8,1203.4 L1261.3,1209.5 L1252.9,1215.4 L1244.4,1221.3 L1235.9,1227.2 L1227.5,1233.1 L1219.0,1238.9 L1210.6,1244.7 L1202.1,1250.6 L1193.7,1256.3 L1185.2,1262.1 L1176.7,1267.9 L1168.3,1273.7 L1159.8,1279.5 L1151.4,1285.6 L1142.9,1292.2 L1134.5,1298.9 L1126.0,1305.8 Z" fill="#999999" fill-opacity="0.4"/><path d="M1126.1,1294.7 L1132.4,1290.8 L1138.7,1286.8 L1145.0,1282.8 L1151.4,1278.9 L1157.7,1274.9 L1164.0,1270.8 L1170.3,1266.8 L1176.6,1262.8 L1182.9,1258.7 L1189.3,1254.6 L1195.6,1250.5 L1201.9,1246.4 L1208.2,1242.2 L1214.5,1238.0 L1220.8,1233.8 L1227.1,1229.6 L1233.5,1225.3 L1239.8,1221.0 L1246.1,1216.6 L1252.4,1212.3 L1258.7,1207.9 L1265.0,1203.4 L1271.3,1198.9 L1277.7,1194.4 L1284.0,1189.8 L1290.3,1185.2 L1296.6,1180.5 L1302.9,1175.7 L1309.2,1170.8 L1315.6,1165.8 L1321.9,1160.8 L1328.2,1155.6 L1334.5,1150.3 L1340.8,1144.9 L1347.1,1139.3 L1353.4,1133.4 L1359.8,1127.3 L1366.1,1121.1 L1372.4,1115.0 L1378.7,1109.0 L1385.0,1103.4 L1391.3,1098.1 L1397.7,1093.1 L1404.0,1088.2 L1410.3,1083.4 L1416.6,1078.8 L1422.9,1074.3 L1429.2,1069.9 L1435.5,1065.5 L1441.9,1061.1 L1448.2,1056.8 L1454.5,1052.4 L1460.8,1048.1 L1467.1,1043.7 L1473.4,1039.4 L1479.8,1035.1 L1486.1,1030.9 L1492.4,1026.7 L1498.7,1022.5 L1505.0,1018.3 L1511.3,1014.1 L1517.6,1009.9 L1524.0,1005.7 L1530.3,1001.6 L1536.6,997.5 L1542.9,993.4 L1549.2,989.3 L1555.5,985.2 L1561.8,981.0 L1568.2,976.6 L1574.5,972.1 L1580.8,967.5 L1587.1,962.7 L1593.4,957.7 L1599.7,952.7 L1606.1,947.6 L1612.4,942.3 L1618.7,936.9 L1625.0,931.5" fill="none" stroke="#ABABAB" stroke-width="8" stroke-linejoin="round"/>
<line x1="1459.6" y1="839.7" x2="1459.6" y2="1342.3" stroke="#B3B3B3" stroke-width="3.0"/>
<line x1="1054.3" y1="1045" x2="1741.5" y2="1045" stroke="#B3B3B3" stroke-width="3.0"/>
<line x1="959.6" y1="1411.96" x2="1834.6" y2="769.78" stroke="#B3B3B3" stroke-width="3.0"/>
</g>
<rect x="1054.3" y="839.7" width="687.2" height="502.6" fill="none" stroke="#111" stroke-width="2"/>
<path d="M1084.6 1342.3V1352.8M1054.3 1320.22H1043.8M1209.6 1342.3V1352.8M1054.3 1228.48H1043.8M1334.6 1342.3V1352.8M1054.3 1136.74H1043.8M1459.6 1342.3V1352.8M1054.3 1045H1043.8M1584.6 1342.3V1352.8M1054.3 953.26H1043.8M1709.6 1342.3V1352.8M1054.3 861.52H1043.8" stroke="#1E1E1E" stroke-width="2.9" fill="none"/>
<g fill="#262626" font-size="32.8"><text x="1084.6" y="1385.9" text-anchor="middle">-3</text><text x="1034.5" y="1331.92" text-anchor="end">-3</text><text x="1209.6" y="1385.9" text-anchor="middle">-2</text><text x="1034.5" y="1240.18" text-anchor="end">-2</text><text x="1334.6" y="1385.9" text-anchor="middle">-1</text><text x="1034.5" y="1148.44" text-anchor="end">-1</text><text x="1459.6" y="1385.9" text-anchor="middle">0</text><text x="1034.5" y="1056.7" text-anchor="end">0</text><text x="1584.6" y="1385.9" text-anchor="middle">1</text><text x="1034.5" y="964.96" text-anchor="end">1</text><text x="1709.6" y="1385.9" text-anchor="middle">2</text><text x="1034.5" y="873.22" text-anchor="end">2</text></g>
<text x="1397.9" y="1437.6" text-anchor="middle" font-size="41">Combination Index</text>
<text transform="translate(985 1091) rotate(-90)" text-anchor="middle" font-size="41">Explicit Mean Equation</text>
<path d="M145.4,1571.6 L145.4,1571.6 147.8,1571.6 150.3,1571.6 152.8,1571.6 155.2,1571.6 157.7,1571.6 160.2,1571.6 162.6,1571.6 165.1,1571.6 167.5,1571.6 170,1571.6 172.5,1571.6 174.9,1571.6 177.4,1571.6 179.9,1571.6 182.3,1571.6 184.8,1571.6 187.2,1571.6 189.7,1571.6 192.2,1571.6 194.6,1571.6 197.1,1571.6 199.6,1571.6 202,1571.6 204.5,1571.6 206.9,1571.6 209.4,1571.6 211.9,1571.6 214.3,1571.6 216.8,1571.6 219.3,1571.6 221.7,1571.6 224.2,1571.6 226.7,1571.6 229.1,1571.6 231.6,1571.6 234,1571.6 236.5,1571.6 239,1571.6 241.4,1571.6 243.9,1571.6 246.4,1571.6 248.8,1571.6 251.3,1571.6 253.7,1571.6 256.2,1571.6 258.7,1571.6 261.1,1571.6 263.6,1571.6 266.1,1571.6 268.5,1571.6 271,1571.6 273.4,1571.6 275.9,1571.6 278.4,1571.6 280.8,1571.6 283.3,1571.6 285.8,1571.6 288.2,1571.6 290.7,1571.6 293.1,1571.6 295.6,1571.6 298.1,1571.6 300.5,1571.6 303,1571.6 305.5,1571.6 307.9,1571.6 310.4,1571.6 312.9,1571.6 315.3,1571.6 317.8,1571.6 320.2,1571.6 322.7,1571.6 325.2,1571.6 327.6,1571.6 330.1,1571.6 332.6,1571.6 335,1571.6 337.5,1571.6 339.9,1571.6 342.4,1571.6 344.9,1571.6 347.3,1571.6 349.8,1571.6 352.3,1571.6 354.7,1571.6 357.2,1571.6 359.6,1571.6 362.1,1571.6 364.6,1571.6 367,1571.6 369.5,1571.6 372,1571.6 374.4,1571.6 376.9,1571.6 379.3,1571.6 381.8,1571.6 384.3,1571.6 386.7,1571.6 389.2,1571.6 391.7,1571.6 394.1,1571.6 396.6,1571.6 399,1571.6 401.5,1571.6 404,1571.6 406.4,1571.6 408.9,1571.6 411.4,1571.6 413.8,1571.6 416.3,1571.6 418.8,1571.6 421.2,1571.5 423.7,1571.4 426.1,1571.2 428.6,1571 431.1,1570.7 433.5,1570.4 436,1570.1 438.5,1569.7 440.9,1569.4 443.4,1569 445.8,1568.7 448.3,1568.3 450.8,1567.9 453.2,1567.4 455.7,1566.7 458.2,1566 460.6,1565 463.1,1564 465.5,1562.8 468,1561.4 470.5,1559.9 472.9,1558.3 475.4,1556.7 477.9,1555.2 480.3,1553.5 482.8,1551.5 485.2,1548.9 487.7,1545.6 490.2,1541.3 492.6,1536.2 495.1,1530.7 497.6,1525.4 500,1520.7 502.5,1517.1 504.9,1514.5 507.4,1512.6 509.9,1511.2 512.3,1509.9 514.8,1508.6 517.3,1507.2 519.7,1505.5 522.2,1503.9 524.7,1502.4 527.1,1501 529.6,1499.7 532,1498.6 534.5,1497.8 537,1497.5 539.4,1497.6 541.9,1498.3 544.4,1499.7 546.8,1501.8 549.3,1504.6 551.7,1508.3 554.2,1512.6 556.7,1516.7 559.1,1520.3 561.6,1524.3 564.1,1529.5 566.5,1535.6 569,1541.7 571.4,1547.1 573.9,1551.6 576.4,1555.5 578.8,1558.5 581.3,1560.5 583.8,1561.7 586.2,1562.4 588.7,1562.8 591.1,1563.2 593.6,1563.5 596.1,1563.7 598.5,1564 601,1564.3 603.5,1564.7 605.9,1565.2 608.4,1565.8 610.8,1566.4 613.3,1567.1 615.8,1567.6 618.2,1568.1 620.7,1568.6 623.2,1569 625.6,1569.4 628.1,1569.8 630.6,1570.1 633,1570.4 635.5,1570.6 637.9,1570.9 640.4,1571 642.9,1571.1 645.3,1571.2 647.8,1571.3 650.3,1571.4 652.7,1571.5 655.2,1571.5 657.6,1571.6 660.1,1571.6 662.6,1571.6 665,1571.6 667.5,1571.6 670,1571.6 672.4,1571.6 674.9,1571.6 677.3,1571.6 679.8,1571.6 682.3,1571.6 684.7,1571.6 687.2,1571.6 689.7,1571.6 692.1,1571.6 694.6,1571.6 697,1571.6 699.5,1571.6 702,1571.6 704.4,1571.6 706.9,1571.6 709.4,1571.6 711.8,1571.6 714.3,1571.6 716.7,1571.6 719.2,1571.6 721.7,1571.6 724.1,1571.6 726.6,1571.6 729.1,1571.6 731.5,1571.6 734,1571.6 736.5,1571.6 738.9,1571.6 741.4,1571.6 743.8,1571.6 746.3,1571.6 748.8,1571.6 751.2,1571.6 753.7,1571.6 756.2,1571.6 758.6,1571.6 761.1,1571.6 L761.1,1571.6 Z" fill="#00BA38" fill-opacity="0.5" stroke="none"/>
<path d="M145.4,1571.6 L145.4,1571.6 147.8,1571.6 150.3,1571.6 152.8,1571.6 155.2,1571.6 157.7,1571.6 160.2,1571.6 162.6,1571.6 165.1,1571.6 167.5,1571.6 170,1571.6 172.5,1571.6 174.9,1571.6 177.4,1571.6 179.9,1571.6 182.3,1571.6 184.8,1571.6 187.2,1571.6 189.7,1571.6 192.2,1571.6 194.6,1571.6 197.1,1571.6 199.6,1571.6 202,1571.6 204.5,1571.6 206.9,1571.6 209.4,1571.6 211.9,1571.6 214.3,1571.6 216.8,1571.6 219.3,1571.6 221.7,1571.6 224.2,1571.6 226.7,1571.6 229.1,1571.6 231.6,1571.6 234,1571.6 236.5,1571.6 239,1571.6 241.4,1571.6 243.9,1571.6 246.4,1571.6 248.8,1571.6 251.3,1571.6 253.7,1571.6 256.2,1571.6 258.7,1571.6 261.1,1571.6 263.6,1571.6 266.1,1571.6 268.5,1571.6 271,1571.6 273.4,1571.6 275.9,1571.6 278.4,1571.6 280.8,1571.6 283.3,1571.6 285.8,1571.6 288.2,1571.6 290.7,1571.6 293.1,1571.6 295.6,1571.6 298.1,1571.6 300.5,1571.6 303,1571.6 305.5,1571.6 307.9,1571.6 310.4,1571.6 312.9,1571.6 315.3,1571.6 317.8,1571.6 320.2,1571.6 322.7,1571.6 325.2,1571.6 327.6,1571.6 330.1,1571.6 332.6,1571.6 335,1571.6 337.5,1571.6 339.9,1571.6 342.4,1571.6 344.9,1571.6 347.3,1571.6 349.8,1571.6 352.3,1571.6 354.7,1571.6 357.2,1571.6 359.6,1571.6 362.1,1571.6 364.6,1571.6 367,1571.6 369.5,1571.6 372,1571.6 374.4,1571.6 376.9,1571.6 379.3,1571.6 381.8,1571.6 384.3,1571.6 386.7,1571.6 389.2,1571.6 391.7,1571.6 394.1,1571.6 396.6,1571.6 399,1571.6 401.5,1571.6 404,1571.6 406.4,1571.6 408.9,1571.6 411.4,1571.6 413.8,1571.6 416.3,1571.6 418.8,1571.6 421.2,1571.6 423.7,1571.6 426.1,1571.6 428.6,1571.6 431.1,1571.6 433.5,1571.6 436,1571.6 438.5,1571.6 440.9,1571.6 443.4,1571.6 445.8,1571.6 448.3,1571.6 450.8,1571.6 453.2,1571.6 455.7,1571.6 458.2,1571.6 460.6,1571.6 463.1,1571.6 465.5,1571.6 468,1571.6 470.5,1571.6 472.9,1571.5 475.4,1571.5 477.9,1571.3 480.3,1571.1 482.8,1570.9 485.2,1570.6 487.7,1570.3 490.2,1569.9 492.6,1569.4 495.1,1568.7 497.6,1567.5 500,1565.8 502.5,1563.9 504.9,1562 507.4,1560.3 509.9,1558.7 512.3,1557.3 514.8,1556 517.3,1555.1 519.7,1554.3 522.2,1553.6 524.7,1552.8 527.1,1551.8 529.6,1550.6 532,1549.1 534.5,1547.5 537,1545.6 539.4,1543.5 541.9,1540.9 544.4,1538 546.8,1534.5 549.3,1530.4 551.7,1525.7 554.2,1520.6 556.7,1515.4 559.1,1510.2 561.6,1504.7 564.1,1498.6 566.5,1492.5 569,1487.2 571.4,1483.4 573.9,1481.3 576.4,1480.6 578.8,1481.6 581.3,1484.2 583.8,1488.4 586.2,1494.1 588.7,1500.7 591.1,1507.1 593.6,1512.7 596.1,1517.6 598.5,1522.1 601,1526 603.5,1529.3 605.9,1532 608.4,1534.5 610.8,1536.8 613.3,1539.4 615.8,1542.1 618.2,1545 620.7,1548 623.2,1551.2 625.6,1554.5 628.1,1557.9 630.6,1561.1 633,1563.7 635.5,1565.7 637.9,1567.2 640.4,1568.4 642.9,1569.2 645.3,1569.6 647.8,1569.9 650.3,1570 652.7,1570 655.2,1569.8 657.6,1569.6 660.1,1569.3 662.6,1569 665,1568.7 667.5,1568.4 670,1568.2 672.4,1568 674.9,1567.9 677.3,1567.9 679.8,1568 682.3,1568.2 684.7,1568.4 687.2,1568.7 689.7,1569 692.1,1569.4 694.6,1569.7 697,1570 699.5,1570.3 702,1570.6 704.4,1570.8 706.9,1571 709.4,1571.2 711.8,1571.3 714.3,1571.4 716.7,1571.5 719.2,1571.5 721.7,1571.5 724.1,1571.6 726.6,1571.6 729.1,1571.6 731.5,1571.6 734,1571.6 736.5,1571.6 738.9,1571.6 741.4,1571.6 743.8,1571.6 746.3,1571.6 748.8,1571.6 751.2,1571.6 753.7,1571.6 756.2,1571.6 758.6,1571.6 761.1,1571.6 L761.1,1571.6 Z" fill="#619CFF" fill-opacity="0.5" stroke="none"/>
<path d="M145.4,1571.6 L145.4,1570.5 147.8,1570.3 150.3,1570.1 152.8,1569.9 155.2,1569.6 157.7,1569.4 160.2,1569.1 162.6,1568.9 165.1,1568.6 167.5,1568.3 170,1568.1 172.5,1567.9 174.9,1567.7 177.4,1567.5 179.9,1567.4 182.3,1567.3 184.8,1567.3 187.2,1567.3 189.7,1567.3 192.2,1567.4 194.6,1567.5 197.1,1567.7 199.6,1567.9 202,1568.1 204.5,1568.3 206.9,1568.6 209.4,1568.9 211.9,1569.1 214.3,1569.4 216.8,1569.6 219.3,1569.9 221.7,1570.1 224.2,1570.3 226.7,1570.5 229.1,1570.7 231.6,1570.8 234,1571 236.5,1571.1 239,1571.2 241.4,1571.3 243.9,1571.3 246.4,1571.4 248.8,1571.4 251.3,1571.5 253.7,1571.5 256.2,1571.5 258.7,1571.5 261.1,1571.6 263.6,1571.6 266.1,1571.6 268.5,1571.6 271,1571.6 273.4,1571.6 275.9,1571.6 278.4,1571.6 280.8,1571.6 283.3,1571.6 285.8,1571.6 288.2,1571.6 290.7,1571.6 293.1,1571.6 295.6,1571.6 298.1,1571.6 300.5,1571.6 303,1571.6 305.5,1571.6 307.9,1571.6 310.4,1571.6 312.9,1571.6 315.3,1571.6 317.8,1571.6 320.2,1571.6 322.7,1571.6 325.2,1571.6 327.6,1571.6 330.1,1571.6 332.6,1571.6 335,1571.6 337.5,1571.6 339.9,1571.6 342.4,1571.6 344.9,1571.6 347.3,1571.6 349.8,1571.6 352.3,1571.6 354.7,1571.6 357.2,1571.6 359.6,1571.6 362.1,1571.6 364.6,1571.5 367,1571.5 369.5,1571.3 372,1571.2 374.4,1571 376.9,1570.8 379.3,1570.6 381.8,1570.4 384.3,1570.2 386.7,1569.8 389.2,1569.5 391.7,1569.1 394.1,1568.7 396.6,1568.3 399,1567.8 401.5,1567.4 404,1567 406.4,1566.6 408.9,1566.2 411.4,1565.7 413.8,1565.2 416.3,1564.7 418.8,1564.1 421.2,1563.4 423.7,1562.6 426.1,1561.6 428.6,1560.5 431.1,1559.1 433.5,1557.6 436,1555.8 438.5,1553.8 440.9,1551.8 443.4,1549.8 445.8,1547.8 448.3,1545.8 450.8,1543.9 453.2,1541.9 455.7,1539.8 458.2,1537.8 460.6,1535.8 463.1,1534.1 465.5,1532.5 468,1531 470.5,1529.7 472.9,1528.5 475.4,1527.4 477.9,1526.3 480.3,1525.3 482.8,1524.4 485.2,1523.5 487.7,1522.7 490.2,1522 492.6,1521.3 495.1,1520.7 497.6,1520.2 500,1519.7 502.5,1519.4 504.9,1519.3 507.4,1519.4 509.9,1519.8 512.3,1520.4 514.8,1521.1 517.3,1522.2 519.7,1523.7 522.2,1525.5 524.7,1527.5 527.1,1529.7 529.6,1532 532,1534.4 534.5,1536.4 537,1537.9 539.4,1539.3 541.9,1541.5 544.4,1544.2 546.8,1546.1 549.3,1546.6 551.7,1546.9 554.2,1547.9 556.7,1549.4 559.1,1551.2 561.6,1552.8 564.1,1554.3 566.5,1555.7 569,1557 571.4,1558.1 573.9,1559.1 576.4,1560 578.8,1560.9 581.3,1561.7 583.8,1562.6 586.2,1563.4 588.7,1564.3 591.1,1565.1 593.6,1565.9 596.1,1566.7 598.5,1567.5 601,1568.2 603.5,1568.8 605.9,1569.4 608.4,1569.9 610.8,1570.3 613.3,1570.6 615.8,1570.8 618.2,1571 620.7,1571.1 623.2,1571.2 625.6,1571.3 628.1,1571.4 630.6,1571.4 633,1571.4 635.5,1571.5 637.9,1571.5 640.4,1571.5 642.9,1571.6 645.3,1571.6 647.8,1571.6 650.3,1571.6 652.7,1571.6 655.2,1571.6 657.6,1571.6 660.1,1571.6 662.6,1571.6 665,1571.6 667.5,1571.6 670,1571.6 672.4,1571.6 674.9,1571.6 677.3,1571.6 679.8,1571.6 682.3,1571.6 684.7,1571.6 687.2,1571.6 689.7,1571.6 692.1,1571.6 694.6,1571.6 697,1571.6 699.5,1571.6 702,1571.6 704.4,1571.6 706.9,1571.6 709.4,1571.6 711.8,1571.6 714.3,1571.6 716.7,1571.6 719.2,1571.6 721.7,1571.6 724.1,1571.6 726.6,1571.6 729.1,1571.6 731.5,1571.6 734,1571.6 736.5,1571.6 738.9,1571.6 741.4,1571.6 743.8,1571.6 746.3,1571.6 748.8,1571.6 751.2,1571.6 753.7,1571.6 756.2,1571.6 758.6,1571.6 761.1,1571.6 L761.1,1571.6 Z" fill="#F8766D" fill-opacity="0.5" stroke="none"/>
<path d="M145.4,1571.6 L147.8,1571.6 L150.3,1571.6 L152.8,1571.6 L155.2,1571.6 L157.7,1571.6 L160.2,1571.6 L162.6,1571.6 L165.1,1571.6 L167.5,1571.6 L170,1571.6 L172.5,1571.6 L174.9,1571.6 L177.4,1571.6 L179.9,1571.6 L182.3,1571.6 L184.8,1571.6 L187.2,1571.6 L189.7,1571.6 L192.2,1571.6 L194.6,1571.6 L197.1,1571.6 L199.6,1571.6 L202,1571.6 L204.5,1571.6 L206.9,1571.6 L209.4,1571.6 L211.9,1571.6 L214.3,1571.6 L216.8,1571.6 L219.3,1571.6 L221.7,1571.6 L224.2,1571.6 L226.7,1571.6 L229.1,1571.6 L231.6,1571.6 L234,1571.6 L236.5,1571.6 L239,1571.6 L241.4,1571.6 L243.9,1571.6 L246.4,1571.6 L248.8,1571.6 L251.3,1571.6 L253.7,1571.6 L256.2,1571.6 L258.7,1571.6 L261.1,1571.6 L263.6,1571.6 L266.1,1571.6 L268.5,1571.6 L271,1571.6 L273.4,1571.6 L275.9,1571.6 L278.4,1571.6 L280.8,1571.6 L283.3,1571.6 L285.8,1571.6 L288.2,1571.6 L290.7,1571.6 L293.1,1571.6 L295.6,1571.6 L298.1,1571.6 L300.5,1571.6 L303,1571.6 L305.5,1571.6 L307.9,1571.6 L310.4,1571.6 L312.9,1571.6 L315.3,1571.6 L317.8,1571.6 L320.2,1571.6 L322.7,1571.6 L325.2,1571.6 L327.6,1571.6 L330.1,1571.6 L332.6,1571.6 L335,1571.6 L337.5,1571.6 L339.9,1571.6 L342.4,1571.6 L344.9,1571.6 L347.3,1571.6 L349.8,1571.6 L352.3,1571.6 L354.7,1571.6 L357.2,1571.6 L359.6,1571.6 L362.1,1571.6 L364.6,1571.6 L367,1571.6 L369.5,1571.6 L372,1571.6 L374.4,1571.6 L376.9,1571.6 L379.3,1571.6 L381.8,1571.6 L384.3,1571.6 L386.7,1571.6 L389.2,1571.6 L391.7,1571.6 L394.1,1571.6 L396.6,1571.6 L399,1571.6 L401.5,1571.6 L404,1571.6 L406.4,1571.6 L408.9,1571.6 L411.4,1571.6 L413.8,1571.6 L416.3,1571.6 L418.8,1571.6 L421.2,1571.5 L423.7,1571.4 L426.1,1571.2 L428.6,1571 L431.1,1570.7 L433.5,1570.4 L436,1570.1 L438.5,1569.7 L440.9,1569.4 L443.4,1569 L445.8,1568.7 L448.3,1568.3 L450.8,1567.9 L453.2,1567.4 L455.7,1566.7 L458.2,1566 L460.6,1565 L463.1,1564 L465.5,1562.8 L468,1561.4 L470.5,1559.9 L472.9,1558.3 L475.4,1556.7 L477.9,1555.2 L480.3,1553.5 L482.8,1551.5 L485.2,1548.9 L487.7,1545.6 L490.2,1541.3 L492.6,1536.2 L495.1,1530.7 L497.6,1525.4 L500,1520.7 L502.5,1517.1 L504.9,1514.5 L507.4,1512.6 L509.9,1511.2 L512.3,1509.9 L514.8,1508.6 L517.3,1507.2 L519.7,1505.5 L522.2,1503.9 L524.7,1502.4 L527.1,1501 L529.6,1499.7 L532,1498.6 L534.5,1497.8 L537,1497.5 L539.4,1497.6 L541.9,1498.3 L544.4,1499.7 L546.8,1501.8 L549.3,1504.6 L551.7,1508.3 L554.2,1512.6 L556.7,1516.7 L559.1,1520.3 L561.6,1524.3 L564.1,1529.5 L566.5,1535.6 L569,1541.7 L571.4,1547.1 L573.9,1551.6 L576.4,1555.5 L578.8,1558.5 L581.3,1560.5 L583.8,1561.7 L586.2,1562.4 L588.7,1562.8 L591.1,1563.2 L593.6,1563.5 L596.1,1563.7 L598.5,1564 L601,1564.3 L603.5,1564.7 L605.9,1565.2 L608.4,1565.8 L610.8,1566.4 L613.3,1567.1 L615.8,1567.6 L618.2,1568.1 L620.7,1568.6 L623.2,1569 L625.6,1569.4 L628.1,1569.8 L630.6,1570.1 L633,1570.4 L635.5,1570.6 L637.9,1570.9 L640.4,1571 L642.9,1571.1 L645.3,1571.2 L647.8,1571.3 L650.3,1571.4 L652.7,1571.5 L655.2,1571.5 L657.6,1571.6 L660.1,1571.6 L662.6,1571.6 L665,1571.6 L667.5,1571.6 L670,1571.6 L672.4,1571.6 L674.9,1571.6 L677.3,1571.6 L679.8,1571.6 L682.3,1571.6 L684.7,1571.6 L687.2,1571.6 L689.7,1571.6 L692.1,1571.6 L694.6,1571.6 L697,1571.6 L699.5,1571.6 L702,1571.6 L704.4,1571.6 L706.9,1571.6 L709.4,1571.6 L711.8,1571.6 L714.3,1571.6 L716.7,1571.6 L719.2,1571.6 L721.7,1571.6 L724.1,1571.6 L726.6,1571.6 L729.1,1571.6 L731.5,1571.6 L734,1571.6 L736.5,1571.6 L738.9,1571.6 L741.4,1571.6 L743.8,1571.6 L746.3,1571.6 L748.8,1571.6 L751.2,1571.6 L753.7,1571.6 L756.2,1571.6 L758.6,1571.6 L761.1,1571.6" fill="none" stroke="#00BA38" stroke-width="3.4" stroke-linejoin="round"/>
<path d="M145.4,1571.6 L147.8,1571.6 L150.3,1571.6 L152.8,1571.6 L155.2,1571.6 L157.7,1571.6 L160.2,1571.6 L162.6,1571.6 L165.1,1571.6 L167.5,1571.6 L170,1571.6 L172.5,1571.6 L174.9,1571.6 L177.4,1571.6 L179.9,1571.6 L182.3,1571.6 L184.8,1571.6 L187.2,1571.6 L189.7,1571.6 L192.2,1571.6 L194.6,1571.6 L197.1,1571.6 L199.6,1571.6 L202,1571.6 L204.5,1571.6 L206.9,1571.6 L209.4,1571.6 L211.9,1571.6 L214.3,1571.6 L216.8,1571.6 L219.3,1571.6 L221.7,1571.6 L224.2,1571.6 L226.7,1571.6 L229.1,1571.6 L231.6,1571.6 L234,1571.6 L236.5,1571.6 L239,1571.6 L241.4,1571.6 L243.9,1571.6 L246.4,1571.6 L248.8,1571.6 L251.3,1571.6 L253.7,1571.6 L256.2,1571.6 L258.7,1571.6 L261.1,1571.6 L263.6,1571.6 L266.1,1571.6 L268.5,1571.6 L271,1571.6 L273.4,1571.6 L275.9,1571.6 L278.4,1571.6 L280.8,1571.6 L283.3,1571.6 L285.8,1571.6 L288.2,1571.6 L290.7,1571.6 L293.1,1571.6 L295.6,1571.6 L298.1,1571.6 L300.5,1571.6 L303,1571.6 L305.5,1571.6 L307.9,1571.6 L310.4,1571.6 L312.9,1571.6 L315.3,1571.6 L317.8,1571.6 L320.2,1571.6 L322.7,1571.6 L325.2,1571.6 L327.6,1571.6 L330.1,1571.6 L332.6,1571.6 L335,1571.6 L337.5,1571.6 L339.9,1571.6 L342.4,1571.6 L344.9,1571.6 L347.3,1571.6 L349.8,1571.6 L352.3,1571.6 L354.7,1571.6 L357.2,1571.6 L359.6,1571.6 L362.1,1571.6 L364.6,1571.6 L367,1571.6 L369.5,1571.6 L372,1571.6 L374.4,1571.6 L376.9,1571.6 L379.3,1571.6 L381.8,1571.6 L384.3,1571.6 L386.7,1571.6 L389.2,1571.6 L391.7,1571.6 L394.1,1571.6 L396.6,1571.6 L399,1571.6 L401.5,1571.6 L404,1571.6 L406.4,1571.6 L408.9,1571.6 L411.4,1571.6 L413.8,1571.6 L416.3,1571.6 L418.8,1571.6 L421.2,1571.6 L423.7,1571.6 L426.1,1571.6 L428.6,1571.6 L431.1,1571.6 L433.5,1571.6 L436,1571.6 L438.5,1571.6 L440.9,1571.6 L443.4,1571.6 L445.8,1571.6 L448.3,1571.6 L450.8,1571.6 L453.2,1571.6 L455.7,1571.6 L458.2,1571.6 L460.6,1571.6 L463.1,1571.6 L465.5,1571.6 L468,1571.6 L470.5,1571.6 L472.9,1571.5 L475.4,1571.5 L477.9,1571.3 L480.3,1571.1 L482.8,1570.9 L485.2,1570.6 L487.7,1570.3 L490.2,1569.9 L492.6,1569.4 L495.1,1568.7 L497.6,1567.5 L500,1565.8 L502.5,1563.9 L504.9,1562 L507.4,1560.3 L509.9,1558.7 L512.3,1557.3 L514.8,1556 L517.3,1555.1 L519.7,1554.3 L522.2,1553.6 L524.7,1552.8 L527.1,1551.8 L529.6,1550.6 L532,1549.1 L534.5,1547.5 L537,1545.6 L539.4,1543.5 L541.9,1540.9 L544.4,1538 L546.8,1534.5 L549.3,1530.4 L551.7,1525.7 L554.2,1520.6 L556.7,1515.4 L559.1,1510.2 L561.6,1504.7 L564.1,1498.6 L566.5,1492.5 L569,1487.2 L571.4,1483.4 L573.9,1481.3 L576.4,1480.6 L578.8,1481.6 L581.3,1484.2 L583.8,1488.4 L586.2,1494.1 L588.7,1500.7 L591.1,1507.1 L593.6,1512.7 L596.1,1517.6 L598.5,1522.1 L601,1526 L603.5,1529.3 L605.9,1532 L608.4,1534.5 L610.8,1536.8 L613.3,1539.4 L615.8,1542.1 L618.2,1545 L620.7,1548 L623.2,1551.2 L625.6,1554.5 L628.1,1557.9 L630.6,1561.1 L633,1563.7 L635.5,1565.7 L637.9,1567.2 L640.4,1568.4 L642.9,1569.2 L645.3,1569.6 L647.8,1569.9 L650.3,1570 L652.7,1570 L655.2,1569.8 L657.6,1569.6 L660.1,1569.3 L662.6,1569 L665,1568.7 L667.5,1568.4 L670,1568.2 L672.4,1568 L674.9,1567.9 L677.3,1567.9 L679.8,1568 L682.3,1568.2 L684.7,1568.4 L687.2,1568.7 L689.7,1569 L692.1,1569.4 L694.6,1569.7 L697,1570 L699.5,1570.3 L702,1570.6 L704.4,1570.8 L706.9,1571 L709.4,1571.2 L711.8,1571.3 L714.3,1571.4 L716.7,1571.5 L719.2,1571.5 L721.7,1571.5 L724.1,1571.6 L726.6,1571.6 L729.1,1571.6 L731.5,1571.6 L734,1571.6 L736.5,1571.6 L738.9,1571.6 L741.4,1571.6 L743.8,1571.6 L746.3,1571.6 L748.8,1571.6 L751.2,1571.6 L753.7,1571.6 L756.2,1571.6 L758.6,1571.6 L761.1,1571.6" fill="none" stroke="#619CFF" stroke-width="3.4" stroke-linejoin="round"/>
<path d="M145.4,1570.5 L147.8,1570.3 L150.3,1570.1 L152.8,1569.9 L155.2,1569.6 L157.7,1569.4 L160.2,1569.1 L162.6,1568.9 L165.1,1568.6 L167.5,1568.3 L170,1568.1 L172.5,1567.9 L174.9,1567.7 L177.4,1567.5 L179.9,1567.4 L182.3,1567.3 L184.8,1567.3 L187.2,1567.3 L189.7,1567.3 L192.2,1567.4 L194.6,1567.5 L197.1,1567.7 L199.6,1567.9 L202,1568.1 L204.5,1568.3 L206.9,1568.6 L209.4,1568.9 L211.9,1569.1 L214.3,1569.4 L216.8,1569.6 L219.3,1569.9 L221.7,1570.1 L224.2,1570.3 L226.7,1570.5 L229.1,1570.7 L231.6,1570.8 L234,1571 L236.5,1571.1 L239,1571.2 L241.4,1571.3 L243.9,1571.3 L246.4,1571.4 L248.8,1571.4 L251.3,1571.5 L253.7,1571.5 L256.2,1571.5 L258.7,1571.5 L261.1,1571.6 L263.6,1571.6 L266.1,1571.6 L268.5,1571.6 L271,1571.6 L273.4,1571.6 L275.9,1571.6 L278.4,1571.6 L280.8,1571.6 L283.3,1571.6 L285.8,1571.6 L288.2,1571.6 L290.7,1571.6 L293.1,1571.6 L295.6,1571.6 L298.1,1571.6 L300.5,1571.6 L303,1571.6 L305.5,1571.6 L307.9,1571.6 L310.4,1571.6 L312.9,1571.6 L315.3,1571.6 L317.8,1571.6 L320.2,1571.6 L322.7,1571.6 L325.2,1571.6 L327.6,1571.6 L330.1,1571.6 L332.6,1571.6 L335,1571.6 L337.5,1571.6 L339.9,1571.6 L342.4,1571.6 L344.9,1571.6 L347.3,1571.6 L349.8,1571.6 L352.3,1571.6 L354.7,1571.6 L357.2,1571.6 L359.6,1571.6 L362.1,1571.6 L364.6,1571.5 L367,1571.5 L369.5,1571.3 L372,1571.2 L374.4,1571 L376.9,1570.8 L379.3,1570.6 L381.8,1570.4 L384.3,1570.2 L386.7,1569.8 L389.2,1569.5 L391.7,1569.1 L394.1,1568.7 L396.6,1568.3 L399,1567.8 L401.5,1567.4 L404,1567 L406.4,1566.6 L408.9,1566.2 L411.4,1565.7 L413.8,1565.2 L416.3,1564.7 L418.8,1564.1 L421.2,1563.4 L423.7,1562.6 L426.1,1561.6 L428.6,1560.5 L431.1,1559.1 L433.5,1557.6 L436,1555.8 L438.5,1553.8 L440.9,1551.8 L443.4,1549.8 L445.8,1547.8 L448.3,1545.8 L450.8,1543.9 L453.2,1541.9 L455.7,1539.8 L458.2,1537.8 L460.6,1535.8 L463.1,1534.1 L465.5,1532.5 L468,1531 L470.5,1529.7 L472.9,1528.5 L475.4,1527.4 L477.9,1526.3 L480.3,1525.3 L482.8,1524.4 L485.2,1523.5 L487.7,1522.7 L490.2,1522 L492.6,1521.3 L495.1,1520.7 L497.6,1520.2 L500,1519.7 L502.5,1519.4 L504.9,1519.3 L507.4,1519.4 L509.9,1519.8 L512.3,1520.4 L514.8,1521.1 L517.3,1522.2 L519.7,1523.7 L522.2,1525.5 L524.7,1527.5 L527.1,1529.7 L529.6,1532 L532,1534.4 L534.5,1536.4 L537,1537.9 L539.4,1539.3 L541.9,1541.5 L544.4,1544.2 L546.8,1546.1 L549.3,1546.6 L551.7,1546.9 L554.2,1547.9 L556.7,1549.4 L559.1,1551.2 L561.6,1552.8 L564.1,1554.3 L566.5,1555.7 L569,1557 L571.4,1558.1 L573.9,1559.1 L576.4,1560 L578.8,1560.9 L581.3,1561.7 L583.8,1562.6 L586.2,1563.4 L588.7,1564.3 L591.1,1565.1 L593.6,1565.9 L596.1,1566.7 L598.5,1567.5 L601,1568.2 L603.5,1568.8 L605.9,1569.4 L608.4,1569.9 L610.8,1570.3 L613.3,1570.6 L615.8,1570.8 L618.2,1571 L620.7,1571.1 L623.2,1571.2 L625.6,1571.3 L628.1,1571.4 L630.6,1571.4 L633,1571.4 L635.5,1571.5 L637.9,1571.5 L640.4,1571.5 L642.9,1571.6 L645.3,1571.6 L647.8,1571.6 L650.3,1571.6 L652.7,1571.6 L655.2,1571.6 L657.6,1571.6 L660.1,1571.6 L662.6,1571.6 L665,1571.6 L667.5,1571.6 L670,1571.6 L672.4,1571.6 L674.9,1571.6 L677.3,1571.6 L679.8,1571.6 L682.3,1571.6 L684.7,1571.6 L687.2,1571.6 L689.7,1571.6 L692.1,1571.6 L694.6,1571.6 L697,1571.6 L699.5,1571.6 L702,1571.6 L704.4,1571.6 L706.9,1571.6 L709.4,1571.6 L711.8,1571.6 L714.3,1571.6 L716.7,1571.6 L719.2,1571.6 L721.7,1571.6 L724.1,1571.6 L726.6,1571.6 L729.1,1571.6 L731.5,1571.6 L734,1571.6 L736.5,1571.6 L738.9,1571.6 L741.4,1571.6 L743.8,1571.6 L746.3,1571.6 L748.8,1571.6 L751.2,1571.6 L753.7,1571.6 L756.2,1571.6 L758.6,1571.6 L761.1,1571.6" fill="none" stroke="#F8766D" stroke-width="3.4" stroke-linejoin="round"/>
<path d="M798.2,2057.9 L798.2,2057.9 798.2,2056 798.2,2054.2 798.2,2052.4 798.2,2050.5 798.2,2048.7 798.2,2046.9 798.2,2045 798.2,2043.2 798.2,2041.4 798.2,2039.5 798.2,2037.7 798.2,2035.8 798.2,2034 798.2,2032.2 798.2,2030.3 798.2,2028.5 798.2,2026.7 798.2,2024.8 798.2,2023 798.2,2021.2 798.2,2019.3 798.2,2017.5 798.2,2015.7 798.2,2013.8 798.2,2012 798.2,2010.2 798.2,2008.3 798.2,2006.5 798.2,2004.7 798.2,2002.8 798.2,2001 798.2,1999.2 798.2,1997.3 798.2,1995.5 798.2,1993.7 798.2,1991.8 798.2,1990 798.2,1988.2 798.2,1986.3 798.2,1984.5 798.2,1982.6 798.2,1980.8 798.2,1979 798.2,1977.1 798.2,1975.3 798.2,1973.5 798.2,1971.6 798.2,1969.8 798.2,1968 798.2,1966.1 798.2,1964.3 798.2,1962.5 798.2,1960.6 798.2,1958.8 798.2,1957 798.2,1955.1 798.2,1953.3 798.2,1951.5 798.2,1949.6 798.2,1947.8 798.2,1946 798.2,1944.1 798.2,1942.3 798.2,1940.5 798.2,1938.6 798.2,1936.8 798.2,1935 798.2,1933.1 798.2,1931.3 798.2,1929.5 798.2,1927.6 798.2,1925.8 798.2,1923.9 798.2,1922.1 798.2,1920.3 798.2,1918.4 798.2,1916.6 798.2,1914.8 798.2,1912.9 798.2,1911.1 798.2,1909.3 798.2,1907.4 798.2,1905.6 798.2,1903.8 798.2,1901.9 798.2,1900.1 798.2,1898.3 798.2,1896.4 798.2,1894.6 798.2,1892.8 798.2,1890.9 798.2,1889.1 798.2,1887.3 798.2,1885.4 798.2,1883.6 798.2,1881.8 798.2,1879.9 798.2,1878.1 798.2,1876.3 798.2,1874.4 798.2,1872.6 798.2,1870.8 798.2,1868.9 798.2,1867.1 798.2,1865.2 798.2,1863.4 798.2,1861.6 798.2,1859.7 798.2,1857.9 798.2,1856.1 798.2,1854.2 798.2,1852.4 798.2,1850.6 798.2,1848.7 798.2,1846.9 798.2,1845.1 798.3,1843.2 798.4,1841.4 798.5,1839.6 798.6,1837.7 798.9,1835.9 799.2,1834.1 799.7,1832.2 800.2,1830.4 800.8,1828.6 801.6,1826.7 802.5,1824.9 803.6,1823.1 804.9,1821.2 806.6,1819.4 808.8,1817.6 811.3,1815.7 814.2,1813.9 817.2,1812.1 820.6,1810.2 824.2,1808.4 828,1806.5 832,1804.7 836,1802.9 840.1,1801 844.3,1799.2 848.5,1797.4 852.5,1795.5 856.3,1793.7 860,1791.9 863.5,1790 866.7,1788.2 869.9,1786.4 875,1784.5 883.6,1782.7 894.8,1780.9 905.7,1779 912.9,1777.2 917.1,1775.4 920.4,1773.5 921.6,1771.7 919.8,1769.9 915.8,1768 910.1,1766.2 903.2,1764.4 895.7,1762.5 888.6,1760.7 882.5,1758.9 877.8,1757 874,1755.2 870.5,1753.3 866.9,1751.5 862.9,1749.7 858.5,1747.8 853.5,1746 848.1,1744.2 842.2,1742.3 835.7,1740.5 829.4,1738.7 824.1,1736.8 819.9,1735 816.7,1733.2 814.2,1731.3 812,1729.5 810.2,1727.7 808.7,1725.8 807.5,1724 806.6,1722.2 805.8,1720.3 805.1,1718.5 804.5,1716.7 803.9,1714.8 803.5,1713 803.1,1711.2 802.6,1709.3 802.2,1707.5 801.7,1705.7 801.1,1703.8 800.5,1702 799.8,1700.2 799.2,1698.3 798.8,1696.5 798.4,1694.6 798.3,1692.8 798.2,1691 798.2,1689.1 798.2,1687.3 798.2,1685.5 798.2,1683.6 798.2,1681.8 798.2,1680 798.2,1678.1 798.2,1676.3 798.2,1674.5 798.2,1672.6 798.2,1670.8 798.2,1669 798.2,1667.1 798.2,1665.3 798.2,1663.5 798.2,1661.6 798.2,1659.8 798.2,1658 798.2,1656.1 798.2,1654.3 798.2,1652.5 798.2,1650.6 798.2,1648.8 798.2,1647 798.2,1645.1 798.2,1643.3 798.2,1641.5 798.2,1639.6 798.2,1637.8 798.2,1635.9 798.2,1634.1 798.2,1632.3 798.2,1630.4 798.2,1628.6 798.2,1626.8 798.2,1624.9 798.2,1623.1 798.2,1621.3 798.2,1619.4 798.2,1617.6 798.2,1615.8 798.2,1613.9 798.2,1612.1 798.2,1610.3 798.2,1608.4 798.2,1606.6 798.2,1604.8 798.2,1602.9 798.2,1601.1 798.2,1599.3 L798.2,1599.3 Z" fill="#00BA38" fill-opacity="0.5" stroke="none"/>
<path d="M798.2,2057.9 L798.2,2057.9 798.2,2056 798.2,2054.2 798.2,2052.4 798.2,2050.5 798.2,2048.7 798.2,2046.9 798.2,2045 798.2,2043.2 798.2,2041.4 798.2,2039.5 798.2,2037.7 798.2,2035.8 798.2,2034 798.2,2032.2 798.2,2030.3 798.2,2028.5 798.2,2026.7 798.2,2024.8 798.2,2023 798.2,2021.2 798.2,2019.3 798.2,2017.5 798.2,2015.7 798.2,2013.8 798.2,2012 798.2,2010.2 798.2,2008.3 798.2,2006.5 798.2,2004.7 798.2,2002.8 798.2,2001 798.2,1999.2 798.2,1997.3 798.2,1995.5 798.2,1993.7 798.2,1991.8 798.2,1990 798.2,1988.2 798.2,1986.3 798.2,1984.5 798.2,1982.6 798.2,1980.8 798.2,1979 798.2,1977.1 798.2,1975.3 798.2,1973.5 798.2,1971.6 798.2,1969.8 798.2,1968 798.2,1966.1 798.2,1964.3 798.2,1962.5 798.2,1960.6 798.2,1958.8 798.2,1957 798.2,1955.1 798.2,1953.3 798.2,1951.5 798.2,1949.6 798.2,1947.8 798.2,1946 798.2,1944.1 798.2,1942.3 798.2,1940.5 798.2,1938.6 798.2,1936.8 798.2,1935 798.2,1933.1 798.2,1931.3 798.2,1929.5 798.2,1927.6 798.2,1925.8 798.2,1923.9 798.2,1922.1 798.2,1920.3 798.2,1918.4 798.2,1916.6 798.2,1914.8 798.2,1912.9 798.2,1911.1 798.2,1909.3 798.2,1907.4 798.2,1905.6 798.2,1903.8 798.2,1901.9 798.2,1900.1 798.2,1898.3 798.2,1896.4 798.2,1894.6 798.2,1892.8 798.2,1890.9 798.2,1889.1 798.2,1887.3 798.2,1885.4 798.2,1883.6 798.2,1881.8 798.2,1879.9 798.2,1878.1 798.2,1876.3 798.2,1874.4 798.2,1872.6 798.2,1870.8 798.2,1868.9 798.2,1867.1 798.2,1865.2 798.2,1863.4 798.2,1861.6 798.2,1859.7 798.2,1857.9 798.2,1856.1 798.2,1854.2 798.2,1852.4 798.2,1850.6 798.2,1848.7 798.2,1846.9 798.2,1845.1 798.2,1843.2 798.2,1841.4 798.2,1839.6 798.2,1837.7 798.2,1835.9 798.2,1834.1 798.2,1832.2 798.2,1830.4 798.2,1828.6 798.2,1826.7 798.2,1824.9 798.2,1823.1 798.2,1821.2 798.2,1819.4 798.2,1817.6 798.2,1815.7 798.2,1813.9 798.2,1812.1 798.3,1810.2 798.3,1808.4 798.4,1806.5 798.6,1804.7 798.8,1802.9 799.1,1801 799.6,1799.2 800.3,1797.4 801.2,1795.5 802.4,1793.7 804.1,1791.9 806.3,1790 809,1788.2 812.3,1786.4 815.6,1784.5 818.5,1782.7 820.9,1780.9 822.8,1779 824.6,1777.2 826.1,1775.4 827.3,1773.5 828.5,1771.7 829.9,1769.9 831.7,1768 834.2,1766.2 837.6,1764.4 842,1762.5 847.3,1760.7 853,1758.9 858.7,1757 864.3,1755.2 870,1753.3 875.5,1751.5 881.1,1749.7 886.8,1747.8 892.3,1746 897.4,1744.2 902.1,1742.3 906.1,1740.5 909.3,1738.7 910.9,1736.8 910.8,1735 909.2,1733.2 906.1,1731.3 901.4,1729.5 895.1,1727.7 888,1725.8 881,1724 874.7,1722.2 869,1720.3 863.8,1718.5 859,1716.7 854.6,1714.8 850.7,1713 846.9,1711.2 843.4,1709.3 839.9,1707.5 836.4,1705.7 833,1703.8 829.7,1702 826.3,1700.2 822.9,1698.3 819.4,1696.5 815.8,1694.6 812.4,1692.8 809.4,1691 806.8,1689.1 804.8,1687.3 803.2,1685.5 802,1683.6 801.1,1681.8 800.3,1680 799.8,1678.1 799.5,1676.3 799.3,1674.5 799.3,1672.6 799.5,1670.8 799.9,1669 800.3,1667.1 800.8,1665.3 801.3,1663.5 801.9,1661.6 802.3,1659.8 802.6,1658 802.8,1656.1 802.8,1654.3 802.6,1652.5 802.3,1650.6 801.8,1648.8 801.3,1647 800.7,1645.1 800.2,1643.3 799.7,1641.5 799.3,1639.6 799,1637.8 798.7,1635.9 798.5,1634.1 798.4,1632.3 798.3,1630.4 798.3,1628.6 798.2,1626.8 798.2,1624.9 798.2,1623.1 798.2,1621.3 798.2,1619.4 798.2,1617.6 798.2,1615.8 798.2,1613.9 798.2,1612.1 798.2,1610.3 798.2,1608.4 798.2,1606.6 798.2,1604.8 798.2,1602.9 798.2,1601.1 798.2,1599.3 L798.2,1599.3 Z" fill="#619CFF" fill-opacity="0.5" stroke="none"/>
<path d="M798.2,2057.9 L798.6,2057.9 798.8,2056 798.9,2054.2 799.1,2052.4 799.4,2050.5 799.7,2048.7 800,2046.9 800.3,2045 800.7,2043.2 801.2,2041.4 801.7,2039.5 802.1,2037.7 802.6,2035.8 803.1,2034 803.6,2032.2 804,2030.3 804.4,2028.5 804.7,2026.7 804.9,2024.8 805.1,2023 805.1,2021.2 805.1,2019.3 804.9,2017.5 804.7,2015.7 804.4,2013.8 804,2012 803.6,2010.2 803.1,2008.3 802.6,2006.5 802.1,2004.7 801.7,2002.8 801.2,2001 800.7,1999.2 800.3,1997.3 800,1995.5 799.7,1993.7 799.4,1991.8 799.1,1990 798.9,1988.2 798.8,1986.3 798.6,1984.5 798.5,1982.6 798.4,1980.8 798.4,1979 798.3,1977.1 798.3,1975.3 798.3,1973.5 798.2,1971.6 798.2,1969.8 798.2,1968 798.2,1966.1 798.2,1964.3 798.2,1962.5 798.2,1960.6 798.2,1958.8 798.2,1957 798.2,1955.1 798.2,1953.3 798.2,1951.5 798.2,1949.6 798.2,1947.8 798.2,1946 798.2,1944.1 798.2,1942.3 798.2,1940.5 798.2,1938.6 798.2,1936.8 798.2,1935 798.2,1933.1 798.2,1931.3 798.2,1929.5 798.2,1927.6 798.2,1925.8 798.2,1923.9 798.2,1922.1 798.2,1920.3 798.2,1918.4 798.2,1916.6 798.2,1914.8 798.2,1912.9 798.2,1911.1 798.2,1909.3 798.2,1907.4 798.2,1905.6 798.2,1903.8 798.2,1901.9 798.2,1900.1 798.2,1898.3 798.2,1896.4 798.2,1894.6 798.2,1892.8 798.2,1890.9 798.2,1889.1 798.2,1887.3 798.2,1885.4 798.2,1883.6 798.2,1881.8 798.2,1879.9 798.2,1878.1 798.2,1876.3 798.2,1874.4 798.3,1872.6 798.4,1870.8 798.7,1868.9 799,1867.1 799.4,1865.2 799.9,1863.4 800.5,1861.6 801.2,1859.7 802,1857.9 803,1856.1 804.1,1854.2 805.5,1852.4 807,1850.6 808.7,1848.7 810.4,1846.9 812.1,1845.1 813.8,1843.2 815.7,1841.4 817.8,1839.6 820.2,1837.7 823,1835.9 826.1,1834.1 829.4,1832.2 832.8,1830.4 836.4,1828.6 840,1826.7 843.8,1824.9 847.6,1823.1 851.6,1821.2 855.7,1819.4 860.1,1817.6 864.1,1815.7 867.3,1813.9 869.3,1812.1 870.5,1810.2 871.4,1808.4 872,1806.5 872.3,1804.7 872.3,1802.9 872.1,1801 871.6,1799.2 871.1,1797.4 870.4,1795.5 869.5,1793.7 868.5,1791.9 867.4,1790 866.5,1788.2 866.1,1786.4 865.9,1784.5 865.6,1782.7 864.9,1780.9 863.7,1779 861.6,1777.2 859.1,1775.4 856.7,1773.5 854.6,1771.7 852.4,1769.9 850,1768 847.1,1766.2 843.8,1764.4 840.3,1762.5 836.8,1760.7 833.6,1758.9 830.5,1757 827.6,1755.2 824.8,1753.3 822.3,1751.5 820,1749.7 817.9,1747.8 816,1746 814.2,1744.2 812.5,1742.3 810.8,1740.5 809.2,1738.7 807.7,1736.8 806.3,1735 805,1733.2 803.9,1731.3 802.8,1729.5 801.9,1727.7 801.1,1725.8 800.5,1724 799.9,1722.2 799.4,1720.3 799,1718.5 798.6,1716.7 798.4,1714.8 798.3,1713 798.2,1711.2 798.2,1709.3 798.2,1707.5 798.2,1705.7 798.2,1703.8 798.2,1702 798.2,1700.2 798.2,1698.3 798.2,1696.5 798.2,1694.6 798.2,1692.8 798.2,1691 798.2,1689.1 798.2,1687.3 798.2,1685.5 798.2,1683.6 798.2,1681.8 798.2,1680 798.2,1678.1 798.2,1676.3 798.2,1674.5 798.2,1672.6 798.2,1670.8 798.2,1669 798.2,1667.1 798.2,1665.3 798.2,1663.5 798.2,1661.6 798.2,1659.8 798.2,1658 798.2,1656.1 798.2,1654.3 798.2,1652.5 798.2,1650.6 798.2,1648.8 798.2,1647 798.2,1645.1 798.2,1643.3 798.2,1641.5 798.2,1639.6 798.2,1637.8 798.2,1635.9 798.2,1634.1 798.2,1632.3 798.2,1630.4 798.2,1628.6 798.2,1626.8 798.2,1624.9 798.2,1623.1 798.2,1621.3 798.2,1619.4 798.2,1617.6 798.2,1615.8 798.2,1613.9 798.2,1612.1 798.2,1610.3 798.2,1608.4 798.2,1606.6 798.2,1604.8 798.2,1602.9 798.2,1601.1 798.2,1599.3 L798.2,1599.3 Z" fill="#F8766D" fill-opacity="0.5" stroke="none"/>
<path d="M798.2,2057.9 L798.2,2056 L798.2,2054.2 L798.2,2052.4 L798.2,2050.5 L798.2,2048.7 L798.2,2046.9 L798.2,2045 L798.2,2043.2 L798.2,2041.4 L798.2,2039.5 L798.2,2037.7 L798.2,2035.8 L798.2,2034 L798.2,2032.2 L798.2,2030.3 L798.2,2028.5 L798.2,2026.7 L798.2,2024.8 L798.2,2023 L798.2,2021.2 L798.2,2019.3 L798.2,2017.5 L798.2,2015.7 L798.2,2013.8 L798.2,2012 L798.2,2010.2 L798.2,2008.3 L798.2,2006.5 L798.2,2004.7 L798.2,2002.8 L798.2,2001 L798.2,1999.2 L798.2,1997.3 L798.2,1995.5 L798.2,1993.7 L798.2,1991.8 L798.2,1990 L798.2,1988.2 L798.2,1986.3 L798.2,1984.5 L798.2,1982.6 L798.2,1980.8 L798.2,1979 L798.2,1977.1 L798.2,1975.3 L798.2,1973.5 L798.2,1971.6 L798.2,1969.8 L798.2,1968 L798.2,1966.1 L798.2,1964.3 L798.2,1962.5 L798.2,1960.6 L798.2,1958.8 L798.2,1957 L798.2,1955.1 L798.2,1953.3 L798.2,1951.5 L798.2,1949.6 L798.2,1947.8 L798.2,1946 L798.2,1944.1 L798.2,1942.3 L798.2,1940.5 L798.2,1938.6 L798.2,1936.8 L798.2,1935 L798.2,1933.1 L798.2,1931.3 L798.2,1929.5 L798.2,1927.6 L798.2,1925.8 L798.2,1923.9 L798.2,1922.1 L798.2,1920.3 L798.2,1918.4 L798.2,1916.6 L798.2,1914.8 L798.2,1912.9 L798.2,1911.1 L798.2,1909.3 L798.2,1907.4 L798.2,1905.6 L798.2,1903.8 L798.2,1901.9 L798.2,1900.1 L798.2,1898.3 L798.2,1896.4 L798.2,1894.6 L798.2,1892.8 L798.2,1890.9 L798.2,1889.1 L798.2,1887.3 L798.2,1885.4 L798.2,1883.6 L798.2,1881.8 L798.2,1879.9 L798.2,1878.1 L798.2,1876.3 L798.2,1874.4 L798.2,1872.6 L798.2,1870.8 L798.2,1868.9 L798.2,1867.1 L798.2,1865.2 L798.2,1863.4 L798.2,1861.6 L798.2,1859.7 L798.2,1857.9 L798.2,1856.1 L798.2,1854.2 L798.2,1852.4 L798.2,1850.6 L798.2,1848.7 L798.2,1846.9 L798.2,1845.1 L798.3,1843.2 L798.4,1841.4 L798.5,1839.6 L798.6,1837.7 L798.9,1835.9 L799.2,1834.1 L799.7,1832.2 L800.2,1830.4 L800.8,1828.6 L801.6,1826.7 L802.5,1824.9 L803.6,1823.1 L804.9,1821.2 L806.6,1819.4 L808.8,1817.6 L811.3,1815.7 L814.2,1813.9 L817.2,1812.1 L820.6,1810.2 L824.2,1808.4 L828,1806.5 L832,1804.7 L836,1802.9 L840.1,1801 L844.3,1799.2 L848.5,1797.4 L852.5,1795.5 L856.3,1793.7 L860,1791.9 L863.5,1790 L866.7,1788.2 L869.9,1786.4 L875,1784.5 L883.6,1782.7 L894.8,1780.9 L905.7,1779 L912.9,1777.2 L917.1,1775.4 L920.4,1773.5 L921.6,1771.7 L919.8,1769.9 L915.8,1768 L910.1,1766.2 L903.2,1764.4 L895.7,1762.5 L888.6,1760.7 L882.5,1758.9 L877.8,1757 L874,1755.2 L870.5,1753.3 L866.9,1751.5 L862.9,1749.7 L858.5,1747.8 L853.5,1746 L848.1,1744.2 L842.2,1742.3 L835.7,1740.5 L829.4,1738.7 L824.1,1736.8 L819.9,1735 L816.7,1733.2 L814.2,1731.3 L812,1729.5 L810.2,1727.7 L808.7,1725.8 L807.5,1724 L806.6,1722.2 L805.8,1720.3 L805.1,1718.5 L804.5,1716.7 L803.9,1714.8 L803.5,1713 L803.1,1711.2 L802.6,1709.3 L802.2,1707.5 L801.7,1705.7 L801.1,1703.8 L800.5,1702 L799.8,1700.2 L799.2,1698.3 L798.8,1696.5 L798.4,1694.6 L798.3,1692.8 L798.2,1691 L798.2,1689.1 L798.2,1687.3 L798.2,1685.5 L798.2,1683.6 L798.2,1681.8 L798.2,1680 L798.2,1678.1 L798.2,1676.3 L798.2,1674.5 L798.2,1672.6 L798.2,1670.8 L798.2,1669 L798.2,1667.1 L798.2,1665.3 L798.2,1663.5 L798.2,1661.6 L798.2,1659.8 L798.2,1658 L798.2,1656.1 L798.2,1654.3 L798.2,1652.5 L798.2,1650.6 L798.2,1648.8 L798.2,1647 L798.2,1645.1 L798.2,1643.3 L798.2,1641.5 L798.2,1639.6 L798.2,1637.8 L798.2,1635.9 L798.2,1634.1 L798.2,1632.3 L798.2,1630.4 L798.2,1628.6 L798.2,1626.8 L798.2,1624.9 L798.2,1623.1 L798.2,1621.3 L798.2,1619.4 L798.2,1617.6 L798.2,1615.8 L798.2,1613.9 L798.2,1612.1 L798.2,1610.3 L798.2,1608.4 L798.2,1606.6 L798.2,1604.8 L798.2,1602.9 L798.2,1601.1 L798.2,1599.3" fill="none" stroke="#00BA38" stroke-width="3.4" stroke-linejoin="round"/>
<path d="M798.2,2057.9 L798.2,2056 L798.2,2054.2 L798.2,2052.4 L798.2,2050.5 L798.2,2048.7 L798.2,2046.9 L798.2,2045 L798.2,2043.2 L798.2,2041.4 L798.2,2039.5 L798.2,2037.7 L798.2,2035.8 L798.2,2034 L798.2,2032.2 L798.2,2030.3 L798.2,2028.5 L798.2,2026.7 L798.2,2024.8 L798.2,2023 L798.2,2021.2 L798.2,2019.3 L798.2,2017.5 L798.2,2015.7 L798.2,2013.8 L798.2,2012 L798.2,2010.2 L798.2,2008.3 L798.2,2006.5 L798.2,2004.7 L798.2,2002.8 L798.2,2001 L798.2,1999.2 L798.2,1997.3 L798.2,1995.5 L798.2,1993.7 L798.2,1991.8 L798.2,1990 L798.2,1988.2 L798.2,1986.3 L798.2,1984.5 L798.2,1982.6 L798.2,1980.8 L798.2,1979 L798.2,1977.1 L798.2,1975.3 L798.2,1973.5 L798.2,1971.6 L798.2,1969.8 L798.2,1968 L798.2,1966.1 L798.2,1964.3 L798.2,1962.5 L798.2,1960.6 L798.2,1958.8 L798.2,1957 L798.2,1955.1 L798.2,1953.3 L798.2,1951.5 L798.2,1949.6 L798.2,1947.8 L798.2,1946 L798.2,1944.1 L798.2,1942.3 L798.2,1940.5 L798.2,1938.6 L798.2,1936.8 L798.2,1935 L798.2,1933.1 L798.2,1931.3 L798.2,1929.5 L798.2,1927.6 L798.2,1925.8 L798.2,1923.9 L798.2,1922.1 L798.2,1920.3 L798.2,1918.4 L798.2,1916.6 L798.2,1914.8 L798.2,1912.9 L798.2,1911.1 L798.2,1909.3 L798.2,1907.4 L798.2,1905.6 L798.2,1903.8 L798.2,1901.9 L798.2,1900.1 L798.2,1898.3 L798.2,1896.4 L798.2,1894.6 L798.2,1892.8 L798.2,1890.9 L798.2,1889.1 L798.2,1887.3 L798.2,1885.4 L798.2,1883.6 L798.2,1881.8 L798.2,1879.9 L798.2,1878.1 L798.2,1876.3 L798.2,1874.4 L798.2,1872.6 L798.2,1870.8 L798.2,1868.9 L798.2,1867.1 L798.2,1865.2 L798.2,1863.4 L798.2,1861.6 L798.2,1859.7 L798.2,1857.9 L798.2,1856.1 L798.2,1854.2 L798.2,1852.4 L798.2,1850.6 L798.2,1848.7 L798.2,1846.9 L798.2,1845.1 L798.2,1843.2 L798.2,1841.4 L798.2,1839.6 L798.2,1837.7 L798.2,1835.9 L798.2,1834.1 L798.2,1832.2 L798.2,1830.4 L798.2,1828.6 L798.2,1826.7 L798.2,1824.9 L798.2,1823.1 L798.2,1821.2 L798.2,1819.4 L798.2,1817.6 L798.2,1815.7 L798.2,1813.9 L798.2,1812.1 L798.3,1810.2 L798.3,1808.4 L798.4,1806.5 L798.6,1804.7 L798.8,1802.9 L799.1,1801 L799.6,1799.2 L800.3,1797.4 L801.2,1795.5 L802.4,1793.7 L804.1,1791.9 L806.3,1790 L809,1788.2 L812.3,1786.4 L815.6,1784.5 L818.5,1782.7 L820.9,1780.9 L822.8,1779 L824.6,1777.2 L826.1,1775.4 L827.3,1773.5 L828.5,1771.7 L829.9,1769.9 L831.7,1768 L834.2,1766.2 L837.6,1764.4 L842,1762.5 L847.3,1760.7 L853,1758.9 L858.7,1757 L864.3,1755.2 L870,1753.3 L875.5,1751.5 L881.1,1749.7 L886.8,1747.8 L892.3,1746 L897.4,1744.2 L902.1,1742.3 L906.1,1740.5 L909.3,1738.7 L910.9,1736.8 L910.8,1735 L909.2,1733.2 L906.1,1731.3 L901.4,1729.5 L895.1,1727.7 L888,1725.8 L881,1724 L874.7,1722.2 L869,1720.3 L863.8,1718.5 L859,1716.7 L854.6,1714.8 L850.7,1713 L846.9,1711.2 L843.4,1709.3 L839.9,1707.5 L836.4,1705.7 L833,1703.8 L829.7,1702 L826.3,1700.2 L822.9,1698.3 L819.4,1696.5 L815.8,1694.6 L812.4,1692.8 L809.4,1691 L806.8,1689.1 L804.8,1687.3 L803.2,1685.5 L802,1683.6 L801.1,1681.8 L800.3,1680 L799.8,1678.1 L799.5,1676.3 L799.3,1674.5 L799.3,1672.6 L799.5,1670.8 L799.9,1669 L800.3,1667.1 L800.8,1665.3 L801.3,1663.5 L801.9,1661.6 L802.3,1659.8 L802.6,1658 L802.8,1656.1 L802.8,1654.3 L802.6,1652.5 L802.3,1650.6 L801.8,1648.8 L801.3,1647 L800.7,1645.1 L800.2,1643.3 L799.7,1641.5 L799.3,1639.6 L799,1637.8 L798.7,1635.9 L798.5,1634.1 L798.4,1632.3 L798.3,1630.4 L798.3,1628.6 L798.2,1626.8 L798.2,1624.9 L798.2,1623.1 L798.2,1621.3 L798.2,1619.4 L798.2,1617.6 L798.2,1615.8 L798.2,1613.9 L798.2,1612.1 L798.2,1610.3 L798.2,1608.4 L798.2,1606.6 L798.2,1604.8 L798.2,1602.9 L798.2,1601.1 L798.2,1599.3" fill="none" stroke="#619CFF" stroke-width="3.4" stroke-linejoin="round"/>
<path d="M798.6,2057.9 L798.8,2056 L798.9,2054.2 L799.1,2052.4 L799.4,2050.5 L799.7,2048.7 L800,2046.9 L800.3,2045 L800.7,2043.2 L801.2,2041.4 L801.7,2039.5 L802.1,2037.7 L802.6,2035.8 L803.1,2034 L803.6,2032.2 L804,2030.3 L804.4,2028.5 L804.7,2026.7 L804.9,2024.8 L805.1,2023 L805.1,2021.2 L805.1,2019.3 L804.9,2017.5 L804.7,2015.7 L804.4,2013.8 L804,2012 L803.6,2010.2 L803.1,2008.3 L802.6,2006.5 L802.1,2004.7 L801.7,2002.8 L801.2,2001 L800.7,1999.2 L800.3,1997.3 L800,1995.5 L799.7,1993.7 L799.4,1991.8 L799.1,1990 L798.9,1988.2 L798.8,1986.3 L798.6,1984.5 L798.5,1982.6 L798.4,1980.8 L798.4,1979 L798.3,1977.1 L798.3,1975.3 L798.3,1973.5 L798.2,1971.6 L798.2,1969.8 L798.2,1968 L798.2,1966.1 L798.2,1964.3 L798.2,1962.5 L798.2,1960.6 L798.2,1958.8 L798.2,1957 L798.2,1955.1 L798.2,1953.3 L798.2,1951.5 L798.2,1949.6 L798.2,1947.8 L798.2,1946 L798.2,1944.1 L798.2,1942.3 L798.2,1940.5 L798.2,1938.6 L798.2,1936.8 L798.2,1935 L798.2,1933.1 L798.2,1931.3 L798.2,1929.5 L798.2,1927.6 L798.2,1925.8 L798.2,1923.9 L798.2,1922.1 L798.2,1920.3 L798.2,1918.4 L798.2,1916.6 L798.2,1914.8 L798.2,1912.9 L798.2,1911.1 L798.2,1909.3 L798.2,1907.4 L798.2,1905.6 L798.2,1903.8 L798.2,1901.9 L798.2,1900.1 L798.2,1898.3 L798.2,1896.4 L798.2,1894.6 L798.2,1892.8 L798.2,1890.9 L798.2,1889.1 L798.2,1887.3 L798.2,1885.4 L798.2,1883.6 L798.2,1881.8 L798.2,1879.9 L798.2,1878.1 L798.2,1876.3 L798.2,1874.4 L798.3,1872.6 L798.4,1870.8 L798.7,1868.9 L799,1867.1 L799.4,1865.2 L799.9,1863.4 L800.5,1861.6 L801.2,1859.7 L802,1857.9 L803,1856.1 L804.1,1854.2 L805.5,1852.4 L807,1850.6 L808.7,1848.7 L810.4,1846.9 L812.1,1845.1 L813.8,1843.2 L815.7,1841.4 L817.8,1839.6 L820.2,1837.7 L823,1835.9 L826.1,1834.1 L829.4,1832.2 L832.8,1830.4 L836.4,1828.6 L840,1826.7 L843.8,1824.9 L847.6,1823.1 L851.6,1821.2 L855.7,1819.4 L860.1,1817.6 L864.1,1815.7 L867.3,1813.9 L869.3,1812.1 L870.5,1810.2 L871.4,1808.4 L872,1806.5 L872.3,1804.7 L872.3,1802.9 L872.1,1801 L871.6,1799.2 L871.1,1797.4 L870.4,1795.5 L869.5,1793.7 L868.5,1791.9 L867.4,1790 L866.5,1788.2 L866.1,1786.4 L865.9,1784.5 L865.6,1782.7 L864.9,1780.9 L863.7,1779 L861.6,1777.2 L859.1,1775.4 L856.7,1773.5 L854.6,1771.7 L852.4,1769.9 L850,1768 L847.1,1766.2 L843.8,1764.4 L840.3,1762.5 L836.8,1760.7 L833.6,1758.9 L830.5,1757 L827.6,1755.2 L824.8,1753.3 L822.3,1751.5 L820,1749.7 L817.9,1747.8 L816,1746 L814.2,1744.2 L812.5,1742.3 L810.8,1740.5 L809.2,1738.7 L807.7,1736.8 L806.3,1735 L805,1733.2 L803.9,1731.3 L802.8,1729.5 L801.9,1727.7 L801.1,1725.8 L800.5,1724 L799.9,1722.2 L799.4,1720.3 L799,1718.5 L798.6,1716.7 L798.4,1714.8 L798.3,1713 L798.2,1711.2 L798.2,1709.3 L798.2,1707.5 L798.2,1705.7 L798.2,1703.8 L798.2,1702 L798.2,1700.2 L798.2,1698.3 L798.2,1696.5 L798.2,1694.6 L798.2,1692.8 L798.2,1691 L798.2,1689.1 L798.2,1687.3 L798.2,1685.5 L798.2,1683.6 L798.2,1681.8 L798.2,1680 L798.2,1678.1 L798.2,1676.3 L798.2,1674.5 L798.2,1672.6 L798.2,1670.8 L798.2,1669 L798.2,1667.1 L798.2,1665.3 L798.2,1663.5 L798.2,1661.6 L798.2,1659.8 L798.2,1658 L798.2,1656.1 L798.2,1654.3 L798.2,1652.5 L798.2,1650.6 L798.2,1648.8 L798.2,1647 L798.2,1645.1 L798.2,1643.3 L798.2,1641.5 L798.2,1639.6 L798.2,1637.8 L798.2,1635.9 L798.2,1634.1 L798.2,1632.3 L798.2,1630.4 L798.2,1628.6 L798.2,1626.8 L798.2,1624.9 L798.2,1623.1 L798.2,1621.3 L798.2,1619.4 L798.2,1617.6 L798.2,1615.8 L798.2,1613.9 L798.2,1612.1 L798.2,1610.3 L798.2,1608.4 L798.2,1606.6 L798.2,1604.8 L798.2,1602.9 L798.2,1601.1 L798.2,1599.3" fill="none" stroke="#F8766D" stroke-width="3.4" stroke-linejoin="round"/>
<clipPath id="clip4"><rect x="115.9" y="1577.3" width="675.3" height="502.7"/></clipPath>
<g><line x1="206.95" y1="1577.3" x2="206.95" y2="2080" stroke="#EBEBEB" stroke-width="1.6"/><line x1="115.9" y1="2012" x2="791.2" y2="2012" stroke="#EBEBEB" stroke-width="1.6"/><line x1="330.09" y1="1577.3" x2="330.09" y2="2080" stroke="#EBEBEB" stroke-width="1.6"/><line x1="115.9" y1="1920.28" x2="791.2" y2="1920.28" stroke="#EBEBEB" stroke-width="1.6"/><line x1="453.23" y1="1577.3" x2="453.23" y2="2080" stroke="#EBEBEB" stroke-width="1.6"/><line x1="115.9" y1="1828.56" x2="791.2" y2="1828.56" stroke="#EBEBEB" stroke-width="1.6"/><line x1="576.37" y1="1577.3" x2="576.37" y2="2080" stroke="#EBEBEB" stroke-width="1.6"/><line x1="115.9" y1="1736.84" x2="791.2" y2="1736.84" stroke="#EBEBEB" stroke-width="1.6"/><line x1="699.51" y1="1577.3" x2="699.51" y2="2080" stroke="#EBEBEB" stroke-width="1.6"/><line x1="115.9" y1="1645.12" x2="791.2" y2="1645.12" stroke="#EBEBEB" stroke-width="1.6"/><line x1="145.38" y1="1577.3" x2="145.38" y2="2080" stroke="#EBEBEB" stroke-width="3.0"/><line x1="115.9" y1="2057.86" x2="791.2" y2="2057.86" stroke="#EBEBEB" stroke-width="3.0"/><line x1="268.52" y1="1577.3" x2="268.52" y2="2080" stroke="#EBEBEB" stroke-width="3.0"/><line x1="115.9" y1="1966.14" x2="791.2" y2="1966.14" stroke="#EBEBEB" stroke-width="3.0"/><line x1="391.66" y1="1577.3" x2="391.66" y2="2080" stroke="#EBEBEB" stroke-width="3.0"/><line x1="115.9" y1="1874.42" x2="791.2" y2="1874.42" stroke="#EBEBEB" stroke-width="3.0"/><line x1="514.8" y1="1577.3" x2="514.8" y2="2080" stroke="#EBEBEB" stroke-width="3.0"/><line x1="115.9" y1="1782.7" x2="791.2" y2="1782.7" stroke="#EBEBEB" stroke-width="3.0"/><line x1="637.94" y1="1577.3" x2="637.94" y2="2080" stroke="#EBEBEB" stroke-width="3.0"/><line x1="115.9" y1="1690.98" x2="791.2" y2="1690.98" stroke="#EBEBEB" stroke-width="3.0"/><line x1="761.08" y1="1577.3" x2="761.08" y2="2080" stroke="#EBEBEB" stroke-width="3.0"/><line x1="115.9" y1="1599.26" x2="791.2" y2="1599.26" stroke="#EBEBEB" stroke-width="3.0"/></g>
<g fill="#000000" font-size="41" transform="translate(0 1705.58) scale(1 1.045) translate(0 -1705.58)"><text x="199.12" y="1705.58" font-style="italic">r</text><text transform="translate(224.32 1709.23) scale(1.16 1)" font-family="Liberation Serif">=</text><text x="258.52" y="1705.58">0.98</text></g>
<g fill="#EE0000" font-size="41" transform="translate(0 1778.96) scale(1 1.045) translate(0 -1778.96)"><text x="260.69" y="1778.96" font-style="italic">r</text><text transform="translate(285.89 1782.61) scale(1.16 1)" font-family="Liberation Serif">=</text><text x="320.09" y="1778.96">0.99</text></g>
<g fill="#00CD00" font-size="41" transform="translate(0 1687.24) scale(1 1.045) translate(0 -1687.24)"><text x="414.61" y="1687.24" font-style="italic">r</text><text transform="translate(439.81 1690.89) scale(1.16 1)" font-family="Liberation Serif">=</text><text x="474.01" y="1687.24">0.93</text></g>
<g fill="#0000EE" font-size="41" transform="translate(0 1632.2) scale(1 1.045) translate(0 -1632.2)"><text x="568.54" y="1632.2" font-style="italic">r</text><text transform="translate(593.74 1635.85) scale(1.16 1)" font-family="Liberation Serif">=</text><text x="627.94" y="1632.2">0.96</text></g>
<g clip-path="url(#clip4)">
<g><circle cx="497.2" cy="1777.6" r="8.2" fill="#F8766D"/><circle cx="466.4" cy="1801.4" r="8.2" fill="#F8766D"/><circle cx="483.8" cy="1799.9" r="8.2" fill="#F8766D"/><circle cx="496.8" cy="1778.2" r="8.2" fill="#F8766D"/><circle cx="512.8" cy="1801.4" r="8.2" fill="#F8766D"/><circle cx="498.3" cy="1807.2" r="8.2" fill="#F8766D"/><circle cx="615.0" cy="1705.0" r="8.2" fill="#00BA38"/><circle cx="603.0" cy="1711.9" r="8.2" fill="#00BA38"/><circle cx="611.0" cy="1711.9" r="8.2" fill="#00BA38"/><circle cx="591.0" cy="1718.9" r="8.2" fill="#00BA38"/><circle cx="599.0" cy="1718.9" r="8.2" fill="#00BA38"/><circle cx="607.0" cy="1718.9" r="8.2" fill="#00BA38"/><circle cx="587.0" cy="1725.8" r="8.2" fill="#00BA38"/><circle cx="595.0" cy="1725.8" r="8.2" fill="#00BA38"/><circle cx="575.0" cy="1732.7" r="8.2" fill="#00BA38"/><circle cx="583.0" cy="1732.7" r="8.2" fill="#00BA38"/><circle cx="591.0" cy="1732.7" r="8.2" fill="#00BA38"/><circle cx="563.0" cy="1739.6" r="8.2" fill="#00BA38"/><circle cx="571.0" cy="1739.6" r="8.2" fill="#00BA38"/><circle cx="579.0" cy="1739.6" r="8.2" fill="#00BA38"/><circle cx="551.0" cy="1746.6" r="8.2" fill="#00BA38"/><circle cx="559.0" cy="1746.6" r="8.2" fill="#00BA38"/><circle cx="567.0" cy="1746.6" r="8.2" fill="#00BA38"/><circle cx="539.0" cy="1753.5" r="8.2" fill="#00BA38"/><circle cx="547.0" cy="1753.5" r="8.2" fill="#00BA38"/><circle cx="555.0" cy="1753.5" r="8.2" fill="#00BA38"/><circle cx="563.0" cy="1753.5" r="8.2" fill="#00BA38"/><circle cx="535.0" cy="1760.4" r="8.2" fill="#00BA38"/><circle cx="543.0" cy="1760.4" r="8.2" fill="#00BA38"/><circle cx="551.0" cy="1760.4" r="8.2" fill="#00BA38"/><circle cx="523.0" cy="1767.4" r="8.2" fill="#00BA38"/><circle cx="531.0" cy="1767.4" r="8.2" fill="#00BA38"/><circle cx="539.0" cy="1767.4" r="8.2" fill="#00BA38"/><circle cx="511.0" cy="1774.3" r="8.2" fill="#00BA38"/><circle cx="519.0" cy="1774.3" r="8.2" fill="#00BA38"/><circle cx="527.0" cy="1774.3" r="8.2" fill="#00BA38"/><circle cx="535.0" cy="1774.3" r="8.2" fill="#00BA38"/><circle cx="499.0" cy="1781.2" r="8.2" fill="#00BA38"/><circle cx="507.0" cy="1781.2" r="8.2" fill="#00BA38"/><circle cx="515.0" cy="1781.2" r="8.2" fill="#00BA38"/><circle cx="523.0" cy="1781.2" r="8.2" fill="#00BA38"/><circle cx="487.0" cy="1788.1" r="8.2" fill="#00BA38"/><circle cx="495.0" cy="1788.1" r="8.2" fill="#00BA38"/><circle cx="503.0" cy="1788.1" r="8.2" fill="#00BA38"/><circle cx="511.0" cy="1788.1" r="8.2" fill="#00BA38"/><circle cx="483.0" cy="1795.1" r="8.2" fill="#00BA38"/><circle cx="491.0" cy="1795.1" r="8.2" fill="#00BA38"/><circle cx="499.0" cy="1795.1" r="8.2" fill="#00BA38"/><circle cx="507.0" cy="1795.1" r="8.2" fill="#00BA38"/><circle cx="471.0" cy="1802.0" r="8.2" fill="#00BA38"/><circle cx="479.0" cy="1802.0" r="8.2" fill="#00BA38"/><circle cx="487.0" cy="1802.0" r="8.2" fill="#00BA38"/><circle cx="495.0" cy="1802.0" r="8.2" fill="#00BA38"/><circle cx="459.0" cy="1808.9" r="8.2" fill="#00BA38"/><circle cx="467.0" cy="1808.9" r="8.2" fill="#00BA38"/><circle cx="475.0" cy="1808.9" r="8.2" fill="#00BA38"/><circle cx="483.0" cy="1808.9" r="8.2" fill="#00BA38"/><circle cx="463.0" cy="1815.8" r="8.2" fill="#00BA38"/><circle cx="471.0" cy="1815.8" r="8.2" fill="#00BA38"/><circle cx="455.0" cy="1812.0" r="8.2" fill="#00BA38"/><circle cx="480.0" cy="1792.0" r="8.2" fill="#00BA38"/><circle cx="510.0" cy="1772.0" r="8.2" fill="#00BA38"/><circle cx="540.0" cy="1752.0" r="8.2" fill="#00BA38"/><circle cx="570.0" cy="1732.0" r="8.2" fill="#00BA38"/><circle cx="600.0" cy="1712.0" r="8.2" fill="#00BA38"/><circle cx="615.0" cy="1705.0" r="8.2" fill="#00BA38"/><circle cx="610.0" cy="1720.0" r="8.2" fill="#00BA38"/><circle cx="580.0" cy="1742.0" r="8.2" fill="#00BA38"/><circle cx="550.0" cy="1765.0" r="8.2" fill="#00BA38"/><circle cx="520.0" cy="1785.0" r="8.2" fill="#00BA38"/><circle cx="495.0" cy="1805.0" r="8.2" fill="#00BA38"/><circle cx="470.0" cy="1820.0" r="8.2" fill="#00BA38"/><circle cx="616.0" cy="1698.9" r="8.2" fill="#619CFF"/><circle cx="624.0" cy="1698.9" r="8.2" fill="#619CFF"/><circle cx="604.0" cy="1705.9" r="8.2" fill="#619CFF"/><circle cx="612.0" cy="1705.9" r="8.2" fill="#619CFF"/><circle cx="592.0" cy="1712.8" r="8.2" fill="#619CFF"/><circle cx="600.0" cy="1712.8" r="8.2" fill="#619CFF"/><circle cx="580.0" cy="1719.7" r="8.2" fill="#619CFF"/><circle cx="588.0" cy="1719.7" r="8.2" fill="#619CFF"/><circle cx="596.0" cy="1719.7" r="8.2" fill="#619CFF"/><circle cx="576.0" cy="1726.6" r="8.2" fill="#619CFF"/><circle cx="584.0" cy="1726.6" r="8.2" fill="#619CFF"/><circle cx="572.0" cy="1724.0" r="8.2" fill="#619CFF"/><circle cx="600.0" cy="1705.0" r="8.2" fill="#619CFF"/><circle cx="620.0" cy="1692.0" r="8.2" fill="#619CFF"/><circle cx="625.0" cy="1700.0" r="8.2" fill="#619CFF"/><circle cx="600.0" cy="1718.0" r="8.2" fill="#619CFF"/><circle cx="578.0" cy="1735.0" r="8.2" fill="#619CFF"/><circle cx="676.5" cy="1654.1" r="8.2" fill="#619CFF"/><circle cx="625.3" cy="1693.3" r="8.2" fill="#619CFF"/><circle cx="617.8" cy="1699.3" r="8.2" fill="#619CFF"/><circle cx="607.0" cy="1704.0" r="8.2" fill="#619CFF"/><circle cx="596.7" cy="1709.8" r="8.2" fill="#619CFF"/><circle cx="613.2" cy="1717.4" r="8.2" fill="#619CFF"/><circle cx="584.6" cy="1720.4" r="8.2" fill="#619CFF"/><circle cx="571.1" cy="1729.4" r="8.2" fill="#619CFF"/><circle cx="565.0" cy="1737.0" r="8.2" fill="#619CFF"/><circle cx="578.6" cy="1753.5" r="8.2" fill="#619CFF"/><circle cx="554.5" cy="1749.0" r="8.2" fill="#619CFF"/><circle cx="568.0" cy="1752.0" r="8.2" fill="#619CFF"/><circle cx="539.4" cy="1747.5" r="8.2" fill="#619CFF"/><circle cx="538.9" cy="1746.3" r="8.2" fill="#619CFF"/><circle cx="553.3" cy="1749.2" r="8.2" fill="#619CFF"/><circle cx="608.7" cy="1727.9" r="8.2" fill="#00BA38"/><circle cx="595.2" cy="1741.5" r="8.2" fill="#00BA38"/><circle cx="590.0" cy="1746.0" r="8.2" fill="#00BA38"/><circle cx="557.5" cy="1734.0" r="8.2" fill="#00BA38"/><circle cx="545.5" cy="1743.0" r="8.2" fill="#00BA38"/><circle cx="530.4" cy="1756.5" r="8.2" fill="#00BA38"/><circle cx="515.3" cy="1765.6" r="8.2" fill="#00BA38"/><circle cx="504.8" cy="1773.1" r="8.2" fill="#00BA38"/><circle cx="554.5" cy="1770.1" r="8.2" fill="#00BA38"/><circle cx="545.5" cy="1777.6" r="8.2" fill="#00BA38"/><circle cx="537.9" cy="1782.2" r="8.2" fill="#00BA38"/><circle cx="524.4" cy="1792.7" r="8.2" fill="#00BA38"/><circle cx="492.7" cy="1785.2" r="8.2" fill="#00BA38"/><circle cx="482.2" cy="1788.2" r="8.2" fill="#00BA38"/><circle cx="473.1" cy="1795.7" r="8.2" fill="#00BA38"/><circle cx="459.6" cy="1810.8" r="8.2" fill="#00BA38"/><circle cx="449.0" cy="1818.3" r="8.2" fill="#00BA38"/><circle cx="492.7" cy="1818.3" r="8.2" fill="#00BA38"/><circle cx="450.5" cy="1817.3" r="8.2" fill="#00BA38"/><circle cx="460.6" cy="1810.1" r="8.2" fill="#00BA38"/><circle cx="472.2" cy="1795.6" r="8.2" fill="#00BA38"/><circle cx="483.8" cy="1789.8" r="8.2" fill="#00BA38"/><circle cx="492.5" cy="1820.2" r="8.2" fill="#00BA38"/><circle cx="502.6" cy="1775.3" r="8.2" fill="#00BA38"/><circle cx="512.8" cy="1768.1" r="8.2" fill="#00BA38"/><circle cx="524.4" cy="1794.1" r="8.2" fill="#00BA38"/><circle cx="527.3" cy="1757.9" r="8.2" fill="#00BA38"/><circle cx="541.8" cy="1779.7" r="8.2" fill="#00BA38"/><circle cx="556.2" cy="1733.3" r="8.2" fill="#00BA38"/><circle cx="556.2" cy="1772.4" r="8.2" fill="#00BA38"/><circle cx="515.7" cy="1786.9" r="8.2" fill="#00BA38"/><circle cx="531.9" cy="1785.2" r="8.2" fill="#F8766D"/><circle cx="512.3" cy="1801.7" r="8.2" fill="#F8766D"/><circle cx="501.8" cy="1807.8" r="8.2" fill="#F8766D"/><circle cx="488.2" cy="1815.3" r="8.2" fill="#F8766D"/><circle cx="464.1" cy="1822.8" r="8.2" fill="#F8766D"/><circle cx="413.6" cy="1844.1" r="8.2" fill="#F8766D"/><circle cx="449.0" cy="1827.5" r="8.2" fill="#F8766D"/><circle cx="453.4" cy="1839.0" r="8.2" fill="#F8766D"/><circle cx="462.1" cy="1834.7" r="8.2" fill="#F8766D"/><circle cx="531.6" cy="1785.5" r="8.2" fill="#F8766D"/><circle cx="186.1" cy="2022.0" r="8.2" fill="#F8766D"/><circle cx="492.5" cy="1820.0" r="8.2" fill="#00BA38"/><circle cx="541.8" cy="1780.0" r="8.2" fill="#00BA38"/></g>
<path d="M186.0,2005.6 L194.3,2001.0 L202.6,1996.4 L210.9,1991.7 L219.2,1986.9 L227.5,1981.8 L235.8,1976.6 L244.1,1971.3 L252.4,1966.0 L260.7,1960.7 L269.1,1955.2 L277.4,1949.7 L285.7,1944.1 L294.0,1938.4 L302.3,1932.6 L310.6,1926.8 L318.9,1921.0 L327.2,1915.3 L335.5,1909.5 L343.8,1903.7 L352.1,1898.0 L360.4,1892.2 L368.7,1886.5 L377.0,1880.8 L385.3,1875.1 L393.6,1869.3 L401.9,1863.7 L410.2,1858.1 L418.5,1852.4 L426.8,1846.8 L435.2,1841.1 L443.5,1835.4 L451.8,1829.6 L460.1,1823.8 L468.4,1817.8 L476.7,1811.8 L485.0,1805.8 L493.3,1799.7 L501.6,1793.6 L509.9,1787.4 L518.2,1781.2 L526.5,1774.9 L534.8,1768.6 L543.1,1762.2 L551.4,1755.7 L559.7,1749.3 L568.0,1742.7 L576.3,1736.2 L584.6,1729.6 L592.9,1723.0 L601.3,1716.3 L609.6,1709.4 L617.9,1702.2 L626.2,1694.8 L634.5,1687.0 L642.8,1678.9 L651.1,1670.7 L659.4,1661.9 L667.7,1652.7 L676.0,1643.2 L676.0,1669.2 L667.7,1675.0 L659.4,1680.8 L651.1,1686.9 L642.8,1693.2 L634.5,1699.5 L626.2,1705.7 L617.9,1711.8 L609.6,1718.0 L601.3,1724.4 L592.9,1730.8 L584.6,1737.2 L576.3,1743.6 L568.0,1749.9 L559.7,1756.3 L551.4,1762.6 L543.1,1768.9 L534.8,1775.1 L526.5,1781.4 L518.2,1787.5 L509.9,1793.7 L501.6,1799.8 L493.3,1805.8 L485.0,1811.9 L476.7,1817.9 L468.4,1823.8 L460.1,1829.8 L451.8,1835.6 L443.5,1841.4 L435.2,1847.2 L426.8,1852.8 L418.5,1858.5 L410.2,1864.2 L401.9,1869.9 L393.6,1875.6 L385.3,1881.4 L377.0,1887.3 L368.7,1893.1 L360.4,1899.0 L352.1,1904.8 L343.8,1910.7 L335.5,1916.7 L327.2,1922.6 L318.9,1928.6 L310.6,1934.5 L302.3,1940.6 L294.0,1946.6 L285.7,1952.8 L277.4,1959.1 L269.1,1965.5 L260.7,1972.0 L252.4,1978.5 L244.1,1985.0 L235.8,1991.6 L227.5,1998.2 L219.2,2005.0 L210.9,2012.0 L202.6,2019.1 L194.3,2026.3 L186.0,2033.6 Z" fill="#999999" fill-opacity="0.4"/><path d="M186.1,2019.5 L192.3,2015.1 L198.5,2010.7 L204.7,2006.3 L210.9,2001.9 L217.0,1997.5 L223.2,1993.1 L229.4,1988.7 L235.6,1984.3 L241.8,1979.8 L248.0,1975.4 L254.2,1971.0 L260.4,1966.6 L266.6,1962.2 L272.7,1957.7 L278.9,1953.3 L285.1,1948.9 L291.3,1944.4 L297.5,1940.0 L303.7,1935.6 L309.9,1931.2 L316.1,1926.8 L322.2,1922.4 L328.4,1918.0 L334.6,1913.7 L340.8,1909.3 L347.0,1905.0 L353.2,1900.6 L359.4,1896.3 L365.6,1892.0 L371.8,1887.7 L377.9,1883.4 L384.1,1879.1 L390.3,1874.8 L396.5,1870.5 L402.7,1866.3 L408.9,1862.0 L415.1,1857.8 L421.3,1853.6 L427.5,1849.4 L433.6,1845.2 L439.8,1840.9 L446.0,1836.6 L452.2,1832.3 L458.4,1827.9 L464.6,1823.5 L470.8,1819.1 L477.0,1814.7 L483.2,1810.2 L489.3,1805.7 L495.5,1801.1 L501.7,1796.6 L507.9,1792.0 L514.1,1787.4 L520.3,1782.8 L526.5,1778.1 L532.7,1773.5 L538.9,1768.8 L545.0,1764.1 L551.2,1759.3 L557.4,1754.6 L563.6,1749.8 L569.8,1745.0 L576.0,1740.1 L582.2,1735.3 L588.4,1730.5 L594.5,1725.6 L600.7,1720.7 L606.9,1715.8 L613.1,1710.9 L619.3,1705.9 L625.5,1700.8 L631.7,1695.6 L637.9,1690.3 L644.1,1685.0 L650.2,1679.5 L656.4,1674.0 L662.6,1668.5 L668.8,1662.8 L675.0,1657.1" fill="none" stroke="#ABABAB" stroke-width="8" stroke-linejoin="round"/>
<line x1="514.8" y1="1577.3" x2="514.8" y2="2080" stroke="#B3B3B3" stroke-width="3.0"/>
<line x1="115.9" y1="1782.7" x2="791.2" y2="1782.7" stroke="#B3B3B3" stroke-width="3.0"/>
<line x1="22.24" y1="2149.58" x2="884.22" y2="1507.54" stroke="#B3B3B3" stroke-width="3.0"/>
</g>
<rect x="115.9" y="1577.3" width="675.3" height="502.7" fill="none" stroke="#111" stroke-width="2"/>
<path d="M145.38 2080V2090.5M115.9 2057.86H105.4M268.52 2080V2090.5M115.9 1966.14H105.4M391.66 2080V2090.5M115.9 1874.42H105.4M514.8 2080V2090.5M115.9 1782.7H105.4M637.94 2080V2090.5M115.9 1690.98H105.4M761.08 2080V2090.5M115.9 1599.26H105.4" stroke="#1E1E1E" stroke-width="2.9" fill="none"/>
<g fill="#262626" font-size="32.8"><text x="145.38" y="2123.6" text-anchor="middle">-3</text><text x="96.1" y="2069.56" text-anchor="end">-3</text><text x="268.52" y="2123.6" text-anchor="middle">-2</text><text x="96.1" y="1977.84" text-anchor="end">-2</text><text x="391.66" y="2123.6" text-anchor="middle">-1</text><text x="96.1" y="1886.12" text-anchor="end">-1</text><text x="514.8" y="2123.6" text-anchor="middle">0</text><text x="96.1" y="1794.4" text-anchor="end">0</text><text x="637.94" y="2123.6" text-anchor="middle">1</text><text x="96.1" y="1702.68" text-anchor="end">1</text><text x="761.08" y="2123.6" text-anchor="middle">2</text><text x="96.1" y="1610.96" text-anchor="end">2</text></g>
<text x="453.55" y="2175.3" text-anchor="middle" font-size="41">General Isobole</text>
<text transform="translate(31.6 1911.35) rotate(-90)" font-size="41">f<tspan font-size="28.7" dy="7.9">largetosmall</tspan></text>
<path d="M1097.9,1571.6 L1097.9,1571.6 1100.3,1571.6 1102.8,1571.6 1105.3,1571.6 1107.7,1571.6 1110.2,1571.6 1112.7,1571.6 1115.1,1571.6 1117.6,1571.6 1120,1571.6 1122.5,1571.6 1125,1571.6 1127.4,1571.6 1129.9,1571.6 1132.4,1571.6 1134.8,1571.6 1137.3,1571.6 1139.7,1571.6 1142.2,1571.6 1144.7,1571.6 1147.1,1571.6 1149.6,1571.6 1152.1,1571.6 1154.5,1571.6 1157,1571.6 1159.4,1571.6 1161.9,1571.6 1164.4,1571.6 1166.8,1571.6 1169.3,1571.6 1171.8,1571.6 1174.2,1571.6 1176.7,1571.6 1179.2,1571.6 1181.6,1571.6 1184.1,1571.6 1186.5,1571.6 1189,1571.6 1191.5,1571.6 1193.9,1571.6 1196.4,1571.6 1198.9,1571.6 1201.3,1571.6 1203.8,1571.6 1206.2,1571.6 1208.7,1571.6 1211.2,1571.6 1213.6,1571.6 1216.1,1571.6 1218.6,1571.6 1221,1571.6 1223.5,1571.6 1225.9,1571.6 1228.4,1571.6 1230.9,1571.6 1233.3,1571.6 1235.8,1571.6 1238.3,1571.6 1240.7,1571.6 1243.2,1571.6 1245.6,1571.6 1248.1,1571.6 1250.6,1571.6 1253,1571.6 1255.5,1571.6 1258,1571.6 1260.4,1571.6 1262.9,1571.6 1265.4,1571.6 1267.8,1571.6 1270.3,1571.6 1272.7,1571.6 1275.2,1571.6 1277.7,1571.6 1280.1,1571.6 1282.6,1571.6 1285.1,1571.6 1287.5,1571.6 1290,1571.6 1292.4,1571.6 1294.9,1571.6 1297.4,1571.6 1299.8,1571.6 1302.3,1571.6 1304.8,1571.6 1307.2,1571.6 1309.7,1571.6 1312.1,1571.6 1314.6,1571.6 1317.1,1571.6 1319.5,1571.6 1322,1571.6 1324.5,1571.6 1326.9,1571.6 1329.4,1571.5 1331.8,1571.5 1334.3,1571.4 1336.8,1571.3 1339.2,1571.1 1341.7,1571 1344.2,1570.7 1346.6,1570.5 1349.1,1570.2 1351.5,1569.9 1354,1569.7 1356.5,1569.5 1358.9,1569.3 1361.4,1569.3 1363.9,1569.3 1366.3,1569.4 1368.8,1569.4 1371.3,1569.4 1373.7,1569.4 1376.2,1569.3 1378.6,1569.2 1381.1,1569 1383.6,1568.8 1386,1568.5 1388.5,1568.1 1391,1567.6 1393.4,1567.1 1395.9,1566.5 1398.3,1565.7 1400.8,1565 1403.3,1564.2 1405.7,1563.4 1408.2,1562.6 1410.7,1561.7 1413.1,1560.6 1415.6,1559.3 1418,1557.7 1420.5,1555.9 1423,1554 1425.4,1552.2 1427.9,1550.4 1430.4,1548.4 1432.8,1546.2 1435.3,1543.6 1437.7,1540.6 1440.2,1537.1 1442.7,1533.4 1445.1,1529.7 1447.6,1525.8 1450.1,1522 1452.5,1518.3 1455,1515.2 1457.4,1512.7 1459.9,1510.5 1462.4,1508.4 1464.8,1505.7 1467.3,1502.1 1469.8,1497.5 1472.2,1492.5 1474.7,1488 1477.2,1484.4 1479.6,1481.9 1482.1,1480.7 1484.5,1481.1 1487,1483.2 1489.5,1487.5 1491.9,1493.9 1494.4,1501.4 1496.9,1508.3 1499.3,1514.1 1501.8,1519.9 1504.2,1526.1 1506.7,1531.6 1509.2,1535.7 1511.6,1539.4 1514.1,1543.6 1516.6,1548.4 1519,1552.8 1521.5,1556.1 1523.9,1558.6 1526.4,1560.4 1528.9,1561.6 1531.3,1562.4 1533.8,1562.8 1536.3,1562.9 1538.7,1563 1541.2,1563.2 1543.6,1563.4 1546.1,1563.7 1548.6,1564.1 1551,1564.5 1553.5,1565.1 1556,1565.8 1558.4,1566.5 1560.9,1567.3 1563.3,1567.9 1565.8,1568.4 1568.3,1568.8 1570.7,1569.1 1573.2,1569.5 1575.7,1569.8 1578.1,1570.2 1580.6,1570.5 1583.1,1570.8 1585.5,1571.1 1588,1571.3 1590.4,1571.4 1592.9,1571.4 1595.4,1571.5 1597.8,1571.5 1600.3,1571.6 1602.8,1571.6 1605.2,1571.6 1607.7,1571.6 1610.1,1571.6 1612.6,1571.6 1615.1,1571.6 1617.5,1571.6 1620,1571.6 1622.5,1571.6 1624.9,1571.6 1627.4,1571.6 1629.8,1571.6 1632.3,1571.6 1634.8,1571.6 1637.2,1571.6 1639.7,1571.6 1642.2,1571.6 1644.6,1571.6 1647.1,1571.6 1649.5,1571.6 1652,1571.6 1654.5,1571.6 1656.9,1571.6 1659.4,1571.6 1661.9,1571.6 1664.3,1571.6 1666.8,1571.6 1669.2,1571.6 1671.7,1571.6 1674.2,1571.6 1676.6,1571.6 1679.1,1571.6 1681.6,1571.6 1684,1571.6 1686.5,1571.6 1689,1571.6 1691.4,1571.6 1693.9,1571.6 1696.3,1571.6 1698.8,1571.6 1701.3,1571.6 1703.7,1571.6 1706.2,1571.6 1708.7,1571.6 1711.1,1571.6 1713.6,1571.6 L1713.6,1571.6 Z" fill="#00BA38" fill-opacity="0.5" stroke="none"/>
<path d="M1097.9,1571.6 L1097.9,1571.6 1100.3,1571.6 1102.8,1571.6 1105.3,1571.6 1107.7,1571.6 1110.2,1571.6 1112.7,1571.6 1115.1,1571.6 1117.6,1571.6 1120,1571.6 1122.5,1571.6 1125,1571.6 1127.4,1571.6 1129.9,1571.6 1132.4,1571.6 1134.8,1571.6 1137.3,1571.6 1139.7,1571.6 1142.2,1571.6 1144.7,1571.6 1147.1,1571.6 1149.6,1571.6 1152.1,1571.6 1154.5,1571.6 1157,1571.6 1159.4,1571.6 1161.9,1571.6 1164.4,1571.6 1166.8,1571.6 1169.3,1571.6 1171.8,1571.6 1174.2,1571.6 1176.7,1571.6 1179.2,1571.6 1181.6,1571.6 1184.1,1571.6 1186.5,1571.6 1189,1571.6 1191.5,1571.6 1193.9,1571.6 1196.4,1571.6 1198.9,1571.6 1201.3,1571.6 1203.8,1571.6 1206.2,1571.6 1208.7,1571.6 1211.2,1571.6 1213.6,1571.6 1216.1,1571.6 1218.6,1571.6 1221,1571.6 1223.5,1571.6 1225.9,1571.6 1228.4,1571.6 1230.9,1571.6 1233.3,1571.6 1235.8,1571.6 1238.3,1571.6 1240.7,1571.6 1243.2,1571.6 1245.6,1571.6 1248.1,1571.6 1250.6,1571.6 1253,1571.6 1255.5,1571.6 1258,1571.6 1260.4,1571.6 1262.9,1571.6 1265.4,1571.6 1267.8,1571.6 1270.3,1571.6 1272.7,1571.6 1275.2,1571.6 1277.7,1571.6 1280.1,1571.6 1282.6,1571.6 1285.1,1571.6 1287.5,1571.6 1290,1571.6 1292.4,1571.6 1294.9,1571.6 1297.4,1571.6 1299.8,1571.6 1302.3,1571.6 1304.8,1571.6 1307.2,1571.6 1309.7,1571.6 1312.1,1571.6 1314.6,1571.6 1317.1,1571.6 1319.5,1571.6 1322,1571.6 1324.5,1571.6 1326.9,1571.6 1329.4,1571.6 1331.8,1571.6 1334.3,1571.6 1336.8,1571.6 1339.2,1571.6 1341.7,1571.6 1344.2,1571.6 1346.6,1571.6 1349.1,1571.6 1351.5,1571.6 1354,1571.6 1356.5,1571.6 1358.9,1571.6 1361.4,1571.6 1363.9,1571.6 1366.3,1571.6 1368.8,1571.6 1371.3,1571.6 1373.7,1571.6 1376.2,1571.6 1378.6,1571.6 1381.1,1571.6 1383.6,1571.6 1386,1571.6 1388.5,1571.6 1391,1571.6 1393.4,1571.6 1395.9,1571.6 1398.3,1571.6 1400.8,1571.6 1403.3,1571.6 1405.7,1571.6 1408.2,1571.6 1410.7,1571.6 1413.1,1571.6 1415.6,1571.6 1418,1571.6 1420.5,1571.6 1423,1571.6 1425.4,1571.5 1427.9,1571.4 1430.4,1571.3 1432.8,1571.1 1435.3,1570.9 1437.7,1570.4 1440.2,1569.6 1442.7,1568.7 1445.1,1567.6 1447.6,1566.4 1450.1,1565 1452.5,1563.4 1455,1561.7 1457.4,1559.8 1459.9,1557.6 1462.4,1555.4 1464.8,1553 1467.3,1550.6 1469.8,1548.1 1472.2,1545.6 1474.7,1543.2 1477.2,1541 1479.6,1539 1482.1,1537 1484.5,1535 1487,1532.8 1489.5,1530.4 1491.9,1528 1494.4,1525.6 1496.9,1523.2 1499.3,1520.7 1501.8,1517.6 1504.2,1514.1 1506.7,1510.8 1509.2,1508.3 1511.6,1505.4 1514.1,1501.1 1516.6,1495.6 1519,1490.2 1521.5,1486 1523.9,1483.3 1526.4,1481.9 1528.9,1481.7 1531.3,1483 1533.8,1485.8 1536.3,1490.4 1538.7,1496.1 1541.2,1502 1543.6,1507.6 1546.1,1513.1 1548.6,1518.4 1551,1523.1 1553.5,1527.1 1556,1530.4 1558.4,1533.3 1560.9,1536.2 1563.3,1539.5 1565.8,1543.2 1568.3,1547.2 1570.7,1551.2 1573.2,1554.9 1575.7,1558.3 1578.1,1561.3 1580.6,1563.9 1583.1,1565.9 1585.5,1567.4 1588,1568.4 1590.4,1569.2 1592.9,1569.7 1595.4,1570 1597.8,1570.2 1600.3,1570.2 1602.8,1570.1 1605.2,1569.9 1607.7,1569.6 1610.1,1569.3 1612.6,1569 1615.1,1568.7 1617.5,1568.4 1620,1568.2 1622.5,1568 1624.9,1567.9 1627.4,1567.9 1629.8,1568 1632.3,1568.2 1634.8,1568.4 1637.2,1568.7 1639.7,1569 1642.2,1569.4 1644.6,1569.7 1647.1,1570 1649.5,1570.3 1652,1570.6 1654.5,1570.8 1656.9,1571 1659.4,1571.2 1661.9,1571.3 1664.3,1571.4 1666.8,1571.5 1669.2,1571.5 1671.7,1571.5 1674.2,1571.6 1676.6,1571.6 1679.1,1571.6 1681.6,1571.6 1684,1571.6 1686.5,1571.6 1689,1571.6 1691.4,1571.6 1693.9,1571.6 1696.3,1571.6 1698.8,1571.6 1701.3,1571.6 1703.7,1571.6 1706.2,1571.6 1708.7,1571.6 1711.1,1571.6 1713.6,1571.6 L1713.6,1571.6 Z" fill="#619CFF" fill-opacity="0.5" stroke="none"/>
<path d="M1097.9,1571.6 L1097.9,1570.3 1100.3,1570 1102.8,1569.8 1105.3,1569.5 1107.7,1569.2 1110.2,1569 1112.7,1568.7 1115.1,1568.4 1117.6,1568.2 1120,1568 1122.5,1567.8 1125,1567.6 1127.4,1567.5 1129.9,1567.5 1132.4,1567.5 1134.8,1567.5 1137.3,1567.6 1139.7,1567.8 1142.2,1568 1144.7,1568.2 1147.1,1568.4 1149.6,1568.7 1152.1,1569 1154.5,1569.2 1157,1569.5 1159.4,1569.8 1161.9,1570 1164.4,1570.3 1166.8,1570.5 1169.3,1570.7 1171.8,1570.8 1174.2,1571 1176.7,1571.1 1179.2,1571.2 1181.6,1571.3 1184.1,1571.4 1186.5,1571.4 1189,1571.5 1191.5,1571.5 1193.9,1571.5 1196.4,1571.5 1198.9,1571.6 1201.3,1571.6 1203.8,1571.6 1206.2,1571.6 1208.7,1571.6 1211.2,1571.6 1213.6,1571.6 1216.1,1571.6 1218.6,1571.6 1221,1571.6 1223.5,1571.6 1225.9,1571.6 1228.4,1571.6 1230.9,1571.6 1233.3,1571.6 1235.8,1571.6 1238.3,1571.6 1240.7,1571.6 1243.2,1571.6 1245.6,1571.6 1248.1,1571.6 1250.6,1571.6 1253,1571.6 1255.5,1571.6 1258,1571.6 1260.4,1571.6 1262.9,1571.6 1265.4,1571.6 1267.8,1571.6 1270.3,1571.6 1272.7,1571.6 1275.2,1571.6 1277.7,1571.6 1280.1,1571.5 1282.6,1571.5 1285.1,1571.5 1287.5,1571.4 1290,1571.4 1292.4,1571.3 1294.9,1571.2 1297.4,1571 1299.8,1570.9 1302.3,1570.7 1304.8,1570.5 1307.2,1570.3 1309.7,1570 1312.1,1569.8 1314.6,1569.6 1317.1,1569.4 1319.5,1569.2 1322,1569 1324.5,1568.9 1326.9,1568.9 1329.4,1568.9 1331.8,1568.9 1334.3,1569 1336.8,1569.2 1339.2,1569.4 1341.7,1569.6 1344.2,1569.8 1346.6,1570 1349.1,1570.3 1351.5,1570.5 1354,1570.6 1356.5,1570.6 1358.9,1570.4 1361.4,1570 1363.9,1569.4 1366.3,1568.7 1368.8,1567.8 1371.3,1566.8 1373.7,1565.5 1376.2,1563.8 1378.6,1561.7 1381.1,1559.4 1383.6,1557 1386,1554.4 1388.5,1551.7 1391,1548.9 1393.4,1546.2 1395.9,1543.4 1398.3,1540.6 1400.8,1538 1403.3,1535.4 1405.7,1533 1408.2,1530.7 1410.7,1528.5 1413.1,1526.5 1415.6,1524.7 1418,1523 1420.5,1521.4 1423,1520 1425.4,1518.6 1427.9,1517.4 1430.4,1516.3 1432.8,1515.3 1435.3,1514.4 1437.7,1513.6 1440.2,1512.9 1442.7,1512.4 1445.1,1512.3 1447.6,1512.4 1450.1,1512.7 1452.5,1513.2 1455,1513.9 1457.4,1514.9 1459.9,1516.5 1462.4,1518.3 1464.8,1520.4 1467.3,1522.6 1469.8,1525 1472.2,1527.5 1474.7,1530 1477.2,1532.6 1479.6,1535.1 1482.1,1537.6 1484.5,1540.1 1487,1542.4 1489.5,1544.5 1491.9,1546.5 1494.4,1548.4 1496.9,1550.1 1499.3,1551.7 1501.8,1553.2 1504.2,1554.7 1506.7,1556 1509.2,1557 1511.6,1557.8 1514.1,1558.6 1516.6,1559.4 1519,1560.3 1521.5,1561.1 1523.9,1561.9 1526.4,1562.7 1528.9,1563.4 1531.3,1564.2 1533.8,1564.9 1536.3,1565.7 1538.7,1566.4 1541.2,1567.1 1543.6,1567.8 1546.1,1568.5 1548.6,1569.1 1551,1569.7 1553.5,1570.1 1556,1570.4 1558.4,1570.6 1560.9,1570.8 1563.3,1571 1565.8,1571.1 1568.3,1571.3 1570.7,1571.4 1573.2,1571.5 1575.7,1571.5 1578.1,1571.6 1580.6,1571.6 1583.1,1571.6 1585.5,1571.6 1588,1571.6 1590.4,1571.6 1592.9,1571.6 1595.4,1571.6 1597.8,1571.6 1600.3,1571.6 1602.8,1571.6 1605.2,1571.6 1607.7,1571.6 1610.1,1571.6 1612.6,1571.6 1615.1,1571.6 1617.5,1571.6 1620,1571.6 1622.5,1571.6 1624.9,1571.6 1627.4,1571.6 1629.8,1571.6 1632.3,1571.6 1634.8,1571.6 1637.2,1571.6 1639.7,1571.6 1642.2,1571.6 1644.6,1571.6 1647.1,1571.6 1649.5,1571.6 1652,1571.6 1654.5,1571.6 1656.9,1571.6 1659.4,1571.6 1661.9,1571.6 1664.3,1571.6 1666.8,1571.6 1669.2,1571.6 1671.7,1571.6 1674.2,1571.6 1676.6,1571.6 1679.1,1571.6 1681.6,1571.6 1684,1571.6 1686.5,1571.6 1689,1571.6 1691.4,1571.6 1693.9,1571.6 1696.3,1571.6 1698.8,1571.6 1701.3,1571.6 1703.7,1571.6 1706.2,1571.6 1708.7,1571.6 1711.1,1571.6 1713.6,1571.6 L1713.6,1571.6 Z" fill="#F8766D" fill-opacity="0.5" stroke="none"/>
<path d="M1097.9,1571.6 L1100.3,1571.6 L1102.8,1571.6 L1105.3,1571.6 L1107.7,1571.6 L1110.2,1571.6 L1112.7,1571.6 L1115.1,1571.6 L1117.6,1571.6 L1120,1571.6 L1122.5,1571.6 L1125,1571.6 L1127.4,1571.6 L1129.9,1571.6 L1132.4,1571.6 L1134.8,1571.6 L1137.3,1571.6 L1139.7,1571.6 L1142.2,1571.6 L1144.7,1571.6 L1147.1,1571.6 L1149.6,1571.6 L1152.1,1571.6 L1154.5,1571.6 L1157,1571.6 L1159.4,1571.6 L1161.9,1571.6 L1164.4,1571.6 L1166.8,1571.6 L1169.3,1571.6 L1171.8,1571.6 L1174.2,1571.6 L1176.7,1571.6 L1179.2,1571.6 L1181.6,1571.6 L1184.1,1571.6 L1186.5,1571.6 L1189,1571.6 L1191.5,1571.6 L1193.9,1571.6 L1196.4,1571.6 L1198.9,1571.6 L1201.3,1571.6 L1203.8,1571.6 L1206.2,1571.6 L1208.7,1571.6 L1211.2,1571.6 L1213.6,1571.6 L1216.1,1571.6 L1218.6,1571.6 L1221,1571.6 L1223.5,1571.6 L1225.9,1571.6 L1228.4,1571.6 L1230.9,1571.6 L1233.3,1571.6 L1235.8,1571.6 L1238.3,1571.6 L1240.7,1571.6 L1243.2,1571.6 L1245.6,1571.6 L1248.1,1571.6 L1250.6,1571.6 L1253,1571.6 L1255.5,1571.6 L1258,1571.6 L1260.4,1571.6 L1262.9,1571.6 L1265.4,1571.6 L1267.8,1571.6 L1270.3,1571.6 L1272.7,1571.6 L1275.2,1571.6 L1277.7,1571.6 L1280.1,1571.6 L1282.6,1571.6 L1285.1,1571.6 L1287.5,1571.6 L1290,1571.6 L1292.4,1571.6 L1294.9,1571.6 L1297.4,1571.6 L1299.8,1571.6 L1302.3,1571.6 L1304.8,1571.6 L1307.2,1571.6 L1309.7,1571.6 L1312.1,1571.6 L1314.6,1571.6 L1317.1,1571.6 L1319.5,1571.6 L1322,1571.6 L1324.5,1571.6 L1326.9,1571.6 L1329.4,1571.5 L1331.8,1571.5 L1334.3,1571.4 L1336.8,1571.3 L1339.2,1571.1 L1341.7,1571 L1344.2,1570.7 L1346.6,1570.5 L1349.1,1570.2 L1351.5,1569.9 L1354,1569.7 L1356.5,1569.5 L1358.9,1569.3 L1361.4,1569.3 L1363.9,1569.3 L1366.3,1569.4 L1368.8,1569.4 L1371.3,1569.4 L1373.7,1569.4 L1376.2,1569.3 L1378.6,1569.2 L1381.1,1569 L1383.6,1568.8 L1386,1568.5 L1388.5,1568.1 L1391,1567.6 L1393.4,1567.1 L1395.9,1566.5 L1398.3,1565.7 L1400.8,1565 L1403.3,1564.2 L1405.7,1563.4 L1408.2,1562.6 L1410.7,1561.7 L1413.1,1560.6 L1415.6,1559.3 L1418,1557.7 L1420.5,1555.9 L1423,1554 L1425.4,1552.2 L1427.9,1550.4 L1430.4,1548.4 L1432.8,1546.2 L1435.3,1543.6 L1437.7,1540.6 L1440.2,1537.1 L1442.7,1533.4 L1445.1,1529.7 L1447.6,1525.8 L1450.1,1522 L1452.5,1518.3 L1455,1515.2 L1457.4,1512.7 L1459.9,1510.5 L1462.4,1508.4 L1464.8,1505.7 L1467.3,1502.1 L1469.8,1497.5 L1472.2,1492.5 L1474.7,1488 L1477.2,1484.4 L1479.6,1481.9 L1482.1,1480.7 L1484.5,1481.1 L1487,1483.2 L1489.5,1487.5 L1491.9,1493.9 L1494.4,1501.4 L1496.9,1508.3 L1499.3,1514.1 L1501.8,1519.9 L1504.2,1526.1 L1506.7,1531.6 L1509.2,1535.7 L1511.6,1539.4 L1514.1,1543.6 L1516.6,1548.4 L1519,1552.8 L1521.5,1556.1 L1523.9,1558.6 L1526.4,1560.4 L1528.9,1561.6 L1531.3,1562.4 L1533.8,1562.8 L1536.3,1562.9 L1538.7,1563 L1541.2,1563.2 L1543.6,1563.4 L1546.1,1563.7 L1548.6,1564.1 L1551,1564.5 L1553.5,1565.1 L1556,1565.8 L1558.4,1566.5 L1560.9,1567.3 L1563.3,1567.9 L1565.8,1568.4 L1568.3,1568.8 L1570.7,1569.1 L1573.2,1569.5 L1575.7,1569.8 L1578.1,1570.2 L1580.6,1570.5 L1583.1,1570.8 L1585.5,1571.1 L1588,1571.3 L1590.4,1571.4 L1592.9,1571.4 L1595.4,1571.5 L1597.8,1571.5 L1600.3,1571.6 L1602.8,1571.6 L1605.2,1571.6 L1607.7,1571.6 L1610.1,1571.6 L1612.6,1571.6 L1615.1,1571.6 L1617.5,1571.6 L1620,1571.6 L1622.5,1571.6 L1624.9,1571.6 L1627.4,1571.6 L1629.8,1571.6 L1632.3,1571.6 L1634.8,1571.6 L1637.2,1571.6 L1639.7,1571.6 L1642.2,1571.6 L1644.6,1571.6 L1647.1,1571.6 L1649.5,1571.6 L1652,1571.6 L1654.5,1571.6 L1656.9,1571.6 L1659.4,1571.6 L1661.9,1571.6 L1664.3,1571.6 L1666.8,1571.6 L1669.2,1571.6 L1671.7,1571.6 L1674.2,1571.6 L1676.6,1571.6 L1679.1,1571.6 L1681.6,1571.6 L1684,1571.6 L1686.5,1571.6 L1689,1571.6 L1691.4,1571.6 L1693.9,1571.6 L1696.3,1571.6 L1698.8,1571.6 L1701.3,1571.6 L1703.7,1571.6 L1706.2,1571.6 L1708.7,1571.6 L1711.1,1571.6 L1713.6,1571.6" fill="none" stroke="#00BA38" stroke-width="3.4" stroke-linejoin="round"/>
<path d="M1097.9,1571.6 L1100.3,1571.6 L1102.8,1571.6 L1105.3,1571.6 L1107.7,1571.6 L1110.2,1571.6 L1112.7,1571.6 L1115.1,1571.6 L1117.6,1571.6 L1120,1571.6 L1122.5,1571.6 L1125,1571.6 L1127.4,1571.6 L1129.9,1571.6 L1132.4,1571.6 L1134.8,1571.6 L1137.3,1571.6 L1139.7,1571.6 L1142.2,1571.6 L1144.7,1571.6 L1147.1,1571.6 L1149.6,1571.6 L1152.1,1571.6 L1154.5,1571.6 L1157,1571.6 L1159.4,1571.6 L1161.9,1571.6 L1164.4,1571.6 L1166.8,1571.6 L1169.3,1571.6 L1171.8,1571.6 L1174.2,1571.6 L1176.7,1571.6 L1179.2,1571.6 L1181.6,1571.6 L1184.1,1571.6 L1186.5,1571.6 L1189,1571.6 L1191.5,1571.6 L1193.9,1571.6 L1196.4,1571.6 L1198.9,1571.6 L1201.3,1571.6 L1203.8,1571.6 L1206.2,1571.6 L1208.7,1571.6 L1211.2,1571.6 L1213.6,1571.6 L1216.1,1571.6 L1218.6,1571.6 L1221,1571.6 L1223.5,1571.6 L1225.9,1571.6 L1228.4,1571.6 L1230.9,1571.6 L1233.3,1571.6 L1235.8,1571.6 L1238.3,1571.6 L1240.7,1571.6 L1243.2,1571.6 L1245.6,1571.6 L1248.1,1571.6 L1250.6,1571.6 L1253,1571.6 L1255.5,1571.6 L1258,1571.6 L1260.4,1571.6 L1262.9,1571.6 L1265.4,1571.6 L1267.8,1571.6 L1270.3,1571.6 L1272.7,1571.6 L1275.2,1571.6 L1277.7,1571.6 L1280.1,1571.6 L1282.6,1571.6 L1285.1,1571.6 L1287.5,1571.6 L1290,1571.6 L1292.4,1571.6 L1294.9,1571.6 L1297.4,1571.6 L1299.8,1571.6 L1302.3,1571.6 L1304.8,1571.6 L1307.2,1571.6 L1309.7,1571.6 L1312.1,1571.6 L1314.6,1571.6 L1317.1,1571.6 L1319.5,1571.6 L1322,1571.6 L1324.5,1571.6 L1326.9,1571.6 L1329.4,1571.6 L1331.8,1571.6 L1334.3,1571.6 L1336.8,1571.6 L1339.2,1571.6 L1341.7,1571.6 L1344.2,1571.6 L1346.6,1571.6 L1349.1,1571.6 L1351.5,1571.6 L1354,1571.6 L1356.5,1571.6 L1358.9,1571.6 L1361.4,1571.6 L1363.9,1571.6 L1366.3,1571.6 L1368.8,1571.6 L1371.3,1571.6 L1373.7,1571.6 L1376.2,1571.6 L1378.6,1571.6 L1381.1,1571.6 L1383.6,1571.6 L1386,1571.6 L1388.5,1571.6 L1391,1571.6 L1393.4,1571.6 L1395.9,1571.6 L1398.3,1571.6 L1400.8,1571.6 L1403.3,1571.6 L1405.7,1571.6 L1408.2,1571.6 L1410.7,1571.6 L1413.1,1571.6 L1415.6,1571.6 L1418,1571.6 L1420.5,1571.6 L1423,1571.6 L1425.4,1571.5 L1427.9,1571.4 L1430.4,1571.3 L1432.8,1571.1 L1435.3,1570.9 L1437.7,1570.4 L1440.2,1569.6 L1442.7,1568.7 L1445.1,1567.6 L1447.6,1566.4 L1450.1,1565 L1452.5,1563.4 L1455,1561.7 L1457.4,1559.8 L1459.9,1557.6 L1462.4,1555.4 L1464.8,1553 L1467.3,1550.6 L1469.8,1548.1 L1472.2,1545.6 L1474.7,1543.2 L1477.2,1541 L1479.6,1539 L1482.1,1537 L1484.5,1535 L1487,1532.8 L1489.5,1530.4 L1491.9,1528 L1494.4,1525.6 L1496.9,1523.2 L1499.3,1520.7 L1501.8,1517.6 L1504.2,1514.1 L1506.7,1510.8 L1509.2,1508.3 L1511.6,1505.4 L1514.1,1501.1 L1516.6,1495.6 L1519,1490.2 L1521.5,1486 L1523.9,1483.3 L1526.4,1481.9 L1528.9,1481.7 L1531.3,1483 L1533.8,1485.8 L1536.3,1490.4 L1538.7,1496.1 L1541.2,1502 L1543.6,1507.6 L1546.1,1513.1 L1548.6,1518.4 L1551,1523.1 L1553.5,1527.1 L1556,1530.4 L1558.4,1533.3 L1560.9,1536.2 L1563.3,1539.5 L1565.8,1543.2 L1568.3,1547.2 L1570.7,1551.2 L1573.2,1554.9 L1575.7,1558.3 L1578.1,1561.3 L1580.6,1563.9 L1583.1,1565.9 L1585.5,1567.4 L1588,1568.4 L1590.4,1569.2 L1592.9,1569.7 L1595.4,1570 L1597.8,1570.2 L1600.3,1570.2 L1602.8,1570.1 L1605.2,1569.9 L1607.7,1569.6 L1610.1,1569.3 L1612.6,1569 L1615.1,1568.7 L1617.5,1568.4 L1620,1568.2 L1622.5,1568 L1624.9,1567.9 L1627.4,1567.9 L1629.8,1568 L1632.3,1568.2 L1634.8,1568.4 L1637.2,1568.7 L1639.7,1569 L1642.2,1569.4 L1644.6,1569.7 L1647.1,1570 L1649.5,1570.3 L1652,1570.6 L1654.5,1570.8 L1656.9,1571 L1659.4,1571.2 L1661.9,1571.3 L1664.3,1571.4 L1666.8,1571.5 L1669.2,1571.5 L1671.7,1571.5 L1674.2,1571.6 L1676.6,1571.6 L1679.1,1571.6 L1681.6,1571.6 L1684,1571.6 L1686.5,1571.6 L1689,1571.6 L1691.4,1571.6 L1693.9,1571.6 L1696.3,1571.6 L1698.8,1571.6 L1701.3,1571.6 L1703.7,1571.6 L1706.2,1571.6 L1708.7,1571.6 L1711.1,1571.6 L1713.6,1571.6" fill="none" stroke="#619CFF" stroke-width="3.4" stroke-linejoin="round"/>
<path d="M1097.9,1570.3 L1100.3,1570 L1102.8,1569.8 L1105.3,1569.5 L1107.7,1569.2 L1110.2,1569 L1112.7,1568.7 L1115.1,1568.4 L1117.6,1568.2 L1120,1568 L1122.5,1567.8 L1125,1567.6 L1127.4,1567.5 L1129.9,1567.5 L1132.4,1567.5 L1134.8,1567.5 L1137.3,1567.6 L1139.7,1567.8 L1142.2,1568 L1144.7,1568.2 L1147.1,1568.4 L1149.6,1568.7 L1152.1,1569 L1154.5,1569.2 L1157,1569.5 L1159.4,1569.8 L1161.9,1570 L1164.4,1570.3 L1166.8,1570.5 L1169.3,1570.7 L1171.8,1570.8 L1174.2,1571 L1176.7,1571.1 L1179.2,1571.2 L1181.6,1571.3 L1184.1,1571.4 L1186.5,1571.4 L1189,1571.5 L1191.5,1571.5 L1193.9,1571.5 L1196.4,1571.5 L1198.9,1571.6 L1201.3,1571.6 L1203.8,1571.6 L1206.2,1571.6 L1208.7,1571.6 L1211.2,1571.6 L1213.6,1571.6 L1216.1,1571.6 L1218.6,1571.6 L1221,1571.6 L1223.5,1571.6 L1225.9,1571.6 L1228.4,1571.6 L1230.9,1571.6 L1233.3,1571.6 L1235.8,1571.6 L1238.3,1571.6 L1240.7,1571.6 L1243.2,1571.6 L1245.6,1571.6 L1248.1,1571.6 L1250.6,1571.6 L1253,1571.6 L1255.5,1571.6 L1258,1571.6 L1260.4,1571.6 L1262.9,1571.6 L1265.4,1571.6 L1267.8,1571.6 L1270.3,1571.6 L1272.7,1571.6 L1275.2,1571.6 L1277.7,1571.6 L1280.1,1571.5 L1282.6,1571.5 L1285.1,1571.5 L1287.5,1571.4 L1290,1571.4 L1292.4,1571.3 L1294.9,1571.2 L1297.4,1571 L1299.8,1570.9 L1302.3,1570.7 L1304.8,1570.5 L1307.2,1570.3 L1309.7,1570 L1312.1,1569.8 L1314.6,1569.6 L1317.1,1569.4 L1319.5,1569.2 L1322,1569 L1324.5,1568.9 L1326.9,1568.9 L1329.4,1568.9 L1331.8,1568.9 L1334.3,1569 L1336.8,1569.2 L1339.2,1569.4 L1341.7,1569.6 L1344.2,1569.8 L1346.6,1570 L1349.1,1570.3 L1351.5,1570.5 L1354,1570.6 L1356.5,1570.6 L1358.9,1570.4 L1361.4,1570 L1363.9,1569.4 L1366.3,1568.7 L1368.8,1567.8 L1371.3,1566.8 L1373.7,1565.5 L1376.2,1563.8 L1378.6,1561.7 L1381.1,1559.4 L1383.6,1557 L1386,1554.4 L1388.5,1551.7 L1391,1548.9 L1393.4,1546.2 L1395.9,1543.4 L1398.3,1540.6 L1400.8,1538 L1403.3,1535.4 L1405.7,1533 L1408.2,1530.7 L1410.7,1528.5 L1413.1,1526.5 L1415.6,1524.7 L1418,1523 L1420.5,1521.4 L1423,1520 L1425.4,1518.6 L1427.9,1517.4 L1430.4,1516.3 L1432.8,1515.3 L1435.3,1514.4 L1437.7,1513.6 L1440.2,1512.9 L1442.7,1512.4 L1445.1,1512.3 L1447.6,1512.4 L1450.1,1512.7 L1452.5,1513.2 L1455,1513.9 L1457.4,1514.9 L1459.9,1516.5 L1462.4,1518.3 L1464.8,1520.4 L1467.3,1522.6 L1469.8,1525 L1472.2,1527.5 L1474.7,1530 L1477.2,1532.6 L1479.6,1535.1 L1482.1,1537.6 L1484.5,1540.1 L1487,1542.4 L1489.5,1544.5 L1491.9,1546.5 L1494.4,1548.4 L1496.9,1550.1 L1499.3,1551.7 L1501.8,1553.2 L1504.2,1554.7 L1506.7,1556 L1509.2,1557 L1511.6,1557.8 L1514.1,1558.6 L1516.6,1559.4 L1519,1560.3 L1521.5,1561.1 L1523.9,1561.9 L1526.4,1562.7 L1528.9,1563.4 L1531.3,1564.2 L1533.8,1564.9 L1536.3,1565.7 L1538.7,1566.4 L1541.2,1567.1 L1543.6,1567.8 L1546.1,1568.5 L1548.6,1569.1 L1551,1569.7 L1553.5,1570.1 L1556,1570.4 L1558.4,1570.6 L1560.9,1570.8 L1563.3,1571 L1565.8,1571.1 L1568.3,1571.3 L1570.7,1571.4 L1573.2,1571.5 L1575.7,1571.5 L1578.1,1571.6 L1580.6,1571.6 L1583.1,1571.6 L1585.5,1571.6 L1588,1571.6 L1590.4,1571.6 L1592.9,1571.6 L1595.4,1571.6 L1597.8,1571.6 L1600.3,1571.6 L1602.8,1571.6 L1605.2,1571.6 L1607.7,1571.6 L1610.1,1571.6 L1612.6,1571.6 L1615.1,1571.6 L1617.5,1571.6 L1620,1571.6 L1622.5,1571.6 L1624.9,1571.6 L1627.4,1571.6 L1629.8,1571.6 L1632.3,1571.6 L1634.8,1571.6 L1637.2,1571.6 L1639.7,1571.6 L1642.2,1571.6 L1644.6,1571.6 L1647.1,1571.6 L1649.5,1571.6 L1652,1571.6 L1654.5,1571.6 L1656.9,1571.6 L1659.4,1571.6 L1661.9,1571.6 L1664.3,1571.6 L1666.8,1571.6 L1669.2,1571.6 L1671.7,1571.6 L1674.2,1571.6 L1676.6,1571.6 L1679.1,1571.6 L1681.6,1571.6 L1684,1571.6 L1686.5,1571.6 L1689,1571.6 L1691.4,1571.6 L1693.9,1571.6 L1696.3,1571.6 L1698.8,1571.6 L1701.3,1571.6 L1703.7,1571.6 L1706.2,1571.6 L1708.7,1571.6 L1711.1,1571.6 L1713.6,1571.6" fill="none" stroke="#F8766D" stroke-width="3.4" stroke-linejoin="round"/>
<path d="M1750.9,2057.9 L1750.9,2057.9 1750.9,2056 1750.9,2054.2 1750.9,2052.4 1750.9,2050.5 1750.9,2048.7 1750.9,2046.9 1750.9,2045 1750.9,2043.2 1750.9,2041.4 1750.9,2039.5 1750.9,2037.7 1750.9,2035.8 1750.9,2034 1750.9,2032.2 1750.9,2030.3 1750.9,2028.5 1750.9,2026.7 1750.9,2024.8 1750.9,2023 1750.9,2021.2 1750.9,2019.3 1750.9,2017.5 1750.9,2015.7 1750.9,2013.8 1750.9,2012 1750.9,2010.2 1750.9,2008.3 1750.9,2006.5 1750.9,2004.7 1750.9,2002.8 1750.9,2001 1750.9,1999.2 1750.9,1997.3 1750.9,1995.5 1750.9,1993.7 1750.9,1991.8 1750.9,1990 1750.9,1988.2 1750.9,1986.3 1750.9,1984.5 1750.9,1982.6 1750.9,1980.8 1750.9,1979 1750.9,1977.1 1750.9,1975.3 1750.9,1973.5 1750.9,1971.6 1750.9,1969.8 1750.9,1968 1750.9,1966.1 1750.9,1964.3 1750.9,1962.5 1750.9,1960.6 1750.9,1958.8 1750.9,1957 1750.9,1955.1 1750.9,1953.3 1750.9,1951.5 1750.9,1949.6 1750.9,1947.8 1750.9,1946 1750.9,1944.1 1750.9,1942.3 1750.9,1940.5 1750.9,1938.6 1750.9,1936.8 1750.9,1935 1750.9,1933.1 1750.9,1931.3 1750.9,1929.5 1750.9,1927.6 1750.9,1925.8 1750.9,1923.9 1750.9,1922.1 1750.9,1920.3 1750.9,1918.4 1750.9,1916.6 1750.9,1914.8 1750.9,1912.9 1750.9,1911.1 1750.9,1909.3 1750.9,1907.4 1750.9,1905.6 1750.9,1903.8 1750.9,1901.9 1750.9,1900.1 1750.9,1898.3 1750.9,1896.4 1750.9,1894.6 1750.9,1892.8 1750.9,1890.9 1750.9,1889.1 1750.9,1887.3 1750.9,1885.4 1750.9,1883.6 1750.9,1881.8 1750.9,1879.9 1750.9,1878.1 1750.9,1876.3 1750.9,1874.4 1750.9,1872.6 1750.9,1870.8 1750.9,1868.9 1750.9,1867.1 1750.9,1865.2 1750.9,1863.4 1750.9,1861.6 1750.9,1859.7 1750.9,1857.9 1750.9,1856.1 1750.9,1854.2 1750.9,1852.4 1750.9,1850.6 1750.9,1848.7 1750.9,1846.9 1750.9,1845.1 1751,1843.2 1751.1,1841.4 1751.2,1839.6 1751.3,1837.7 1751.6,1835.9 1751.9,1834.1 1752.4,1832.2 1752.9,1830.4 1753.5,1828.6 1754.3,1826.7 1755.2,1824.9 1756.3,1823.1 1757.6,1821.2 1759.3,1819.4 1761.5,1817.6 1764,1815.7 1766.9,1813.9 1769.9,1812.1 1773.3,1810.2 1776.9,1808.4 1780.7,1806.5 1784.7,1804.7 1788.7,1802.9 1792.8,1801 1797,1799.2 1801.2,1797.4 1805.2,1795.5 1809,1793.7 1812.7,1791.9 1816.2,1790 1819.4,1788.2 1822.6,1786.4 1827.7,1784.5 1836.3,1782.7 1847.5,1780.9 1858.4,1779 1865.6,1777.2 1869.8,1775.4 1873.1,1773.5 1874.3,1771.7 1872.5,1769.9 1868.5,1768 1862.8,1766.2 1855.9,1764.4 1848.4,1762.5 1841.3,1760.7 1835.2,1758.9 1830.5,1757 1826.7,1755.2 1823.2,1753.3 1819.6,1751.5 1815.6,1749.7 1811.2,1747.8 1806.2,1746 1800.8,1744.2 1794.9,1742.3 1788.4,1740.5 1782.1,1738.7 1776.8,1736.8 1772.6,1735 1769.4,1733.2 1766.9,1731.3 1764.7,1729.5 1762.9,1727.7 1761.4,1725.8 1760.2,1724 1759.3,1722.2 1758.5,1720.3 1757.8,1718.5 1757.2,1716.7 1756.6,1714.8 1756.2,1713 1755.8,1711.2 1755.3,1709.3 1754.9,1707.5 1754.4,1705.7 1753.8,1703.8 1753.2,1702 1752.5,1700.2 1751.9,1698.3 1751.5,1696.5 1751.1,1694.6 1751,1692.8 1750.9,1691 1750.9,1689.1 1750.9,1687.3 1750.9,1685.5 1750.9,1683.6 1750.9,1681.8 1750.9,1680 1750.9,1678.1 1750.9,1676.3 1750.9,1674.5 1750.9,1672.6 1750.9,1670.8 1750.9,1669 1750.9,1667.1 1750.9,1665.3 1750.9,1663.5 1750.9,1661.6 1750.9,1659.8 1750.9,1658 1750.9,1656.1 1750.9,1654.3 1750.9,1652.5 1750.9,1650.6 1750.9,1648.8 1750.9,1647 1750.9,1645.1 1750.9,1643.3 1750.9,1641.5 1750.9,1639.6 1750.9,1637.8 1750.9,1635.9 1750.9,1634.1 1750.9,1632.3 1750.9,1630.4 1750.9,1628.6 1750.9,1626.8 1750.9,1624.9 1750.9,1623.1 1750.9,1621.3 1750.9,1619.4 1750.9,1617.6 1750.9,1615.8 1750.9,1613.9 1750.9,1612.1 1750.9,1610.3 1750.9,1608.4 1750.9,1606.6 1750.9,1604.8 1750.9,1602.9 1750.9,1601.1 1750.9,1599.3 L1750.9,1599.3 Z" fill="#00BA38" fill-opacity="0.5" stroke="none"/>
<path d="M1750.9,2057.9 L1750.9,2057.9 1750.9,2056 1750.9,2054.2 1750.9,2052.4 1750.9,2050.5 1750.9,2048.7 1750.9,2046.9 1750.9,2045 1750.9,2043.2 1750.9,2041.4 1750.9,2039.5 1750.9,2037.7 1750.9,2035.8 1750.9,2034 1750.9,2032.2 1750.9,2030.3 1750.9,2028.5 1750.9,2026.7 1750.9,2024.8 1750.9,2023 1750.9,2021.2 1750.9,2019.3 1750.9,2017.5 1750.9,2015.7 1750.9,2013.8 1750.9,2012 1750.9,2010.2 1750.9,2008.3 1750.9,2006.5 1750.9,2004.7 1750.9,2002.8 1750.9,2001 1750.9,1999.2 1750.9,1997.3 1750.9,1995.5 1750.9,1993.7 1750.9,1991.8 1750.9,1990 1750.9,1988.2 1750.9,1986.3 1750.9,1984.5 1750.9,1982.6 1750.9,1980.8 1750.9,1979 1750.9,1977.1 1750.9,1975.3 1750.9,1973.5 1750.9,1971.6 1750.9,1969.8 1750.9,1968 1750.9,1966.1 1750.9,1964.3 1750.9,1962.5 1750.9,1960.6 1750.9,1958.8 1750.9,1957 1750.9,1955.1 1750.9,1953.3 1750.9,1951.5 1750.9,1949.6 1750.9,1947.8 1750.9,1946 1750.9,1944.1 1750.9,1942.3 1750.9,1940.5 1750.9,1938.6 1750.9,1936.8 1750.9,1935 1750.9,1933.1 1750.9,1931.3 1750.9,1929.5 1750.9,1927.6 1750.9,1925.8 1750.9,1923.9 1750.9,1922.1 1750.9,1920.3 1750.9,1918.4 1750.9,1916.6 1750.9,1914.8 1750.9,1912.9 1750.9,1911.1 1750.9,1909.3 1750.9,1907.4 1750.9,1905.6 1750.9,1903.8 1750.9,1901.9 1750.9,1900.1 1750.9,1898.3 1750.9,1896.4 1750.9,1894.6 1750.9,1892.8 1750.9,1890.9 1750.9,1889.1 1750.9,1887.3 1750.9,1885.4 1750.9,1883.6 1750.9,1881.8 1750.9,1879.9 1750.9,1878.1 1750.9,1876.3 1750.9,1874.4 1750.9,1872.6 1750.9,1870.8 1750.9,1868.9 1750.9,1867.1 1750.9,1865.2 1750.9,1863.4 1750.9,1861.6 1750.9,1859.7 1750.9,1857.9 1750.9,1856.1 1750.9,1854.2 1750.9,1852.4 1750.9,1850.6 1750.9,1848.7 1750.9,1846.9 1750.9,1845.1 1750.9,1843.2 1750.9,1841.4 1750.9,1839.6 1750.9,1837.7 1750.9,1835.9 1750.9,1834.1 1750.9,1832.2 1750.9,1830.4 1750.9,1828.6 1750.9,1826.7 1750.9,1824.9 1750.9,1823.1 1750.9,1821.2 1750.9,1819.4 1750.9,1817.6 1750.9,1815.7 1750.9,1813.9 1750.9,1812.1 1751,1810.2 1751,1808.4 1751.1,1806.5 1751.3,1804.7 1751.5,1802.9 1751.8,1801 1752.3,1799.2 1753,1797.4 1753.9,1795.5 1755.1,1793.7 1756.8,1791.9 1759,1790 1761.7,1788.2 1765,1786.4 1768.3,1784.5 1771.2,1782.7 1773.6,1780.9 1775.5,1779 1777.3,1777.2 1778.8,1775.4 1780,1773.5 1781.2,1771.7 1782.6,1769.9 1784.4,1768 1786.9,1766.2 1790.3,1764.4 1794.7,1762.5 1800,1760.7 1805.7,1758.9 1811.4,1757 1817,1755.2 1822.7,1753.3 1828.2,1751.5 1833.8,1749.7 1839.5,1747.8 1845,1746 1850.1,1744.2 1854.8,1742.3 1858.8,1740.5 1862,1738.7 1863.6,1736.8 1863.5,1735 1861.9,1733.2 1858.8,1731.3 1854.1,1729.5 1847.8,1727.7 1840.7,1725.8 1833.7,1724 1827.4,1722.2 1821.7,1720.3 1816.5,1718.5 1811.7,1716.7 1807.3,1714.8 1803.4,1713 1799.6,1711.2 1796.1,1709.3 1792.6,1707.5 1789.1,1705.7 1785.7,1703.8 1782.4,1702 1779,1700.2 1775.6,1698.3 1772.1,1696.5 1768.5,1694.6 1765.1,1692.8 1762.1,1691 1759.5,1689.1 1757.5,1687.3 1755.9,1685.5 1754.7,1683.6 1753.8,1681.8 1753,1680 1752.5,1678.1 1752.2,1676.3 1752,1674.5 1752,1672.6 1752.2,1670.8 1752.6,1669 1753,1667.1 1753.5,1665.3 1754,1663.5 1754.6,1661.6 1755,1659.8 1755.3,1658 1755.5,1656.1 1755.5,1654.3 1755.3,1652.5 1755,1650.6 1754.5,1648.8 1754,1647 1753.4,1645.1 1752.9,1643.3 1752.4,1641.5 1752,1639.6 1751.7,1637.8 1751.4,1635.9 1751.2,1634.1 1751.1,1632.3 1751,1630.4 1751,1628.6 1750.9,1626.8 1750.9,1624.9 1750.9,1623.1 1750.9,1621.3 1750.9,1619.4 1750.9,1617.6 1750.9,1615.8 1750.9,1613.9 1750.9,1612.1 1750.9,1610.3 1750.9,1608.4 1750.9,1606.6 1750.9,1604.8 1750.9,1602.9 1750.9,1601.1 1750.9,1599.3 L1750.9,1599.3 Z" fill="#619CFF" fill-opacity="0.5" stroke="none"/>
<path d="M1750.9,2057.9 L1751.3,2057.9 1751.5,2056 1751.6,2054.2 1751.8,2052.4 1752.1,2050.5 1752.4,2048.7 1752.7,2046.9 1753,2045 1753.4,2043.2 1753.9,2041.4 1754.4,2039.5 1754.8,2037.7 1755.3,2035.8 1755.8,2034 1756.3,2032.2 1756.7,2030.3 1757.1,2028.5 1757.4,2026.7 1757.6,2024.8 1757.8,2023 1757.8,2021.2 1757.8,2019.3 1757.6,2017.5 1757.4,2015.7 1757.1,2013.8 1756.7,2012 1756.3,2010.2 1755.8,2008.3 1755.3,2006.5 1754.8,2004.7 1754.4,2002.8 1753.9,2001 1753.4,1999.2 1753,1997.3 1752.7,1995.5 1752.4,1993.7 1752.1,1991.8 1751.8,1990 1751.6,1988.2 1751.5,1986.3 1751.3,1984.5 1751.2,1982.6 1751.1,1980.8 1751.1,1979 1751,1977.1 1751,1975.3 1751,1973.5 1750.9,1971.6 1750.9,1969.8 1750.9,1968 1750.9,1966.1 1750.9,1964.3 1750.9,1962.5 1750.9,1960.6 1750.9,1958.8 1750.9,1957 1750.9,1955.1 1750.9,1953.3 1750.9,1951.5 1750.9,1949.6 1750.9,1947.8 1750.9,1946 1750.9,1944.1 1750.9,1942.3 1750.9,1940.5 1750.9,1938.6 1750.9,1936.8 1750.9,1935 1750.9,1933.1 1750.9,1931.3 1750.9,1929.5 1750.9,1927.6 1750.9,1925.8 1750.9,1923.9 1750.9,1922.1 1750.9,1920.3 1750.9,1918.4 1750.9,1916.6 1750.9,1914.8 1750.9,1912.9 1750.9,1911.1 1750.9,1909.3 1750.9,1907.4 1750.9,1905.6 1750.9,1903.8 1750.9,1901.9 1750.9,1900.1 1750.9,1898.3 1750.9,1896.4 1750.9,1894.6 1750.9,1892.8 1750.9,1890.9 1750.9,1889.1 1750.9,1887.3 1750.9,1885.4 1750.9,1883.6 1750.9,1881.8 1750.9,1879.9 1750.9,1878.1 1750.9,1876.3 1750.9,1874.4 1751,1872.6 1751.1,1870.8 1751.4,1868.9 1751.7,1867.1 1752.1,1865.2 1752.6,1863.4 1753.2,1861.6 1753.9,1859.7 1754.7,1857.9 1755.7,1856.1 1756.8,1854.2 1758.2,1852.4 1759.7,1850.6 1761.4,1848.7 1763.1,1846.9 1764.8,1845.1 1766.5,1843.2 1768.4,1841.4 1770.5,1839.6 1772.9,1837.7 1775.7,1835.9 1778.8,1834.1 1782.1,1832.2 1785.5,1830.4 1789.1,1828.6 1792.7,1826.7 1796.5,1824.9 1800.3,1823.1 1804.3,1821.2 1808.4,1819.4 1812.8,1817.6 1816.8,1815.7 1820,1813.9 1822,1812.1 1823.2,1810.2 1824.1,1808.4 1824.7,1806.5 1825,1804.7 1825,1802.9 1824.8,1801 1824.3,1799.2 1823.8,1797.4 1823.1,1795.5 1822.2,1793.7 1821.2,1791.9 1820.1,1790 1819.2,1788.2 1818.8,1786.4 1818.6,1784.5 1818.3,1782.7 1817.6,1780.9 1816.4,1779 1814.3,1777.2 1811.8,1775.4 1809.4,1773.5 1807.3,1771.7 1805.1,1769.9 1802.7,1768 1799.8,1766.2 1796.5,1764.4 1793,1762.5 1789.5,1760.7 1786.3,1758.9 1783.2,1757 1780.3,1755.2 1777.5,1753.3 1775,1751.5 1772.7,1749.7 1770.6,1747.8 1768.7,1746 1766.9,1744.2 1765.2,1742.3 1763.5,1740.5 1761.9,1738.7 1760.4,1736.8 1759,1735 1757.7,1733.2 1756.6,1731.3 1755.5,1729.5 1754.6,1727.7 1753.8,1725.8 1753.2,1724 1752.6,1722.2 1752.1,1720.3 1751.7,1718.5 1751.3,1716.7 1751.1,1714.8 1751,1713 1750.9,1711.2 1750.9,1709.3 1750.9,1707.5 1750.9,1705.7 1750.9,1703.8 1750.9,1702 1750.9,1700.2 1750.9,1698.3 1750.9,1696.5 1750.9,1694.6 1750.9,1692.8 1750.9,1691 1750.9,1689.1 1750.9,1687.3 1750.9,1685.5 1750.9,1683.6 1750.9,1681.8 1750.9,1680 1750.9,1678.1 1750.9,1676.3 1750.9,1674.5 1750.9,1672.6 1750.9,1670.8 1750.9,1669 1750.9,1667.1 1750.9,1665.3 1750.9,1663.5 1750.9,1661.6 1750.9,1659.8 1750.9,1658 1750.9,1656.1 1750.9,1654.3 1750.9,1652.5 1750.9,1650.6 1750.9,1648.8 1750.9,1647 1750.9,1645.1 1750.9,1643.3 1750.9,1641.5 1750.9,1639.6 1750.9,1637.8 1750.9,1635.9 1750.9,1634.1 1750.9,1632.3 1750.9,1630.4 1750.9,1628.6 1750.9,1626.8 1750.9,1624.9 1750.9,1623.1 1750.9,1621.3 1750.9,1619.4 1750.9,1617.6 1750.9,1615.8 1750.9,1613.9 1750.9,1612.1 1750.9,1610.3 1750.9,1608.4 1750.9,1606.6 1750.9,1604.8 1750.9,1602.9 1750.9,1601.1 1750.9,1599.3 L1750.9,1599.3 Z" fill="#F8766D" fill-opacity="0.5" stroke="none"/>
<path d="M1750.9,2057.9 L1750.9,2056 L1750.9,2054.2 L1750.9,2052.4 L1750.9,2050.5 L1750.9,2048.7 L1750.9,2046.9 L1750.9,2045 L1750.9,2043.2 L1750.9,2041.4 L1750.9,2039.5 L1750.9,2037.7 L1750.9,2035.8 L1750.9,2034 L1750.9,2032.2 L1750.9,2030.3 L1750.9,2028.5 L1750.9,2026.7 L1750.9,2024.8 L1750.9,2023 L1750.9,2021.2 L1750.9,2019.3 L1750.9,2017.5 L1750.9,2015.7 L1750.9,2013.8 L1750.9,2012 L1750.9,2010.2 L1750.9,2008.3 L1750.9,2006.5 L1750.9,2004.7 L1750.9,2002.8 L1750.9,2001 L1750.9,1999.2 L1750.9,1997.3 L1750.9,1995.5 L1750.9,1993.7 L1750.9,1991.8 L1750.9,1990 L1750.9,1988.2 L1750.9,1986.3 L1750.9,1984.5 L1750.9,1982.6 L1750.9,1980.8 L1750.9,1979 L1750.9,1977.1 L1750.9,1975.3 L1750.9,1973.5 L1750.9,1971.6 L1750.9,1969.8 L1750.9,1968 L1750.9,1966.1 L1750.9,1964.3 L1750.9,1962.5 L1750.9,1960.6 L1750.9,1958.8 L1750.9,1957 L1750.9,1955.1 L1750.9,1953.3 L1750.9,1951.5 L1750.9,1949.6 L1750.9,1947.8 L1750.9,1946 L1750.9,1944.1 L1750.9,1942.3 L1750.9,1940.5 L1750.9,1938.6 L1750.9,1936.8 L1750.9,1935 L1750.9,1933.1 L1750.9,1931.3 L1750.9,1929.5 L1750.9,1927.6 L1750.9,1925.8 L1750.9,1923.9 L1750.9,1922.1 L1750.9,1920.3 L1750.9,1918.4 L1750.9,1916.6 L1750.9,1914.8 L1750.9,1912.9 L1750.9,1911.1 L1750.9,1909.3 L1750.9,1907.4 L1750.9,1905.6 L1750.9,1903.8 L1750.9,1901.9 L1750.9,1900.1 L1750.9,1898.3 L1750.9,1896.4 L1750.9,1894.6 L1750.9,1892.8 L1750.9,1890.9 L1750.9,1889.1 L1750.9,1887.3 L1750.9,1885.4 L1750.9,1883.6 L1750.9,1881.8 L1750.9,1879.9 L1750.9,1878.1 L1750.9,1876.3 L1750.9,1874.4 L1750.9,1872.6 L1750.9,1870.8 L1750.9,1868.9 L1750.9,1867.1 L1750.9,1865.2 L1750.9,1863.4 L1750.9,1861.6 L1750.9,1859.7 L1750.9,1857.9 L1750.9,1856.1 L1750.9,1854.2 L1750.9,1852.4 L1750.9,1850.6 L1750.9,1848.7 L1750.9,1846.9 L1750.9,1845.1 L1751,1843.2 L1751.1,1841.4 L1751.2,1839.6 L1751.3,1837.7 L1751.6,1835.9 L1751.9,1834.1 L1752.4,1832.2 L1752.9,1830.4 L1753.5,1828.6 L1754.3,1826.7 L1755.2,1824.9 L1756.3,1823.1 L1757.6,1821.2 L1759.3,1819.4 L1761.5,1817.6 L1764,1815.7 L1766.9,1813.9 L1769.9,1812.1 L1773.3,1810.2 L1776.9,1808.4 L1780.7,1806.5 L1784.7,1804.7 L1788.7,1802.9 L1792.8,1801 L1797,1799.2 L1801.2,1797.4 L1805.2,1795.5 L1809,1793.7 L1812.7,1791.9 L1816.2,1790 L1819.4,1788.2 L1822.6,1786.4 L1827.7,1784.5 L1836.3,1782.7 L1847.5,1780.9 L1858.4,1779 L1865.6,1777.2 L1869.8,1775.4 L1873.1,1773.5 L1874.3,1771.7 L1872.5,1769.9 L1868.5,1768 L1862.8,1766.2 L1855.9,1764.4 L1848.4,1762.5 L1841.3,1760.7 L1835.2,1758.9 L1830.5,1757 L1826.7,1755.2 L1823.2,1753.3 L1819.6,1751.5 L1815.6,1749.7 L1811.2,1747.8 L1806.2,1746 L1800.8,1744.2 L1794.9,1742.3 L1788.4,1740.5 L1782.1,1738.7 L1776.8,1736.8 L1772.6,1735 L1769.4,1733.2 L1766.9,1731.3 L1764.7,1729.5 L1762.9,1727.7 L1761.4,1725.8 L1760.2,1724 L1759.3,1722.2 L1758.5,1720.3 L1757.8,1718.5 L1757.2,1716.7 L1756.6,1714.8 L1756.2,1713 L1755.8,1711.2 L1755.3,1709.3 L1754.9,1707.5 L1754.4,1705.7 L1753.8,1703.8 L1753.2,1702 L1752.5,1700.2 L1751.9,1698.3 L1751.5,1696.5 L1751.1,1694.6 L1751,1692.8 L1750.9,1691 L1750.9,1689.1 L1750.9,1687.3 L1750.9,1685.5 L1750.9,1683.6 L1750.9,1681.8 L1750.9,1680 L1750.9,1678.1 L1750.9,1676.3 L1750.9,1674.5 L1750.9,1672.6 L1750.9,1670.8 L1750.9,1669 L1750.9,1667.1 L1750.9,1665.3 L1750.9,1663.5 L1750.9,1661.6 L1750.9,1659.8 L1750.9,1658 L1750.9,1656.1 L1750.9,1654.3 L1750.9,1652.5 L1750.9,1650.6 L1750.9,1648.8 L1750.9,1647 L1750.9,1645.1 L1750.9,1643.3 L1750.9,1641.5 L1750.9,1639.6 L1750.9,1637.8 L1750.9,1635.9 L1750.9,1634.1 L1750.9,1632.3 L1750.9,1630.4 L1750.9,1628.6 L1750.9,1626.8 L1750.9,1624.9 L1750.9,1623.1 L1750.9,1621.3 L1750.9,1619.4 L1750.9,1617.6 L1750.9,1615.8 L1750.9,1613.9 L1750.9,1612.1 L1750.9,1610.3 L1750.9,1608.4 L1750.9,1606.6 L1750.9,1604.8 L1750.9,1602.9 L1750.9,1601.1 L1750.9,1599.3" fill="none" stroke="#00BA38" stroke-width="3.4" stroke-linejoin="round"/>
<path d="M1750.9,2057.9 L1750.9,2056 L1750.9,2054.2 L1750.9,2052.4 L1750.9,2050.5 L1750.9,2048.7 L1750.9,2046.9 L1750.9,2045 L1750.9,2043.2 L1750.9,2041.4 L1750.9,2039.5 L1750.9,2037.7 L1750.9,2035.8 L1750.9,2034 L1750.9,2032.2 L1750.9,2030.3 L1750.9,2028.5 L1750.9,2026.7 L1750.9,2024.8 L1750.9,2023 L1750.9,2021.2 L1750.9,2019.3 L1750.9,2017.5 L1750.9,2015.7 L1750.9,2013.8 L1750.9,2012 L1750.9,2010.2 L1750.9,2008.3 L1750.9,2006.5 L1750.9,2004.7 L1750.9,2002.8 L1750.9,2001 L1750.9,1999.2 L1750.9,1997.3 L1750.9,1995.5 L1750.9,1993.7 L1750.9,1991.8 L1750.9,1990 L1750.9,1988.2 L1750.9,1986.3 L1750.9,1984.5 L1750.9,1982.6 L1750.9,1980.8 L1750.9,1979 L1750.9,1977.1 L1750.9,1975.3 L1750.9,1973.5 L1750.9,1971.6 L1750.9,1969.8 L1750.9,1968 L1750.9,1966.1 L1750.9,1964.3 L1750.9,1962.5 L1750.9,1960.6 L1750.9,1958.8 L1750.9,1957 L1750.9,1955.1 L1750.9,1953.3 L1750.9,1951.5 L1750.9,1949.6 L1750.9,1947.8 L1750.9,1946 L1750.9,1944.1 L1750.9,1942.3 L1750.9,1940.5 L1750.9,1938.6 L1750.9,1936.8 L1750.9,1935 L1750.9,1933.1 L1750.9,1931.3 L1750.9,1929.5 L1750.9,1927.6 L1750.9,1925.8 L1750.9,1923.9 L1750.9,1922.1 L1750.9,1920.3 L1750.9,1918.4 L1750.9,1916.6 L1750.9,1914.8 L1750.9,1912.9 L1750.9,1911.1 L1750.9,1909.3 L1750.9,1907.4 L1750.9,1905.6 L1750.9,1903.8 L1750.9,1901.9 L1750.9,1900.1 L1750.9,1898.3 L1750.9,1896.4 L1750.9,1894.6 L1750.9,1892.8 L1750.9,1890.9 L1750.9,1889.1 L1750.9,1887.3 L1750.9,1885.4 L1750.9,1883.6 L1750.9,1881.8 L1750.9,1879.9 L1750.9,1878.1 L1750.9,1876.3 L1750.9,1874.4 L1750.9,1872.6 L1750.9,1870.8 L1750.9,1868.9 L1750.9,1867.1 L1750.9,1865.2 L1750.9,1863.4 L1750.9,1861.6 L1750.9,1859.7 L1750.9,1857.9 L1750.9,1856.1 L1750.9,1854.2 L1750.9,1852.4 L1750.9,1850.6 L1750.9,1848.7 L1750.9,1846.9 L1750.9,1845.1 L1750.9,1843.2 L1750.9,1841.4 L1750.9,1839.6 L1750.9,1837.7 L1750.9,1835.9 L1750.9,1834.1 L1750.9,1832.2 L1750.9,1830.4 L1750.9,1828.6 L1750.9,1826.7 L1750.9,1824.9 L1750.9,1823.1 L1750.9,1821.2 L1750.9,1819.4 L1750.9,1817.6 L1750.9,1815.7 L1750.9,1813.9 L1750.9,1812.1 L1751,1810.2 L1751,1808.4 L1751.1,1806.5 L1751.3,1804.7 L1751.5,1802.9 L1751.8,1801 L1752.3,1799.2 L1753,1797.4 L1753.9,1795.5 L1755.1,1793.7 L1756.8,1791.9 L1759,1790 L1761.7,1788.2 L1765,1786.4 L1768.3,1784.5 L1771.2,1782.7 L1773.6,1780.9 L1775.5,1779 L1777.3,1777.2 L1778.8,1775.4 L1780,1773.5 L1781.2,1771.7 L1782.6,1769.9 L1784.4,1768 L1786.9,1766.2 L1790.3,1764.4 L1794.7,1762.5 L1800,1760.7 L1805.7,1758.9 L1811.4,1757 L1817,1755.2 L1822.7,1753.3 L1828.2,1751.5 L1833.8,1749.7 L1839.5,1747.8 L1845,1746 L1850.1,1744.2 L1854.8,1742.3 L1858.8,1740.5 L1862,1738.7 L1863.6,1736.8 L1863.5,1735 L1861.9,1733.2 L1858.8,1731.3 L1854.1,1729.5 L1847.8,1727.7 L1840.7,1725.8 L1833.7,1724 L1827.4,1722.2 L1821.7,1720.3 L1816.5,1718.5 L1811.7,1716.7 L1807.3,1714.8 L1803.4,1713 L1799.6,1711.2 L1796.1,1709.3 L1792.6,1707.5 L1789.1,1705.7 L1785.7,1703.8 L1782.4,1702 L1779,1700.2 L1775.6,1698.3 L1772.1,1696.5 L1768.5,1694.6 L1765.1,1692.8 L1762.1,1691 L1759.5,1689.1 L1757.5,1687.3 L1755.9,1685.5 L1754.7,1683.6 L1753.8,1681.8 L1753,1680 L1752.5,1678.1 L1752.2,1676.3 L1752,1674.5 L1752,1672.6 L1752.2,1670.8 L1752.6,1669 L1753,1667.1 L1753.5,1665.3 L1754,1663.5 L1754.6,1661.6 L1755,1659.8 L1755.3,1658 L1755.5,1656.1 L1755.5,1654.3 L1755.3,1652.5 L1755,1650.6 L1754.5,1648.8 L1754,1647 L1753.4,1645.1 L1752.9,1643.3 L1752.4,1641.5 L1752,1639.6 L1751.7,1637.8 L1751.4,1635.9 L1751.2,1634.1 L1751.1,1632.3 L1751,1630.4 L1751,1628.6 L1750.9,1626.8 L1750.9,1624.9 L1750.9,1623.1 L1750.9,1621.3 L1750.9,1619.4 L1750.9,1617.6 L1750.9,1615.8 L1750.9,1613.9 L1750.9,1612.1 L1750.9,1610.3 L1750.9,1608.4 L1750.9,1606.6 L1750.9,1604.8 L1750.9,1602.9 L1750.9,1601.1 L1750.9,1599.3" fill="none" stroke="#619CFF" stroke-width="3.4" stroke-linejoin="round"/>
<path d="M1751.3,2057.9 L1751.5,2056 L1751.6,2054.2 L1751.8,2052.4 L1752.1,2050.5 L1752.4,2048.7 L1752.7,2046.9 L1753,2045 L1753.4,2043.2 L1753.9,2041.4 L1754.4,2039.5 L1754.8,2037.7 L1755.3,2035.8 L1755.8,2034 L1756.3,2032.2 L1756.7,2030.3 L1757.1,2028.5 L1757.4,2026.7 L1757.6,2024.8 L1757.8,2023 L1757.8,2021.2 L1757.8,2019.3 L1757.6,2017.5 L1757.4,2015.7 L1757.1,2013.8 L1756.7,2012 L1756.3,2010.2 L1755.8,2008.3 L1755.3,2006.5 L1754.8,2004.7 L1754.4,2002.8 L1753.9,2001 L1753.4,1999.2 L1753,1997.3 L1752.7,1995.5 L1752.4,1993.7 L1752.1,1991.8 L1751.8,1990 L1751.6,1988.2 L1751.5,1986.3 L1751.3,1984.5 L1751.2,1982.6 L1751.1,1980.8 L1751.1,1979 L1751,1977.1 L1751,1975.3 L1751,1973.5 L1750.9,1971.6 L1750.9,1969.8 L1750.9,1968 L1750.9,1966.1 L1750.9,1964.3 L1750.9,1962.5 L1750.9,1960.6 L1750.9,1958.8 L1750.9,1957 L1750.9,1955.1 L1750.9,1953.3 L1750.9,1951.5 L1750.9,1949.6 L1750.9,1947.8 L1750.9,1946 L1750.9,1944.1 L1750.9,1942.3 L1750.9,1940.5 L1750.9,1938.6 L1750.9,1936.8 L1750.9,1935 L1750.9,1933.1 L1750.9,1931.3 L1750.9,1929.5 L1750.9,1927.6 L1750.9,1925.8 L1750.9,1923.9 L1750.9,1922.1 L1750.9,1920.3 L1750.9,1918.4 L1750.9,1916.6 L1750.9,1914.8 L1750.9,1912.9 L1750.9,1911.1 L1750.9,1909.3 L1750.9,1907.4 L1750.9,1905.6 L1750.9,1903.8 L1750.9,1901.9 L1750.9,1900.1 L1750.9,1898.3 L1750.9,1896.4 L1750.9,1894.6 L1750.9,1892.8 L1750.9,1890.9 L1750.9,1889.1 L1750.9,1887.3 L1750.9,1885.4 L1750.9,1883.6 L1750.9,1881.8 L1750.9,1879.9 L1750.9,1878.1 L1750.9,1876.3 L1750.9,1874.4 L1751,1872.6 L1751.1,1870.8 L1751.4,1868.9 L1751.7,1867.1 L1752.1,1865.2 L1752.6,1863.4 L1753.2,1861.6 L1753.9,1859.7 L1754.7,1857.9 L1755.7,1856.1 L1756.8,1854.2 L1758.2,1852.4 L1759.7,1850.6 L1761.4,1848.7 L1763.1,1846.9 L1764.8,1845.1 L1766.5,1843.2 L1768.4,1841.4 L1770.5,1839.6 L1772.9,1837.7 L1775.7,1835.9 L1778.8,1834.1 L1782.1,1832.2 L1785.5,1830.4 L1789.1,1828.6 L1792.7,1826.7 L1796.5,1824.9 L1800.3,1823.1 L1804.3,1821.2 L1808.4,1819.4 L1812.8,1817.6 L1816.8,1815.7 L1820,1813.9 L1822,1812.1 L1823.2,1810.2 L1824.1,1808.4 L1824.7,1806.5 L1825,1804.7 L1825,1802.9 L1824.8,1801 L1824.3,1799.2 L1823.8,1797.4 L1823.1,1795.5 L1822.2,1793.7 L1821.2,1791.9 L1820.1,1790 L1819.2,1788.2 L1818.8,1786.4 L1818.6,1784.5 L1818.3,1782.7 L1817.6,1780.9 L1816.4,1779 L1814.3,1777.2 L1811.8,1775.4 L1809.4,1773.5 L1807.3,1771.7 L1805.1,1769.9 L1802.7,1768 L1799.8,1766.2 L1796.5,1764.4 L1793,1762.5 L1789.5,1760.7 L1786.3,1758.9 L1783.2,1757 L1780.3,1755.2 L1777.5,1753.3 L1775,1751.5 L1772.7,1749.7 L1770.6,1747.8 L1768.7,1746 L1766.9,1744.2 L1765.2,1742.3 L1763.5,1740.5 L1761.9,1738.7 L1760.4,1736.8 L1759,1735 L1757.7,1733.2 L1756.6,1731.3 L1755.5,1729.5 L1754.6,1727.7 L1753.8,1725.8 L1753.2,1724 L1752.6,1722.2 L1752.1,1720.3 L1751.7,1718.5 L1751.3,1716.7 L1751.1,1714.8 L1751,1713 L1750.9,1711.2 L1750.9,1709.3 L1750.9,1707.5 L1750.9,1705.7 L1750.9,1703.8 L1750.9,1702 L1750.9,1700.2 L1750.9,1698.3 L1750.9,1696.5 L1750.9,1694.6 L1750.9,1692.8 L1750.9,1691 L1750.9,1689.1 L1750.9,1687.3 L1750.9,1685.5 L1750.9,1683.6 L1750.9,1681.8 L1750.9,1680 L1750.9,1678.1 L1750.9,1676.3 L1750.9,1674.5 L1750.9,1672.6 L1750.9,1670.8 L1750.9,1669 L1750.9,1667.1 L1750.9,1665.3 L1750.9,1663.5 L1750.9,1661.6 L1750.9,1659.8 L1750.9,1658 L1750.9,1656.1 L1750.9,1654.3 L1750.9,1652.5 L1750.9,1650.6 L1750.9,1648.8 L1750.9,1647 L1750.9,1645.1 L1750.9,1643.3 L1750.9,1641.5 L1750.9,1639.6 L1750.9,1637.8 L1750.9,1635.9 L1750.9,1634.1 L1750.9,1632.3 L1750.9,1630.4 L1750.9,1628.6 L1750.9,1626.8 L1750.9,1624.9 L1750.9,1623.1 L1750.9,1621.3 L1750.9,1619.4 L1750.9,1617.6 L1750.9,1615.8 L1750.9,1613.9 L1750.9,1612.1 L1750.9,1610.3 L1750.9,1608.4 L1750.9,1606.6 L1750.9,1604.8 L1750.9,1602.9 L1750.9,1601.1 L1750.9,1599.3" fill="none" stroke="#F8766D" stroke-width="3.4" stroke-linejoin="round"/>
<clipPath id="clip5"><rect x="1068.4" y="1577.3" width="675.5" height="502.7"/></clipPath>
<g><line x1="1159.45" y1="1577.3" x2="1159.45" y2="2080" stroke="#EBEBEB" stroke-width="1.6"/><line x1="1068.4" y1="2012" x2="1743.9" y2="2012" stroke="#EBEBEB" stroke-width="1.6"/><line x1="1282.59" y1="1577.3" x2="1282.59" y2="2080" stroke="#EBEBEB" stroke-width="1.6"/><line x1="1068.4" y1="1920.28" x2="1743.9" y2="1920.28" stroke="#EBEBEB" stroke-width="1.6"/><line x1="1405.73" y1="1577.3" x2="1405.73" y2="2080" stroke="#EBEBEB" stroke-width="1.6"/><line x1="1068.4" y1="1828.56" x2="1743.9" y2="1828.56" stroke="#EBEBEB" stroke-width="1.6"/><line x1="1528.87" y1="1577.3" x2="1528.87" y2="2080" stroke="#EBEBEB" stroke-width="1.6"/><line x1="1068.4" y1="1736.84" x2="1743.9" y2="1736.84" stroke="#EBEBEB" stroke-width="1.6"/><line x1="1652.01" y1="1577.3" x2="1652.01" y2="2080" stroke="#EBEBEB" stroke-width="1.6"/><line x1="1068.4" y1="1645.12" x2="1743.9" y2="1645.12" stroke="#EBEBEB" stroke-width="1.6"/><line x1="1097.88" y1="1577.3" x2="1097.88" y2="2080" stroke="#EBEBEB" stroke-width="3.0"/><line x1="1068.4" y1="2057.86" x2="1743.9" y2="2057.86" stroke="#EBEBEB" stroke-width="3.0"/><line x1="1221.02" y1="1577.3" x2="1221.02" y2="2080" stroke="#EBEBEB" stroke-width="3.0"/><line x1="1068.4" y1="1966.14" x2="1743.9" y2="1966.14" stroke="#EBEBEB" stroke-width="3.0"/><line x1="1344.16" y1="1577.3" x2="1344.16" y2="2080" stroke="#EBEBEB" stroke-width="3.0"/><line x1="1068.4" y1="1874.42" x2="1743.9" y2="1874.42" stroke="#EBEBEB" stroke-width="3.0"/><line x1="1467.3" y1="1577.3" x2="1467.3" y2="2080" stroke="#EBEBEB" stroke-width="3.0"/><line x1="1068.4" y1="1782.7" x2="1743.9" y2="1782.7" stroke="#EBEBEB" stroke-width="3.0"/><line x1="1590.44" y1="1577.3" x2="1590.44" y2="2080" stroke="#EBEBEB" stroke-width="3.0"/><line x1="1068.4" y1="1690.98" x2="1743.9" y2="1690.98" stroke="#EBEBEB" stroke-width="3.0"/><line x1="1713.58" y1="1577.3" x2="1713.58" y2="2080" stroke="#EBEBEB" stroke-width="3.0"/><line x1="1068.4" y1="1599.26" x2="1743.9" y2="1599.26" stroke="#EBEBEB" stroke-width="3.0"/></g>
<g fill="#000000" font-size="41" transform="translate(0 1705.58) scale(1 1.045) translate(0 -1705.58)"><text x="1151.62" y="1705.58" font-style="italic">r</text><text transform="translate(1176.82 1709.23) scale(1.16 1)" font-family="Liberation Serif">=</text><text x="1211.02" y="1705.58">0.95</text></g>
<g fill="#EE0000" font-size="41" transform="translate(0 1778.96) scale(1 1.045) translate(0 -1778.96)"><text x="1213.19" y="1778.96" font-style="italic">r</text><text transform="translate(1238.39 1782.61) scale(1.16 1)" font-family="Liberation Serif">=</text><text x="1272.59" y="1778.96">0.97</text></g>
<g fill="#00CD00" font-size="41" transform="translate(0 1687.24) scale(1 1.045) translate(0 -1687.24)"><text x="1367.11" y="1687.24" font-style="italic">r</text><text transform="translate(1392.31 1690.89) scale(1.16 1)" font-family="Liberation Serif">=</text><text x="1426.51" y="1687.24">0.85</text></g>
<g fill="#0000EE" font-size="41" transform="translate(0 1632.2) scale(1 1.045) translate(0 -1632.2)"><text x="1521.04" y="1632.2" font-style="italic">r</text><text transform="translate(1546.24 1635.85) scale(1.16 1)" font-family="Liberation Serif">=</text><text x="1580.44" y="1632.2">0.94</text></g>
<g clip-path="url(#clip5)">
<g><circle cx="1456.8" cy="1772.8" r="8.2" fill="#F8766D"/><circle cx="1439.1" cy="1785.3" r="8.2" fill="#F8766D"/><circle cx="1475.6" cy="1786.4" r="8.2" fill="#F8766D"/><circle cx="1459.9" cy="1803.1" r="8.2" fill="#F8766D"/><circle cx="1506.9" cy="1765.5" r="8.2" fill="#F8766D"/><circle cx="1438.0" cy="1809.3" r="8.2" fill="#F8766D"/><circle cx="1484.0" cy="1751.9" r="8.2" fill="#00BA38"/><circle cx="1492.0" cy="1751.9" r="8.2" fill="#00BA38"/><circle cx="1472.0" cy="1758.9" r="8.2" fill="#00BA38"/><circle cx="1480.0" cy="1758.9" r="8.2" fill="#00BA38"/><circle cx="1488.0" cy="1758.9" r="8.2" fill="#00BA38"/><circle cx="1468.0" cy="1765.8" r="8.2" fill="#00BA38"/><circle cx="1476.0" cy="1765.8" r="8.2" fill="#00BA38"/><circle cx="1484.0" cy="1765.8" r="8.2" fill="#00BA38"/><circle cx="1448.0" cy="1772.7" r="8.2" fill="#00BA38"/><circle cx="1456.0" cy="1772.7" r="8.2" fill="#00BA38"/><circle cx="1464.0" cy="1772.7" r="8.2" fill="#00BA38"/><circle cx="1472.0" cy="1772.7" r="8.2" fill="#00BA38"/><circle cx="1480.0" cy="1772.7" r="8.2" fill="#00BA38"/><circle cx="1428.0" cy="1779.6" r="8.2" fill="#00BA38"/><circle cx="1436.0" cy="1779.6" r="8.2" fill="#00BA38"/><circle cx="1444.0" cy="1779.6" r="8.2" fill="#00BA38"/><circle cx="1452.0" cy="1779.6" r="8.2" fill="#00BA38"/><circle cx="1460.0" cy="1779.6" r="8.2" fill="#00BA38"/><circle cx="1468.0" cy="1779.6" r="8.2" fill="#00BA38"/><circle cx="1408.0" cy="1786.6" r="8.2" fill="#00BA38"/><circle cx="1416.0" cy="1786.6" r="8.2" fill="#00BA38"/><circle cx="1424.0" cy="1786.6" r="8.2" fill="#00BA38"/><circle cx="1432.0" cy="1786.6" r="8.2" fill="#00BA38"/><circle cx="1440.0" cy="1786.6" r="8.2" fill="#00BA38"/><circle cx="1448.0" cy="1786.6" r="8.2" fill="#00BA38"/><circle cx="1456.0" cy="1786.6" r="8.2" fill="#00BA38"/><circle cx="1464.0" cy="1786.6" r="8.2" fill="#00BA38"/><circle cx="1404.0" cy="1793.5" r="8.2" fill="#00BA38"/><circle cx="1412.0" cy="1793.5" r="8.2" fill="#00BA38"/><circle cx="1420.0" cy="1793.5" r="8.2" fill="#00BA38"/><circle cx="1428.0" cy="1793.5" r="8.2" fill="#00BA38"/><circle cx="1436.0" cy="1793.5" r="8.2" fill="#00BA38"/><circle cx="1444.0" cy="1793.5" r="8.2" fill="#00BA38"/><circle cx="1452.0" cy="1793.5" r="8.2" fill="#00BA38"/><circle cx="1408.0" cy="1800.4" r="8.2" fill="#00BA38"/><circle cx="1416.0" cy="1800.4" r="8.2" fill="#00BA38"/><circle cx="1424.0" cy="1800.4" r="8.2" fill="#00BA38"/><circle cx="1432.0" cy="1800.4" r="8.2" fill="#00BA38"/><circle cx="1420.0" cy="1807.4" r="8.2" fill="#00BA38"/><circle cx="1400.0" cy="1790.0" r="8.2" fill="#00BA38"/><circle cx="1420.0" cy="1780.0" r="8.2" fill="#00BA38"/><circle cx="1450.0" cy="1772.0" r="8.2" fill="#00BA38"/><circle cx="1470.0" cy="1760.0" r="8.2" fill="#00BA38"/><circle cx="1490.0" cy="1745.0" r="8.2" fill="#00BA38"/><circle cx="1500.0" cy="1752.0" r="8.2" fill="#00BA38"/><circle cx="1480.0" cy="1775.0" r="8.2" fill="#00BA38"/><circle cx="1460.0" cy="1790.0" r="8.2" fill="#00BA38"/><circle cx="1440.0" cy="1800.0" r="8.2" fill="#00BA38"/><circle cx="1420.0" cy="1808.0" r="8.2" fill="#00BA38"/><circle cx="1405.0" cy="1805.0" r="8.2" fill="#00BA38"/><circle cx="1552.0" cy="1706.9" r="8.2" fill="#619CFF"/><circle cx="1560.0" cy="1706.9" r="8.2" fill="#619CFF"/><circle cx="1540.0" cy="1713.9" r="8.2" fill="#619CFF"/><circle cx="1548.0" cy="1713.9" r="8.2" fill="#619CFF"/><circle cx="1556.0" cy="1713.9" r="8.2" fill="#619CFF"/><circle cx="1528.0" cy="1720.8" r="8.2" fill="#619CFF"/><circle cx="1536.0" cy="1720.8" r="8.2" fill="#619CFF"/><circle cx="1544.0" cy="1720.8" r="8.2" fill="#619CFF"/><circle cx="1516.0" cy="1727.7" r="8.2" fill="#619CFF"/><circle cx="1524.0" cy="1727.7" r="8.2" fill="#619CFF"/><circle cx="1532.0" cy="1727.7" r="8.2" fill="#619CFF"/><circle cx="1540.0" cy="1727.7" r="8.2" fill="#619CFF"/><circle cx="1512.0" cy="1734.6" r="8.2" fill="#619CFF"/><circle cx="1520.0" cy="1734.6" r="8.2" fill="#619CFF"/><circle cx="1528.0" cy="1734.6" r="8.2" fill="#619CFF"/><circle cx="1508.0" cy="1741.6" r="8.2" fill="#619CFF"/><circle cx="1516.0" cy="1741.6" r="8.2" fill="#619CFF"/><circle cx="1500.0" cy="1738.0" r="8.2" fill="#619CFF"/><circle cx="1520.0" cy="1725.0" r="8.2" fill="#619CFF"/><circle cx="1545.0" cy="1710.0" r="8.2" fill="#619CFF"/><circle cx="1562.0" cy="1700.0" r="8.2" fill="#619CFF"/><circle cx="1568.0" cy="1708.0" r="8.2" fill="#619CFF"/><circle cx="1545.0" cy="1725.0" r="8.2" fill="#619CFF"/><circle cx="1520.0" cy="1742.0" r="8.2" fill="#619CFF"/><circle cx="1505.0" cy="1748.0" r="8.2" fill="#619CFF"/><circle cx="1625.5" cy="1655.0" r="8.2" fill="#619CFF"/><circle cx="1560.3" cy="1693.6" r="8.2" fill="#619CFF"/><circle cx="1573.9" cy="1703.0" r="8.2" fill="#619CFF"/><circle cx="1563.4" cy="1718.6" r="8.2" fill="#619CFF"/><circle cx="1544.7" cy="1709.3" r="8.2" fill="#619CFF"/><circle cx="1532.1" cy="1718.6" r="8.2" fill="#619CFF"/><circle cx="1519.6" cy="1727.0" r="8.2" fill="#619CFF"/><circle cx="1504.0" cy="1730.1" r="8.2" fill="#619CFF"/><circle cx="1521.7" cy="1746.8" r="8.2" fill="#619CFF"/><circle cx="1516.5" cy="1757.2" r="8.2" fill="#619CFF"/><circle cx="1504.0" cy="1749.9" r="8.2" fill="#619CFF"/><circle cx="1467.2" cy="1745.7" r="8.2" fill="#619CFF"/><circle cx="1502.7" cy="1726.9" r="8.2" fill="#619CFF"/><circle cx="1515.2" cy="1723.8" r="8.2" fill="#619CFF"/><circle cx="1502.7" cy="1746.7" r="8.2" fill="#619CFF"/><circle cx="1512.1" cy="1755.1" r="8.2" fill="#619CFF"/><circle cx="1491.2" cy="1767.6" r="8.2" fill="#619CFF"/><circle cx="1552.0" cy="1729.1" r="8.2" fill="#00BA38"/><circle cx="1536.3" cy="1740.5" r="8.2" fill="#00BA38"/><circle cx="1529.0" cy="1747.8" r="8.2" fill="#00BA38"/><circle cx="1491.5" cy="1734.3" r="8.2" fill="#00BA38"/><circle cx="1508.2" cy="1739.5" r="8.2" fill="#00BA38"/><circle cx="1495.6" cy="1770.8" r="8.2" fill="#00BA38"/><circle cx="1480.0" cy="1744.7" r="8.2" fill="#00BA38"/><circle cx="1357.7" cy="1819.7" r="8.2" fill="#00BA38"/><circle cx="1367.1" cy="1812.4" r="8.2" fill="#00BA38"/><circle cx="1397.4" cy="1797.8" r="8.2" fill="#00BA38"/><circle cx="1409.9" cy="1775.9" r="8.2" fill="#00BA38"/><circle cx="1425.5" cy="1773.9" r="8.2" fill="#00BA38"/><circle cx="1440.1" cy="1770.7" r="8.2" fill="#00BA38"/><circle cx="1450.5" cy="1767.6" r="8.2" fill="#00BA38"/><circle cx="1413.0" cy="1794.7" r="8.2" fill="#00BA38"/><circle cx="1425.5" cy="1788.5" r="8.2" fill="#00BA38"/><circle cx="1454.7" cy="1794.7" r="8.2" fill="#00BA38"/><circle cx="1408.8" cy="1815.6" r="8.2" fill="#00BA38"/><circle cx="1468.3" cy="1792.6" r="8.2" fill="#00BA38"/><circle cx="1465.1" cy="1753.0" r="8.2" fill="#00BA38"/><circle cx="1475.6" cy="1744.7" r="8.2" fill="#00BA38"/><circle cx="1486.0" cy="1758.2" r="8.2" fill="#00BA38"/><circle cx="1496.4" cy="1771.8" r="8.2" fill="#00BA38"/><circle cx="1486.0" cy="1779.1" r="8.2" fill="#00BA38"/><circle cx="1401.5" cy="1838.5" r="8.2" fill="#F8766D"/><circle cx="1407.8" cy="1828.1" r="8.2" fill="#F8766D"/><circle cx="1417.2" cy="1823.9" r="8.2" fill="#F8766D"/><circle cx="1398.4" cy="1808.3" r="8.2" fill="#F8766D"/><circle cx="1326.7" cy="1844.9" r="8.2" fill="#F8766D"/><circle cx="1130.9" cy="2022.2" r="8.2" fill="#F8766D"/><circle cx="1431.8" cy="1818.7" r="8.2" fill="#00BA38"/><circle cx="1413.0" cy="1808.0" r="8.2" fill="#00BA38"/><circle cx="1450.0" cy="1797.0" r="8.2" fill="#00BA38"/></g>
<path d="M1132.0,1998.7 L1140.3,1990.5 L1148.7,1982.7 L1157.0,1975.3 L1165.4,1968.5 L1173.7,1961.9 L1182.0,1955.6 L1190.4,1949.2 L1198.7,1943.0 L1207.1,1936.8 L1215.4,1930.7 L1223.7,1924.6 L1232.1,1918.5 L1240.4,1912.2 L1248.7,1905.9 L1257.1,1899.8 L1265.4,1893.9 L1273.8,1888.1 L1282.1,1882.5 L1290.4,1877.0 L1298.8,1871.5 L1307.1,1866.1 L1315.5,1860.8 L1323.8,1855.7 L1332.1,1850.7 L1340.5,1846.0 L1348.8,1841.4 L1357.2,1837.0 L1365.5,1832.7 L1373.8,1828.5 L1382.2,1824.4 L1390.5,1820.3 L1398.8,1816.2 L1407.2,1812.1 L1415.5,1808.0 L1423.9,1803.8 L1432.2,1799.5 L1440.5,1794.9 L1448.9,1790.1 L1457.2,1785.0 L1465.6,1779.6 L1473.9,1773.5 L1482.2,1766.9 L1490.6,1760.2 L1498.9,1753.3 L1507.3,1746.3 L1515.6,1739.3 L1523.9,1732.2 L1532.3,1724.9 L1540.6,1717.4 L1548.9,1709.5 L1557.3,1700.8 L1565.6,1692.2 L1574.0,1684.2 L1582.3,1677.1 L1590.6,1670.5 L1599.0,1663.9 L1607.3,1656.8 L1615.7,1649.0 L1624.0,1641.0 L1624.0,1671.0 L1615.7,1674.9 L1607.3,1679.1 L1599.0,1683.6 L1590.6,1688.3 L1582.3,1693.3 L1574.0,1698.9 L1565.6,1705.7 L1557.3,1713.4 L1548.9,1721.4 L1540.6,1728.8 L1532.3,1735.8 L1523.9,1742.5 L1515.6,1749.2 L1507.3,1755.8 L1498.9,1762.4 L1490.6,1768.9 L1482.2,1775.4 L1473.9,1781.7 L1465.6,1787.7 L1457.2,1793.1 L1448.9,1798.1 L1440.5,1802.9 L1432.2,1807.6 L1423.9,1812.0 L1415.5,1816.4 L1407.2,1820.6 L1398.8,1825.0 L1390.5,1829.4 L1382.2,1833.7 L1373.8,1838.2 L1365.5,1842.8 L1357.2,1847.5 L1348.8,1852.3 L1340.5,1857.4 L1332.1,1862.6 L1323.8,1868.3 L1315.5,1874.5 L1307.1,1881.1 L1298.8,1887.7 L1290.4,1894.1 L1282.1,1900.6 L1273.8,1907.1 L1265.4,1913.8 L1257.1,1920.7 L1248.7,1927.7 L1240.4,1934.9 L1232.1,1942.2 L1223.7,1949.4 L1215.4,1956.5 L1207.1,1963.6 L1198.7,1970.8 L1190.4,1978.2 L1182.0,1985.7 L1173.7,1993.3 L1165.4,2001.3 L1157.0,2009.7 L1148.7,2018.8 L1140.3,2028.5 L1132.0,2038.7 Z" fill="#999999" fill-opacity="0.4"/><path d="M1132.0,2018.7 L1138.2,2011.8 L1144.5,2005.1 L1150.7,1998.7 L1156.9,1992.6 L1163.1,1986.9 L1169.4,1981.3 L1175.6,1976.0 L1181.8,1970.8 L1188.1,1965.6 L1194.3,1960.5 L1200.5,1955.4 L1206.7,1950.5 L1213.0,1945.5 L1219.2,1940.6 L1225.4,1935.7 L1231.6,1930.7 L1237.9,1925.6 L1244.1,1920.6 L1250.3,1915.5 L1256.6,1910.6 L1262.8,1905.8 L1269.0,1901.1 L1275.2,1896.5 L1281.5,1892.0 L1287.7,1887.5 L1293.9,1883.1 L1300.2,1878.6 L1306.4,1874.1 L1312.6,1869.7 L1318.8,1865.4 L1325.1,1861.2 L1331.3,1857.2 L1337.5,1853.4 L1343.7,1849.8 L1350.0,1846.2 L1356.2,1842.8 L1362.4,1839.4 L1368.7,1836.0 L1374.9,1832.8 L1381.1,1829.6 L1387.3,1826.4 L1393.6,1823.3 L1399.8,1820.1 L1406.0,1816.9 L1412.3,1813.8 L1418.5,1810.7 L1424.7,1807.5 L1430.9,1804.2 L1437.2,1800.8 L1443.4,1797.3 L1449.6,1793.7 L1455.8,1789.9 L1462.1,1785.9 L1468.3,1781.7 L1474.5,1777.1 L1480.8,1772.3 L1487.0,1767.4 L1493.2,1762.5 L1499.4,1757.5 L1505.7,1752.4 L1511.9,1747.3 L1518.1,1742.1 L1524.4,1737.0 L1530.6,1731.8 L1536.8,1726.4 L1543.0,1721.0 L1549.3,1715.1 L1555.5,1708.9 L1561.7,1702.7 L1567.9,1696.8 L1574.2,1691.4 L1580.4,1686.6 L1586.6,1682.1 L1592.9,1677.9 L1599.1,1673.7 L1605.3,1669.4 L1611.5,1664.9 L1617.8,1660.5 L1624.0,1656.0" fill="none" stroke="#ABABAB" stroke-width="8" stroke-linejoin="round"/>
<line x1="1467.3" y1="1577.3" x2="1467.3" y2="2080" stroke="#B3B3B3" stroke-width="3.0"/>
<line x1="1068.4" y1="1782.7" x2="1743.9" y2="1782.7" stroke="#B3B3B3" stroke-width="3.0"/>
<line x1="974.74" y1="2149.58" x2="1836.72" y2="1507.54" stroke="#B3B3B3" stroke-width="3.0"/>
</g>
<rect x="1068.4" y="1577.3" width="675.5" height="502.7" fill="none" stroke="#111" stroke-width="2"/>
<path d="M1097.88 2080V2090.5M1068.4 2057.86H1057.9M1221.02 2080V2090.5M1068.4 1966.14H1057.9M1344.16 2080V2090.5M1068.4 1874.42H1057.9M1467.3 2080V2090.5M1068.4 1782.7H1057.9M1590.44 2080V2090.5M1068.4 1690.98H1057.9M1713.58 2080V2090.5M1068.4 1599.26H1057.9" stroke="#1E1E1E" stroke-width="2.9" fill="none"/>
<g fill="#262626" font-size="32.8"><text x="1097.88" y="2123.6" text-anchor="middle">-3</text><text x="1048.6" y="2069.56" text-anchor="end">-3</text><text x="1221.02" y="2123.6" text-anchor="middle">-2</text><text x="1048.6" y="1977.84" text-anchor="end">-2</text><text x="1344.16" y="2123.6" text-anchor="middle">-1</text><text x="1048.6" y="1886.12" text-anchor="end">-1</text><text x="1467.3" y="2123.6" text-anchor="middle">0</text><text x="1048.6" y="1794.4" text-anchor="end">0</text><text x="1590.44" y="2123.6" text-anchor="middle">1</text><text x="1048.6" y="1702.68" text-anchor="end">1</text><text x="1713.58" y="2123.6" text-anchor="middle">2</text><text x="1048.6" y="1610.96" text-anchor="end">2</text></g>
<text x="1406.15" y="2175.3" text-anchor="middle" font-size="41">Explicit Mean Equation</text>
<text transform="translate(984.1 1911.35) rotate(-90)" font-size="41">f<tspan font-size="28.7" dy="7.9">largetosmall</tspan></text>
<text x="286.5" y="2338.7" font-size="41">original categorization</text>
<circle cx="729.6" cy="2324" r="8.6" fill="#F8766D"/>
<text x="782" y="2335.8" font-size="32.8">antagonistic</text>
<circle cx="1019.9" cy="2324" r="8.6" fill="#00BA38"/>
<text x="1071.6" y="2335.8" font-size="32.8">non-interactive</text>
<circle cx="1352.1" cy="2324" r="8.6" fill="#619CFF"/>
<text x="1404.6" y="2335.8" font-size="32.8">synergistic</text>
</svg>
</body></html>
